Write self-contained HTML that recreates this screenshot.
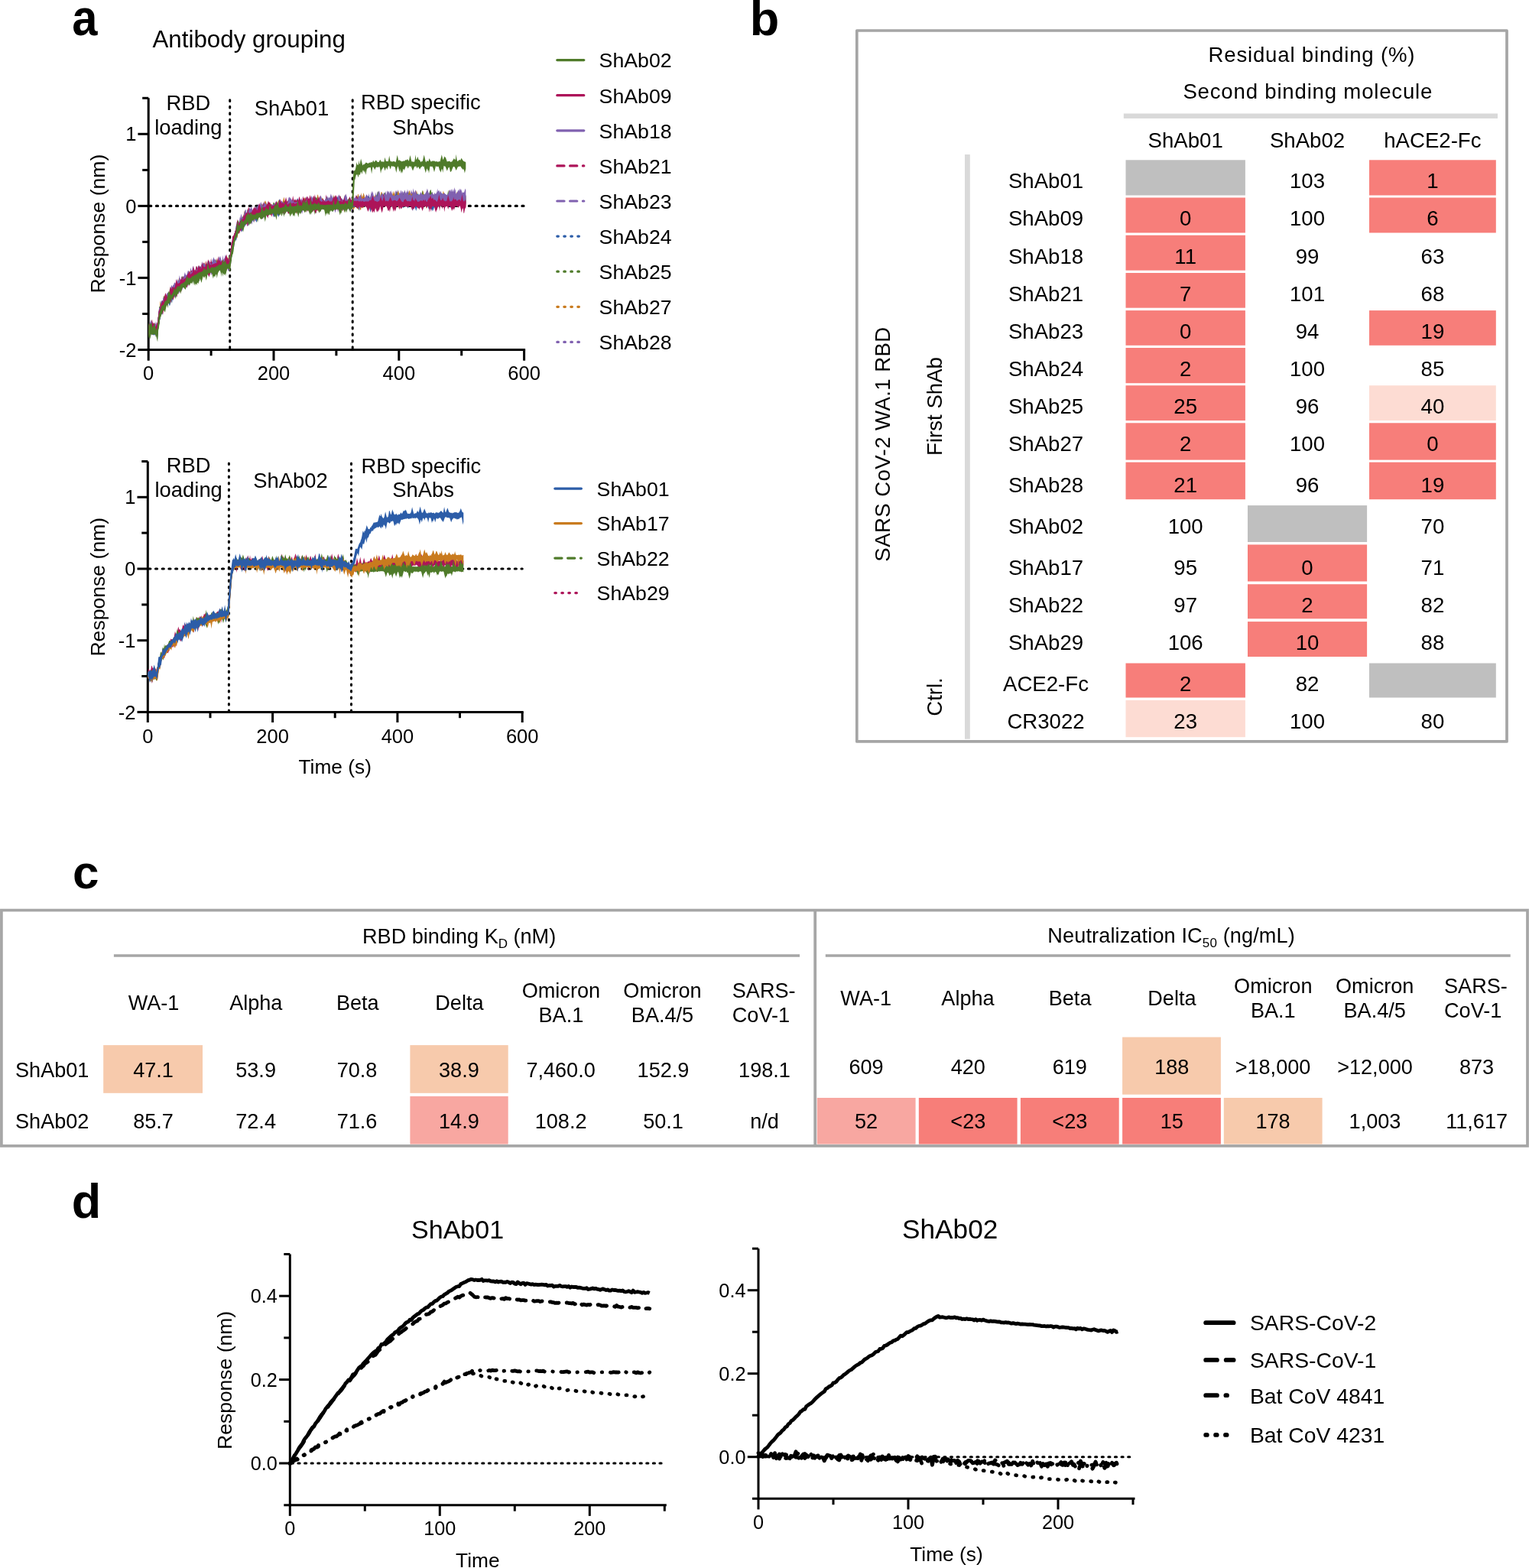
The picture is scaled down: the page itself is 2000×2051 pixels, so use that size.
<!DOCTYPE html>
<html><head><meta charset="utf-8"><title>Figure</title>
<style>html,body{margin:0;padding:0;background:#fff;overflow:hidden;} svg{display:block;}</style></head>
<body><svg width="2000" height="2051" viewBox="0 0 2000 2051" font-family="'Liberation Sans', Arial, Helvetica, sans-serif">
<rect width="2000" height="2051" fill="#fff"/>
<text transform="translate(94.2,46.2) scale(0.905,1)" font-size="66" font-weight="bold">a</text>
<text x="199.5" y="62.0" font-size="31.3" text-anchor="start" fill="#000" >Antibody grouping</text>
<line x1="194.2" y1="128.3" x2="194.2" y2="459.0" stroke="#000" stroke-width="3" />
<line x1="180.4" y1="175.3" x2="194.2" y2="175.3" stroke="#000" stroke-width="3" />
<line x1="180.4" y1="269.4" x2="194.2" y2="269.4" stroke="#000" stroke-width="3" />
<line x1="180.4" y1="363.4" x2="194.2" y2="363.4" stroke="#000" stroke-width="3" />
<line x1="180.4" y1="457.5" x2="194.2" y2="457.5" stroke="#000" stroke-width="3" />
<line x1="186.2" y1="128.3" x2="194.2" y2="128.3" stroke="#000" stroke-width="3" />
<line x1="186.2" y1="222.4" x2="194.2" y2="222.4" stroke="#000" stroke-width="3" />
<line x1="186.2" y1="316.4" x2="194.2" y2="316.4" stroke="#000" stroke-width="3" />
<line x1="186.2" y1="410.5" x2="194.2" y2="410.5" stroke="#000" stroke-width="3" />
<line x1="192.7" y1="457.5" x2="687.1" y2="457.5" stroke="#000" stroke-width="3" />
<line x1="194.2" y1="457.5" x2="194.2" y2="471.7" stroke="#000" stroke-width="3" />
<line x1="358.0" y1="457.5" x2="358.0" y2="471.7" stroke="#000" stroke-width="3" />
<line x1="521.8" y1="457.5" x2="521.8" y2="471.7" stroke="#000" stroke-width="3" />
<line x1="685.6" y1="457.5" x2="685.6" y2="471.7" stroke="#000" stroke-width="3" />
<line x1="276.1" y1="457.5" x2="276.1" y2="465.3" stroke="#000" stroke-width="3" />
<line x1="439.9" y1="457.5" x2="439.9" y2="465.3" stroke="#000" stroke-width="3" />
<line x1="603.7" y1="457.5" x2="603.7" y2="465.3" stroke="#000" stroke-width="3" />
<text x="178.4" y="184.4" font-size="25.5" text-anchor="end" fill="#000" >1</text>
<text x="178.4" y="278.5" font-size="25.5" text-anchor="end" fill="#000" >0</text>
<text x="178.4" y="372.6" font-size="25.5" text-anchor="end" fill="#000" >-1</text>
<text x="178.4" y="466.6" font-size="25.5" text-anchor="end" fill="#000" >-2</text>
<text x="194.2" y="496.6" font-size="25.5" text-anchor="middle" fill="#000" >0</text>
<text x="358.0" y="496.6" font-size="25.5" text-anchor="middle" fill="#000" >200</text>
<text x="521.8" y="496.6" font-size="25.5" text-anchor="middle" fill="#000" >400</text>
<text x="685.6" y="496.6" font-size="25.5" text-anchor="middle" fill="#000" >600</text>
<line x1="195.7" y1="269.4" x2="685.6" y2="269.4" stroke="#000" stroke-width="3.1" stroke-dasharray="2.1 6.6" stroke-linecap="round"/>
<line x1="300.7" y1="130.7" x2="300.7" y2="456.5" stroke="#000" stroke-width="3" stroke-dasharray="1.7 6.8" stroke-linecap="round"/>
<line x1="461.2" y1="130.7" x2="461.2" y2="456.5" stroke="#000" stroke-width="3" stroke-dasharray="1.7 6.8" stroke-linecap="round"/>
<path d="M194.2 427.2 194.9 426.5 195.6 424.6 196.3 422.7 197 420.9 197.7 422.8 198.4 424.8 199.1 424.8 199.8 424.3 200.5 426.4 201.2 427.2 201.9 427.7 202.6 428.7 203.3 427.6 204 427.1 204.7 426.1 205.4 427.4 206.1 426.4 206.8 418.2 207.5 409.9 208.2 406.4 208.9 404.8 209.6 402.7 210.3 399.8 211 396.9 211.7 394.2 212.4 394.6 213.1 394.9 213.8 395.3 214.5 393.9 215.2 391 215.9 384.4 216.6 389 217.3 388.3 218 385.6 218.7 383 219.4 383.7 220.1 384.4 220.8 385.2 221.5 384.1 222.2 384.2 222.9 382.8 223.6 381.8 224.3 380.7 225 377.9 225.7 375 226.4 372.2 227.1 373.4 227.8 374.7 228.5 376 229.2 375.5 229.9 375 230.6 375 231.3 369.5 232 364.2 232.7 368.1 233.4 370.8 234.1 370.7 234.8 370.1 235.5 370.2 236.2 368.6 236.9 368.6 237.6 368 238.3 367.8 239 367.1 239.7 365.7 240.4 362.5 241.1 359.3 241.8 356.1 242.5 358.2 243.2 360.1 243.9 361.4 244.6 363.2 245.3 361.6 246 359.8 246.7 358.1 247.4 357.4 248.1 355.8 248.8 354.2 249.5 349.8 250.2 353.4 250.9 356.9 251.6 356.9 252.3 357 253 356.7 253.7 355.5 254.4 353 255.1 354.7 255.8 354.9 256.5 354.7 257.2 354.4 257.9 352 258.6 349.6 259.3 347.3 260 348.9 260.7 350.6 261.4 352.3 262.1 351.5 262.8 351.7 263.5 351.7 264.2 351.2 264.9 350.7 265.6 350.7 266.3 349.9 267 350.5 267.7 350.1 268.4 349.1 269.1 349.3 269.8 347.4 270.5 345.6 271.2 343.7 271.9 345.1 272.6 346.4 273.3 347.8 274 347.7 274.7 347.5 275.4 346.5 276.1 347.4 276.8 346.1 277.5 347.1 278.2 346.7 278.9 345.8 279.6 345.3 280.3 343.5 281 341.4 281.7 339.4 282.4 341.1 283.1 340.8 283.8 338.6 284.5 340.4 285.2 342.2 285.9 344.1 286.6 343.6 287.3 343.6 288 342.7 288.7 343.4 289.4 343.6 290.1 343.4 290.8 339.7 291.5 333.5 292.2 339.4 292.9 339.4 293.6 337.6 294.3 339.1 295 340.5 295.7 341.9 296.4 341.7 297.1 341.7 297.8 341.9 298.5 341.2 299.2 341.3 299.9 338.9 300.6 336.1 301.3 328.1 302 325.6 302.7 323.5 303.4 321.8 304.1 317.9 304.8 315.8 305.5 311.7 306.2 308.1 306.9 306.7 307.6 303 308.3 298.5 309 294.3 309.7 290.1 310.4 291 311.1 292 311.8 293.1 312.5 292.5 313.2 288.1 313.9 283.4 314.6 286.1 315.3 289.6 316 287.7 316.7 288 317.4 286.4 318.1 285.2 318.8 284.2 319.5 282.9 320.2 281.4 320.9 275.3 321.6 273.8 322.3 277.8 323 278 323.7 272.7 324.4 277 325.1 281.1 325.8 279.7 326.5 279.8 327.2 279.3 327.9 278.6 328.6 278.5 329.3 277.9 330 278.7 330.7 278.3 331.4 276.9 332.1 277.4 332.8 277.1 333.5 277.1 334.2 274.9 334.9 272.5 335.6 270 336.3 269.8 337 269.7 337.7 266.5 338.4 269.2 339.1 272 339.8 274.4 340.5 272.9 341.2 271.3 341.9 266.7 342.6 270.9 343.3 272.1 344 272.7 344.7 272.7 345.4 272 346.1 271.8 346.8 271.1 347.5 267.7 348.2 264.2 348.9 267.3 349.6 270.4 350.3 271 351 271.2 351.7 270.1 352.4 270.4 353.1 270.2 353.8 269.4 354.5 270.1 355.2 271 355.9 269.9 356.6 270.5 357.3 269 358 269.1 358.7 269.5 359.4 269.1 360.1 268.5 360.8 268.8 361.5 268 362.2 268.6 362.9 267.9 363.6 267.6 364.3 267.4 365 267.6 365.7 266.6 366.4 265.7 367.1 263.9 367.8 265.9 368.5 267.1 369.2 268.1 369.9 267.4 370.6 267.4 371.3 267.2 372 267.4 372.7 266.9 373.4 266.1 374.1 266.9 374.8 266.5 375.5 266.2 376.2 266.5 376.9 265.5 377.6 264.5 378.3 263.5 379 264.3 379.7 265.2 380.4 265.7 381.1 265.8 381.8 266.1 382.5 265.6 383.2 265.9 383.9 266.5 384.6 266.6 385.3 266.1 386 265.3 386.7 266 387.4 263.1 388.1 259.5 388.8 263 389.5 264.7 390.2 263.4 390.9 262.1 391.6 260.7 392.3 262 393 263.2 393.7 262.3 394.4 258.5 395.1 262.2 395.8 262.4 396.5 256.6 397.2 262.3 397.9 264.1 398.6 261.7 399.3 259.4 400 257.1 400.7 259.4 401.4 258.2 402.1 260.8 402.8 263.4 403.5 264 404.2 263.5 404.9 262.8 405.6 260.6 406.3 262.7 407 261.9 407.7 260 408.4 259.3 409.1 256.5 409.8 259.2 410.5 261.9 411.2 263.4 411.9 264.4 412.6 264 413.3 263.3 414 260.5 414.7 257.7 415.4 254.9 416.1 257.7 416.8 260.4 417.5 263.2 418.2 264.6 418.9 264.2 419.6 263.6 420.3 264 421 264.4 421.7 264.4 422.4 262.6 423.1 263.4 423.8 263.6 424.5 262.9 425.2 261.6 425.9 260.3 426.6 260.5 427.3 258.1 428 255.7 428.7 258 429.4 260.4 430.1 262.8 430.8 263.6 431.5 264.1 432.2 263.1 432.9 260.9 433.6 257.8 434.3 260.9 435 263.5 435.7 263.6 436.4 263.9 437.1 264.1 437.8 262.6 438.5 263.1 439.2 264.2 439.9 264.3 440.6 262.7 441.3 259.7 442 255.6 442.7 259.7 443.4 264 444.1 263.4 444.8 264.6 445.5 263.9 446.2 263.5 446.9 263.2 447.6 263.9 448.3 263.6 449 263.3 449.7 263.3 450.4 263.1 451.1 263.4 451.8 263.1 452.5 260.6 453.2 256.9 453.9 260.5 454.6 263.2 455.3 263 456 262.9 456.7 263 457.4 263.2 458.1 263.3 458.8 263.4 459.5 264 460.2 263.2 460.9 262.8 461.6 263.1 462.3 263.2 463 261.8 463.7 259.8 464.4 260.9 465.1 261.5 465.8 259.9 466.5 256 467.2 259.6 467.9 263.4 468.6 262.5 469.3 261.1 470 261.9 470.7 262.3 471.4 261 472.1 259.9 472.8 258.5 473.5 257.6 474.2 258.5 474.9 255.8 475.6 253.1 476.3 255.6 477 258 477.7 258.6 478.4 259.3 479.1 259.9 479.8 258.6 480.5 256.1 481.2 257.8 481.9 256.6 482.6 252.7 483.3 257.4 484 259.9 484.7 258.4 485.4 257.4 486.1 255.9 486.8 254.4 487.5 255.7 488.2 257.1 488.9 258.4 489.6 258.6 490.3 259 491 257.9 491.7 256.7 492.4 255.6 493.1 253.9 493.8 250.3 494.5 253.8 495.2 252 495.9 249.2 496.6 251.8 497.3 254.5 498 257.1 498.7 258 499.4 258.8 500.1 258.5 500.8 258.1 501.5 258.8 502.2 258.2 502.9 257.6 503.6 256.8 504.3 257.5 505 257.5 505.7 254.4 506.4 249.8 507.1 249.5 507.8 253.9 508.5 257.3 509.2 256.5 509.9 255.5 510.6 254.5 511.3 255.4 512 255.2 512.7 256 513.4 256.8 514.1 257.3 514.8 256.9 515.5 257 516.2 254.5 516.9 252.1 517.6 249.7 518.3 249 519 251.4 519.7 250.7 520.4 248.1 521.1 250.7 521.8 253.2 522.5 255.7 523.2 255.4 523.9 252.3 524.6 255.3 525.3 253.7 526 251.6 526.7 249.4 527.4 251.5 528.1 253.6 528.8 255.7 529.5 255 530.2 253.9 530.9 254.9 531.6 255.9 532.3 252.2 533 247.1 533.7 252.1 534.4 249.2 535.1 254 535.8 256.4 536.5 257.6 537.2 253.3 537.9 247.8 538.6 250.7 539.3 251.4 540 253.1 540.7 250 541.4 253.4 542.1 256.2 542.8 255.8 543.5 255.7 544.2 256 544.9 256.4 545.6 256.1 546.3 256 547 255.6 547.7 255.8 548.4 256.3 549.1 256.6 549.8 256.1 550.5 256.2 551.2 256.4 551.9 255.6 552.6 255.1 553.3 254.6 554 254.1 554.7 254.6 555.4 254.6 556.1 255.5 556.8 254.3 557.5 251.6 558.2 249 558.9 246.4 559.6 249 560.3 251.6 561 253.5 561.7 251.2 562.4 249 563.1 251.2 563.8 253.4 564.5 255.1 565.2 255.3 565.9 255.6 566.6 255.3 567.3 256.1 568 254.9 568.7 256 569.4 255.1 570.1 254.3 570.8 253.6 571.5 254.3 572.2 254.9 572.9 254.2 573.6 253 574.3 254.1 575 253.7 575.7 251.6 576.4 249.6 577.1 251.6 577.8 253.7 578.5 255.4 579.2 255.3 579.9 255.6 580.6 254.7 581.3 255.7 582 255 582.7 255.6 583.4 255.7 584.1 255 584.8 254.7 585.5 255.3 586.2 254.7 586.9 254 587.6 254.7 588.3 255.1 589 254.5 589.7 254.7 590.4 255.1 591.1 253.6 591.8 252.1 592.5 250.7 593.2 252.1 593.9 251 594.6 252.5 595.3 253.9 596 254.5 596.7 255.8 597.4 256 598.1 256 598.8 254.6 599.5 255.4 600.2 254.7 600.9 252.1 601.6 249.4 602.3 246.7 603 249.4 603.7 252 604.4 254.7 605.1 255 605.8 254.9 606.5 255.3 607.2 255.6 607.9 255.1 608.6 255.4 609.3 254.4 609.3 261.6 608.6 261.7 607.9 261.8 607.2 261.4 606.5 262.3 605.8 262.5 605.1 261.7 604.4 261.6 603.7 262.1 603 262.5 602.3 262.3 601.6 263 600.9 263.8 600.2 263 599.5 263.8 598.8 266.2 598.1 268.7 597.4 269.9 596.7 267.5 596 265.2 595.3 262.8 594.6 260.9 593.9 264.4 593.2 267.8 592.5 271.1 591.8 267.8 591.1 264.4 590.4 262 589.7 261.2 589 261.7 588.3 260.5 587.6 261.7 586.9 262.1 586.2 261.7 585.5 261.7 584.8 263.5 584.1 266.1 583.4 268.7 582.7 266.1 582 263.5 581.3 263.6 580.6 262.8 579.9 262.1 579.2 261.3 578.5 261.4 577.8 261.7 577.1 260.9 576.4 261.5 575.7 262.5 575 261.4 574.3 262 573.6 264.9 572.9 269.3 572.2 264.9 571.5 265 570.8 267.3 570.1 265.1 569.4 265.2 568.7 267.5 568 265.3 567.3 264.2 566.6 263.1 565.9 263.2 565.2 265.3 564.5 269.4 563.8 265.3 563.1 262.7 562.4 262.3 561.7 262 561 261.3 560.3 262.7 559.6 262.3 558.9 262 558.2 262.4 557.5 262.2 556.8 262.8 556.1 263.5 555.4 266.3 554.7 269.1 554 266.3 553.3 263.5 552.6 262.8 551.9 263.3 551.2 262.3 550.5 263.6 549.8 264.8 549.1 263.6 548.4 262.4 547.7 262.2 547 261.9 546.3 262.4 545.6 263.1 544.9 262.6 544.2 262.1 543.5 261.8 542.8 263.1 542.1 262.9 541.4 263.4 540.7 265.1 540 266.9 539.3 268.6 538.6 266.9 537.9 267.4 537.2 270 536.5 267.5 535.8 265 535.1 263.4 534.4 262.8 533.7 263 533 263.1 532.3 263.2 531.6 264.1 530.9 264.9 530.2 265.8 529.5 265 528.8 264.2 528.1 263.4 527.4 261.9 526.7 263.6 526 264.8 525.3 263.7 524.6 263.4 523.9 263.2 523.2 263.7 522.5 264.2 521.8 264.8 521.1 264.3 520.4 263.8 519.7 263 519 263.5 518.3 263.3 517.6 263.4 516.9 263.6 516.2 263.2 515.5 264.2 514.8 263.1 514.1 263.6 513.4 264.3 512.7 263.3 512 263.9 511.3 263.4 510.6 265.8 509.9 268.9 509.2 271.9 508.5 269 507.8 270.5 507.1 273 506.4 270.6 505.7 268.2 505 265.9 504.3 265.7 503.6 267.4 502.9 269.2 502.2 267.5 501.5 265.9 500.8 264.1 500.1 265.6 499.4 265.3 498.7 264.8 498 265.1 497.3 266.1 496.6 267 495.9 267.9 495.2 267.4 494.5 266.4 493.8 265.5 493.1 264.9 492.4 265.4 491.7 265.1 491 265.7 490.3 265.2 489.6 265.6 488.9 266.6 488.2 267.6 487.5 268.6 486.8 267.7 486.1 267.5 485.4 266.8 484.7 266.6 484 267.5 483.3 268.4 482.6 269.3 481.9 268.5 481.2 267.8 480.5 267.1 479.8 267.7 479.1 266.9 478.4 267.9 477.7 269 477 268.1 476.3 267.3 475.6 267.5 474.9 267.8 474.2 267.7 473.5 267.7 472.8 268.5 472.1 269.7 471.4 271 470.7 272.2 470 271.2 469.3 270.2 468.6 269.1 467.9 268.5 467.2 268.4 466.5 268.8 465.8 268.6 465.1 268.1 464.4 269.2 463.7 269.3 463 269 462.3 269.6 461.6 270.4 460.9 269.9 460.2 270.5 459.5 272.3 458.8 274 458.1 275.8 457.4 274 456.7 272.3 456 270.5 455.3 269.4 454.6 269.3 453.9 269.9 453.2 271.2 452.5 272.5 451.8 271.2 451.1 271.8 450.4 276 449.7 271.8 449 270.4 448.3 271.6 447.6 272.8 446.9 272.8 446.2 274 445.5 275.8 444.8 278.2 444.1 275.8 443.4 273.4 442.7 272.9 442 271.9 441.3 272.6 440.6 274.2 439.9 272.8 439.2 275.7 438.5 278.5 437.8 275.7 437.1 272.9 436.4 270.5 435.7 270.7 435 271.2 434.3 271.8 433.6 271.4 432.9 270.8 432.2 270.3 431.5 274.6 430.8 279.1 430.1 274.7 429.4 276.5 428.7 274.2 428 274.7 427.3 273.5 426.6 275.4 425.9 277.7 425.2 275.4 424.5 273.1 423.8 270.9 423.1 269.5 422.4 269.7 421.7 270.4 421 271 420.3 273.7 419.6 276.7 418.9 274.3 418.2 278.2 417.5 274.3 416.8 269.7 416.1 270.6 415.4 271.6 414.7 270.3 414 274.4 413.3 280.1 412.6 274.4 411.9 271.6 411.2 272.2 410.5 272.9 409.8 276.4 409.1 272.9 408.4 270.6 407.7 272 407 270.4 406.3 271.1 405.6 274.2 404.9 279.4 404.2 274.3 403.5 271.6 402.8 271.3 402.1 273 401.4 275.5 400.7 278 400 275.5 399.3 273.1 398.6 271.8 397.9 271.6 397.2 271.2 396.5 271.1 395.8 271.8 395.1 275.1 394.4 278.4 393.7 275.2 393 272 392.3 272.3 391.6 272.4 390.9 273.6 390.2 274.8 389.5 276 388.8 274.9 388.1 274.4 387.4 275.9 386.7 274.5 386 273.2 385.3 273.1 384.6 272.2 383.9 271.9 383.2 272.7 382.5 272.2 381.8 272.9 381.1 273.5 380.4 274.4 379.7 276.1 379 277.8 378.3 276.2 377.6 274.7 376.9 276.9 376.2 274.5 375.5 273.3 374.8 273.8 374.1 275.7 373.4 277.6 372.7 279.5 372 277.8 371.3 276 370.6 274.3 369.9 274.8 369.2 272.7 368.5 273.8 367.8 274.4 367.1 277 366.4 279.6 365.7 282.2 365 279.8 364.3 277.4 363.6 275 362.9 275.5 362.2 276.2 361.5 276.8 360.8 276.4 360.1 276 359.4 278.1 358.7 281.3 358 284.6 357.3 281.6 356.6 281.4 355.9 278.6 355.2 277.8 354.5 278.7 353.8 280.7 353.1 279.2 352.4 280.6 351.7 280.8 351 279 350.3 281.4 349.6 284.4 348.9 281.8 348.2 282.1 347.5 284.1 346.8 282.4 346.1 280.8 345.4 279.2 344.7 279.6 344 279.3 343.3 279 342.6 283 341.9 286.8 341.2 283.4 340.5 284.5 339.8 282.4 339.1 279.8 338.4 281.2 337.7 280.3 337 281.6 336.3 284.2 335.6 287 334.9 289.7 334.2 287.5 333.5 289.8 332.8 287.4 332.1 285 331.4 285 330.7 287.9 330 290.8 329.3 293.7 328.6 291.5 327.9 290.2 327.2 292.8 326.5 291.7 325.8 294.3 325.1 292.5 324.4 295.7 323.7 296 323 292.5 322.3 289.1 321.6 289.9 320.9 290.1 320.2 290.2 319.5 289.9 318.8 293.4 318.1 296.2 317.4 294.7 316.7 296.7 316 300.4 315.3 304.1 314.6 302.1 313.9 300.2 313.2 298.3 312.5 299.2 311.8 300.5 311.1 302.2 310.4 303.3 309.7 305.5 309 307.6 308.3 310.7 307.6 314 306.9 315 306.2 316.3 305.5 318.5 304.8 320.3 304.1 324.2 303.4 328.4 302.7 333.9 302 341 301.3 345.9 300.6 353.6 299.9 351.4 299.2 349.1 298.5 348.4 297.8 348.1 297.1 347.8 296.4 348.1 295.7 348.6 295 351.5 294.3 354.3 293.6 351.7 292.9 349.1 292.2 349.6 291.5 350.3 290.8 352.5 290.1 354.7 289.4 356.9 288.7 355 288 353.1 287.3 351.2 286.6 350.5 285.9 351.9 285.2 353.2 284.5 355.3 283.8 353.6 283.1 351.8 282.4 353 281.7 355.3 281 354.9 280.3 358.9 279.6 355.3 278.9 353.7 278.2 352.9 277.5 354.3 276.8 356.4 276.1 359.1 275.4 356.9 274.7 354.6 274 354.4 273.3 354.2 272.6 354.2 271.9 354 271.2 355.2 270.5 354.9 269.8 355.4 269.1 356.2 268.4 355.8 267.7 356.4 267 356.6 266.3 355.9 265.6 356.6 264.9 357.6 264.2 357.4 263.5 358.1 262.8 357.6 262.1 358.8 261.4 359.2 260.7 360.7 260 362.3 259.3 361.5 258.6 364.2 257.9 366.9 257.2 369.7 256.5 367.6 255.8 365.6 255.1 363.7 254.4 365.1 253.7 366.6 253 365.9 252.3 365.3 251.6 365.7 250.9 365.7 250.2 367 249.5 368.3 248.8 368.6 248.1 367.4 247.4 367 246.7 367.5 246 368 245.3 367.9 244.6 368.4 243.9 370.3 243.2 369.8 242.5 371.3 241.8 373.3 241.1 375.2 240.4 374.4 239.7 377.2 239 375.5 238.3 373.8 237.6 374.9 236.9 374.6 236.2 374.6 235.5 376.8 234.8 378.9 234.1 381.1 233.4 380.2 232.7 382 232 385.3 231.3 388.6 230.6 386.7 229.9 384.8 229.2 382.9 228.5 382.5 227.8 384.1 227.1 384.5 226.4 385.9 225.7 385.9 225 386.9 224.3 387.3 223.6 389.4 222.9 389.6 222.2 389.8 221.5 392.3 220.8 394.8 220.1 397.4 219.4 396.7 218.7 396 218 395.1 217.3 396.7 216.6 398 215.9 399 215.2 400.2 214.5 401.3 213.8 401.7 213.1 403.4 212.4 403.7 211.7 404.9 211 407.1 210.3 409.1 209.6 411.3 208.9 412.4 208.2 414.4 207.5 418.9 206.8 428 206.1 435.4 205.4 435.1 204.7 434.9 204 437 203.3 440.6 202.6 436.7 201.9 434.2 201.2 433.7 200.5 435 199.8 434.1 199.1 434 198.4 433.8 197.7 433.4 197 433.1 196.3 433.1 195.6 433.2 194.9 433.4 194.2 433.8Z" fill="#8061b0"/>
<polyline points="194.2,430.2 196.3,430.3 198.4,430.4 200.5,430.7 202.6,431.1 204.7,431.6 206.8,424.9 208.9,408.1 211,403.4 213.1,399.9 215.2,396.7 217.3,393.6 219.4,390.7 221.5,387.9 223.6,385.3 225.7,382.8 227.8,380.4 229.9,378.2 232,376.1 234.1,374 236.2,372.1 238.3,370.3 240.4,368.6 242.5,367 244.6,365.5 246.7,364 248.8,362.7 250.9,361.4 253,360.1 255.1,358.9 257.2,357.8 259.3,356.8 261.4,355.8 263.5,354.8 265.6,353.9 267.7,353.1 269.8,352.3 271.9,351.5 274,350.8 276.1,350.1 278.2,349.5 280.3,348.9 282.4,348.3 284.5,347.7 286.6,347.2 288.7,346.7 290.8,346.3 292.9,345.8 295,345.4 297.1,345 299.2,344.6 301.3,339.1 303.4,324.8 305.5,314.6 307.6,307.1 309.7,301.5 311.8,297.3 313.9,293.9 316,291.2 318.1,289 320.2,287.2 322.3,285.6 324.4,284.2 326.5,282.9 328.6,281.8 330.7,280.8 332.8,279.8 334.9,278.9 337,278.1 339.1,277.4 341.2,276.7 343.3,276 345.4,275.4 347.5,274.9 349.6,274.3 351.7,273.8 353.8,273.4 355.9,272.9 358,272.5 360.1,272.1 362.2,271.8 364.3,271.4 366.4,271.1 368.5,270.8 370.6,270.5 372.7,270.3 374.8,270 376.9,269.8 379,269.6 381.1,269.4 383.2,269.2 385.3,269 387.4,268.8 389.5,268.7 391.6,268.5 393.7,268.4 395.8,268.3 397.9,268.1 400,268 402.1,267.9 404.2,267.8 406.3,267.7 408.4,267.6 410.5,267.5 412.6,267.5 414.7,267.4 416.8,267.3 418.9,267.3 421,267.2 423.1,267.1 425.2,267.1 427.3,267 429.4,267 431.5,267 433.6,266.9 435.7,266.9 437.8,266.8 439.9,266.8 442,266.8 444.1,266.7 446.2,266.7 448.3,266.7 450.4,266.7 452.5,266.6 454.6,266.6 456.7,266.6 458.8,266.6 460.9,266.6 463,266.2 465.1,265.8 467.2,265.4 469.3,265 471.4,264.7 473.5,264.4 475.6,264.1 477.7,263.8 479.8,263.5 481.9,263.2 484,263 486.1,262.7 488.2,262.5 490.3,262.3 492.4,262.1 494.5,261.9 496.6,261.7 498.7,261.5 500.8,261.3 502.9,261.2 505,261 507.1,260.9 509.2,260.7 511.3,260.6 513.4,260.5 515.5,260.4 517.6,260.2 519.7,260.1 521.8,260 523.9,259.9 526,259.8 528.1,259.8 530.2,259.7 532.3,259.6 534.4,259.5 536.5,259.5 538.6,259.4 540.7,259.3 542.8,259.3 544.9,259.2 547,259.2 549.1,259.1 551.2,259.1 553.3,259 555.4,259 557.5,258.9 559.6,258.9 561.7,258.8 563.8,258.8 565.9,258.8 568,258.7 570.1,258.7 572.2,258.7 574.3,258.6 576.4,258.6 578.5,258.6 580.6,258.6 582.7,258.5 584.8,258.5 586.9,258.5 589,258.5 591.1,258.5 593.2,258.5 595.3,258.4 597.4,258.4 599.5,258.4 601.6,258.4 603.7,258.4 605.8,258.4 607.9,258.3" fill="none" stroke="#8061b0" stroke-width="2.2" stroke-linejoin="round"/>
<path d="M194.2 426.5 194.9 426.5 195.6 426 196.3 425.5 197 426.3 197.7 423.4 198.4 417.5 199.1 423.6 199.8 427 200.5 426.7 201.2 426.6 201.9 426.6 202.6 426.4 203.3 427.4 204 427.9 204.7 426.5 205.4 425.4 206.1 424.4 206.8 418.6 207.5 410.4 208.2 407.3 208.9 400 209.6 393.4 210.3 396.6 211 399.2 211.7 398.2 212.4 397.6 213.1 394.3 213.8 390.2 214.5 386.2 215.2 388.1 215.9 387.9 216.6 385.1 217.3 385.9 218 386.6 218.7 387.4 219.4 386.7 220.1 385.5 220.8 386 221.5 382.7 222.2 383 222.9 382.5 223.6 382 224.3 380.2 225 379.4 225.7 378.9 226.4 378 227.1 377 227.8 374.6 228.5 372.2 229.2 372.2 229.9 372.2 230.6 372.1 231.3 372.1 232 371.7 232.7 370.4 233.4 366.7 234.1 363 234.8 365.4 235.5 367.8 236.2 368.2 236.9 367.1 237.6 366.7 238.3 366.4 239 366.3 239.7 365.8 240.4 364.3 241.1 363.4 241.8 363.2 242.5 363.5 243.2 362.5 243.9 361.7 244.6 361.8 245.3 360.7 246 357.4 246.7 354.1 247.4 356.5 248.1 355.6 248.8 356.3 249.5 355.8 250.2 353.5 250.9 355 251.6 356.5 252.3 355.5 253 353.8 253.7 354.7 254.4 355.7 255.1 354.3 255.8 354.5 256.5 353.9 257.2 353.7 257.9 353.8 258.6 353.6 259.3 352.3 260 350.8 260.7 349.2 261.4 350.1 262.1 351 262.8 348.9 263.5 346.5 264.2 344.2 264.9 345.9 265.6 347.7 266.3 346.6 267 342.4 267.7 346.1 268.4 345.4 269.1 341.8 269.8 344.8 270.5 347.6 271.2 343.8 271.9 340.1 272.6 343.3 273.3 346.6 274 346.6 274.7 347.3 275.4 346 276.1 345.7 276.8 344.5 277.5 343.2 278.2 342 278.9 342.8 279.6 343.6 280.3 344.4 281 343.8 281.7 344.1 282.4 341.9 283.1 337.6 283.8 341.5 284.5 340.9 285.2 340.3 285.9 337.7 286.6 340 287.3 342.3 288 341.5 288.7 340.5 289.4 341.2 290.1 341.7 290.8 340.6 291.5 341.9 292.2 341.9 292.9 341.3 293.6 341.7 294.3 341 295 340.8 295.7 341.6 296.4 340.8 297.1 338.2 297.8 335.6 298.5 337.8 299.2 339.3 299.9 339 300.6 335.8 301.3 327.4 302 325 302.7 321.1 303.4 318.6 304.1 315.2 304.8 310.6 305.5 308.8 306.2 306.7 306.9 304.8 307.6 302.9 308.3 301.2 309 298.5 309.7 297.7 310.4 295.4 311.1 294.3 311.8 293.6 312.5 292 313.2 291.2 313.9 289.4 314.6 287.9 315.3 287 316 287.3 316.7 285.5 317.4 285.4 318.1 285.5 318.8 280.5 319.5 275.3 320.2 279.3 320.9 282.1 321.6 281.4 322.3 281.2 323 279.9 323.7 277.2 324.4 274.6 325.1 272 325.8 273.7 326.5 275.5 327.2 277.3 327.9 278.3 328.6 277.5 329.3 277.8 330 277.3 330.7 276.5 331.4 275.7 332.1 275 332.8 275.1 333.5 275.2 334.2 274.8 334.9 275 335.6 274.3 336.3 274.1 337 273.7 337.7 274.9 338.4 274.1 339.1 272.9 339.8 273.1 340.5 271.7 341.2 270.3 341.9 268.3 342.6 266.3 343.3 267.8 344 269.4 344.7 268.5 345.4 265.3 346.1 262.1 346.8 264.9 347.5 262.3 348.2 265.5 348.9 268.7 349.6 269.8 350.3 270.2 351 269.5 351.7 268.1 352.4 266.7 353.1 265.3 353.8 266.4 354.5 267 355.2 268 355.9 268.3 356.6 268.5 357.3 267.9 358 267.9 358.7 267.9 359.4 268.2 360.1 268.5 360.8 268 361.5 268 362.2 267.5 362.9 266 363.6 263.6 364.3 261.1 365 263.3 365.7 265.6 366.4 267.1 367.1 266.4 367.8 266.8 368.5 267.2 369.2 266.4 369.9 264 370.6 260.7 371.3 257.5 372 260.6 372.7 263.6 373.4 262.1 374.1 260.3 374.8 261.9 375.5 263.6 376.2 265.3 376.9 265.9 377.6 265.5 378.3 265.6 379 266.5 379.7 266.1 380.4 266 381.1 264.2 381.8 265.2 382.5 265.2 383.2 265.3 383.9 264.5 384.6 264.9 385.3 264 386 264.4 386.7 263.9 387.4 263 388.1 261.9 388.8 262.8 389.5 263.8 390.2 265.3 390.9 264.7 391.6 264.8 392.3 264.6 393 263.7 393.7 263.5 394.4 263 395.1 262.5 395.8 262.9 396.5 263.4 397.2 262.9 397.9 260.2 398.6 257.4 399.3 260.1 400 262.8 400.7 262.8 401.4 263.8 402.1 262.9 402.8 262.7 403.5 262.2 404.2 262.6 404.9 263.1 405.6 263.4 406.3 263.7 407 264.2 407.7 263.5 408.4 263.1 409.1 263.1 409.8 263.1 410.5 262.9 411.2 263.9 411.9 263.4 412.6 263.2 413.3 262.8 414 263.2 414.7 259.8 415.4 254.2 416.1 255.3 416.8 259.8 417.5 263.2 418.2 261.9 418.9 263 419.6 264 420.3 262.8 421 260.5 421.7 258.3 422.4 259.8 423.1 261.5 423.8 262.8 424.5 262.6 425.2 262.5 425.9 262.8 426.6 263.3 427.3 262.9 428 262.7 428.7 262.8 429.4 261.9 430.1 260.9 430.8 260 431.5 260.9 432.2 261.8 432.9 262.8 433.6 262.8 434.3 262.1 435 262.6 435.7 260.1 436.4 254.3 437.1 260.1 437.8 262.5 438.5 263.1 439.2 262.5 439.9 263.2 440.6 262.6 441.3 262.7 442 262.2 442.7 262.8 443.4 262.5 444.1 262.1 444.8 261.7 445.5 261.3 446.2 261.7 446.9 262.1 447.6 262.5 448.3 262.3 449 262.4 449.7 262.2 450.4 259.7 451.1 253.8 451.8 259.7 452.5 262.5 453.2 263.1 453.9 262.4 454.6 262.3 455.3 263.5 456 262.5 456.7 263.2 457.4 262.2 458.1 261.8 458.8 261.9 459.5 263.2 460.2 261.8 460.9 262 461.6 262.5 462.3 262 463 261.4 463.7 262.2 464.4 261.9 465.1 262.1 465.8 261.1 466.5 262.6 467.2 258.2 467.9 254.4 468.6 253.4 469.3 257.3 470 258.7 470.7 259.8 471.4 260.6 472.1 256.7 472.8 251.9 473.5 256.6 474.2 258.2 474.9 255.1 475.6 252 476.3 255 477 258 477.7 259.5 478.4 258.4 479.1 257.4 479.8 258.3 480.5 259.2 481.2 260.3 481.9 259.8 482.6 261 483.3 259.8 484 260.1 484.7 260.4 485.4 260.3 486.1 259.1 486.8 259.4 487.5 260.3 488.2 257.9 488.9 255.1 489.6 257.8 490.3 256.2 491 254.3 491.7 256.1 492.4 257.9 493.1 258.6 493.8 258.7 494.5 259.9 495.2 258.5 495.9 259 496.6 258 497.3 257 498 254.1 498.7 251 499.4 251 500.1 253.6 500.8 256.3 501.5 258.5 502.2 259.4 502.9 258 503.6 259 504.3 259 505 258.3 505.7 258.4 506.4 258.8 507.1 259.1 507.8 259.1 508.5 259.3 509.2 258 509.9 258 510.6 257.6 511.3 258.2 512 258.3 512.7 258.1 513.4 254.1 514.1 250 514.8 254.1 515.5 249.4 516.2 254.5 516.9 259 517.6 258.8 518.3 258 519 257.7 519.7 254.3 520.4 250.6 521.1 249.8 521.8 252.5 522.5 255.2 523.2 255.6 523.9 252.8 524.6 255.6 525.3 257.1 526 259 526.7 257.9 527.4 258.2 528.1 257.7 528.8 257.6 529.5 257.7 530.2 257.7 530.9 258.6 531.6 258.9 532.3 257.3 533 257.5 533.7 255.6 534.4 253.1 535.1 250.6 535.8 248.6 536.5 251.4 537.2 254.3 537.9 252.7 538.6 254.3 539.3 252.8 540 254.5 540.7 256.2 541.4 257.5 542.1 254.3 542.8 250 543.5 254.3 544.2 251.8 544.9 249 545.6 251.8 546.3 254.5 547 257.3 547.7 257.7 548.4 257.3 549.1 258.4 549.8 257.9 550.5 258 551.2 258 551.9 255 552.6 252 553.3 249.1 554 252 554.7 255 555.4 258 556.1 258 556.8 256.8 557.5 253.9 558.2 250.9 558.9 253.9 559.6 256.3 560.3 257.3 561 256.4 561.7 254 562.4 251.6 563.1 249.3 563.8 251.6 564.5 254 565.2 256.4 565.9 256.2 566.6 254.7 567.3 256.2 568 257.7 568.7 257.5 569.4 258.7 570.1 258.2 570.8 257.7 571.5 258.3 572.2 257.4 572.9 257.3 573.6 257.6 574.3 258 575 257.8 575.7 258.1 576.4 257.9 577.1 257.6 577.8 257.1 578.5 255.1 579.2 252.3 579.9 249.6 580.6 252.3 581.3 255.1 582 256.9 582.7 256.4 583.4 255.9 584.1 256.4 584.8 256.9 585.5 256.3 586.2 254 586.9 251.4 587.6 248.8 588.3 251.4 589 254 589.7 256.6 590.4 258.7 591.1 256.8 591.8 255.3 592.5 255.8 593.2 254.6 593.9 253.4 594.6 254.6 595.3 255.8 596 257 596.7 253.7 597.4 250.5 598.1 253.7 598.8 256 599.5 255 600.2 254.3 600.9 252.2 601.6 254.3 602.3 256.3 603 255.8 603.7 256.8 604.4 257.5 605.1 257.3 605.8 254.9 606.5 252.4 607.2 254.9 607.9 257.3 608.6 257.2 609.3 257.5 609.3 270 608.6 268.7 607.9 267.1 607.2 265.5 606.5 264.5 605.8 264.2 605.1 264.5 604.4 265.5 603.7 266.4 603 265.5 602.3 264.5 601.6 264.3 600.9 265 600.2 265.1 599.5 264.4 598.8 264.4 598.1 263.9 597.4 263.4 596.7 264.7 596 264.1 595.3 264.2 594.6 264.9 593.9 265 593.2 264.7 592.5 265.2 591.8 267.3 591.1 269.3 590.4 267.3 589.7 265.2 589 264 588.3 265.4 587.6 264.4 586.9 264.2 586.2 264.7 585.5 265.6 584.8 266.8 584.1 265.6 583.4 267.4 582.7 270.6 582 267.4 581.3 264.1 580.6 263 579.9 264.8 579.2 264.3 578.5 264.9 577.8 266 577.1 267.2 576.4 268.4 575.7 267.2 575 266 574.3 265 573.6 264.5 572.9 264.3 572.2 264 571.5 264.4 570.8 264.2 570.1 264.1 569.4 264.4 568.7 265.1 568 267.6 567.3 270 566.6 267.6 565.9 265.1 565.2 267.1 564.5 269.8 563.8 272.5 563.1 269.8 562.4 267.1 561.7 264.4 561 263.7 560.3 264.8 559.6 264.9 558.9 265.7 558.2 268.9 557.5 273.5 556.8 268.9 556.1 265.8 555.4 269.3 554.7 265.9 554 264.3 553.3 264.2 552.6 264.9 551.9 264.5 551.2 265.6 550.5 267.6 549.8 270.4 549.1 267.6 548.4 264.9 547.7 264.1 547 264.3 546.3 264.1 545.6 264.8 544.9 264.5 544.2 264.7 543.5 264.1 542.8 264.6 542.1 264.7 541.4 264.4 540.7 264.2 540 265 539.3 264.2 538.6 264.6 537.9 263.5 537.2 265.3 536.5 263.8 535.8 264.4 535.1 264.6 534.4 264.8 533.7 264.2 533 265.1 532.3 264.9 531.6 264.1 530.9 264.6 530.2 264.6 529.5 265.1 528.8 264.7 528.1 265.1 527.4 265.5 526.7 266 526 268.7 525.3 271.4 524.6 268.7 523.9 266 523.2 264.7 522.5 268.9 521.8 273.1 521.1 268.9 520.4 264.8 519.7 264.6 519 264.8 518.3 264.3 517.6 264.4 516.9 265.1 516.2 264.4 515.5 265.1 514.8 264.9 514.1 264.5 513.4 264.9 512.7 265.3 512 265 511.3 266.8 510.6 268.7 509.9 270.5 509.2 272.9 508.5 268.8 507.8 265.1 507.1 265.7 506.4 265.6 505.7 265.7 505 264.6 504.3 266 503.6 266 502.9 265.7 502.2 266.5 501.5 267.2 500.8 266.5 500.1 268.6 499.4 270.7 498.7 272.8 498 270.7 497.3 268.7 496.6 266.6 495.9 265.2 495.2 266.8 494.5 268.6 493.8 268.3 493.1 270.1 492.4 270.3 491.7 274.6 491 270.4 490.3 266.5 489.6 267.3 488.9 266.6 488.2 266.8 487.5 268.4 486.8 270 486.1 271.7 485.4 270.1 484.7 268.6 484 267.1 483.3 267.5 482.6 268.1 481.9 267.6 481.2 267.2 480.5 266.9 479.8 266.3 479.1 266.8 478.4 266.7 477.7 267.5 477 267.8 476.3 269.4 475.6 271 474.9 272.7 474.2 271.2 473.5 269.7 472.8 270.5 472.1 274.6 471.4 274.7 470.7 272.7 470 270.8 469.3 272.4 468.6 274.6 467.9 272.5 467.2 272.9 466.5 271.2 465.8 269.5 465.1 269.6 464.4 270.9 463.7 272.3 463 273.1 462.3 275.1 461.6 273.3 460.9 271.5 460.2 269.5 459.5 269.1 458.8 268.5 458.1 269.3 457.4 269.1 456.7 267.4 456 268.5 455.3 268.9 454.6 269.3 453.9 269.9 453.2 268.6 452.5 269.1 451.8 270.5 451.1 274.3 450.4 278 449.7 274.3 449 274.4 448.3 276.5 447.6 274.4 446.9 276 446.2 274.1 445.5 272.2 444.8 270.3 444.1 269.5 443.4 268.6 442.7 269.8 442 271.2 441.3 272.6 440.6 271.2 439.9 271.5 439.2 269.9 438.5 272 437.8 275.7 437.1 272 436.4 268.7 435.7 268.4 435 270 434.3 269.2 433.6 269.5 432.9 269.7 432.2 269.2 431.5 268.8 430.8 269.2 430.1 267.9 429.4 272.3 428.7 278.2 428 272.3 427.3 269.2 426.6 270 425.9 269.6 425.2 270.7 424.5 272.3 423.8 270.8 423.1 269.8 422.4 271.5 421.7 274.2 421 271.5 420.3 270.6 419.6 270 418.9 270 418.2 270.5 417.5 272.7 416.8 275 416.1 277.3 415.4 275.1 414.7 272.8 414 275.2 413.3 277.6 412.6 275.2 411.9 272.9 411.2 270.6 410.5 272 409.8 273.5 409.1 272.1 408.4 270.7 407.7 269.3 407 272 406.3 275.4 405.6 278.9 404.9 275.5 404.2 272.1 403.5 269.2 402.8 269 402.1 271.1 401.4 273.3 400.7 275.6 400 277.8 399.3 275.6 398.6 273.5 397.9 271.3 397.2 270.3 396.5 270.6 395.8 270.4 395.1 270.5 394.4 271.2 393.7 270.7 393 270.5 392.3 270.5 391.6 270.6 390.9 271.3 390.2 273.6 389.5 275.8 388.8 278.1 388.1 276.8 387.4 280 386.7 276.9 386 273.8 385.3 271.1 384.6 270.9 383.9 271.4 383.2 271.6 382.5 271 381.8 270.8 381.1 271.6 380.4 271.8 379.7 273.2 379 274.6 378.3 273.5 377.6 276.2 376.9 273.6 376.2 273 375.5 272.7 374.8 273.1 374.1 275.8 373.4 278.5 372.7 281.1 372 278.6 371.3 276.1 370.6 273.6 369.9 272.6 369.2 274 368.5 275.9 367.8 277.8 367.1 279.7 366.4 278 365.7 276.3 365 274.6 364.3 274.4 363.6 273.9 362.9 275.1 362.2 274.1 361.5 274.2 360.8 274.4 360.1 274.2 359.4 275.4 358.7 274.7 358 275 357.3 274.3 356.6 274.5 355.9 277.5 355.2 280.7 354.5 277.7 353.8 279.6 353.1 282.2 352.4 279.9 351.7 277.5 351 276.1 350.3 277.3 349.6 277.3 348.9 276.2 348.2 276.7 347.5 277.8 346.8 278 346.1 278.5 345.4 278.3 344.7 278.2 344 277.6 343.3 278.1 342.6 278.5 341.9 280 341.2 283 340.5 286 339.8 283.4 339.1 280.9 338.4 279.3 337.7 280.4 337 280.6 336.3 281.1 335.6 281.5 334.9 280.9 334.2 281.9 333.5 285.5 332.8 291.2 332.1 286.1 331.4 282 330.7 282.3 330 282.6 329.3 283.9 328.6 284.4 327.9 285.1 327.2 287.9 326.5 290.8 325.8 288.7 325.1 286.7 324.4 286.8 323.7 287.3 323 288.6 322.3 290.1 321.6 293.5 320.9 291 320.2 293 319.5 292.1 318.8 291.3 318.1 290.8 317.4 293.3 316.7 295.7 316 298 315.3 297.3 314.6 296.6 313.9 300.2 313.2 305.1 312.5 302.3 311.8 303.4 311.1 307.4 310.4 311.6 309.7 310.4 309 309.3 308.3 310.5 307.6 312 306.9 315.7 306.2 316.8 305.5 318 304.8 318.4 304.1 324 303.4 327.6 302.7 331.7 302 339.7 301.3 348.2 300.6 350.2 299.9 347.6 299.2 346.2 298.5 347.1 297.8 347.4 297.1 348.7 296.4 352 295.7 349 295 352.6 294.3 356.5 293.6 352.9 292.9 349.3 292.2 348.1 291.5 348.4 290.8 349.5 290.1 349.1 289.4 349.6 288.7 350.1 288 349.9 287.3 349.8 286.6 350.5 285.9 349.5 285.2 350.6 284.5 349.7 283.8 349.5 283.1 350.7 282.4 350.7 281.7 351.5 281 352.6 280.3 355.9 279.6 359.2 278.9 356.3 278.2 353.4 277.5 352.2 276.8 352.9 276.1 354.4 275.4 355.8 274.7 357.2 274 356.3 273.3 355.3 272.6 354.3 271.9 353.8 271.2 353.8 270.5 354.3 269.8 354.7 269.1 354.7 268.4 355.5 267.7 355.3 267 356.5 266.3 356.9 265.6 356.4 264.9 356.5 264.2 356.1 263.5 356.8 262.8 357 262.1 357.1 261.4 357.5 260.7 358.5 260 358.5 259.3 359.1 258.6 360 257.9 359.9 257.2 360.9 256.5 359.9 255.8 361.1 255.1 362.1 254.4 361.8 253.7 362.8 253 362.6 252.3 363.3 251.6 362.9 250.9 363.3 250.2 363.7 249.5 364.7 248.8 365.2 248.1 365.6 247.4 366.7 246.7 366 246 365.9 245.3 367.5 244.6 368.3 243.9 368.6 243.2 369 242.5 369.3 241.8 370.5 241.1 370 240.4 371.1 239.7 371.3 239 372 238.3 372.2 237.6 373.4 236.9 374.6 236.2 375.7 235.5 376.9 234.8 377 234.1 379.8 233.4 385.4 232.7 381.1 232 380.5 231.3 380.6 230.6 380.6 229.9 380.7 229.2 381 228.5 382.5 227.8 386.1 227.1 389.6 226.4 387.6 225.7 392.2 225 388.8 224.3 388.5 223.6 391.1 222.9 393.7 222.2 392.8 221.5 391.9 220.8 391.5 220.1 391 219.4 393.1 218.7 394.8 218 397.4 217.3 401.4 216.6 399.4 215.9 399.9 215.2 400.4 214.5 400.9 213.8 401.5 213.1 402.4 212.4 403.8 211.7 405.6 211 407.8 210.3 408.2 209.6 412.7 208.9 419.1 208.2 419.9 207.5 425.2 206.8 431.7 206.1 440.8 205.4 438 204.7 435.7 204 435.4 203.3 436.3 202.6 437.3 201.9 436 201.2 434.8 200.5 433.6 199.8 432.4 199.1 431.8 198.4 433.5 197.7 434.8 197 433.4 196.3 433 195.6 431.7 194.9 431.7 194.2 432.5Z" fill="#c97b1f"/>
<polyline points="194.2,429.3 196.3,429.3 198.4,429.5 200.5,429.8 202.6,430.2 204.7,430.7 206.8,424 208.9,407.1 211,402.5 213.1,399 215.2,395.7 217.3,392.6 219.4,389.7 221.5,386.9 223.6,384.3 225.7,381.8 227.8,379.5 229.9,377.2 232,375.1 234.1,373.1 236.2,371.2 238.3,369.4 240.4,367.7 242.5,366.1 244.6,364.5 246.7,363.1 248.8,361.7 250.9,360.4 253,359.2 255.1,358 257.2,356.9 259.3,355.8 261.4,354.8 263.5,353.9 265.6,353 267.7,352.2 269.8,351.4 271.9,350.6 274,349.9 276.1,349.2 278.2,348.5 280.3,347.9 282.4,347.3 284.5,346.8 286.6,346.3 288.7,345.8 290.8,345.3 292.9,344.9 295,344.4 297.1,344 299.2,343.7 301.3,338.1 303.4,323.9 305.5,313.7 307.6,306.2 309.7,300.6 311.8,296.3 313.9,293 316,290.3 318.1,288.1 320.2,286.2 322.3,284.6 324.4,283.2 326.5,282 328.6,280.8 330.7,279.8 332.8,278.9 334.9,278 337,277.2 339.1,276.4 341.2,275.8 343.3,275.1 345.4,274.5 347.5,273.9 349.6,273.4 351.7,272.9 353.8,272.4 355.9,272 358,271.6 360.1,271.2 362.2,270.8 364.3,270.5 366.4,270.2 368.5,269.9 370.6,269.6 372.7,269.3 374.8,269.1 376.9,268.8 379,268.6 381.1,268.4 383.2,268.2 385.3,268.1 387.4,267.9 389.5,267.7 391.6,267.6 393.7,267.4 395.8,267.3 397.9,267.2 400,267.1 402.1,267 404.2,266.9 406.3,266.8 408.4,266.7 410.5,266.6 412.6,266.5 414.7,266.5 416.8,266.4 418.9,266.3 421,266.3 423.1,266.2 425.2,266.2 427.3,266.1 429.4,266.1 431.5,266 433.6,266 435.7,265.9 437.8,265.9 439.9,265.9 442,265.8 444.1,265.8 446.2,265.8 448.3,265.7 450.4,265.7 452.5,265.7 454.6,265.7 456.7,265.7 458.8,265.6 460.9,265.6 463,265.3 465.1,265 467.2,264.7 469.3,264.4 471.4,264.2 473.5,263.9 475.6,263.7 477.7,263.5 479.8,263.3 481.9,263.1 484,263 486.1,262.8 488.2,262.7 490.3,262.5 492.4,262.4 494.5,262.3 496.6,262.2 498.7,262.1 500.8,262 502.9,262 505,261.9 507.1,261.8 509.2,261.7 511.3,261.7 513.4,261.6 515.5,261.6 517.6,261.5 519.7,261.5 521.8,261.4 523.9,261.4 526,261.4 528.1,261.3 530.2,261.3 532.3,261.3 534.4,261.3 536.5,261.2 538.6,261.2 540.7,261.2 542.8,261.2 544.9,261.2 547,261.1 549.1,261.1 551.2,261.1 553.3,261.1 555.4,261.1 557.5,261.1 559.6,261.1 561.7,261.1 563.8,261 565.9,261 568,261 570.1,261 572.2,261 574.3,261 576.4,261 578.5,261 580.6,261 582.7,261 584.8,261 586.9,261 589,261 591.1,261 593.2,261 595.3,261 597.4,261 599.5,261 601.6,261 603.7,261 605.8,261 607.9,261" fill="none" stroke="#c97b1f" stroke-width="2.2" stroke-linejoin="round"/>
<path d="M194.2 420.5 194.9 423.9 195.6 424.4 196.3 423 197 424.4 197.7 425.8 198.4 427.2 199.1 428.9 199.8 427.5 200.5 428.5 201.2 427.6 201.9 428.4 202.6 429.1 203.3 429.3 204 428.3 204.7 429.8 205.4 429.2 206.1 430 206.8 420.5 207.5 408.6 208.2 401.3 208.9 401.1 209.6 401.8 210.3 402.8 211 402.3 211.7 400.3 212.4 397.5 213.1 394 213.8 390.5 214.5 387.1 215.2 388.4 215.9 389.7 216.6 390 217.3 387.4 218 388 218.7 388.5 219.4 389.1 220.1 387.4 220.8 387.3 221.5 381.7 222.2 375.4 222.9 380 223.6 377.5 224.3 379.4 225 379.4 225.7 376.9 226.4 377.8 227.1 377.1 227.8 373.2 228.5 369.2 229.2 371.7 229.9 374.1 230.6 375 231.3 372.2 232 368.3 232.7 370.9 233.4 373.5 234.1 372.4 234.8 370.9 235.5 369.8 236.2 368.7 236.9 367.6 237.6 364.5 238.3 360.4 239 363.3 239.7 366.2 240.4 367.2 241.1 366.1 241.8 365.2 242.5 364.8 243.2 364.3 243.9 363.2 244.6 363 245.3 362.9 246 358.9 246.7 353.9 247.4 358 248.1 361.2 248.8 360 249.5 359.8 250.2 359.4 250.9 358.9 251.6 358.9 252.3 357 253 354.4 253.7 356.2 254.4 356.3 255.1 354.7 255.8 353.1 256.5 351 257.2 347.9 257.9 350.3 258.6 352.7 259.3 354.9 260 354.2 260.7 353.8 261.4 352.9 262.1 353.9 262.8 352.2 263.5 352.1 264.2 352.2 264.9 352.7 265.6 351 266.3 352.7 267 351.6 267.7 350 268.4 350.2 269.1 350.5 269.8 350.3 270.5 350.5 271.2 349.1 271.9 349.8 272.6 349.1 273.3 348.4 274 348.8 274.7 348.4 275.4 347.4 276.1 348.7 276.8 347.6 277.5 346.7 278.2 347.3 278.9 347.2 279.6 346.7 280.3 347.4 281 346.1 281.7 343.4 282.4 340.8 283.1 340.5 283.8 343.2 284.5 345.3 285.2 345 285.9 344.4 286.6 343.8 287.3 343.1 288 343.4 288.7 343.7 289.4 344 290.1 344.4 290.8 343.7 291.5 342.4 292.2 341.1 292.9 342.1 293.6 343 294.3 343.6 295 343.2 295.7 343 296.4 343.1 297.1 342.4 297.8 342.4 298.5 340 299.2 336.5 299.9 333.1 300.6 334.6 301.3 331.9 302 329.2 302.7 326.5 303.4 322.8 304.1 318 304.8 315.3 305.5 311.9 306.2 309.8 306.9 305.9 307.6 301.7 308.3 301.6 309 300.2 309.7 295.9 310.4 291.7 311.1 287.7 311.8 289 312.5 290.4 313.2 291.9 313.9 289.2 314.6 285.2 315.3 287.4 316 288.9 316.7 286 317.4 282.1 318.1 284.6 318.8 286.6 319.5 285.4 320.2 284.3 320.9 285.2 321.6 284 322.3 283.1 323 278.6 323.7 273.9 324.4 276.3 325.1 277.6 325.8 273.8 326.5 276.8 327.2 279.8 327.9 279.4 328.6 277.2 329.3 274.6 330 276.5 330.7 277.3 331.4 276.2 332.1 274.3 332.8 272.4 333.5 273.7 334.2 274.6 334.9 272.3 335.6 270 336.3 271.8 337 273.6 337.7 275.3 338.4 275.1 339.1 273.9 339.8 272.7 340.5 273.4 341.2 274.1 341.9 272 342.6 268.4 343.3 271.6 344 273.3 344.7 274.1 345.4 272 346.1 271.8 346.8 270.4 347.5 271.4 348.2 272.4 348.9 270.7 349.6 267.4 350.3 264.1 351 267 351.7 269.5 352.4 268.2 353.1 269.2 353.8 270.2 354.5 270.5 355.2 270.2 355.9 269.2 356.6 268.1 357.3 266 358 263.9 358.7 265.8 359.4 266.7 360.1 266.4 360.8 267.5 361.5 268.7 362.2 269.5 362.9 268.9 363.6 269.8 364.3 269.1 365 268.4 365.7 269 366.4 268.8 367.1 268.6 367.8 268.4 368.5 268.2 369.2 268.2 369.9 269.4 370.6 266.7 371.3 264.6 372 262.5 372.7 264.4 373.4 266.3 374.1 267.9 374.8 267.1 375.5 267.4 376.2 267.8 376.9 268 377.6 266.6 378.3 267.8 379 267.4 379.7 267.1 380.4 267.9 381.1 267.3 381.8 266.3 382.5 264.3 383.2 262.3 383.9 260.3 384.6 262.2 385.3 264.1 386 265.2 386.7 263.7 387.4 262.1 388.1 263.6 388.8 263.2 389.5 265.3 390.2 267.1 390.9 266.1 391.6 266.8 392.3 265.5 393 266.8 393.7 266.5 394.4 266.6 395.1 265.6 395.8 264.7 396.5 263.1 397.2 261.6 397.9 263.1 398.6 264.5 399.3 265.3 400 264.6 400.7 264 401.4 264.2 402.1 262.4 402.8 260.5 403.5 262.3 404.2 263.4 404.9 264 405.6 262.6 406.3 260.2 407 257 407.7 262.8 408.4 262.1 409.1 259.2 409.8 260.1 410.5 261.9 411.2 261.5 411.9 259.1 412.6 256.8 413.3 259.1 414 258 414.7 259.9 415.4 261.9 416.1 263.8 416.8 265.7 417.5 264.5 418.2 265.2 418.9 264.7 419.6 264.8 420.3 265.6 421 264.9 421.7 262.9 422.4 259.5 423.1 262.9 423.8 264.8 424.5 264.3 425.2 264.2 425.9 263.3 426.6 260.5 427.3 257.7 428 260.5 428.7 263.3 429.4 264.4 430.1 264 430.8 263.5 431.5 263.9 432.2 264.4 432.9 263.8 433.6 262.7 434.3 261.5 435 260.3 435.7 261.4 436.4 258.8 437.1 256.2 437.8 258.8 438.5 261.3 439.2 263.9 439.9 264.8 440.6 264.5 441.3 264.8 442 264.2 442.7 264.3 443.4 264.9 444.1 262.7 444.8 259.3 445.5 256 446.2 259.3 446.9 261.7 447.6 260.1 448.3 261.7 449 263.3 449.7 263.2 450.4 264.3 451.1 264.4 451.8 264.6 452.5 264 453.2 264.2 453.9 263.4 454.6 261.7 455.3 260 456 261.7 456.7 263.4 457.4 263.3 458.1 264.2 458.8 263.4 459.5 261.8 460.2 263.4 460.9 264 461.6 264 462.3 263.8 463 263.8 463.7 263 464.4 263.9 465.1 260.9 465.8 258 466.5 255.2 467.2 257.7 467.9 260.2 468.6 261.7 469.3 262.8 470 259.6 470.7 256.1 471.4 259.3 472.1 261.6 472.8 261.2 473.5 262 474.2 260.5 474.9 260.7 475.6 261.1 476.3 261.2 477 261.1 477.7 261.2 478.4 261.7 479.1 260.9 479.8 260.9 480.5 260 481.2 260.6 481.9 260.6 482.6 260.6 483.3 259.4 484 258.1 484.7 259.2 485.4 259.9 486.1 259.9 486.8 259.8 487.5 259.4 488.2 259.2 488.9 259 489.6 259 490.3 258.6 491 258.7 491.7 258.2 492.4 257.3 493.1 255.4 493.8 252.7 494.5 250 495.2 252.3 495.9 255.1 496.6 257.7 497.3 258.4 498 258.3 498.7 258.8 499.4 257.6 500.1 258.5 500.8 256.5 501.5 254.5 502.2 252.6 502.9 251.5 503.6 253.4 504.3 255.3 505 257.2 505.7 258.9 506.4 257.2 507.1 257.5 507.8 257.5 508.5 257.6 509.2 258.2 509.9 258.5 510.6 258.2 511.3 258.5 512 258 512.7 256.8 513.4 255.5 514.1 256.8 514.8 257.7 515.5 258.4 516.2 257.6 516.9 258.2 517.6 257.7 518.3 254.2 519 250.7 519.7 254.2 520.4 257.2 521.1 258.2 521.8 258.8 522.5 257 523.2 256.4 523.9 256.2 524.6 256.2 525.3 255.2 526 256.2 526.7 256.3 527.4 254.3 528.1 252.4 528.8 250.4 529.5 252.3 530.2 254.3 530.9 256.2 531.6 256.3 532.3 256.6 533 256.8 533.7 257 534.4 256.2 535.1 254.9 535.8 251.4 536.5 254.8 537.2 256.6 537.9 256.4 538.6 257.6 539.3 257.8 540 256.9 540.7 256.8 541.4 257.2 542.1 256.7 542.8 255 543.5 253.4 544.2 251.8 544.9 253.4 545.6 255 546.3 256.6 547 257.1 547.7 256.6 548.4 255.8 549.1 254.9 549.8 255.5 550.5 256.2 551.2 256.2 551.9 252.4 552.6 248.5 553.3 252.3 554 256.2 554.7 256.8 555.4 257 556.1 256.5 556.8 257.4 557.5 255.1 558.2 252.3 558.9 249.6 559.6 252.3 560.3 255 561 255.9 561.7 253.2 562.4 250.5 563.1 247.8 563.8 248.8 564.5 252.8 565.2 250.8 565.9 252.8 566.6 254.9 567.3 256.8 568 257.2 568.7 257.7 569.4 256.9 570.1 257.4 570.8 257 571.5 257.3 572.2 257.6 572.9 257.1 573.6 256.9 574.3 257.2 575 257.4 575.7 256.1 576.4 256.4 577.1 258.2 577.8 256.6 578.5 256.7 579.2 256.3 579.9 256.4 580.6 256.9 581.3 257.6 582 256.8 582.7 257.5 583.4 257.9 584.1 256.2 584.8 255.3 585.5 253.2 586.2 248.3 586.9 253.2 587.6 256.8 588.3 257.5 589 256.5 589.7 256.5 590.4 257.3 591.1 256.6 591.8 257.3 592.5 256.7 593.2 256.1 593.9 255.4 594.6 254.7 595.3 255.4 596 255.3 596.7 254.6 597.4 255.3 598.1 255.9 598.8 256.6 599.5 256.6 600.2 257.1 600.9 256.6 601.6 255.8 602.3 256.7 603 256.5 603.7 257 604.4 257.3 605.1 256.7 605.8 255.8 606.5 256.5 607.2 256.6 607.9 257.1 608.6 256.9 609.3 256.1 609.3 265.5 608.6 267.6 607.9 269.7 607.2 267.6 606.5 265.5 605.8 265.1 605.1 264.6 604.4 264 603.7 265 603 266.6 602.3 268.2 601.6 266.6 600.9 265 600.2 263.8 599.5 265.2 598.8 266.5 598.1 265.2 597.4 264 596.7 263.3 596 263.3 595.3 263.8 594.6 264.4 593.9 263.8 593.2 263.3 592.5 263.4 591.8 264.8 591.1 268.1 590.4 271.4 589.7 268.1 589 264.8 588.3 263.6 587.6 265.8 586.9 267.9 586.2 270 585.5 267.9 584.8 265.8 584.1 263.6 583.4 263.1 582.7 262.7 582 263 581.3 264.4 580.6 265.6 579.9 266.8 579.2 265.6 578.5 264.4 577.8 265.1 577.1 267.9 576.4 269.6 575.7 272.6 575 269.6 574.3 266.6 573.6 263.6 572.9 263.9 572.2 264 571.5 262.7 570.8 262.6 570.1 263.4 569.4 263.7 568.7 262.9 568 263.8 567.3 263.8 566.6 265.4 565.9 267.3 565.2 269.2 564.5 267.3 563.8 265.4 563.1 263.9 562.4 264.6 561.7 266.9 561 269.2 560.3 271.5 559.6 269.2 558.9 266.9 558.2 264.6 557.5 265.1 556.8 267.6 556.1 270.2 555.4 267.6 554.7 265.1 554 264.1 553.3 265 552.6 266 551.9 265.7 551.2 267.9 550.5 270 549.8 267.9 549.1 265.7 548.4 263.7 547.7 268 547 272.3 546.3 268 545.6 263.8 544.9 264.3 544.2 264.1 543.5 267.3 542.8 270.6 542.1 267.4 541.4 264.2 540.7 264.3 540 263.7 539.3 263.5 538.6 263.2 537.9 262.7 537.2 264.9 536.5 263.8 535.8 263.1 535.1 263.8 534.4 263.4 533.7 263.1 533 263.5 532.3 263.8 531.6 266.9 530.9 271.2 530.2 266.9 529.5 264 528.8 263.6 528.1 263.1 527.4 265.2 526.7 267.7 526 270.3 525.3 272.8 524.6 270.3 523.9 267.8 523.2 265.3 522.5 264.8 521.8 263.6 521.1 264.5 520.4 264.3 519.7 266 519 267.8 518.3 269.5 517.6 267.8 516.9 266.1 516.2 264.4 515.5 264.4 514.8 264.5 514.1 264.6 513.4 265 512.7 264.3 512 264.7 511.3 265.1 510.6 264.5 509.9 264.5 509.2 265.1 508.5 266.2 507.8 267.3 507.1 268.4 506.4 267.3 505.7 266.3 505 266.9 504.3 270.1 503.6 267 502.9 267.2 502.2 268.3 501.5 267.3 500.8 268.6 500.1 268 499.4 268.4 498.7 272.6 498 268.5 497.3 265.3 496.6 264.9 495.9 266.2 495.2 267.4 494.5 268.7 493.8 267.5 493.1 266.2 492.4 265.7 491.7 265.4 491 265.9 490.3 266.1 489.6 266.2 488.9 268.3 488.2 270.3 487.5 270.4 486.8 273.4 486.1 270.6 485.4 267.8 484.7 267.8 484 269.7 483.3 271.5 482.6 269.8 481.9 269.1 481.2 272 480.5 269.3 479.8 268.5 479.1 267.3 478.4 267 477.7 267.6 477 268.1 476.3 268.1 475.6 268.6 474.9 267 474.2 267.7 473.5 267.8 472.8 267.8 472.1 268.7 471.4 268.3 470.7 269.6 470 272.5 469.3 275.4 468.6 272.8 467.9 270.1 467.2 269.5 466.5 268.9 465.8 270.6 465.1 270.2 464.4 269.4 463.7 270.7 463 270.2 462.3 270.6 461.6 271.8 460.9 271.7 460.2 272.8 459.5 271.7 458.8 271.3 458.1 271 457.4 271.1 456.7 270.6 456 271.9 455.3 270.5 454.6 270 453.9 270.6 453.2 271.4 452.5 273.7 451.8 276.1 451.1 278.5 450.4 276.1 449.7 273.7 449 271.3 448.3 272.2 447.6 274.6 446.9 277 446.2 279.4 445.5 277 444.8 274.7 444.1 272.6 443.4 271.2 442.7 269.5 442 270.8 441.3 271.3 440.6 271.1 439.9 271.2 439.2 271.8 438.5 272.4 437.8 271.8 437.1 271.9 436.4 271.4 435.7 271.2 435 272.1 434.3 273.7 433.6 275.3 432.9 276.9 432.2 275.3 431.5 273.7 430.8 275 430.1 276.5 429.4 275 428.7 275 428 273.6 427.3 276 426.6 273.2 425.9 271.4 425.2 271.8 424.5 272.4 423.8 273.5 423.1 274.5 422.4 273.5 421.7 272.4 421 272 420.3 273.6 419.6 277 418.9 276.3 418.2 276.4 417.5 279.1 416.8 276.5 416.1 273.8 415.4 271.4 414.7 273.8 414 276.3 413.3 278.7 412.6 277.7 411.9 281.1 411.2 277.7 410.5 274.4 409.8 274.3 409.1 276.1 408.4 277.8 407.7 277.8 407 281 406.3 277.9 405.6 277.5 404.9 275.8 404.2 274.1 403.5 272.4 402.8 271.9 402.1 273.2 401.4 272.6 400.7 275.3 400 278 399.3 275.4 398.6 272.8 397.9 272.3 397.2 271.3 396.5 271.9 395.8 273 395.1 272.4 394.4 272.5 393.7 271.9 393 274.6 392.3 279.2 391.6 274.7 390.9 272.2 390.2 273.3 389.5 274.3 388.8 277.2 388.1 280.2 387.4 277.3 386.7 274.5 386 272.9 385.3 272.9 384.6 274 383.9 274.7 383.2 276.3 382.5 278.8 381.8 281.2 381.1 278.9 380.4 276.6 379.7 274.7 379 273.9 378.3 274.3 377.6 276.6 376.9 279.8 376.2 276.7 375.5 274.1 374.8 275.3 374.1 277.1 373.4 278.8 372.7 280.6 372 280.3 371.3 283.8 370.6 280.5 369.9 278.2 369.2 280.7 368.5 283.1 367.8 280.9 367.1 278.6 366.4 282 365.7 278.7 365 278.6 364.3 277 363.6 276.6 362.9 277 362.2 276.3 361.5 276.2 360.8 277 360.1 280.6 359.4 284.3 358.7 280.9 358 277.5 357.3 277.9 356.6 278.9 355.9 278.2 355.2 277.4 354.5 278 353.8 277 353.1 276.6 352.4 278.2 351.7 279.9 351 281.7 350.3 280.3 349.6 278.8 348.9 278.2 348.2 279.1 347.5 279.2 346.8 279 346.1 278.9 345.4 279.4 344.7 280.4 344 280.6 343.3 281.3 342.6 282.1 341.9 281.8 341.2 281.4 340.5 281.5 339.8 281.9 339.1 281.9 338.4 283.8 337.7 287.3 337 290.9 336.3 287.8 335.6 284.8 334.9 283 334.2 283.1 333.5 283.5 332.8 283.1 332.1 283.9 331.4 285.3 330.7 285.9 330 287.5 329.3 286.5 328.6 286.3 327.9 286.9 327.2 289.2 326.5 292.3 325.8 295.4 325.1 293.1 324.4 290.8 323.7 289.7 323 289.5 322.3 290.8 321.6 293.7 320.9 291.9 320.2 291.7 319.5 291.4 318.8 292.7 318.1 293.6 317.4 294.9 316.7 297.1 316 296.4 315.3 296.5 314.6 297.4 313.9 297.5 313.2 298.4 312.5 300.4 311.8 302.9 311.1 306.1 310.4 309.4 309.7 310 309 313.6 308.3 313.5 307.6 313.6 306.9 313.9 306.2 315.4 305.5 319.3 304.8 321.8 304.1 325.4 303.4 329.2 302.7 334.1 302 338.4 301.3 342.7 300.6 348.2 299.9 349.2 299.2 349.1 298.5 348.7 297.8 349.3 297.1 349.8 296.4 353.3 295.7 356.9 295 354.6 294.3 353.3 293.6 353.9 292.9 352.5 292.2 355.3 291.5 358.4 290.8 355.6 290.1 352.8 289.4 351.4 288.7 351.7 288 351.3 287.3 351.4 286.6 351.3 285.9 352.3 285.2 353.2 284.5 352.5 283.8 352.6 283.1 353.2 282.4 352.4 281.7 353 281 354.2 280.3 352.6 279.6 353.2 278.9 354.8 278.2 354.8 277.5 357.4 276.8 355.2 276.1 355.8 275.4 355.2 274.7 355.1 274 355.2 273.3 355.3 272.6 355.5 271.9 355.2 271.2 356.5 270.5 355.4 269.8 356.6 269.1 357.4 268.4 356.5 267.7 357.6 267 357.4 266.3 358.1 265.6 357.9 264.9 357.8 264.2 359 263.5 359.3 262.8 360 262.1 362.8 261.4 365.6 260.7 368.4 260 366.3 259.3 364.1 258.6 362.5 257.9 364 257.2 363.3 256.5 362.5 255.8 362.4 255.1 362.6 254.4 363.3 253.7 367.5 253 373.2 252.3 368.3 251.6 365 250.9 365 250.2 365.7 249.5 366.3 248.8 367.4 248.1 367.1 247.4 369.3 246.7 371.7 246 374.2 245.3 372.7 244.6 371.2 243.9 370.5 243.2 370.2 242.5 371.7 241.8 371 241.1 373.5 240.4 376.7 239.7 374.6 239 374 238.3 374.3 237.6 377.6 236.9 381.1 236.2 384.6 235.5 382.3 234.8 380.1 234.1 378 233.4 378.5 232.7 381.4 232 384.3 231.3 382.8 230.6 380.8 229.9 382.7 229.2 383.2 228.5 384.2 227.8 385 227.1 387.2 226.4 389.7 225.7 392.2 225 391.3 224.3 396.1 223.6 392.5 222.9 399.4 222.2 394.2 221.5 391.6 220.8 394.1 220.1 398.2 219.4 403 218.7 400.1 218 397.3 217.3 398.2 216.6 398.5 215.9 400.3 215.2 400.5 214.5 402.1 213.8 403.2 213.1 405 212.4 408.1 211.7 411.2 211 410.5 210.3 409.9 209.6 410.9 208.9 411.9 208.2 415.6 207.5 419.8 206.8 428 206.1 435.4 205.4 436.2 204.7 437.9 204 441.2 203.3 437.6 202.6 435.4 201.9 434.6 201.2 434.9 200.5 436.5 199.8 438.4 199.1 436.9 198.4 437.7 197.7 436.8 197 440.2 196.3 443.6 195.6 440.2 194.9 436.7 194.2 434.5Z" fill="#4f7b2a"/>
<polyline points="194.2,431.2 196.3,431.2 198.4,431.4 200.5,431.7 202.6,432 204.7,432.5 206.8,425.8 208.9,409 211,404.4 213.1,400.9 215.2,397.6 217.3,394.5 219.4,391.6 221.5,388.8 223.6,386.2 225.7,383.7 227.8,381.3 229.9,379.1 232,377 234.1,375 236.2,373.1 238.3,371.3 240.4,369.6 242.5,368 244.6,366.4 246.7,365 248.8,363.6 250.9,362.3 253,361.1 255.1,359.9 257.2,358.8 259.3,357.7 261.4,356.7 263.5,355.8 265.6,354.9 267.7,354 269.8,353.2 271.9,352.5 274,351.8 276.1,351.1 278.2,350.4 280.3,349.8 282.4,349.2 284.5,348.7 286.6,348.2 288.7,347.7 290.8,347.2 292.9,346.7 295,346.3 297.1,345.9 299.2,345.5 301.3,340 303.4,325.8 305.5,315.5 307.6,308.1 309.7,302.5 311.8,298.2 313.9,294.9 316,292.2 318.1,290 320.2,288.1 322.3,286.5 324.4,285.1 326.5,283.9 328.6,282.7 330.7,281.7 332.8,280.8 334.9,279.9 337,279.1 339.1,278.3 341.2,277.6 343.3,277 345.4,276.4 347.5,275.8 349.6,275.3 351.7,274.8 353.8,274.3 355.9,273.9 358,273.4 360.1,273.1 362.2,272.7 364.3,272.4 366.4,272 368.5,271.7 370.6,271.5 372.7,271.2 374.8,271 376.9,270.7 379,270.5 381.1,270.3 383.2,270.1 385.3,269.9 387.4,269.8 389.5,269.6 391.6,269.5 393.7,269.3 395.8,269.2 397.9,269.1 400,269 402.1,268.9 404.2,268.8 406.3,268.7 408.4,268.6 410.5,268.5 412.6,268.4 414.7,268.3 416.8,268.3 418.9,268.2 421,268.1 423.1,268.1 425.2,268 427.3,268 429.4,267.9 431.5,267.9 433.6,267.9 435.7,267.8 437.8,267.8 439.9,267.7 442,267.7 444.1,267.7 446.2,267.7 448.3,267.6 450.4,267.6 452.5,267.6 454.6,267.6 456.7,267.5 458.8,267.5 460.9,267.5 463,267 465.1,266.5 467.2,266 469.3,265.6 471.4,265.2 473.5,264.8 475.6,264.4 477.7,264.1 479.8,263.8 481.9,263.5 484,263.3 486.1,263 488.2,262.8 490.3,262.6 492.4,262.4 494.5,262.2 496.6,262 498.7,261.9 500.8,261.8 502.9,261.6 505,261.5 507.1,261.4 509.2,261.3 511.3,261.2 513.4,261.1 515.5,261 517.6,260.9 519.7,260.9 521.8,260.8 523.9,260.7 526,260.7 528.1,260.6 530.2,260.6 532.3,260.5 534.4,260.5 536.5,260.5 538.6,260.4 540.7,260.4 542.8,260.4 544.9,260.3 547,260.3 549.1,260.3 551.2,260.3 553.3,260.3 555.4,260.2 557.5,260.2 559.6,260.2 561.7,260.2 563.8,260.2 565.9,260.2 568,260.1 570.1,260.1 572.2,260.1 574.3,260.1 576.4,260.1 578.5,260.1 580.6,260.1 582.7,260.1 584.8,260.1 586.9,260.1 589,260.1 591.1,260.1 593.2,260.1 595.3,260.1 597.4,260 599.5,260 601.6,260 603.7,260 605.8,260 607.9,260" fill="none" stroke="#4f7b2a" stroke-width="2.2" stroke-linejoin="round"/>
<path d="M194.2 427.2 194.9 428 195.6 427.2 196.3 424.7 197 422.3 197.7 424.8 198.4 427.4 199.1 429.5 199.8 428.6 200.5 428.2 201.2 428 201.9 428.7 202.6 429.2 203.3 428.8 204 429.4 204.7 430.7 205.4 427.9 206.1 425.8 206.8 416.4 207.5 409.3 208.2 406.2 208.9 402.5 209.6 401.5 210.3 396.9 211 392.4 211.7 394.3 212.4 396.3 213.1 397.9 213.8 396.6 214.5 395.4 215.2 394.9 215.9 393.4 216.6 390.8 217.3 391.3 218 390.7 218.7 388.3 219.4 387.9 220.1 387.4 220.8 386.4 221.5 385.6 222.2 384.2 222.9 382.7 223.6 382.2 224.3 381.6 225 380.2 225.7 378.7 226.4 377.3 227.1 377.2 227.8 377.1 228.5 377 229.2 377.5 229.9 375.8 230.6 375.2 231.3 374.9 232 373.7 232.7 371.7 233.4 369.5 234.1 370.4 234.8 370.2 235.5 371.2 236.2 369.8 236.9 368.8 237.6 367.1 238.3 364.8 239 362.3 239.7 363.7 240.4 365.1 241.1 366.2 241.8 364.3 242.5 364.3 243.2 365.8 243.9 364.5 244.6 363.4 245.3 361.9 246 360.2 246.7 358.5 247.4 359.2 248.1 360 248.8 359 249.5 359.4 250.2 359.4 250.9 358.5 251.6 359.1 252.3 358.3 253 358.4 253.7 357.4 254.4 356.4 255.1 356.8 255.8 355.2 256.5 356.1 257.2 355.2 257.9 354.4 258.6 355.4 259.3 354.1 260 354 260.7 350.8 261.4 347.6 262.1 350.1 262.8 352.7 263.5 351.9 264.2 353 264.9 352 265.6 351.3 266.3 351.4 267 350.1 267.7 350.8 268.4 351.3 269.1 350.4 269.8 349.5 270.5 349.2 271.2 347.3 271.9 345.5 272.6 344.1 273.3 341.2 274 343.7 274.7 346.1 275.4 344.1 276.1 342 276.8 343.6 277.5 342.7 278.2 337.8 278.9 342.3 279.6 342 280.3 343.4 281 344.8 281.7 344.6 282.4 342.8 283.1 344.2 283.8 345 284.5 344.4 285.2 344 285.9 343.2 286.6 339.4 287.3 343.1 288 345 288.7 344.9 289.4 344.5 290.1 344.4 290.8 343.5 291.5 343.8 292.2 344 292.9 343.7 293.6 343.8 294.3 343.4 295 343.2 295.7 342.2 296.4 343.4 297.1 342.1 297.8 342.6 298.5 343 299.2 341.4 299.9 342 300.6 342.7 301.3 337 302 331.8 302.7 327.4 303.4 322.5 304.1 318.8 304.8 314.7 305.5 312.5 306.2 310.5 306.9 306.5 307.6 304.3 308.3 299.7 309 294.2 309.7 296.1 310.4 292.4 311.1 293.2 311.8 293.6 312.5 291.9 313.2 291.3 313.9 290.7 314.6 286.9 315.3 283.1 316 285.2 316.7 285.6 317.4 286.1 318.1 286 318.8 283.8 319.5 281 320.2 276 320.9 279.8 321.6 282.6 322.3 282.7 323 280.5 323.7 278.4 324.4 277.5 325.1 273 325.8 276.6 326.5 276 327.2 273.7 327.9 275.2 328.6 276.7 329.3 278.2 330 278.6 330.7 278.1 331.4 278 332.1 277.8 332.8 278.2 333.5 276.4 334.2 276.3 334.9 277.1 335.6 276.8 336.3 276.6 337 276.6 337.7 275.7 338.4 275.9 339.1 275.1 339.8 274.7 340.5 273.2 341.2 270.9 341.9 272.8 342.6 273.5 343.3 273.9 344 274 344.7 273.2 345.4 273.1 346.1 272.5 346.8 270.9 347.5 269.2 348.2 270.5 348.9 271.9 349.6 272.8 350.3 272.3 351 271.3 351.7 271.2 352.4 271.1 353.1 270.6 353.8 271.3 354.5 271.3 355.2 270.7 355.9 270.2 356.6 269.4 357.3 268.1 358 266.8 358.7 267.8 359.4 268.9 360.1 268.6 360.8 265.4 361.5 262.2 362.2 265.1 362.9 268.1 363.6 268.7 364.3 265.8 365 262.8 365.7 259.9 366.4 262.6 367.1 262.5 367.8 264.4 368.5 266.3 369.2 268.2 369.9 269.1 370.6 268.3 371.3 268.6 372 268.1 372.7 267.3 373.4 266.8 374.1 267.5 374.8 267.9 375.5 268.2 376.2 267.7 376.9 267.4 377.6 268.3 378.3 267.7 379 267.1 379.7 267.1 380.4 267.4 381.1 267.6 381.8 266.9 382.5 267.5 383.2 265.9 383.9 267 384.6 267.1 385.3 266.2 386 267.1 386.7 266.9 387.4 266.2 388.1 265.4 388.8 262 389.5 258.7 390.2 261.9 390.9 265.2 391.6 266.2 392.3 266.3 393 266 393.7 266.6 394.4 265.5 395.1 265.2 395.8 266.8 396.5 266.2 397.2 266 397.9 266.6 398.6 265.7 399.3 265.6 400 265.2 400.7 264.8 401.4 265.1 402.1 265.5 402.8 265.4 403.5 265.5 404.2 265.3 404.9 265 405.6 266 406.3 265.3 407 264.8 407.7 264.5 408.4 263.3 409.1 262 409.8 260.7 410.5 261.9 411.2 263.2 411.9 264.4 412.6 265.5 413.3 265.1 414 265.3 414.7 263 415.4 259.8 416.1 263 416.8 264.9 417.5 265.1 418.2 265.5 418.9 265.7 419.6 264.7 420.3 263.7 421 262.7 421.7 261.7 422.4 262.1 423.1 263.3 423.8 264.5 424.5 265.3 425.2 265.8 425.9 264.9 426.6 265.1 427.3 264.5 428 262.4 428.7 259.5 429.4 262.4 430.1 263.8 430.8 264.9 431.5 264.3 432.2 263.9 432.9 264.8 433.6 263.9 434.3 261.2 435 258.6 435.7 261.2 436.4 263.8 437.1 264.8 437.8 264.2 438.5 264.6 439.2 263.2 439.9 261.2 440.6 259.2 441.3 257.2 442 259.1 442.7 261.1 443.4 259.2 444.1 256.5 444.8 259.2 445.5 261.8 446.2 263.4 446.9 264 447.6 264.3 448.3 263.9 449 264.5 449.7 265.1 450.4 263.6 451.1 264.3 451.8 264.4 452.5 264.7 453.2 264.2 453.9 264.3 454.6 264.6 455.3 264.4 456 264 456.7 264.1 457.4 263.2 458.1 262.4 458.8 261.6 459.5 262.4 460.2 263.2 460.9 261.5 461.6 259.7 462.3 261.3 463 262.9 463.7 263.9 464.4 264.3 465.1 262.1 465.8 258.9 466.5 255.8 467.2 258.7 467.9 256.9 468.6 260.2 469.3 263.3 470 262.6 470.7 262 471.4 262.5 472.1 262.9 472.8 263.3 473.5 263.3 474.2 262.3 474.9 261.5 475.6 260.7 476.3 261.4 477 260.5 477.7 261.5 478.4 261.9 479.1 263 479.8 261.5 480.5 259.6 481.2 257.7 481.9 255.8 482.6 257.6 483.3 259.4 484 261.2 484.7 261.4 485.4 261.6 486.1 261.6 486.8 262.3 487.5 261.6 488.2 261.5 488.9 262.8 489.6 261.9 490.3 262.4 491 263.2 491.7 259.7 492.4 256.9 493.1 254.2 493.8 256.9 494.5 259.5 495.2 261.4 495.9 261.5 496.6 261.3 497.3 260 498 257.5 498.7 255 499.4 252.5 500.1 255 500.8 257.4 501.5 257.6 502.2 255.8 502.9 257.5 503.6 259.2 504.3 256.6 505 258.6 505.7 255.3 506.4 258.6 507.1 261 507.8 261.4 508.5 261.7 509.2 259.9 509.9 258.3 510.6 256.6 511.3 258.2 512 259.9 512.7 260.7 513.4 260.8 514.1 260 514.8 260.5 515.5 260.5 516.2 258.2 516.9 256 517.6 253.8 518.3 256 519 252.2 519.7 256.4 520.4 260.6 521.1 260.8 521.8 261.2 522.5 256.8 523.2 252.6 523.9 256.8 524.6 260.4 525.3 260.7 526 260.3 526.7 259.3 527.4 258.3 528.1 257.4 528.8 257.7 529.5 254.2 530.2 257.7 530.9 259.3 531.6 256.9 532.3 254.5 533 252.1 533.7 252.1 534.4 255.5 535.1 258.8 535.8 260.4 536.5 260.6 537.2 259.8 537.9 257.7 538.6 255.5 539.3 253.4 540 255.5 540.7 257.7 541.4 259.8 542.1 260.7 542.8 260.9 543.5 261 544.2 260.6 544.9 257 545.6 253.1 546.3 254.8 547 252.5 547.7 254.8 548.4 257 549.1 258.8 549.8 256.9 550.5 252.3 551.2 255 551.9 256.4 552.6 259 553.3 261 554 257.9 554.7 254.1 555.4 254.9 556.1 252 556.8 254.9 557.5 257.8 558.2 259.9 558.9 260.5 559.6 259.2 560.3 256.3 561 253.5 561.7 256.3 562.4 259.2 563.1 260.9 563.8 260.3 564.5 259.7 565.2 259.1 565.9 259.7 566.6 260.2 567.3 261.4 568 261.4 568.7 261 569.4 259.6 570.1 258.3 570.8 257 571.5 258.3 572.2 259.6 572.9 259.5 573.6 259.8 574.3 257.5 575 255.2 575.7 257.5 576.4 256.9 577.1 254.4 577.8 252 578.5 254.4 579.2 256.9 579.9 259.4 580.6 259.9 581.3 259.4 582 258.9 582.7 259.4 583.4 259.9 584.1 260.4 584.8 259.5 585.5 258.5 586.2 257.5 586.9 258.5 587.6 259.5 588.3 260 589 259.2 589.7 255.6 590.4 252.1 591.1 255.6 591.8 259.2 592.5 259.9 593.2 260.2 593.9 260.5 594.6 261 595.3 260.9 596 261.1 596.7 261.5 597.4 260 598.1 261.7 598.8 260.1 599.5 260.7 600.2 259.7 600.9 260.6 601.6 260.7 602.3 260.1 603 261.5 603.7 260.7 604.4 259.7 605.1 260 605.8 260.9 606.5 261.2 607.2 261 607.9 260.3 608.6 261.2 609.3 260.1 609.3 267.5 608.6 268.2 607.9 268.9 607.2 268.2 606.5 267.5 605.8 267 605.1 267.4 604.4 269.3 603.7 272.6 603 269.3 602.3 266.7 601.6 266.9 600.9 267.1 600.2 267 599.5 266.8 598.8 266.1 598.1 267 597.4 267.5 596.7 266.8 596 267.4 595.3 266.6 594.6 267.5 593.9 266.1 593.2 266.8 592.5 267.5 591.8 267.3 591.1 266.8 590.4 268.1 589.7 270.3 589 272.6 588.3 270.3 587.6 268.1 586.9 266.7 586.2 267 585.5 266.5 584.8 267.5 584.1 266.6 583.4 266.4 582.7 267.5 582 267.4 581.3 267.4 580.6 267.4 579.9 267 579.2 266.9 578.5 267.6 577.8 267.2 577.1 268.5 576.4 269.8 575.7 268.5 575 267.4 574.3 268.7 573.6 270.1 572.9 271.4 572.2 270.1 571.5 269.1 570.8 270.2 570.1 269.1 569.4 268.1 568.7 269 568 271.1 567.3 272.9 566.6 276 565.9 273.2 565.2 276.5 564.5 273.2 563.8 274.5 563.1 269.4 562.4 270.1 561.7 271.9 561 273.7 560.3 271.9 559.6 270.1 558.9 268.3 558.2 267.3 557.5 267.5 556.8 267.4 556.1 266.1 555.4 267.6 554.7 268.1 554 266.8 553.3 268.1 552.6 268.4 551.9 269.1 551.2 269.9 550.5 269.2 549.8 268.4 549.1 267.6 548.4 267.8 547.7 267 547 267.1 546.3 268.1 545.6 270.8 544.9 273.4 544.2 276.1 543.5 273.5 542.8 270.8 542.1 269 541.4 272.6 540.7 272.6 540 275.9 539.3 272.7 538.6 269.4 537.9 266.7 537.2 267 536.5 267.5 535.8 267.9 535.1 269.5 534.4 271.1 533.7 272.7 533 271.1 532.3 269.6 531.6 268 530.9 268.9 530.2 271.3 529.5 268.9 528.8 270 528.1 270.5 527.4 272.6 526.7 270.5 526 268.3 525.3 267.4 524.6 267.6 523.9 267.1 523.2 267.7 522.5 266.5 521.8 267.8 521.1 267.9 520.4 266.5 519.7 267.3 519 267.1 518.3 267.2 517.6 267.9 516.9 267.8 516.2 267.2 515.5 267.7 514.8 268.8 514.1 270 513.4 271.1 512.7 270 512 268.9 511.3 267.8 510.6 267.2 509.9 269 509.2 270.5 508.5 272 507.8 275.4 507.1 271 506.4 267.7 505.7 268 505 267.5 504.3 267 503.6 269.2 502.9 267.5 502.2 268.2 501.5 269.1 500.8 268.1 500.1 267.1 499.4 270.1 498.7 272.8 498 270.1 497.3 269.4 496.6 271.1 495.9 269.5 495.2 271.9 494.5 276.3 493.8 272 493.1 269.1 492.4 269 491.7 268.9 491 269.3 490.3 271 489.6 272.6 488.9 271 488.2 270.6 487.5 269.8 486.8 269 486.1 268.9 485.4 272 484.7 277.9 484 275.7 483.3 271.9 482.6 270.8 481.9 271.9 481.2 273.8 480.5 271 479.8 270.4 479.1 270 478.4 269.6 477.7 269.3 477 269.1 476.3 269.8 475.6 269.3 474.9 270.1 474.2 270.9 473.5 270.2 472.8 269.5 472.1 269 471.4 268.5 470.7 269.7 470 270.3 469.3 271 468.6 270.5 467.9 270.4 467.2 268.9 466.5 270.1 465.8 269.5 465.1 270.1 464.4 269.5 463.7 270.3 463 271.3 462.3 270.7 461.6 269.9 460.9 271 460.2 269.9 459.5 271 458.8 270.3 458.1 270.5 457.4 271.7 456.7 272.5 456 272.8 455.3 272.1 454.6 271.4 453.9 270.9 453.2 271 452.5 270.9 451.8 270 451.1 270.2 450.4 270.9 449.7 271 449 273.1 448.3 275.3 447.6 273.2 446.9 271 446.2 270.7 445.5 272.5 444.8 274.4 444.1 272.5 443.4 271.2 442.7 270.5 442 270.6 441.3 270.6 440.6 270.7 439.9 271.5 439.2 270.7 438.5 271.4 437.8 269.6 437.1 272 436.4 274.6 435.7 277.2 435 274.6 434.3 272.6 433.6 273.4 432.9 272.6 432.2 271.7 431.5 270.7 430.8 271.7 430.1 271.7 429.4 271.4 428.7 270.7 428 271.2 427.3 271.4 426.6 271.7 425.9 271.7 425.2 271.2 424.5 271.2 423.8 272 423.1 270.9 422.4 270.1 421.7 271.6 421 270.6 420.3 271.5 419.6 271.4 418.9 271 418.2 272.5 417.5 272.4 416.8 271.5 416.1 271.8 415.4 271 414.7 271.1 414 271.5 413.3 271.3 412.6 271.8 411.9 272 411.2 271.8 410.5 273 409.8 271.7 409.1 272.3 408.4 271.1 407.7 271.8 407 271.2 406.3 272 405.6 271.6 404.9 271 404.2 273.1 403.5 272.3 402.8 272.8 402.1 272.4 401.4 272.2 400.7 272.4 400 271.1 399.3 271.8 398.6 271.8 397.9 271.6 397.2 272.1 396.5 272.5 395.8 272.3 395.1 271.9 394.4 272.8 393.7 271.9 393 272.9 392.3 273.1 391.6 276.3 390.9 279.8 390.2 276.4 389.5 273.1 388.8 273.5 388.1 272.7 387.4 274.4 386.7 277 386 279.5 385.3 277.1 384.6 275.9 383.9 274.6 383.2 273 382.5 273.8 381.8 274.5 381.1 275.1 380.4 274.6 379.7 275.5 379 274.3 378.3 273.9 377.6 273.1 376.9 274.4 376.2 275.8 375.5 277.2 374.8 276 374.1 274.8 373.4 273.8 372.7 275.1 372 274.8 371.3 273.6 370.6 274.6 369.9 275.7 369.2 276.8 368.5 276.7 367.8 277.7 367.1 276.9 366.4 276.8 365.7 279.3 365 281.8 364.3 284.3 363.6 282 362.9 281.1 362.2 277.6 361.5 277.3 360.8 280.9 360.1 284.4 359.4 281.1 358.7 282.4 358 284.2 357.3 281.3 356.6 278.9 355.9 278.4 355.2 278 354.5 277.6 353.8 277 353.1 278.1 352.4 279.3 351.7 282.2 351 279.6 350.3 280 349.6 281.3 348.9 280.3 348.2 279.3 347.5 278.1 346.8 279.2 346.1 279 345.4 279.7 344.7 279.9 344 280 343.3 280.4 342.6 280.7 341.9 280.8 341.2 281.2 340.5 279.9 339.8 280.4 339.1 282.2 338.4 281.9 337.7 282.6 337 285.5 336.3 288.3 335.6 291.2 334.9 288.9 334.2 286.6 333.5 284.3 332.8 284.2 332.1 287.3 331.4 290.9 330.7 288 330 286.2 329.3 285.7 328.6 285.7 327.9 285.6 327.2 285.8 326.5 286.8 325.8 287.1 325.1 288.1 324.4 288 323.7 289.5 323 290.8 322.3 292.2 321.6 293.5 320.9 296.4 320.2 294.6 319.5 295.6 318.8 298.3 318.1 296.8 317.4 299.9 316.7 303.4 316 301.4 315.3 299.5 314.6 301.2 313.9 301 313.2 300.9 312.5 300.9 311.8 302.2 311.1 302.6 310.4 304.1 309.7 309.8 309 315.6 308.3 313.4 307.6 311.3 306.9 314.2 306.2 316.6 305.5 318.5 304.8 321.9 304.1 327.9 303.4 334.2 302.7 341 302 343.1 301.3 345.9 300.6 348.6 299.9 349.5 299.2 347.9 298.5 350 297.8 348.9 297.1 349.7 296.4 349.5 295.7 349.9 295 349 294.3 350.4 293.6 349.1 292.9 350.4 292.2 349.8 291.5 348.5 290.8 349.7 290.1 351.5 289.4 350.1 288.7 350.7 288 350.6 287.3 351.1 286.6 350.9 285.9 352.7 285.2 354.6 284.5 353 283.8 352.5 283.1 351.6 282.4 352 281.7 352.5 281 352.7 280.3 353.2 279.6 352.8 278.9 354.1 278.2 353 277.5 353.9 276.8 353.9 276.1 353.7 275.4 355.2 274.7 355.2 274 357 273.3 360 272.6 357.5 271.9 356.1 271.2 357.6 270.5 359.5 269.8 358.9 269.1 358.4 268.4 358 267.7 357.6 267 358.5 266.3 359.5 265.6 360.5 264.9 361.6 264.2 359.7 263.5 359.3 262.8 359.2 262.1 360 261.4 359.5 260.7 360.1 260 360.2 259.3 360.7 258.6 361.5 257.9 363 257.2 365.4 256.5 363.7 255.8 363.2 255.1 362.8 254.4 362.1 253.7 364.1 253 365.2 252.3 366.3 251.6 367.4 250.9 367.1 250.2 366.8 249.5 366.6 248.8 366.3 248.1 368 247.4 367.8 246.7 370.4 246 373 245.3 371.3 244.6 370.1 243.9 370.3 243.2 371.7 242.5 373.1 241.8 374.6 241.1 374.2 240.4 373.9 239.7 373.5 239 373.6 238.3 374.3 237.6 375.1 236.9 375.4 236.2 376.8 235.5 377.5 234.8 377.1 234.1 378 233.4 379.1 232.7 378.9 232 380 231.3 381.3 230.6 383.9 229.9 386.6 229.2 389.2 228.5 388 227.8 387.8 227.1 386.3 226.4 386 225.7 391.2 225 397.1 224.3 392.8 223.6 392.6 222.9 396.2 222.2 399.8 221.5 399.8 220.8 397.1 220.1 394.8 219.4 395.9 218.7 397.3 218 399.2 217.3 399.2 216.6 399.3 215.9 400.3 215.2 400.4 214.5 401.9 213.8 404.4 213.1 407.4 212.4 411.9 211.7 409.7 211 407.2 210.3 412.4 209.6 417.8 208.9 418.7 208.2 424 207.5 426.1 206.8 434.1 206.1 443 205.4 442.1 204.7 439.9 204 437.8 203.3 435.8 202.6 436.8 201.9 437.9 201.2 438.9 200.5 437.6 199.8 436.3 199.1 435.5 198.4 434.9 197.7 434.7 197 435.6 196.3 434.3 195.6 434.5 194.9 434.7 194.2 433.6Z" fill="#2c5da8"/>
<polyline points="194.2,431.2 196.3,431.2 198.4,431.4 200.5,431.7 202.6,432 204.7,432.5 206.8,425.8 208.9,409 211,404.4 213.1,400.9 215.2,397.6 217.3,394.5 219.4,391.6 221.5,388.8 223.6,386.2 225.7,383.7 227.8,381.3 229.9,379.1 232,377 234.1,375 236.2,373.1 238.3,371.3 240.4,369.6 242.5,368 244.6,366.4 246.7,365 248.8,363.6 250.9,362.3 253,361.1 255.1,359.9 257.2,358.8 259.3,357.7 261.4,356.7 263.5,355.8 265.6,354.9 267.7,354 269.8,353.2 271.9,352.5 274,351.8 276.1,351.1 278.2,350.4 280.3,349.8 282.4,349.2 284.5,348.7 286.6,348.2 288.7,347.7 290.8,347.2 292.9,346.7 295,346.3 297.1,345.9 299.2,345.5 301.3,340 303.4,325.8 305.5,315.5 307.6,308.1 309.7,302.5 311.8,298.2 313.9,294.9 316,292.2 318.1,290 320.2,288.1 322.3,286.5 324.4,285.1 326.5,283.9 328.6,282.7 330.7,281.7 332.8,280.8 334.9,279.9 337,279.1 339.1,278.3 341.2,277.6 343.3,277 345.4,276.4 347.5,275.8 349.6,275.3 351.7,274.8 353.8,274.3 355.9,273.9 358,273.4 360.1,273.1 362.2,272.7 364.3,272.4 366.4,272 368.5,271.7 370.6,271.5 372.7,271.2 374.8,271 376.9,270.7 379,270.5 381.1,270.3 383.2,270.1 385.3,269.9 387.4,269.8 389.5,269.6 391.6,269.5 393.7,269.3 395.8,269.2 397.9,269.1 400,269 402.1,268.9 404.2,268.8 406.3,268.7 408.4,268.6 410.5,268.5 412.6,268.4 414.7,268.3 416.8,268.3 418.9,268.2 421,268.1 423.1,268.1 425.2,268 427.3,268 429.4,267.9 431.5,267.9 433.6,267.9 435.7,267.8 437.8,267.8 439.9,267.7 442,267.7 444.1,267.7 446.2,267.7 448.3,267.6 450.4,267.6 452.5,267.6 454.6,267.6 456.7,267.5 458.8,267.5 460.9,267.5 463,267.3 465.1,267 467.2,266.8 469.3,266.5 471.4,266.3 473.5,266.1 475.6,266 477.7,265.8 479.8,265.7 481.9,265.5 484,265.4 486.1,265.3 488.2,265.1 490.3,265 492.4,265 494.5,264.9 496.6,264.8 498.7,264.7 500.8,264.6 502.9,264.6 505,264.5 507.1,264.5 509.2,264.4 511.3,264.4 513.4,264.3 515.5,264.3 517.6,264.2 519.7,264.2 521.8,264.2 523.9,264.1 526,264.1 528.1,264.1 530.2,264.1 532.3,264 534.4,264 536.5,264 538.6,264 540.7,264 542.8,263.9 544.9,263.9 547,263.9 549.1,263.9 551.2,263.9 553.3,263.9 555.4,263.9 557.5,263.9 559.6,263.9 561.7,263.9 563.8,263.8 565.9,263.8 568,263.8 570.1,263.8 572.2,263.8 574.3,263.8 576.4,263.8 578.5,263.8 580.6,263.8 582.7,263.8 584.8,263.8 586.9,263.8 589,263.8 591.1,263.8 593.2,263.8 595.3,263.8 597.4,263.8 599.5,263.8 601.6,263.8 603.7,263.8 605.8,263.8 607.9,263.8" fill="none" stroke="#2c5da8" stroke-width="2.2" stroke-linejoin="round"/>
<path d="M194.2 426.5 194.9 425.4 195.6 424.9 196.3 422.5 197 420.2 197.7 417.9 198.4 420.3 199.1 422 199.8 423.9 200.5 425.8 201.2 425.5 201.9 426.9 202.6 427.1 203.3 427.7 204 427.4 204.7 426.7 205.4 428 206.1 427.6 206.8 420.3 207.5 410.9 208.2 406.9 208.9 403.8 209.6 400.6 210.3 397.9 211 397.8 211.7 397.9 212.4 396.1 213.1 392.6 213.8 387.8 214.5 390.4 215.2 393.3 215.9 391.8 216.6 390.9 217.3 388.8 218 386.7 218.7 384.7 219.4 382.6 220.1 382.8 220.8 382.9 221.5 383.1 222.2 382.1 222.9 379 223.6 375.8 224.3 372.7 225 374.1 225.7 375.6 226.4 376.4 227.1 373.2 227.8 370 228.5 371.6 229.2 369.8 229.9 371.9 230.6 372.9 231.3 371.2 232 369.9 232.7 365.2 233.4 368.5 234.1 364.9 234.8 360.1 235.5 363.6 236.2 365.5 236.9 366 237.6 366.6 238.3 365.9 239 364.8 239.7 363.1 240.4 361 241.1 362 241.8 362.3 242.5 361 243.2 359.7 243.9 360 244.6 358.6 245.3 356 246 353.5 246.7 355.1 247.4 356.6 248.1 358.3 248.8 358.4 249.5 358.5 250.2 357 250.9 357.8 251.6 357.2 252.3 354.4 253 350.8 253.7 353.6 254.4 355.8 255.1 355 255.8 354.2 256.5 353.5 257.2 353.3 257.9 353.1 258.6 353.1 259.3 352.9 260 352.6 260.7 352 261.4 351.4 262.1 351.6 262.8 350 263.5 350 264.2 348.6 264.9 346.6 265.6 344.6 266.3 346 267 347.4 267.7 348.8 268.4 348.4 269.1 348.4 269.8 347.1 270.5 345.2 271.2 343.3 271.9 341.4 272.6 342.8 273.3 344.2 274 345.6 274.7 346.2 275.4 345.6 276.1 345.1 276.8 344.5 277.5 344.6 278.2 344.6 278.9 344.9 279.6 345.1 280.3 344.9 281 345.6 281.7 344.2 282.4 344.8 283.1 344.2 283.8 344.2 284.5 343.5 285.2 343.1 285.9 342.9 286.6 340.2 287.3 337.4 288 334.7 288.7 337.1 289.4 339.5 290.1 341.9 290.8 341.9 291.5 342.3 292.2 340.9 292.9 339.8 293.6 337.9 294.3 335.3 295 332.7 295.7 335 296.4 337.4 297.1 339.7 297.8 340.8 298.5 341.5 299.2 339.7 299.9 340.4 300.6 339.1 301.3 331.8 302 324.5 302.7 317.9 303.4 315.6 304.1 313.8 304.8 312.3 305.5 310.6 306.2 307.8 306.9 305.2 307.6 303.2 308.3 300.4 309 298.1 309.7 295.8 310.4 294.8 311.1 294 311.8 292.3 312.5 292.6 313.2 290.3 313.9 288 314.6 283.7 315.3 279.4 316 281.9 316.7 284.6 317.4 286.2 318.1 284.6 318.8 283.4 319.5 278.5 320.2 273.7 320.9 277.4 321.6 281.1 322.3 281.9 323 278.1 323.7 274.4 324.4 277.2 325.1 279.7 325.8 279.9 326.5 278.5 327.2 276.1 327.9 273.8 328.6 271.5 329.3 273.1 330 274.7 330.7 276.3 331.4 276.7 332.1 275.2 332.8 273.4 333.5 271.7 334.2 269.9 334.9 271.1 335.6 272.3 336.3 269.7 337 271.6 337.7 270.5 338.4 270.5 339.1 266.1 339.8 270 340.5 273.2 341.2 272.1 341.9 272.3 342.6 271.5 343.3 268.3 344 265 344.7 267.9 345.4 263.3 346.1 266.9 346.8 265 347.5 266.5 348.2 267.9 348.9 268.9 349.6 267.5 350.3 266.1 351 267.2 351.7 268.3 352.4 267.3 353.1 264.2 353.8 267 354.5 269.3 355.2 268.7 355.9 267 356.6 269 357.3 268.4 358 267.8 358.7 267.1 359.4 266.3 360.1 265 360.8 263.7 361.5 264.8 362.2 265.8 362.9 265.7 363.6 266.2 364.3 266.7 365 266.3 365.7 266.5 366.4 268.3 367.1 265.5 367.8 263.7 368.5 262 369.2 263.5 369.9 264.3 370.6 265 371.3 265.3 372 266 372.7 265.1 373.4 266.5 374.1 265.2 374.8 265 375.5 263.8 376.2 262.6 376.9 261.9 377.6 260 378.3 258.2 379 257.2 379.7 259.6 380.4 260.6 381.1 262.1 381.8 260.5 382.5 261.9 383.2 263.3 383.9 264.3 384.6 264.9 385.3 265.2 386 264.8 386.7 264 387.4 262.7 388.1 261.4 388.8 260.1 389.5 261.3 390.2 262.5 390.9 263.6 391.6 262.9 392.3 261.6 393 260.3 393.7 261.5 394.4 262.7 395.1 263.9 395.8 263.3 396.5 263.5 397.2 264.2 397.9 263.7 398.6 263.6 399.3 263.2 400 263.4 400.7 263.9 401.4 263.9 402.1 264.3 402.8 263.6 403.5 263.2 404.2 262.3 404.9 261.4 405.6 260.5 406.3 261.4 407 262.2 407.7 263 408.4 262.2 409.1 263.2 409.8 264 410.5 263.9 411.2 263.3 411.9 263 412.6 262.6 413.3 264.4 414 262.4 414.7 262.9 415.4 261.8 416.1 260.6 416.8 259.4 417.5 260.6 418.2 260.2 418.9 258.8 419.6 260.2 420.3 261.6 421 263 421.7 263.1 422.4 262.3 423.1 262.8 423.8 262.6 424.5 262.6 425.2 262.8 425.9 262.8 426.6 263.3 427.3 263 428 262 428.7 263.4 429.4 262.9 430.1 263.4 430.8 261.2 431.5 258.6 432.2 255.9 432.9 253.3 433.6 255.9 434.3 258.5 435 261.1 435.7 262 436.4 262.3 437.1 262.6 437.8 262.8 438.5 261.4 439.2 258.7 439.9 256.1 440.6 258.7 441.3 261.3 442 260.2 442.7 254.6 443.4 260.2 444.1 262.4 444.8 262.3 445.5 261.2 446.2 260.1 446.9 259 447.6 260.1 448.3 261.2 449 262.3 449.7 263.1 450.4 263.7 451.1 262.1 451.8 262.3 452.5 263.1 453.2 262.2 453.9 262.5 454.6 262.4 455.3 263.1 456 262.6 456.7 262.1 457.4 260.3 458.1 258.5 458.8 260.3 459.5 261.5 460.2 262.1 460.9 262 461.6 261.7 462.3 261.8 463 261.9 463.7 261.8 464.4 260.1 465.1 257 465.8 259.5 466.5 258.3 467.2 259.3 467.9 260.3 468.6 258.7 469.3 256.9 470 255.2 470.7 256.7 471.4 258.1 472.1 258.7 472.8 259.3 473.5 260 474.2 260.1 474.9 259.6 475.6 259.8 476.3 259.6 477 259.6 477.7 259.7 478.4 259.3 479.1 258.7 479.8 258.2 480.5 258.5 481.2 258.9 481.9 259.3 482.6 259.8 483.3 258.9 484 258.7 484.7 258.5 485.4 259.2 486.1 257.4 486.8 253.7 487.5 250 488.2 253.6 488.9 257.1 489.6 258.3 490.3 257.7 491 257.1 491.7 257.6 492.4 258 493.1 258.5 493.8 257.4 494.5 258.6 495.2 257.7 495.9 257.5 496.6 258.3 497.3 257.9 498 257 498.7 255.5 499.4 253.9 500.1 252.3 500.8 253.8 501.5 255.3 502.2 255 502.9 253.1 503.6 252.8 504.3 249.9 505 252.8 505.7 255.6 506.4 257.1 507.1 255.5 507.8 252.5 508.5 249.6 509.2 252.4 509.9 255.3 510.6 257 511.3 254.1 512 248.5 512.7 253.2 513.4 254.7 514.1 256.1 514.8 256.7 515.5 255.3 516.2 257.7 516.9 257.2 517.6 256.6 518.3 255.1 519 255.6 519.7 255.1 520.4 255.5 521.1 255.6 521.8 256.4 522.5 257.2 523.2 255.9 523.9 257.1 524.6 256.6 525.3 256.8 526 256.1 526.7 257.1 527.4 255.1 528.1 253.2 528.8 250.7 529.5 248.2 530.2 250.7 530.9 253.1 531.6 251.5 532.3 249.4 533 251.4 533.7 253.5 534.4 255.6 535.1 255.6 535.8 254.6 536.5 252.7 537.2 254.6 537.9 256.8 538.6 256.3 539.3 255.4 540 256.3 540.7 255.4 541.4 254.4 542.1 253.3 542.8 252.2 543.5 253.3 544.2 254.3 544.9 255.4 545.6 255.8 546.3 255 547 255.6 547.7 256.5 548.4 255.3 549.1 256 549.8 255.7 550.5 255.2 551.2 254.9 551.9 254.4 552.6 254.9 553.3 255.5 554 255.8 554.7 256.3 555.4 255.1 556.1 255.6 556.8 255.2 557.5 256.2 558.2 252.8 558.9 248.9 559.6 252.8 560.3 255.6 561 254.7 561.7 252.8 562.4 254.7 563.1 256 563.8 255.9 564.5 256.1 565.2 254.8 565.9 255.4 566.6 255.7 567.3 255.1 568 255.9 568.7 256 569.4 255 570.1 253.7 570.8 252.4 571.5 251.1 572.2 246.5 572.9 251.5 573.6 253.9 574.3 255.9 575 255.4 575.7 256 576.4 256 577.1 255.5 577.8 254.1 578.5 255.8 579.2 255.6 579.9 255.2 580.6 255.8 581.3 255.4 582 254.9 582.7 256.4 583.4 255.4 584.1 255.4 584.8 255.5 585.5 255.3 586.2 256.2 586.9 255.5 587.6 255.5 588.3 253.8 589 251.5 589.7 249.2 590.4 246.9 591.1 249.2 591.8 251.3 592.5 246.5 593.2 251.3 593.9 254.6 594.6 251 595.3 247.4 596 251 596.7 253.9 597.4 252.5 598.1 251.2 598.8 252.5 599.5 251 600.2 246.8 600.9 251 601.6 252.5 602.3 250.2 603 251.4 603.7 247.2 604.4 251.4 605.1 254.5 605.8 255.5 606.5 255.3 607.2 254.6 607.9 254.6 608.6 254.4 609.3 256.1 609.3 267.3 608.6 264.4 607.9 261.9 607.2 263.3 606.5 264.7 605.8 266.1 605.1 264.9 604.4 263.5 603.7 263.9 603 265.2 602.3 263.9 601.6 263.6 600.9 263.8 600.2 268.8 599.5 264.4 598.8 263.4 598.1 263.4 597.4 265.3 596.7 268.8 596 265.3 595.3 261.8 594.6 261.1 593.9 261.5 593.2 262.1 592.5 261.5 591.8 263.7 591.1 267.1 590.4 270.5 589.7 267.1 589 264.3 588.3 263.3 587.6 262.3 586.9 261.7 586.2 262 585.5 261.6 584.8 262.3 584.1 262 583.4 261.9 582.7 261.5 582 262.5 581.3 265.2 580.6 267.9 579.9 270.5 579.2 267.9 578.5 265.2 577.8 262.6 577.1 265.3 576.4 268.1 575.7 270.9 575 268.1 574.3 265.3 573.6 262.5 572.9 261.7 572.2 262.2 571.5 262.7 570.8 263.4 570.1 264.3 569.4 263.5 568.7 262.7 568 263.8 567.3 267.1 566.6 270.4 565.9 268.9 565.2 266.8 564.5 264.7 563.8 262.6 563.1 261.5 562.4 261.6 561.7 262.7 561 261.2 560.3 262.4 559.6 263.3 558.9 264.2 558.2 263.3 557.5 262.4 556.8 262.5 556.1 263.9 555.4 265.3 554.7 266.7 554 265.3 553.3 263.9 552.6 263 551.9 263.8 551.2 264.5 550.5 264.1 549.8 265.1 549.1 264.2 548.4 263.3 547.7 262.5 547 261.9 546.3 262.3 545.6 263.2 544.9 262.7 544.2 262.1 543.5 261.6 542.8 262.1 542.1 263 541.4 262.2 540.7 262.2 540 262.6 539.3 262.6 538.6 262.8 537.9 262.5 537.2 262.4 536.5 263 535.8 262.2 535.1 264.5 534.4 267 533.7 269.4 533 267 532.3 264.6 531.6 263.5 530.9 264.5 530.2 265.5 529.5 264.5 528.8 263.6 528.1 263.2 527.4 263.3 526.7 264.5 526 263.4 525.3 262.4 524.6 262.7 523.9 262.9 523.2 263.5 522.5 262.5 521.8 263.8 521.1 267.4 520.4 271 519.7 267.5 519 263.9 518.3 262.9 517.6 262.9 516.9 263.9 516.2 262.6 515.5 263.7 514.8 263.2 514.1 262.7 513.4 263.1 512.7 262.3 512 263.9 511.3 262.9 510.6 263.9 509.9 263.3 509.2 263.5 508.5 264 507.8 263.2 507.1 263.6 506.4 263.9 505.7 264.6 505 264.3 504.3 263.5 503.6 263.9 502.9 264.8 502.2 263.6 501.5 264.1 500.8 264.1 500.1 264.3 499.4 264.6 498.7 264.8 498 264.9 497.3 264.7 496.6 263.9 495.9 264.9 495.2 264.5 494.5 264.5 493.8 264.6 493.1 264.6 492.4 265.4 491.7 264.2 491 264.8 490.3 265.5 489.6 265.6 488.9 264.7 488.2 265.6 487.5 265.7 486.8 265.2 486.1 265.5 485.4 266.1 484.7 265.2 484 265.5 483.3 265.8 482.6 270 481.9 274.8 481.2 270.1 480.5 266.6 479.8 266.9 479.1 266.7 478.4 266.8 477.7 267.2 477 267.4 476.3 266.7 475.6 266.5 474.9 266.6 474.2 266.8 473.5 267.5 472.8 267 472.1 268 471.4 270.5 470.7 273.2 470 275.8 469.3 273.4 468.6 270.9 467.9 268.5 467.2 267.8 466.5 267.9 465.8 267.9 465.1 267.4 464.4 268.8 463.7 268 463 269.5 462.3 269.5 461.6 268.4 460.9 269.1 460.2 269.1 459.5 268.9 458.8 269.8 458.1 270.9 457.4 273.3 456.7 275.8 456 273.3 455.3 270.9 454.6 270.8 453.9 273 453.2 270.8 452.5 269.2 451.8 268.9 451.1 269.4 450.4 269 449.7 268.9 449 272.7 448.3 276.8 447.6 272.7 446.9 272.2 446.2 273.6 445.5 272.2 444.8 270.8 444.1 269.4 443.4 269.1 442.7 273.6 442 278.1 441.3 273.6 440.6 269.3 439.9 269 439.2 268.9 438.5 269.8 437.8 269.3 437.1 269.9 436.4 270.4 435.7 271 435 272.2 434.3 273.7 433.6 272.3 432.9 270.9 432.2 269.5 431.5 269.3 430.8 269.2 430.1 270.3 429.4 272.6 428.7 274.9 428 272.8 427.3 274.3 426.6 272.8 425.9 271.3 425.2 269.8 424.5 269.6 423.8 269.3 423.1 271.7 422.4 274.4 421.7 271.8 421 269.5 420.3 270.1 419.6 269.5 418.9 269.3 418.2 269.4 417.5 269 416.8 269 416.1 268.5 415.4 269.3 414.7 270 414 269.7 413.3 269.7 412.6 269.7 411.9 269.1 411.2 269.6 410.5 269.3 409.8 270 409.1 270.3 408.4 268.5 407.7 270 407 270.7 406.3 270.5 405.6 269.4 404.9 269.1 404.2 272 403.5 275.4 402.8 272.1 402.1 270.7 401.4 271.1 400.7 271.4 400 272 399.3 273 398.6 275 397.9 277.1 397.2 275.1 396.5 273.5 395.8 276.8 395.1 280.1 394.4 276.9 393.7 273.7 393 272.2 392.3 273.4 391.6 272.3 390.9 273.9 390.2 277.6 389.5 274 388.8 271.8 388.1 271.1 387.4 271.4 386.7 271.6 386 272.9 385.3 274.3 384.6 275.7 383.9 274.4 383.2 273.9 382.5 275.5 381.8 274.4 381.1 273.4 380.4 272.4 379.7 272.2 379 272.1 378.3 271.8 377.6 272.3 376.9 273 376.2 271.8 375.5 272.2 374.8 272.1 374.1 275.2 373.4 278.3 372.7 277.6 372 280.8 371.3 277.7 370.6 275.1 369.9 273.5 369.2 275.1 368.5 276.8 367.8 275.3 367.1 273.9 366.4 273.9 365.7 273.9 365 273.7 364.3 273.6 363.6 275.6 362.9 280 362.2 276.6 361.5 278.1 360.8 276.8 360.1 275.5 359.4 274.9 358.7 274 358 274.5 357.3 274 356.6 274.5 355.9 275.4 355.2 275 354.5 275.2 353.8 275 353.1 275.5 352.4 275.3 351.7 275.8 351 276.4 350.3 274.8 349.6 276.6 348.9 277.3 348.2 276.4 347.5 276.9 346.8 277.2 346.1 279 345.4 281.5 344.7 284.1 344 286.7 343.3 284.5 342.6 284.8 341.9 282.5 341.2 280.1 340.5 279.5 339.8 279.5 339.1 280 338.4 279.2 337.7 279.7 337 280.8 336.3 281.1 335.6 281.5 334.9 280.6 334.2 281.9 333.5 281.9 332.8 283.3 332.1 284.7 331.4 283.9 330.7 283.3 330 283.3 329.3 284 328.6 285 327.9 286 327.2 285.7 326.5 285.5 325.8 286.2 325.1 286.1 324.4 286.3 323.7 286.7 323 287.5 322.3 287.5 321.6 288.8 320.9 288.4 320.2 289.6 319.5 290.5 318.8 290.5 318.1 292 317.4 295 316.7 299 316 296.5 315.3 297.4 314.6 301.7 313.9 299.2 313.2 296.2 312.5 298.1 311.8 299.1 311.1 301.5 310.4 301.1 309.7 303.7 309 305.4 308.3 306.9 307.6 310.3 306.9 314.8 306.2 320.1 305.5 325.6 304.8 325.9 304.1 326.5 303.4 328.2 302.7 331.6 302 336.3 301.3 340.9 300.6 346.9 299.9 349.3 299.2 352 298.5 354.7 297.8 352.3 297.1 349.8 296.4 347.9 295.7 347.7 295 348.1 294.3 348.2 293.6 347.8 292.9 349 292.2 348.8 291.5 349.7 290.8 350.7 290.1 352.1 289.4 354.3 288.7 352.5 288 350.6 287.3 349.7 286.6 350.5 285.9 350 285.2 348.7 284.5 349.7 283.8 349.7 283.1 350.7 282.4 350.7 281.7 350.9 281 350.3 280.3 350.8 279.6 351.5 278.9 353.3 278.2 355.2 277.5 355.9 276.8 358.8 276.1 356.3 275.4 353.7 274.7 356.3 274 359.5 273.3 362.7 272.6 360 271.9 359.6 271.2 358.2 270.5 356.7 269.8 355.3 269.1 357.7 268.4 361.2 267.7 358.3 267 354.5 266.3 355.8 265.6 356.4 264.9 356.6 264.2 356.8 263.5 357.2 262.8 357.1 262.1 360.7 261.4 364.3 260.7 361.4 260 359.9 259.3 361.1 258.6 360.5 257.9 360.7 257.2 361.7 256.5 362.9 255.8 366.3 255.1 369.6 254.4 367 253.7 365.6 253 364.8 252.3 364 251.6 363.2 250.9 363.5 250.2 363.8 249.5 362.9 248.8 363.9 248.1 365.9 247.4 365.8 246.7 367.7 246 370 245.3 374.8 244.6 376.7 243.9 374.1 243.2 371.5 242.5 369.1 241.8 369.9 241.1 370.6 240.4 370.8 239.7 371.6 239 372.6 238.3 373.9 237.6 375.3 236.9 376.6 236.2 376.5 235.5 377.8 234.8 380.5 234.1 379.1 233.4 377.6 232.7 378 232 379.1 231.3 377.8 230.6 379.1 229.9 380.6 229.2 384.3 228.5 390.2 227.8 385.8 227.1 389 226.4 393.7 225.7 390.6 225 388.9 224.3 393.9 223.6 390.3 222.9 391.1 222.2 393.9 221.5 392.9 220.8 391.9 220.1 392 219.4 392.6 218.7 393.8 218 394.6 217.3 396.2 216.6 397.7 215.9 397.7 215.2 398.3 214.5 400.1 213.8 400.5 213.1 402.4 212.4 407.1 211.7 411.8 211 409.5 210.3 407.5 209.6 409.2 208.9 409.7 208.2 413.6 207.5 417.1 206.8 427.4 206.1 434.2 205.4 434.3 204.7 434 204 433.9 203.3 432.7 202.6 434 201.9 435.4 201.2 436.8 200.5 438.3 199.8 436.6 199.1 436.6 198.4 439 197.7 436.5 197 434 196.3 432.3 195.6 432.2 194.9 431.6 194.2 432.9Z" fill="#8061b0"/>
<polyline points="194.2,429.3 196.3,429.3 198.4,429.5 200.5,429.8 202.6,430.2 204.7,430.7 206.8,424 208.9,407.1 211,402.5 213.1,399 215.2,395.7 217.3,392.6 219.4,389.7 221.5,386.9 223.6,384.3 225.7,381.8 227.8,379.5 229.9,377.2 232,375.1 234.1,373.1 236.2,371.2 238.3,369.4 240.4,367.7 242.5,366.1 244.6,364.5 246.7,363.1 248.8,361.7 250.9,360.4 253,359.2 255.1,358 257.2,356.9 259.3,355.8 261.4,354.8 263.5,353.9 265.6,353 267.7,352.2 269.8,351.4 271.9,350.6 274,349.9 276.1,349.2 278.2,348.5 280.3,347.9 282.4,347.3 284.5,346.8 286.6,346.3 288.7,345.8 290.8,345.3 292.9,344.9 295,344.4 297.1,344 299.2,343.7 301.3,338.1 303.4,323.9 305.5,313.7 307.6,306.2 309.7,300.6 311.8,296.3 313.9,293 316,290.3 318.1,288.1 320.2,286.2 322.3,284.6 324.4,283.2 326.5,282 328.6,280.8 330.7,279.8 332.8,278.9 334.9,278 337,277.2 339.1,276.4 341.2,275.8 343.3,275.1 345.4,274.5 347.5,273.9 349.6,273.4 351.7,272.9 353.8,272.4 355.9,272 358,271.6 360.1,271.2 362.2,270.8 364.3,270.5 366.4,270.2 368.5,269.9 370.6,269.6 372.7,269.3 374.8,269.1 376.9,268.8 379,268.6 381.1,268.4 383.2,268.2 385.3,268.1 387.4,267.9 389.5,267.7 391.6,267.6 393.7,267.4 395.8,267.3 397.9,267.2 400,267.1 402.1,267 404.2,266.9 406.3,266.8 408.4,266.7 410.5,266.6 412.6,266.5 414.7,266.5 416.8,266.4 418.9,266.3 421,266.3 423.1,266.2 425.2,266.2 427.3,266.1 429.4,266.1 431.5,266 433.6,266 435.7,265.9 437.8,265.9 439.9,265.9 442,265.8 444.1,265.8 446.2,265.8 448.3,265.7 450.4,265.7 452.5,265.7 454.6,265.7 456.7,265.7 458.8,265.6 460.9,265.6 463,265.3 465.1,264.9 467.2,264.6 469.3,264.3 471.4,264 473.5,263.7 475.6,263.4 477.7,263.1 479.8,262.9 481.9,262.6 484,262.4 486.1,262.2 488.2,262 490.3,261.8 492.4,261.6 494.5,261.4 496.6,261.3 498.7,261.1 500.8,261 502.9,260.8 505,260.7 507.1,260.6 509.2,260.4 511.3,260.3 513.4,260.2 515.5,260.1 517.6,260 519.7,259.9 521.8,259.8 523.9,259.7 526,259.7 528.1,259.6 530.2,259.5 532.3,259.4 534.4,259.4 536.5,259.3 538.6,259.2 540.7,259.2 542.8,259.1 544.9,259.1 547,259 549.1,259 551.2,258.9 553.3,258.9 555.4,258.9 557.5,258.8 559.6,258.8 561.7,258.8 563.8,258.7 565.9,258.7 568,258.7 570.1,258.6 572.2,258.6 574.3,258.6 576.4,258.6 578.5,258.5 580.6,258.5 582.7,258.5 584.8,258.5 586.9,258.5 589,258.4 591.1,258.4 593.2,258.4 595.3,258.4 597.4,258.4 599.5,258.4 601.6,258.4 603.7,258.3 605.8,258.3 607.9,258.3" fill="none" stroke="#8061b0" stroke-width="2.2" stroke-linejoin="round"/>
<path d="M194.2 425.8 194.9 425.3 195.6 424.5 196.3 423.7 197 424.6 197.7 425.5 198.4 425.2 199.1 423 199.8 420.8 200.5 423.2 201.2 423.3 201.9 421.4 202.6 423.6 203.3 425.8 204 427.5 204.7 427.8 205.4 427.2 206.1 427.3 206.8 420.8 207.5 411.4 208.2 407.5 208.9 403.5 209.6 401.5 210.3 399.1 211 396.7 211.7 394.5 212.4 392.7 213.1 393.4 213.8 393.1 214.5 390.9 215.2 388.8 215.9 388.8 216.6 388.9 217.3 388.8 218 388.5 218.7 386.9 219.4 387.1 220.1 386.2 220.8 384.6 221.5 382.9 222.2 383.5 222.9 381.7 223.6 380.5 224.3 379.3 225 378.8 225.7 378.2 226.4 377.7 227.1 377.5 227.8 376.9 228.5 375.2 229.2 376.1 229.9 374.5 230.6 372.9 231.3 372.3 232 371 232.7 370.9 233.4 370.7 234.1 370.2 234.8 368.9 235.5 367.2 236.2 365.6 236.9 366 237.6 366.4 238.3 366.2 239 363.8 239.7 361.1 240.4 362.7 241.1 364.4 241.8 363.6 242.5 363 243.2 363 243.9 362.1 244.6 360.6 245.3 359 246 357.3 246.7 358 247.4 357.5 248.1 357.8 248.8 357 249.5 355.4 250.2 353.7 250.9 354.5 251.6 354 252.3 352.3 253 350 253.7 351.5 254.4 353.1 255.1 354.5 255.8 352.1 256.5 348.2 257.2 348.2 257.9 350.3 258.6 352.4 259.3 353.4 260 352.4 260.7 351.5 261.4 351.4 262.1 349.6 262.8 347.9 263.5 346.2 264.2 347.3 264.9 348.4 265.6 347.4 266.3 343.8 267 343.8 267.7 345.9 268.4 348 269.1 348.8 269.8 348.6 270.5 348 271.2 347 271.9 347.6 272.6 346.8 273.3 346.2 274 345 274.7 344.1 275.4 342.5 276.1 337.7 276.8 342.1 277.5 345.1 278.2 345.2 278.9 346 279.6 345.2 280.3 344.9 281 344.9 281.7 344.9 282.4 344 283.1 343.8 283.8 343.7 284.5 343.1 285.2 342.4 285.9 341.7 286.6 342 287.3 342.3 288 342.4 288.7 342.9 289.4 342.6 290.1 343.1 290.8 343 291.5 341.5 292.2 341.4 292.9 341.5 293.6 340.8 294.3 338.6 295 336.5 295.7 334.3 296.4 336.2 297.1 338.1 297.8 339.9 298.5 340.8 299.2 341.1 299.9 340.6 300.6 340.4 301.3 334.5 302 329.3 302.7 324.3 303.4 320.6 304.1 317.2 304.8 312.4 305.5 307.5 306.2 306.5 306.9 305.1 307.6 302.2 308.3 300.7 309 298.8 309.7 293.6 310.4 286.6 311.1 290.6 311.8 293.6 312.5 292.2 313.2 290.7 313.9 289 314.6 289.6 315.3 288.9 316 287.5 316.7 285.6 317.4 286 318.1 283.6 318.8 280.4 319.5 282.3 320.2 282.8 320.9 281.9 321.6 281 322.3 280.8 323 280.4 323.7 277.2 324.4 273.7 325.1 270.2 325.8 272.8 326.5 275.5 327.2 277.5 327.9 277.9 328.6 277.1 329.3 277.5 330 276.4 330.7 276 331.4 275.5 332.1 274.5 332.8 273.6 333.5 273.9 334.2 273.7 334.9 271.1 335.6 273.2 336.3 275.1 337 274.8 337.7 274.4 338.4 273.5 339.1 273.7 339.8 273.7 340.5 272.1 341.2 272.1 341.9 272.5 342.6 271.3 343.3 272.3 344 268.2 344.7 264.4 345.4 267.8 346.1 270.7 346.8 271.1 347.5 271.2 348.2 270.5 348.9 270.1 349.6 270.1 350.3 269.2 351 267.5 351.7 265.4 352.4 264.2 353.1 265.5 353.8 266.9 354.5 268.1 355.2 266.9 355.9 268 356.6 268.7 357.3 268.5 358 267.7 358.7 269.2 359.4 267.5 360.1 267.9 360.8 267.6 361.5 268.7 362.2 266.6 362.9 267.8 363.6 267.2 364.3 267.5 365 265.7 365.7 266.1 366.4 265.4 367.1 264.8 367.8 265.2 368.5 265.7 369.2 266.1 369.9 266.1 370.6 265.6 371.3 266.3 372 265.2 372.7 263.5 373.4 261.9 374.1 263.4 374.8 264.9 375.5 263.9 376.2 262 376.9 263.7 377.6 265.4 378.3 265.8 379 266 379.7 265.3 380.4 264.7 381.1 266.1 381.8 263.9 382.5 259.9 383.2 256 383.9 259.8 384.6 263 385.3 261.5 386 260 386.7 261.4 387.4 262.8 388.1 262 388.8 260.7 389.5 261.9 390.2 261.6 390.9 262.7 391.6 263.5 392.3 264.4 393 262.9 393.7 263.9 394.4 263.1 395.1 262.3 395.8 263 396.5 263.8 397.2 264.4 397.9 263.5 398.6 262.3 399.3 260.8 400 259.3 400.7 258.7 401.4 256.5 402.1 258.6 402.8 260.7 403.5 261.9 404.2 260.6 404.9 259.4 405.6 260.6 406.3 261.8 407 263 407.7 262.8 408.4 261.4 409.1 260.1 409.8 261.4 410.5 262.7 411.2 259 411.9 253.9 412.6 258.9 413.3 262.8 414 264 414.7 262.8 415.4 263.9 416.1 261.8 416.8 261.2 417.5 258.6 418.2 255.9 418.9 258.5 419.6 261.1 420.3 263.2 421 262 421.7 260.8 422.4 259.7 423.1 260.8 423.8 261.9 424.5 263.3 425.2 263.6 425.9 259 426.6 254.2 427.3 258.9 428 263 428.7 262.8 429.4 263.2 430.1 262.7 430.8 263 431.5 262.4 432.2 262.7 432.9 262.9 433.6 262.5 434.3 262.6 435 263.2 435.7 262.5 436.4 260.7 437.1 256.8 437.8 259.4 438.5 255.5 439.2 259.4 439.9 262.9 440.6 262.5 441.3 261.8 442 260.8 442.7 259.4 443.4 259.4 444.1 257.4 444.8 255.4 445.5 257.4 446.2 259.3 446.9 261.3 447.6 262.1 448.3 262.9 449 263.1 449.7 262.8 450.4 261.7 451.1 262.4 451.8 261.7 452.5 261.8 453.2 261.8 453.9 262.5 454.6 261.9 455.3 261.1 456 260.3 456.7 259.5 457.4 260.3 458.1 261.1 458.8 261.9 459.5 261.9 460.2 261.2 460.9 260.5 461.6 261.2 462.3 261.9 463 262.9 463.7 262.5 464.4 260 465.1 257.6 465.8 255.1 466.5 257.6 467.2 257.5 467.9 259.2 468.6 260.9 469.3 261.8 470 260.3 470.7 258.4 471.4 260.3 472.1 262.3 472.8 263 473.5 261.9 474.2 261.2 474.9 259.9 475.6 258.6 476.3 259.9 477 261.2 477.7 262.3 478.4 262.3 479.1 260.6 479.8 258.1 480.5 255.5 481.2 258.1 481.9 260.6 482.6 262.3 483.3 262 484 262 484.7 262.3 485.4 262.5 486.1 262 486.8 262.1 487.5 261.3 488.2 260.2 488.9 259.1 489.6 260.2 490.3 261.3 491 262.2 491.7 263.3 492.4 261.8 493.1 260.6 493.8 259.5 494.5 260.6 495.2 261.8 495.9 263 496.6 262.9 497.3 262.8 498 262.9 498.7 262.2 499.4 263.2 500.1 261.4 500.8 257.2 501.5 253.1 502.2 257.2 502.9 261.4 503.6 262.5 504.3 262.5 505 262.1 505.7 261.2 506.4 260.3 507.1 259.4 507.8 260.2 508.5 259 509.2 260.2 509.9 261.4 510.6 262.7 511.3 262.8 512 262.1 512.7 262.6 513.4 261.8 514.1 262 514.8 262.1 515.5 263.3 516.2 263 516.9 262 517.6 262.3 518.3 262.1 519 261.5 519.7 262.8 520.4 261.8 521.1 262.7 521.8 262.6 522.5 262.9 523.2 263.4 523.9 261.7 524.6 262.5 525.3 263.6 526 262.1 526.7 262 527.4 260 528.1 257.8 528.8 256.3 529.5 258.4 530.2 259.3 530.9 259.8 531.6 256.8 532.3 259.8 533 261.9 533.7 262.2 534.4 261.3 535.1 260.3 535.8 261.3 536.5 262.2 537.2 261.6 537.9 263.2 538.6 262.6 539.3 262 540 262.8 540.7 262.1 541.4 261.5 542.1 260.8 542.8 261.5 543.5 260.9 544.2 259.8 544.9 258.7 545.6 259.8 546.3 260.9 547 262 547.7 262.5 548.4 262.2 549.1 261.6 549.8 262.2 550.5 262.6 551.2 261.9 551.9 262.7 552.6 262 553.3 262 554 261.9 554.7 261.7 555.4 259.8 556.1 256.9 556.8 254 557.5 256.9 558.2 259.2 558.9 260.4 559.6 261.6 560.3 263.1 561 263.6 561.7 262.4 562.4 262.1 563.1 262.5 563.8 262.3 564.5 261.8 565.2 262.9 565.9 261.9 566.6 260 567.3 258.1 568 256.3 568.7 258.1 569.4 260 570.1 261.9 570.8 262.2 571.5 261 572.2 258.7 572.9 256.3 573.6 257.9 574.3 255.9 575 257.9 575.7 260 576.4 262.1 577.1 262.7 577.8 262.1 578.5 263 579.2 261.9 579.9 262.3 580.6 262.7 581.3 262.5 582 262.8 582.7 262 583.4 263.5 584.1 262.3 584.8 263.2 585.5 261.7 586.2 262.7 586.9 261.6 587.6 262.1 588.3 261.9 589 262.5 589.7 263.4 590.4 261.7 591.1 262.2 591.8 261.1 592.5 258.6 593.2 256 593.9 253.5 594.6 256 595.3 258.6 596 254.8 596.7 259.1 597.4 261.7 598.1 261.3 598.8 259.6 599.5 257.9 600.2 256.2 600.9 257.9 601.6 256.7 602.3 259.6 603 262.5 603.7 262.6 604.4 262.8 605.1 262.3 605.8 261.9 606.5 258.1 607.2 254.3 607.9 258.1 608.6 261.9 609.3 262.1 609.3 271.3 608.6 272.9 607.9 271.6 607.2 273.1 606.5 271.6 605.8 270.1 605.1 269 604.4 268.6 603.7 269.5 603 269.3 602.3 268.9 601.6 267.6 600.9 269.6 600.2 270.7 599.5 271.7 598.8 270.7 598.1 269.6 597.4 268.7 596.7 268.6 596 269 595.3 270.5 594.6 272 593.9 273.5 593.2 272 592.5 270.7 591.8 273.5 591.1 276.3 590.4 273.5 589.7 270.7 589 269.9 588.3 268.5 587.6 269.1 586.9 271.5 586.2 273.9 585.5 271.5 584.8 269.5 584.1 270 583.4 270.5 582.7 270 582 269.5 581.3 269 580.6 268 579.9 269.1 579.2 271 578.5 273.4 577.8 271 577.1 267.9 576.4 268.8 575.7 271.1 575 276.3 574.3 271.1 573.6 269.6 572.9 270.4 572.2 272.4 571.5 274.5 570.8 275.8 570.1 273.4 569.4 270.9 568.7 269 568 269.3 567.3 269.6 566.6 268.6 565.9 269.1 565.2 269.8 564.5 269.1 563.8 268.5 563.1 269 562.4 268.4 561.7 268.8 561 268.5 560.3 269.3 559.6 269.3 558.9 271 558.2 272.6 557.5 271 556.8 269.3 556.1 268.6 555.4 268.5 554.7 269.7 554 271.2 553.3 272.8 552.6 274 551.9 271.3 551.2 268.9 550.5 269.3 549.8 269.8 549.1 272 548.4 274.8 547.7 272 547 270.2 546.3 269.4 545.6 269.2 544.9 269.2 544.2 269.8 543.5 269.4 542.8 270.5 542.1 272.1 541.4 273.8 540.7 272.1 540 273.5 539.3 275.4 538.6 273.5 537.9 271.6 537.2 269.8 536.5 268.7 535.8 268.9 535.1 268.2 534.4 268.5 533.7 269.8 533 270.4 532.3 271.1 531.6 270.4 530.9 269.6 530.2 269.3 529.5 269 528.8 268.5 528.1 269.6 527.4 268.3 526.7 268.5 526 267.9 525.3 268 524.6 269.5 523.9 268.8 523.2 271.5 522.5 274.5 521.8 271.5 521.1 268.3 520.4 270.1 519.7 267.8 519 269.8 518.3 272.2 517.6 274.5 516.9 276.8 516.2 274.5 515.5 272.2 514.8 269.8 514.1 268.4 513.4 269.9 512.7 270 512 268.4 511.3 270.1 510.6 273.8 509.9 277.5 509.2 273.8 508.5 270.1 507.8 268.4 507.1 269.9 506.4 269.2 505.7 269.5 505 269.1 504.3 269.9 503.6 270.8 502.9 269.9 502.2 269.1 501.5 270.2 500.8 273.6 500.1 277 499.4 273.6 498.7 270.2 498 268.8 497.3 268.6 496.6 268.5 495.9 268.2 495.2 269.4 494.5 268.5 493.8 268.9 493.1 267.9 492.4 269.4 491.7 270.5 491 271.6 490.3 272.6 489.6 274.6 488.9 276.8 488.2 274.6 487.5 272.4 486.8 273.8 486.1 278.3 485.4 273.8 484.7 271.1 484 274.3 483.3 271.3 482.6 274 481.9 276.7 481.2 274 480.5 271.3 479.8 270.4 479.1 271.4 478.4 270.4 477.7 269.4 477 269.2 476.3 268.5 475.6 269.3 474.9 269.8 474.2 268.8 473.5 268.7 472.8 269.5 472.1 269 471.4 268.6 470.7 268.8 470 270.5 469.3 272.6 468.6 270.5 467.9 269.1 467.2 269.3 466.5 270 465.8 270.7 465.1 270 464.4 270 463.7 268.7 463 269.1 462.3 268.9 461.6 268 460.9 269.5 460.2 269.5 459.5 268.3 458.8 269.4 458.1 267.6 457.4 269.1 456.7 268.7 456 268.8 455.3 267.9 454.6 268.6 453.9 269.7 453.2 270.5 452.5 272.8 451.8 270.5 451.1 269.1 450.4 269.3 449.7 269 449 268.7 448.3 268.9 447.6 269 446.9 268.8 446.2 269.9 445.5 272.3 444.8 274.7 444.1 277.1 443.4 274.7 442.7 272.3 442 269.9 441.3 268.9 440.6 269 439.9 269.8 439.2 268.8 438.5 269.1 437.8 269 437.1 269 436.4 269.2 435.7 270.6 435 272.1 434.3 273.5 433.6 272.1 432.9 270.7 432.2 269.3 431.5 269.6 430.8 269.1 430.1 268.6 429.4 269.9 428.7 269.1 428 270.1 427.3 271.4 426.6 272.7 425.9 271.4 425.2 270.1 424.5 269.9 423.8 269.2 423.1 269.6 422.4 269.9 421.7 270.3 421 270.7 420.3 270.3 419.6 270 418.9 270.3 418.2 271.2 417.5 270.3 416.8 270.2 416.1 269.7 415.4 270.5 414.7 273.1 414 275.8 413.3 278.4 412.6 278.9 411.9 276.2 411.2 273.4 410.5 275.3 409.8 277.3 409.1 275.3 408.4 273.3 407.7 271.3 407 271 406.3 272.9 405.6 274.8 404.9 273 404.2 273.3 403.5 275.2 402.8 277.1 402.1 275.3 401.4 273.4 400.7 272.4 400 275.8 399.3 272.5 398.6 275.1 397.9 272.8 397.2 274.1 396.5 272.9 395.8 271.7 395.1 270.6 394.4 271.5 393.7 272.4 393 273.4 392.3 272.5 391.6 271.7 390.9 274 390.2 278.9 389.5 274.1 388.8 271.4 388.1 271.5 387.4 270.7 386.7 271.6 386 271.7 385.3 272.7 384.6 273.6 383.9 274.6 383.2 275.4 382.5 274 381.8 272.6 381.1 272 380.4 273.2 379.7 274.4 379 275.6 378.3 278 377.6 275.7 376.9 273.4 376.2 272.2 375.5 271.7 374.8 272.3 374.1 271.9 373.4 272.5 372.7 272.1 372 272.6 371.3 274.6 370.6 276.6 369.9 278.7 369.2 276.8 368.5 275 367.8 274 367.1 273.4 366.4 273 365.7 274 365 274.2 364.3 277.1 363.6 280 362.9 277.3 362.2 274.7 361.5 273.9 360.8 274.2 360.1 275.2 359.4 274.8 358.7 274.6 358 274.8 357.3 274.9 356.6 275.8 355.9 276.7 355.2 277.6 354.5 277 353.8 276.8 353.1 275.8 352.4 277 351.7 279.9 351 282.8 350.3 285.7 349.6 283.1 348.9 282.3 348.2 280.7 347.5 279.2 346.8 277.7 346.1 277.1 345.4 277.5 344.7 278.3 344 281.1 343.3 283.9 342.6 281.5 341.9 279.1 341.2 278.2 340.5 278.3 339.8 279.1 339.1 278.8 338.4 278.6 337.7 280.6 337 280.5 336.3 280.7 335.6 281.3 334.9 281.4 334.2 281.8 333.5 281.9 332.8 281.9 332.1 282.6 331.4 284 330.7 285.7 330 284.6 329.3 284.4 328.6 284.2 327.9 284.9 327.2 286.3 326.5 285.7 325.8 286.5 325.1 288.1 324.4 292.4 323.7 296 323 294.4 322.3 291.7 321.6 294.2 320.9 292.7 320.2 291.4 319.5 289.5 318.8 291.3 318.1 291 317.4 291.6 316.7 292.3 316 293.1 315.3 294.5 314.6 296.3 313.9 299.4 313.2 302.7 312.5 306.1 311.8 305 311.1 304.1 310.4 303.3 309.7 306.7 309 311.9 308.3 310.2 307.6 309.3 306.9 311.5 306.2 315 305.5 319.6 304.8 325.8 304.1 332.3 303.4 333 302.7 335.1 302 341.8 301.3 345.1 300.6 351.7 299.9 353.8 299.2 351.9 298.5 350.1 297.8 348.2 297.1 349.6 296.4 352.5 295.7 355.4 295 352.8 294.3 350.8 293.6 352.6 292.9 351.1 292.2 349.7 291.5 349 290.8 349 290.1 350 289.4 352.2 288.7 354.4 288 352.5 287.3 350.7 286.6 348.3 285.9 350.1 285.2 353 284.5 356.1 283.8 359.2 283.1 356.5 282.4 357.8 281.7 359.3 281 355.8 280.3 352.3 279.6 351.8 278.9 354.7 278.2 359 277.5 358.3 276.8 356.6 276.1 354.8 275.4 356 274.7 358.2 274 360.4 273.3 362.2 272.6 360.1 271.9 357.9 271.2 356 270.5 355 269.8 355.8 269.1 356.6 268.4 356.3 267.7 356.1 267 355.9 266.3 355.5 265.6 356.4 264.9 355.9 264.2 356.5 263.5 356.7 262.8 357.9 262.1 358.4 261.4 356.9 260.7 358.5 260 359.1 259.3 359.2 258.6 359.6 257.9 359.2 257.2 362.9 256.5 366.5 255.8 370.1 255.1 367.3 254.4 365 253.7 364 253 363 252.3 362.8 251.6 362.8 250.9 364.1 250.2 365.6 249.5 367.2 248.8 368.8 248.1 370 247.4 374.4 246.7 370.9 246 370.7 245.3 373.6 244.6 376.5 243.9 374.6 243.2 372.7 242.5 370.9 241.8 370.1 241.1 369.6 240.4 371 239.7 372.3 239 373.5 238.3 374.8 237.6 377.3 236.9 382.9 236.2 378.5 235.5 375 234.8 376.2 234.1 377.1 233.4 376.4 232.7 377.1 232 379.1 231.3 382.6 230.6 386.1 229.9 389.6 229.2 387.5 228.5 385.5 227.8 388.2 227.1 391.3 226.4 392 225.7 390.2 225 388.5 224.3 391.4 223.6 396.8 222.9 391.6 222.2 389.3 221.5 390.2 220.8 392 220.1 391.7 219.4 393 218.7 394.7 218 395.9 217.3 395.4 216.6 396.2 215.9 398.2 215.2 399.4 214.5 401 213.8 402.7 213.1 403.2 212.4 403.8 211.7 404.5 211 405.7 210.3 406.9 209.6 408.5 208.9 410.9 208.2 413.8 207.5 417.6 206.8 427 206.1 434.6 205.4 434.2 204.7 435.1 204 436 203.3 434.8 202.6 433.6 201.9 432.7 201.2 434.7 200.5 436.3 199.8 434.5 199.1 434.4 198.4 435.6 197.7 434.2 197 432.9 196.3 432.9 195.6 432.6 194.9 432.7 194.2 432.1Z" fill="#ad1459"/>
<polyline points="194.2,429.3 196.3,429.3 198.4,429.5 200.5,429.8 202.6,430.2 204.7,430.7 206.8,424 208.9,407.1 211,402.5 213.1,399 215.2,395.7 217.3,392.6 219.4,389.7 221.5,386.9 223.6,384.3 225.7,381.8 227.8,379.5 229.9,377.2 232,375.1 234.1,373.1 236.2,371.2 238.3,369.4 240.4,367.7 242.5,366.1 244.6,364.5 246.7,363.1 248.8,361.7 250.9,360.4 253,359.2 255.1,358 257.2,356.9 259.3,355.8 261.4,354.8 263.5,353.9 265.6,353 267.7,352.2 269.8,351.4 271.9,350.6 274,349.9 276.1,349.2 278.2,348.5 280.3,347.9 282.4,347.3 284.5,346.8 286.6,346.3 288.7,345.8 290.8,345.3 292.9,344.9 295,344.4 297.1,344 299.2,343.7 301.3,338.1 303.4,323.9 305.5,313.7 307.6,306.2 309.7,300.6 311.8,296.3 313.9,293 316,290.3 318.1,288.1 320.2,286.2 322.3,284.6 324.4,283.2 326.5,282 328.6,280.8 330.7,279.8 332.8,278.9 334.9,278 337,277.2 339.1,276.4 341.2,275.8 343.3,275.1 345.4,274.5 347.5,273.9 349.6,273.4 351.7,272.9 353.8,272.4 355.9,272 358,271.6 360.1,271.2 362.2,270.8 364.3,270.5 366.4,270.2 368.5,269.9 370.6,269.6 372.7,269.3 374.8,269.1 376.9,268.8 379,268.6 381.1,268.4 383.2,268.2 385.3,268.1 387.4,267.9 389.5,267.7 391.6,267.6 393.7,267.4 395.8,267.3 397.9,267.2 400,267.1 402.1,267 404.2,266.9 406.3,266.8 408.4,266.7 410.5,266.6 412.6,266.5 414.7,266.5 416.8,266.4 418.9,266.3 421,266.3 423.1,266.2 425.2,266.2 427.3,266.1 429.4,266.1 431.5,266 433.6,266 435.7,265.9 437.8,265.9 439.9,265.9 442,265.8 444.1,265.8 446.2,265.8 448.3,265.7 450.4,265.7 452.5,265.7 454.6,265.7 456.7,265.7 458.8,265.6 460.9,265.6 463,265.6 465.1,265.6 467.2,265.6 469.3,265.6 471.4,265.6 473.5,265.6 475.6,265.6 477.7,265.6 479.8,265.6 481.9,265.6 484,265.6 486.1,265.6 488.2,265.6 490.3,265.6 492.4,265.6 494.5,265.6 496.6,265.6 498.7,265.6 500.8,265.6 502.9,265.6 505,265.6 507.1,265.6 509.2,265.6 511.3,265.6 513.4,265.6 515.5,265.6 517.6,265.6 519.7,265.6 521.8,265.6 523.9,265.6 526,265.6 528.1,265.6 530.2,265.6 532.3,265.6 534.4,265.6 536.5,265.6 538.6,265.6 540.7,265.6 542.8,265.6 544.9,265.6 547,265.6 549.1,265.6 551.2,265.6 553.3,265.6 555.4,265.6 557.5,265.6 559.6,265.6 561.7,265.6 563.8,265.6 565.9,265.6 568,265.6 570.1,265.6 572.2,265.6 574.3,265.6 576.4,265.6 578.5,265.6 580.6,265.6 582.7,265.6 584.8,265.6 586.9,265.6 589,265.6 591.1,265.6 593.2,265.6 595.3,265.6 597.4,265.6 599.5,265.6 601.6,265.6 603.7,265.6 605.8,265.6 607.9,265.6" fill="none" stroke="#ad1459" stroke-width="2.2" stroke-linejoin="round"/>
<path d="M194.2 425.4 194.9 426.4 195.6 425.6 196.3 426.4 197 426.4 197.7 426.4 198.4 426.4 199.1 426.8 199.8 426.8 200.5 426.7 201.2 427.2 201.9 426.9 202.6 426.3 203.3 423.3 204 420.3 204.7 423.7 205.4 427 206.1 425.7 206.8 416.6 207.5 409.2 208.2 402.5 208.9 402.4 209.6 402.5 210.3 399.9 211 400 211.7 398.5 212.4 396.6 213.1 393.7 213.8 389.3 214.5 391.5 215.2 392.2 215.9 390.6 216.6 389 217.3 387.4 218 385 218.7 385.4 219.4 385.8 220.1 385.4 220.8 384.4 221.5 383.8 222.2 382.2 222.9 379.3 223.6 376.5 224.3 377.6 225 378.7 225.7 379.7 226.4 377.8 227.1 375.1 227.8 372.2 228.5 369.3 229.2 370.7 229.9 371.4 230.6 369.3 231.3 370 232 370.4 232.7 368.7 233.4 367.1 234.1 367.4 234.8 367.8 235.5 368.1 236.2 368 236.9 364.9 237.6 360.7 238.3 363.7 239 365.3 239.7 364.2 240.4 363.2 241.1 363.1 241.8 362.1 242.5 361 243.2 361 243.9 361.1 244.6 361.2 245.3 359.2 246 360 246.7 360 247.4 359.1 248.1 358 248.8 357.1 249.5 356.1 250.2 356.2 250.9 354.8 251.6 351.2 252.3 347.6 253 350.3 253.7 353.1 254.4 354.5 255.1 354.9 255.8 354.7 256.5 354 257.2 352.6 257.9 351.2 258.6 349.7 259.3 350.5 260 351.2 260.7 350.9 261.4 351.7 262.1 351.5 262.8 350.5 263.5 346.6 264.2 341.7 264.9 344.8 265.6 344.5 266.3 345.7 267 343.7 267.7 345 268.4 346 269.1 347 269.8 346.4 270.5 346.6 271.2 346.9 271.9 345.4 272.6 342.8 273.3 340.2 274 342.3 274.7 343 275.4 344.1 276.1 345.3 276.8 346.4 277.5 345.2 278.2 342.2 278.9 339.2 279.6 336.1 280.3 338.8 281 340.3 281.7 338.7 282.4 340.8 283.1 342.9 283.8 343.8 284.5 343.8 285.2 341.3 285.9 338.3 286.6 335.3 287.3 338 288 340.5 288.7 341.2 289.4 341.8 290.1 342.4 290.8 343.2 291.5 341.7 292.2 341 292.9 340.5 293.6 339.9 294.3 340.2 295 340.5 295.7 340.1 296.4 338.2 297.1 339.9 297.8 340.4 298.5 340.2 299.2 339.9 299.9 340 300.6 340 301.3 334.7 302 330.8 302.7 324.1 303.4 320.1 304.1 316.2 304.8 313.4 305.5 311 306.2 307.9 306.9 305.8 307.6 302.8 308.3 300.9 309 299 309.7 298.3 310.4 296.6 311.1 295.5 311.8 292.5 312.5 291.7 313.2 290.8 313.9 290 314.6 289.7 315.3 288.1 316 287.3 316.7 286.7 317.4 285.1 318.1 285.9 318.8 284.2 319.5 283.2 320.2 282.3 320.9 281 321.6 279.6 322.3 279.9 323 280.2 323.7 280.6 324.4 278.8 325.1 276.3 325.8 273.8 326.5 271.4 327.2 273.1 327.9 272.8 328.6 269.1 329.3 272.1 330 275.1 330.7 275.7 331.4 274.5 332.1 275 332.8 275 333.5 275.9 334.2 275.4 334.9 275.5 335.6 274.6 336.3 273.6 337 271.4 337.7 267.9 338.4 270.9 339.1 271.7 339.8 269 340.5 266.4 341.2 263.7 341.9 265.9 342.6 268.1 343.3 270.4 344 270.8 344.7 269.1 345.4 267.4 346.1 268.7 346.8 270 347.5 271.5 348.2 270.1 348.9 270.3 349.6 269.4 350.3 269.6 351 270.1 351.7 269.9 352.4 269.9 353.1 270.5 353.8 268.9 354.5 269.4 355.2 268.4 355.9 267.9 356.6 268.2 357.3 267.5 358 266.8 358.7 267.2 359.4 267.4 360.1 266.9 360.8 266 361.5 264.4 362.2 265.8 362.9 267.1 363.6 267.2 364.3 267.5 365 266 365.7 263.7 366.4 265.8 367.1 266.5 367.8 266.4 368.5 266.1 369.2 266 369.9 266.5 370.6 266 371.3 266.4 372 265.9 372.7 265.8 373.4 265.8 374.1 266.4 374.8 266.5 375.5 265 376.2 266.1 376.9 262.9 377.6 257.3 378.3 262.8 379 264.7 379.7 261.7 380.4 258.6 381.1 261.5 381.8 264.5 382.5 263 383.2 261.1 383.9 262.9 384.6 264.6 385.3 264.6 386 264.9 386.7 264.3 387.4 264.9 388.1 264.3 388.8 263.7 389.5 264.2 390.2 263.9 390.9 264.5 391.6 263.9 392.3 265.1 393 264.9 393.7 264.7 394.4 263.3 395.1 263.6 395.8 263 396.5 264.3 397.2 263.7 397.9 263.8 398.6 264.1 399.3 263.6 400 263.7 400.7 261.7 401.4 259.8 402.1 256.9 402.8 261.5 403.5 262.9 404.2 263.2 404.9 262.9 405.6 261.8 406.3 261.4 407 258.4 407.7 255.4 408.4 258.3 409.1 261.3 409.8 261.8 410.5 260.1 411.2 258.4 411.9 260 412.6 261.7 413.3 262.2 414 262.9 414.7 263.7 415.4 263.3 416.1 263.2 416.8 263.7 417.5 261.9 418.2 260 418.9 257.7 419.6 255.3 420.3 257.6 421 260 421.7 262.3 422.4 262.4 423.1 262.9 423.8 262.8 424.5 263 425.2 262.3 425.9 259.8 426.6 257.4 427.3 259.8 428 262.2 428.7 260.8 429.4 259 430.1 257.2 430.8 258.9 431.5 258.8 432.2 259.1 432.9 255.2 433.6 259.1 434.3 258.7 435 254.7 435.7 258.7 436.4 262 437.1 262.3 437.8 262.6 438.5 262.7 439.2 263.5 439.9 262.3 440.6 262.3 441.3 262.7 442 260.1 442.7 257 443.4 253.9 444.1 257 444.8 260.1 445.5 262.2 446.2 262.4 446.9 263.4 447.6 262.2 448.3 261.3 449 261.4 449.7 259.3 450.4 257.1 451.1 255 451.8 256 452.5 253.2 453.2 256 453.9 258.7 454.6 261.5 455.3 262.9 456 261.8 456.7 262.6 457.4 262.8 458.1 262.6 458.8 261.9 459.5 262.8 460.2 261.4 460.9 260 461.6 258.5 462.3 256.9 463 258.2 463.7 259.5 464.4 258.9 465.1 257.6 465.8 258.6 466.5 259.7 467.2 259.8 467.9 260.5 468.6 260.5 469.3 261.1 470 259.4 470.7 258.6 471.4 254.5 472.1 255.2 472.8 258.5 473.5 260.2 474.2 260.2 474.9 259.4 475.6 260.2 476.3 259.1 477 259.1 477.7 257.7 478.4 256.3 479.1 254.9 479.8 254.3 480.5 256.1 481.2 257.6 481.9 259.1 482.6 258.7 483.3 258.9 484 258.2 484.7 255.8 485.4 252.8 486.1 249.8 486.8 252.7 487.5 255.5 488.2 255.7 488.9 257 489.6 258.2 490.3 259.1 491 256 491.7 251.3 492.4 255.9 493.1 257.4 493.8 255.9 494.5 252.7 495.2 249.6 495.9 252.6 496.6 255.6 497.3 257 498 256.2 498.7 255.4 499.4 254.5 500.1 255.2 500.8 255.9 501.5 256.7 502.2 256.9 502.9 256.5 503.6 256.9 504.3 257.2 505 256.4 505.7 254.4 506.4 252.4 507.1 250.3 507.8 252.3 508.5 254.2 509.2 253.5 509.9 251.5 510.6 249.6 511.3 251.5 512 253.3 512.7 255.1 513.4 256.6 514.1 255.6 514.8 256 515.5 256.6 516.2 256.7 516.9 255.4 517.6 255.7 518.3 255.8 519 255.2 519.7 254.5 520.4 255.1 521.1 255.5 521.8 254.4 522.5 251.6 523.2 253.6 523.9 251.1 524.6 248.5 525.3 251 526 253.5 526.7 255.9 527.4 255 528.1 253.1 528.8 251.2 529.5 253 530.2 254.8 530.9 255.3 531.6 255 532.3 255.4 533 255.7 533.7 255.3 534.4 256.2 535.1 255.1 535.8 254.9 536.5 255.1 537.2 255.6 537.9 255.9 538.6 255.6 539.3 255 540 250.7 540.7 246.3 541.4 250.6 542.1 252.7 542.8 250.5 543.5 248.2 544.2 250.4 544.9 252.6 545.6 254.9 546.3 255.1 547 254.8 547.7 255.3 548.4 254.6 549.1 254 549.8 252.4 550.5 250.9 551.2 252.4 551.9 253.9 552.6 254.1 553.3 254.8 554 254.7 554.7 254.8 555.4 254.7 556.1 254.1 556.8 252.6 557.5 251.1 558.2 249.6 558.9 251.1 559.6 250.6 560.3 252.7 561 255.1 561.7 255.1 562.4 254.6 563.1 255 563.8 253.9 564.5 252.8 565.2 251.5 565.9 252.7 566.6 253.9 567.3 254.7 568 253.6 568.7 252.1 569.4 253.6 570.1 254.1 570.8 254.7 571.5 254.1 572.2 252.5 572.9 250.9 573.6 249.3 574.3 249.1 575 250.7 575.7 252.3 576.4 253.6 577.1 254.3 577.8 253.9 578.5 253.4 579.2 252.9 579.9 253.4 580.6 253.3 581.3 252 582 253.3 582.7 253.9 583.4 254.3 584.1 255 584.8 255 585.5 253.9 586.2 253.5 586.9 251.6 587.6 249.7 588.3 247.8 589 249.7 589.7 251.6 590.4 253.5 591.1 254.7 591.8 251.3 592.5 248.1 593.2 251.3 593.9 248.8 594.6 244.9 595.3 248.8 596 252.7 596.7 255.3 597.4 253.5 598.1 251.8 598.8 250.1 599.5 248.5 600.2 250.1 600.9 251.3 601.6 246.2 602.3 251.3 603 254.1 603.7 253.7 604.4 252.9 605.1 252.1 605.8 251.3 606.5 252.1 607.2 251.4 607.9 249 608.6 246.5 609.3 249 609.3 261 608.6 260.5 607.9 262.1 607.2 264.5 606.5 266.8 605.8 264.5 605.1 262.2 604.4 260.4 603.7 263.6 603 269.9 602.3 263.6 601.6 260.9 600.9 261.4 600.2 261.9 599.5 262.4 598.8 262.3 598.1 263.5 597.4 262.4 596.7 261.2 596 260.5 595.3 260.5 594.6 261.8 593.9 259.9 593.2 261.8 592.5 261.4 591.8 262.4 591.1 263.3 590.4 268.4 589.7 266.8 589 269.3 588.3 266.8 587.6 264.4 586.9 264.6 586.2 268.6 585.5 264.6 584.8 263.1 584.1 264.7 583.4 266.4 582.7 264.7 582 263.1 581.3 261.5 580.6 261.2 579.9 261.1 579.2 261.3 578.5 261.3 577.8 259.8 577.1 260.7 576.4 261.6 575.7 260.2 575 261.5 574.3 261.1 573.6 261 572.9 261.2 572.2 262.9 571.5 264.7 570.8 263 570.1 263.8 569.4 267 568.7 270.3 568 267.1 567.3 265.1 566.6 269.1 565.9 265.1 565.2 261.1 564.5 261.3 563.8 263.2 563.1 268.1 562.4 263.2 561.7 262.5 561 261.9 560.3 261.4 559.6 260.8 558.9 263.9 558.2 268.4 557.5 263.9 556.8 261.6 556.1 261.1 555.4 263.3 554.7 266.8 554 270.4 553.3 266.9 552.6 263.4 551.9 262.8 551.2 262.1 550.5 261.4 549.8 262.7 549.1 264.7 548.4 266.6 547.7 268.6 547 266.7 546.3 264.7 545.6 262.8 544.9 261.9 544.2 260.9 543.5 263.8 542.8 267.8 542.1 263.9 541.4 261.3 540.7 260.6 540 261.7 539.3 261.4 538.6 260.1 537.9 263.9 537.2 268.1 536.5 264.1 535.8 269.3 535.1 264.2 534.4 264.1 533.7 266.2 533 268 532.3 270.6 531.6 268.1 530.9 265.5 530.2 263 529.5 262.2 528.8 261.2 528.1 263 527.4 265.3 526.7 267.6 526 269.9 525.3 267.7 524.6 265.4 523.9 263.2 523.2 262.1 522.5 262.8 521.8 263.8 521.1 264.9 520.4 266 519.7 265 519 264 518.3 262.9 517.6 262.1 516.9 261.8 516.2 263.4 515.5 262 514.8 263 514.1 261.6 513.4 263.4 512.7 263.1 512 265 511.3 267.1 510.6 269.2 509.9 267.2 509.2 265.2 508.5 265.2 507.8 267.5 507.1 267.9 506.4 270.2 505.7 268 505 265.8 504.3 263.6 503.6 263.6 502.9 262.6 502.2 263 501.5 263.7 500.8 263.2 500.1 263.6 499.4 263.7 498.7 264.4 498 263.4 497.3 264.3 496.6 263.5 495.9 266.5 495.2 270 494.5 273.6 493.8 270.1 493.1 266.7 492.4 267.9 491.7 270.2 491 272.4 490.3 270.3 489.6 268.2 488.9 266.5 488.2 267.5 487.5 266.7 486.8 265.9 486.1 265 485.4 265.1 484.7 265.2 484 264.9 483.3 265.6 482.6 264.7 481.9 265.7 481.2 265.3 480.5 265.7 479.8 265.4 479.1 265.3 478.4 265.8 477.7 265.9 477 266.3 476.3 267.4 475.6 268.5 474.9 267.6 474.2 266.7 473.5 266.4 472.8 266.7 472.1 266.2 471.4 266.9 470.7 267.2 470 267.1 469.3 267 468.6 269.1 467.9 272.5 467.2 269.4 466.5 268.1 465.8 268.5 465.1 268.6 464.4 268.7 463.7 268.1 463 268.4 462.3 268.6 461.6 271 460.9 274 460.2 277 459.5 274.1 458.8 271.1 458.1 269 457.4 268.6 456.7 269 456 269.5 455.3 270.7 454.6 271.9 453.9 273.1 453.2 271.9 452.5 271.2 451.8 273 451.1 274.9 450.4 273 449.7 271.2 449 269.3 448.3 268.6 447.6 269.1 446.9 271.4 446.2 273.8 445.5 276.1 444.8 273.8 444.1 271.5 443.4 269.5 442.7 268.2 442 269.3 441.3 268.8 440.6 269.2 439.9 269.9 439.2 270.6 438.5 270.8 437.8 269.9 437.1 269 436.4 268.9 435.7 269 435 270.3 434.3 268.5 433.6 269.2 432.9 269.3 432.2 270.1 431.5 269.4 430.8 269.6 430.1 269 429.4 269.4 428.7 269.4 428 271.1 427.3 275.2 426.6 271.1 425.9 269.9 425.2 269.8 424.5 269.2 423.8 269.5 423.1 271 422.4 274.6 421.7 271 421 269.8 420.3 269.2 419.6 270 418.9 270.6 418.2 270 417.5 270.2 416.8 269.6 416.1 270.3 415.4 269.7 414.7 269.9 414 270.3 413.3 272.2 412.6 275.5 411.9 272.3 411.2 271.7 410.5 270.5 409.8 269.6 409.1 268.7 408.4 269.7 407.7 269.3 407 269.2 406.3 270.5 405.6 269.9 404.9 270.3 404.2 270.6 403.5 270 402.8 270.8 402.1 269.7 401.4 270.1 400.7 270 400 269.2 399.3 270.8 398.6 270.1 397.9 270.3 397.2 270.3 396.5 270.2 395.8 269.9 395.1 270.9 394.4 272.2 393.7 273.4 393 274.6 392.3 273.5 391.6 272.3 390.9 271.2 390.2 270.8 389.5 271.6 388.8 272 388.1 272.8 387.4 273.5 386.7 272.9 386 272.3 385.3 271.6 384.6 271.1 383.9 271.8 383.2 270.2 382.5 271.9 381.8 274.2 381.1 276.4 380.4 274.3 379.7 272.2 379 274.4 378.3 279.4 377.6 274.5 376.9 275.1 376.2 276.4 375.5 276.3 374.8 275.2 374.1 278.2 373.4 274.4 372.7 273.6 372 272.7 371.3 272.5 370.6 274.1 369.9 275.9 369.2 274.3 368.5 273.3 367.8 273.5 367.1 273.8 366.4 273.7 365.7 274.1 365 273.6 364.3 273.9 363.6 274 362.9 274.9 362.2 276.4 361.5 277.9 360.8 276.6 360.1 275.4 359.4 273.6 358.7 275 358 276.6 357.3 278.2 356.6 279.8 355.9 280 355.2 278.1 354.5 276.2 353.8 274.8 353.1 277.1 352.4 275.7 351.7 277.2 351 277.1 350.3 275 349.6 277.3 348.9 277.2 348.2 278 347.5 278.9 346.8 279.8 346.1 280.2 345.4 280.8 344.7 282.9 344 285 343.3 283.3 342.6 281.7 341.9 280 341.2 279.4 340.5 278.7 339.8 279.5 339.1 278.9 338.4 280 337.7 281 337 282.7 336.3 281.6 335.6 281.8 334.9 283.3 334.2 284.8 333.5 283.9 332.8 286.2 332.1 291.5 331.4 286.8 330.7 284.8 330 285.5 329.3 287 328.6 288.7 327.9 287.8 327.2 286.9 326.5 286 325.8 285.4 325.1 286.1 324.4 286 323.7 286.9 323 287.7 322.3 288.3 321.6 288.1 320.9 288.6 320.2 289 319.5 289.7 318.8 291.2 318.1 292.5 317.4 294.1 316.7 295.8 316 295.6 315.3 295.5 314.6 297.2 313.9 299.1 313.2 299.2 312.5 299.4 311.8 299.7 311.1 300.6 310.4 301.4 309.7 304.9 309 305.7 308.3 306.8 307.6 311.9 306.9 317.6 306.2 323 305.5 322.2 304.8 322.6 304.1 326.4 303.4 333 302.7 334.4 302 336.4 301.3 344.4 300.6 352.3 299.9 355 299.2 353.6 298.5 351.8 297.8 350.1 297.1 348.3 296.4 347 295.7 347.6 295 348.1 294.3 347.4 293.6 348.9 292.9 351.1 292.2 353.3 291.5 351.4 290.8 349.5 290.1 349.4 289.4 349.8 288.7 348.6 288 349.1 287.3 349.3 286.6 349.7 285.9 351.5 285.2 355.4 284.5 351.8 283.8 349.1 283.1 350.1 282.4 351.2 281.7 351 281 350.6 280.3 351.5 279.6 351.8 278.9 351.3 278.2 352.4 277.5 355.2 276.8 360.7 276.1 357 275.4 355.9 274.7 354.8 274 353.7 273.3 353.6 272.6 353.9 271.9 353.7 271.2 354.6 270.5 356.1 269.8 357.5 269.1 358.9 268.4 358 267.7 357.1 267 356.2 266.3 355.6 265.6 355.9 264.9 355.7 264.2 357.4 263.5 357.3 262.8 357.7 262.1 359 261.4 362 260.7 365 260 367.9 259.3 365.6 258.6 363.3 257.9 361.9 257.2 360.8 256.5 360.6 255.8 360.4 255.1 362.8 254.4 364.9 253.7 367 253 368.9 252.3 367.1 251.6 365.3 250.9 363.5 250.2 364.3 249.5 364.7 248.8 365.9 248.1 367.1 247.4 366.8 246.7 369.7 246 372.6 245.3 370.6 244.6 368.8 243.9 370.9 243.2 373.5 242.5 376.1 241.8 374.6 241.1 373 240.4 371.5 239.7 371.4 239 374.5 238.3 380.1 237.6 375.7 236.9 373.3 236.2 376.1 235.5 379.9 234.8 383.7 234.1 381.3 233.4 384.7 232.7 382.7 232 380.6 231.3 378.3 230.6 383.5 229.9 388.9 229.2 385 228.5 382.4 227.8 383.4 227.1 385.3 226.4 387.3 225.7 389.2 225 388.9 224.3 388.6 223.6 388.5 222.9 391.6 222.2 397.4 221.5 393.4 220.8 390.8 220.1 394.8 219.4 400.5 218.7 396.7 218 393.8 217.3 396.3 216.6 396.5 215.9 397.8 215.2 399.1 214.5 400.4 213.8 400.7 213.1 402.6 212.4 404.3 211.7 406.2 211 408 210.3 408.4 209.6 409 208.9 410.7 208.2 412.8 207.5 418.8 206.8 430.4 206.1 439.8 205.4 435.8 204.7 433.6 204 433.9 203.3 433 202.6 433.8 201.9 433.6 201.2 434.3 200.5 436.7 199.8 434.1 199.1 432.6 198.4 432.3 197.7 432.5 197 432.4 196.3 431.9 195.6 435.7 194.9 439.3 194.2 435.7Z" fill="#8061b0"/>
<polyline points="194.2,429.3 196.3,429.3 198.4,429.5 200.5,429.8 202.6,430.2 204.7,430.7 206.8,424 208.9,407.1 211,402.5 213.1,399 215.2,395.7 217.3,392.6 219.4,389.7 221.5,386.9 223.6,384.3 225.7,381.8 227.8,379.5 229.9,377.2 232,375.1 234.1,373.1 236.2,371.2 238.3,369.4 240.4,367.7 242.5,366.1 244.6,364.5 246.7,363.1 248.8,361.7 250.9,360.4 253,359.2 255.1,358 257.2,356.9 259.3,355.8 261.4,354.8 263.5,353.9 265.6,353 267.7,352.2 269.8,351.4 271.9,350.6 274,349.9 276.1,349.2 278.2,348.5 280.3,347.9 282.4,347.3 284.5,346.8 286.6,346.3 288.7,345.8 290.8,345.3 292.9,344.9 295,344.4 297.1,344 299.2,343.7 301.3,338.1 303.4,323.9 305.5,313.7 307.6,306.2 309.7,300.6 311.8,296.3 313.9,293 316,290.3 318.1,288.1 320.2,286.2 322.3,284.6 324.4,283.2 326.5,282 328.6,280.8 330.7,279.8 332.8,278.9 334.9,278 337,277.2 339.1,276.4 341.2,275.8 343.3,275.1 345.4,274.5 347.5,273.9 349.6,273.4 351.7,272.9 353.8,272.4 355.9,272 358,271.6 360.1,271.2 362.2,270.8 364.3,270.5 366.4,270.2 368.5,269.9 370.6,269.6 372.7,269.3 374.8,269.1 376.9,268.8 379,268.6 381.1,268.4 383.2,268.2 385.3,268.1 387.4,267.9 389.5,267.7 391.6,267.6 393.7,267.4 395.8,267.3 397.9,267.2 400,267.1 402.1,267 404.2,266.9 406.3,266.8 408.4,266.7 410.5,266.6 412.6,266.5 414.7,266.5 416.8,266.4 418.9,266.3 421,266.3 423.1,266.2 425.2,266.2 427.3,266.1 429.4,266.1 431.5,266 433.6,266 435.7,265.9 437.8,265.9 439.9,265.9 442,265.8 444.1,265.8 446.2,265.8 448.3,265.7 450.4,265.7 452.5,265.7 454.6,265.7 456.7,265.7 458.8,265.6 460.9,265.6 463,265.3 465.1,264.9 467.2,264.5 469.3,264.1 471.4,263.8 473.5,263.4 475.6,263.1 477.7,262.8 479.8,262.5 481.9,262.3 484,262 486.1,261.8 488.2,261.5 490.3,261.3 492.4,261.1 494.5,260.9 496.6,260.7 498.7,260.6 500.8,260.4 502.9,260.2 505,260.1 507.1,259.9 509.2,259.8 511.3,259.7 513.4,259.5 515.5,259.4 517.6,259.3 519.7,259.2 521.8,259.1 523.9,259 526,258.9 528.1,258.8 530.2,258.7 532.3,258.7 534.4,258.6 536.5,258.5 538.6,258.4 540.7,258.4 542.8,258.3 544.9,258.3 547,258.2 549.1,258.2 551.2,258.1 553.3,258.1 555.4,258 557.5,258 559.6,257.9 561.7,257.9 563.8,257.9 565.9,257.8 568,257.8 570.1,257.8 572.2,257.7 574.3,257.7 576.4,257.7 578.5,257.7 580.6,257.6 582.7,257.6 584.8,257.6 586.9,257.6 589,257.5 591.1,257.5 593.2,257.5 595.3,257.5 597.4,257.5 599.5,257.5 601.6,257.4 603.7,257.4 605.8,257.4 607.9,257.4" fill="none" stroke="#8061b0" stroke-width="2.2" stroke-linejoin="round"/>
<path d="M194.2 426.4 194.9 425.2 195.6 423 196.3 425.2 197 427.1 197.7 426 198.4 423.1 199.1 417.8 199.8 423.3 200.5 427.1 201.2 426.6 201.9 427 202.6 427.2 203.3 427 204 426.8 204.7 424.7 205.4 421.3 206.1 425.1 206.8 421.9 207.5 411.5 208.2 407.6 208.9 404.5 209.6 402.8 210.3 400.6 211 399 211.7 397.3 212.4 395.5 213.1 395 213.8 394.4 214.5 391.3 215.2 388.2 215.9 385.1 216.6 383.1 217.3 385 218 387 218.7 388.3 219.4 387 220.1 385.6 220.8 383.8 221.5 382.1 222.2 378.4 222.9 374.6 223.6 376.6 224.3 378.6 225 377.1 225.7 375.1 226.4 375.5 227.1 375.9 227.8 376.3 228.5 376.1 229.2 372.9 229.9 369 230.6 365.1 231.3 367.6 232 370.1 232.7 370.9 233.4 370.8 234.1 370.2 234.8 369.9 235.5 368.7 236.2 366.9 236.9 365.2 237.6 362.1 238.3 364.2 239 366.6 239.7 365.6 240.4 364.6 241.1 365.1 241.8 364 242.5 364.1 243.2 362.5 243.9 361.4 244.6 360.4 245.3 359.4 246 358.9 246.7 357.5 247.4 354.1 248.1 356.6 248.8 358.9 249.5 358.4 250.2 358.2 250.9 357.1 251.6 356.9 252.3 352.4 253 347.8 253.7 351.6 254.4 355.3 255.1 354.7 255.8 354.2 256.5 353.9 257.2 355 257.9 353.3 258.6 351.2 259.3 349 260 346.7 260.7 348.3 261.4 349.9 262.1 351.4 262.8 351 263.5 351.3 264.2 347.2 264.9 342.7 265.6 346.6 266.3 349.3 267 348.6 267.7 349.5 268.4 349 269.1 345.7 269.8 340.7 270.5 345.2 271.2 346.1 271.9 342.5 272.6 338.9 273.3 342 274 345.1 274.7 346.1 275.4 345.9 276.1 347 276.8 345.9 277.5 346.1 278.2 346.1 278.9 345.2 279.6 344.9 280.3 344.9 281 344.4 281.7 344 282.4 344.4 283.1 344.1 283.8 342.9 284.5 340 285.2 335 285.9 339.9 286.6 341.4 287.3 339.7 288 341.1 288.7 342.5 289.4 342.4 290.1 341.5 290.8 340.3 291.5 341.2 292.2 342.1 292.9 342.5 293.6 341.5 294.3 340 295 338.4 295.7 336.8 296.4 332.2 297.1 337.7 297.8 337 298.5 338.8 299.2 340.4 299.9 341.3 300.6 340 301.3 334 302 325.3 302.7 317.3 303.4 316.3 304.1 309.1 304.8 309.1 305.5 309.4 306.2 308.3 306.9 305.7 307.6 303.9 308.3 301.1 309 298 309.7 292.8 310.4 294.8 311.1 294.6 311.8 292.8 312.5 292.4 313.2 291.6 313.9 290.1 314.6 289 315.3 288.5 316 288 316.7 286.4 317.4 286.8 318.1 285.9 318.8 284.7 319.5 283.3 320.2 281.5 320.9 279.7 321.6 277.9 322.3 278.7 323 279.4 323.7 278.3 324.4 276.2 325.1 277.4 325.8 278.6 326.5 279 327.2 278.3 327.9 277.9 328.6 278.1 329.3 277 330 275.5 330.7 274 331.4 272.6 332.1 272.6 332.8 270.2 333.5 272 334.2 273.9 334.9 275.2 335.6 274.7 336.3 275.2 337 273.4 337.7 270.8 338.4 268.3 339.1 265.7 339.8 267.8 340.5 269.9 341.2 272 341.9 273.3 342.6 272.6 343.3 272 344 271.2 344.7 270.4 345.4 270.8 346.1 270.9 346.8 270.2 347.5 270.5 348.2 269.1 348.9 267.6 349.6 267.2 350.3 264.7 351 262.2 351.7 264.4 352.4 266.6 353.1 268.7 353.8 268.1 354.5 269.6 355.2 269.4 355.9 269.2 356.6 269.2 357.3 269.3 358 268.3 358.7 268.5 359.4 267.8 360.1 266.4 360.8 264.9 361.5 263.4 362.2 264.6 362.9 265.9 363.6 267.1 364.3 267.9 365 265.3 365.7 262.8 366.4 260.3 367.1 262.6 367.8 264.9 368.5 266 369.2 265.9 369.9 264.5 370.6 265.7 371.3 266.8 372 266.4 372.7 263.5 373.4 259.9 374.1 257.7 374.8 261.5 375.5 265.2 376.2 267.4 376.9 267.3 377.6 266.1 378.3 265.4 379 266.2 379.7 265.9 380.4 265.4 381.1 264.9 381.8 266.8 382.5 265.6 383.2 265.7 383.9 265 384.6 265.6 385.3 266.2 386 266.4 386.7 266 387.4 265.4 388.1 265.6 388.8 265.7 389.5 264 390.2 261.9 390.9 259.3 391.6 256.8 392.3 259.2 393 261.7 393.7 264.2 394.4 264.7 395.1 263.4 395.8 259.9 396.5 256.4 397.2 259.8 397.9 259 398.6 261.4 399.3 263.7 400 264.4 400.7 264.3 401.4 261.9 402.1 259.4 402.8 257 403.5 259.4 404.2 260.6 404.9 257.8 405.6 255 406.3 257.7 407 260.5 407.7 263.3 408.4 264.4 409.1 261.1 409.8 258.3 410.5 255.4 411.2 258.2 411.9 259.9 412.6 261.9 413.3 260.2 414 262.1 414.7 261.9 415.4 260 416.1 257.3 416.8 259.9 417.5 258.6 418.2 261.9 418.9 262.7 419.6 262.9 420.3 263.9 421 263.8 421.7 263 422.4 263 423.1 263.2 423.8 263.7 424.5 263.1 425.2 263.3 425.9 263.6 426.6 263.8 427.3 263.1 428 263.2 428.7 262.6 429.4 262 430.1 262.6 430.8 263.1 431.5 264.1 432.2 262.3 432.9 264 433.6 263.6 434.3 263 435 261.1 435.7 259.3 436.4 257.4 437.1 259.2 437.8 258.7 438.5 255 439.2 257.7 439.9 255.1 440.6 257.7 441.3 260.3 442 262.9 442.7 263.5 443.4 263 444.1 263.1 444.8 262.7 445.5 263 446.2 262.8 446.9 263.5 447.6 263.9 448.3 262.5 449 262.1 449.7 261.2 450.4 257.2 451.1 261.2 451.8 263.4 452.5 262.8 453.2 262.5 453.9 262.7 454.6 262.4 455.3 262.9 456 261 456.7 259.1 457.4 257.1 458.1 259 458.8 261 459.5 262.1 460.2 260 460.9 257.8 461.6 256.7 462.3 260.9 463 262.5 463.7 263 464.4 263 465.1 262.7 465.8 262.4 466.5 263.2 467.2 262.9 467.9 262.1 468.6 262.8 469.3 263.4 470 263.5 470.7 263.3 471.4 262.5 472.1 264.2 472.8 262.8 473.5 263.4 474.2 262.8 474.9 263.1 475.6 264 476.3 263.4 477 264.2 477.7 263.3 478.4 263.6 479.1 262.8 479.8 264.2 480.5 263.1 481.2 263.7 481.9 263.5 482.6 263.1 483.3 262.3 484 261.5 484.7 262.3 485.4 262.1 486.1 260 486.8 257.8 487.5 255.7 488.2 257.8 488.9 260 489.6 262.1 490.3 262.9 491 263.3 491.7 262.7 492.4 263.5 493.1 264 493.8 264.2 494.5 262.9 495.2 263.5 495.9 263.1 496.6 261.7 497.3 259.4 498 257.1 498.7 259.4 499.4 261.7 500.1 263 500.8 261.6 501.5 258.8 502.2 256.1 502.9 258.8 503.6 261.6 504.3 263.5 505 263.1 505.7 262.5 506.4 262.7 507.1 263.6 507.8 263 508.5 262.5 509.2 260.9 509.9 259.2 510.6 257.6 511.3 259.3 512 260.9 512.7 262.5 513.4 263.6 514.1 263.2 514.8 262.6 515.5 262.1 516.2 261.6 516.9 262.2 517.6 262.7 518.3 263.2 519 263.2 519.7 262.7 520.4 262.1 521.1 261.2 521.8 259.8 522.5 258.5 523.2 259.8 523.9 261.2 524.6 262.5 525.3 262.9 526 264.6 526.7 263.8 527.4 264.7 528.1 263 528.8 262 529.5 261 530.2 259.9 530.9 261 531.6 262 532.3 263 533 262.9 533.7 263.4 534.4 262.8 535.1 263.2 535.8 263.6 536.5 263.3 537.2 262.9 537.9 263.7 538.6 260.4 539.3 256.9 540 260.4 540.7 263 541.4 263.6 542.1 263.5 542.8 261.5 543.5 259.1 544.2 261.5 544.9 263.9 545.6 262.9 546.3 263.9 547 263.9 547.7 263.6 548.4 263.6 549.1 262.9 549.8 262.8 550.5 262.3 551.2 263.7 551.9 263.3 552.6 262.7 553.3 262 554 261.1 554.7 262 555.4 262.9 556.1 263.7 556.8 263.4 557.5 263.3 558.2 263.7 558.9 263.9 559.6 262.8 560.3 261.1 561 257.8 561.7 260.3 562.4 257.8 563.1 255.2 563.8 257.8 564.5 260.3 565.2 259.8 565.9 258.2 566.6 259.8 567.3 261.5 568 261.8 568.7 260.7 569.4 261.8 570.1 262.6 570.8 263.4 571.5 264.1 572.2 263.4 572.9 261.4 573.6 257.9 574.3 254.3 575 257.9 575.7 261.4 576.4 262.9 577.1 262.3 577.8 261.7 578.5 260.4 579.2 258.5 579.9 260.4 580.6 262.4 581.3 263.7 582 264.4 582.7 262.5 583.4 262.7 584.1 263.4 584.8 260.7 585.5 257.9 586.2 255 586.9 257.9 587.6 260.7 588.3 263 589 263.5 589.7 263.2 590.4 263.6 591.1 262.9 591.8 262.3 592.5 261.1 593.2 257.6 593.9 261.1 594.6 262.9 595.3 262.6 596 261.6 596.7 262.6 597.4 263.2 598.1 263 598.8 262.3 599.5 261.5 600.2 260.7 600.9 261.5 601.6 262.3 602.3 263 603 262.3 603.7 258.3 604.4 254.3 605.1 258.3 605.8 262.3 606.5 263.6 607.2 263.3 607.9 263.5 608.6 263.4 609.3 263.3 609.3 270.7 608.6 271.2 607.9 274.6 607.2 278.4 606.5 279 605.8 273 605.1 272.3 604.4 274.7 603.7 278.2 603 274.7 602.3 271.3 601.6 269.3 600.9 269.6 600.2 270.4 599.5 269.4 598.8 269.9 598.1 270.6 597.4 269.4 596.7 269.8 596 269.8 595.3 269.2 594.6 272 593.9 275.5 593.2 272.1 592.5 273.5 591.8 274.9 591.1 273.5 590.4 272.1 589.7 270.7 589 270.1 588.3 269.5 587.6 269.5 586.9 270 586.2 269.9 585.5 269.7 584.8 269.4 584.1 269.8 583.4 269.8 582.7 270.4 582 272.3 581.3 277.3 580.6 272.3 579.9 269.6 579.2 269.6 578.5 270.1 577.8 269.6 577.1 268.7 576.4 269.4 575.7 269.5 575 269.8 574.3 270.3 573.6 269.4 572.9 270.2 572.2 270.4 571.5 273 570.8 275.6 570.1 278.1 569.4 275.6 568.7 273 568 270.4 567.3 270.1 566.6 269.8 565.9 270.1 565.2 270.5 564.5 272.4 563.8 277.2 563.1 272.6 562.4 273.7 561.7 277.8 561 272.9 560.3 270.3 559.6 269.6 558.9 268.6 558.2 269.4 557.5 268.1 556.8 270.1 556.1 270.2 555.4 269.7 554.7 270.1 554 272.1 553.3 274.1 552.6 276.1 551.9 274.1 551.2 272.1 550.5 270.9 549.8 271.6 549.1 272.3 548.4 271.6 547.7 272 547 273 546.3 272 545.6 271 544.9 270 544.2 269.9 543.5 269.4 542.8 270.4 542.1 271.9 541.4 273.4 540.7 271.9 540 270.4 539.3 270.1 538.6 270.3 537.9 270.3 537.2 269.7 536.5 270.3 535.8 269.9 535.1 269.8 534.4 270.6 533.7 271.3 533 270.6 532.3 269.8 531.6 270 530.9 270.3 530.2 269.9 529.5 270 528.8 269.9 528.1 270.3 527.4 270.5 526.7 271 526 271.5 525.3 272.3 524.6 273.7 523.9 272.3 523.2 270.9 522.5 269.4 521.8 269.3 521.1 269.8 520.4 269.9 519.7 270 519 269.6 518.3 269.7 517.6 270.4 516.9 269.8 516.2 272 515.5 274.4 514.8 276.9 514.1 274.4 513.4 272 512.7 269.5 512 269.8 511.3 270.3 510.6 269.5 509.9 271.6 509.2 273.6 508.5 275.6 507.8 276 507.1 274 506.4 272.1 505.7 270.2 505 269.2 504.3 269.9 503.6 269.6 502.9 268.4 502.2 269.3 501.5 270.7 500.8 272.5 500.1 275.6 499.4 278.7 498.7 275.6 498 272.5 497.3 269.3 496.6 272.3 495.9 276 495.2 273.4 494.5 277.2 493.8 275.5 493.1 278 492.4 275.5 491.7 273 491 272 490.3 275.2 489.6 278.4 488.9 276.2 488.2 275.7 487.5 278.7 486.8 275.7 486.1 272.8 485.4 275.2 484.7 271.9 484 269.5 483.3 270.7 482.6 272.4 481.9 274.7 481.2 276.9 480.5 274.7 479.8 272.4 479.1 270.1 478.4 269.4 477.7 269.7 477 269.7 476.3 269.5 475.6 269.9 474.9 270.6 474.2 271.4 473.5 272.1 472.8 271.4 472.1 270.6 471.4 271.5 470.7 270.2 470 269.7 469.3 270 468.6 271 467.9 272 467.2 273 466.5 272 465.8 270.9 465.1 270.1 464.4 269.1 463.7 268.9 463 269.5 462.3 269.9 461.6 268.9 460.9 269.8 460.2 268.9 459.5 268.9 458.8 270 458.1 270.4 457.4 271.2 456.7 270.4 456 270.1 455.3 271.1 454.6 272 453.9 271.1 453.2 270.2 452.5 268.5 451.8 269.7 451.1 269.9 450.4 269.7 449.7 269.4 449 270.7 448.3 270 447.6 271 446.9 271.9 446.2 274.9 445.5 278.4 444.8 274.9 444.1 271.4 443.4 269.6 442.7 270.9 442 272.2 441.3 275.7 440.6 271.6 439.9 269.2 439.2 269.3 438.5 270 437.8 269 437.1 270.1 436.4 269.3 435.7 269.1 435 268.8 434.3 269.3 433.6 268.6 432.9 269.6 432.2 269.4 431.5 269.4 430.8 269.8 430.1 269.3 429.4 270.6 428.7 269.9 428 269.4 427.3 270.3 426.6 270.5 425.9 271.4 425.2 273.8 424.5 271.5 423.8 269.3 423.1 270.2 422.4 271 421.7 272 421 271.1 420.3 270.3 419.6 270 418.9 270.9 418.2 270.5 417.5 269.8 416.8 271.4 416.1 273.6 415.4 275.8 414.7 274.3 414 276.6 413.3 274.4 412.6 272.2 411.9 270.6 411.2 270.7 410.5 269.8 409.8 270.4 409.1 270.7 408.4 271.6 407.7 272.8 407 273.4 406.3 276.2 405.6 279 404.9 276.2 404.2 273.5 403.5 270.8 402.8 270.1 402.1 270.4 401.4 270.4 400.7 270.5 400 271.2 399.3 272.5 398.6 271.8 397.9 271.6 397.2 270.7 396.5 270 395.8 270.7 395.1 272.2 394.4 274.8 393.7 272.3 393 270.9 392.3 272.3 391.6 273.7 390.9 275.1 390.2 273.8 389.5 272.4 388.8 274.6 388.1 278.7 387.4 277.7 386.7 276.1 386 274.2 385.3 272.3 384.6 272.6 383.9 273.3 383.2 274.2 382.5 273.4 381.8 273.5 381.1 273.1 380.4 273.7 379.7 275.1 379 276.5 378.3 277.4 377.6 280 376.9 279.1 376.2 277.2 375.5 275.3 374.8 275 374.1 278.3 373.4 275.1 372.7 274.4 372 276.7 371.3 278.9 370.6 276.9 369.9 274.8 369.2 273.5 368.5 273.5 367.8 274.1 367.1 275.3 366.4 274.3 365.7 274.6 365 276.8 364.3 279.1 363.6 277.1 362.9 275 362.2 274.6 361.5 274.8 360.8 273.8 360.1 275.3 359.4 274.8 358.7 275.1 358 274.8 357.3 276.4 356.6 278.8 355.9 281.2 355.2 283.7 354.5 281.5 353.8 279.3 353.1 277.8 352.4 277.2 351.7 276.9 351 280.1 350.3 283.4 349.6 280.4 348.9 280.5 348.2 279.1 347.5 280.6 346.8 283 346.1 285.3 345.4 283.3 344.7 281.4 344 279.5 343.3 278.6 342.6 279.3 341.9 279.9 341.2 283.1 340.5 286.2 339.8 283.5 339.1 283.6 338.4 282.6 337.7 282.3 337 283.4 336.3 282.8 335.6 282.3 334.9 281.7 334.2 282.9 333.5 282 332.8 281.6 332.1 282.9 331.4 282.7 330.7 283.9 330 285.5 329.3 287.2 328.6 288.8 327.9 288.4 327.2 287 326.5 286.1 325.8 284.9 325.1 287.7 324.4 290.3 323.7 293 323 291.2 322.3 289.5 321.6 288.2 320.9 290.4 320.2 293.6 319.5 297 318.8 296.7 318.1 295.8 317.4 295 316.7 296.6 316 299.5 315.3 302.5 314.6 301.2 313.9 301.9 313.2 305.3 312.5 304.1 311.8 302.9 311.1 302.9 310.4 303.2 309.7 304.2 309 306.8 308.3 309.3 307.6 312.4 306.9 313.6 306.2 315.1 305.5 318.4 304.8 320.8 304.1 323.8 303.4 327.9 302.7 335.7 302 344 301.3 345.7 300.6 347.4 299.9 348.4 299.2 347.1 298.5 347.6 297.8 348 297.1 347.1 296.4 348.4 295.7 349.7 295 351.1 294.3 350 293.6 349 292.9 348 292.2 348.3 291.5 349 290.8 348.2 290.1 348.8 289.4 349.1 288.7 350 288 349.5 287.3 349.4 286.6 350.4 285.9 350.2 285.2 350 284.5 349.7 283.8 350.6 283.1 351 282.4 350.5 281.7 351.7 281 352.2 280.3 353.5 279.6 354.8 278.9 354.9 278.2 357.5 277.5 356.1 276.8 354.8 276.1 353.5 275.4 354.5 274.7 357.9 274 361.3 273.3 358.4 272.6 355.4 271.9 354.5 271.2 354 270.5 354.7 269.8 355.6 269.1 358 268.4 360.4 267.7 362.8 267 360.9 266.3 359.1 265.6 360.4 264.9 360.3 264.2 363.6 263.5 360.9 262.8 358.2 262.1 358.1 261.4 358.6 260.7 359.3 260 360.1 259.3 360.1 258.6 359.9 257.9 360.1 257.2 360.5 256.5 360.6 255.8 361.2 255.1 362.9 254.4 364.7 253.7 363.7 253 363.5 252.3 362.1 251.6 364.6 250.9 364.5 250.2 364.3 249.5 364.4 248.8 365.7 248.1 364.5 247.4 366.8 246.7 366.6 246 368 245.3 367.4 244.6 368.1 243.9 369.5 243.2 368.8 242.5 369.9 241.8 371.6 241.1 373.4 240.4 375.1 239.7 374.5 239 373.9 238.3 373.3 237.6 373.4 236.9 373.4 236.2 374.7 235.5 377 234.8 376.5 234.1 376 233.4 377.6 232.7 380.6 232 384.6 231.3 388.6 230.6 386 229.9 384.2 229.2 388.2 228.5 385.7 227.8 383.3 227.1 383.3 226.4 385 225.7 386.2 225 388 224.3 387.9 223.6 389.7 222.9 392.8 222.2 395.8 221.5 394.6 220.8 393.3 220.1 392.6 219.4 393.1 218.7 395 218 396.1 217.3 397.7 216.6 400.6 215.9 403.6 215.2 402.7 214.5 402.9 213.8 407.3 213.1 411.7 212.4 409.5 211.7 407.4 211 406.3 210.3 407.1 209.6 409.5 208.9 410.8 208.2 413.4 207.5 417.6 206.8 429.2 206.1 438.9 205.4 441.3 204.7 438.5 204 435.8 203.3 434.1 202.6 434.6 201.9 435.1 201.2 435.6 200.5 434.9 199.8 434.1 199.1 433.9 198.4 433.3 197.7 432.3 197 433.8 196.3 435.3 195.6 437.2 194.9 439.1 194.2 437.2Z" fill="#ad1459"/>
<polyline points="194.2,429.8 196.3,429.8 198.4,430 200.5,430.2 202.6,430.6 204.7,431.1 206.8,424.4 208.9,407.6 211,403 213.1,399.5 215.2,396.2 217.3,393.1 219.4,390.2 221.5,387.4 223.6,384.8 225.7,382.3 227.8,379.9 229.9,377.7 232,375.6 234.1,373.6 236.2,371.7 238.3,369.9 240.4,368.2 242.5,366.6 244.6,365 246.7,363.6 248.8,362.2 250.9,360.9 253,359.6 255.1,358.5 257.2,357.4 259.3,356.3 261.4,355.3 263.5,354.4 265.6,353.5 267.7,352.6 269.8,351.8 271.9,351.1 274,350.3 276.1,349.7 278.2,349 280.3,348.4 282.4,347.8 284.5,347.3 286.6,346.7 288.7,346.2 290.8,345.8 292.9,345.3 295,344.9 297.1,344.5 299.2,344.1 301.3,338.6 303.4,324.4 305.5,314.1 307.6,306.6 309.7,301 311.8,296.8 313.9,293.4 316,290.8 318.1,288.6 320.2,286.7 322.3,285.1 324.4,283.7 326.5,282.4 328.6,281.3 330.7,280.3 332.8,279.3 334.9,278.5 337,277.7 339.1,276.9 341.2,276.2 343.3,275.6 345.4,275 347.5,274.4 349.6,273.9 351.7,273.4 353.8,272.9 355.9,272.4 358,272 360.1,271.6 362.2,271.3 364.3,270.9 366.4,270.6 368.5,270.3 370.6,270.1 372.7,269.8 374.8,269.5 376.9,269.3 379,269.1 381.1,268.9 383.2,268.7 385.3,268.5 387.4,268.4 389.5,268.2 391.6,268.1 393.7,267.9 395.8,267.8 397.9,267.7 400,267.5 402.1,267.4 404.2,267.3 406.3,267.2 408.4,267.2 410.5,267.1 412.6,267 414.7,266.9 416.8,266.9 418.9,266.8 421,266.7 423.1,266.7 425.2,266.6 427.3,266.6 429.4,266.5 431.5,266.5 433.6,266.4 435.7,266.4 437.8,266.4 439.9,266.3 442,266.3 444.1,266.3 446.2,266.2 448.3,266.2 450.4,266.2 452.5,266.2 454.6,266.1 456.7,266.1 458.8,266.1 460.9,266.1 463,266.1 465.1,266.2 467.2,266.2 469.3,266.3 471.4,266.3 473.5,266.3 475.6,266.4 477.7,266.4 479.8,266.4 481.9,266.4 484,266.5 486.1,266.5 488.2,266.5 490.3,266.5 492.4,266.5 494.5,266.5 496.6,266.5 498.7,266.5 500.8,266.5 502.9,266.5 505,266.5 507.1,266.5 509.2,266.6 511.3,266.6 513.4,266.6 515.5,266.6 517.6,266.6 519.7,266.6 521.8,266.6 523.9,266.6 526,266.6 528.1,266.6 530.2,266.6 532.3,266.6 534.4,266.6 536.5,266.6 538.6,266.6 540.7,266.6 542.8,266.6 544.9,266.6 547,266.6 549.1,266.6 551.2,266.6 553.3,266.6 555.4,266.6 557.5,266.6 559.6,266.6 561.7,266.6 563.8,266.6 565.9,266.6 568,266.6 570.1,266.6 572.2,266.6 574.3,266.6 576.4,266.6 578.5,266.6 580.6,266.6 582.7,266.6 584.8,266.6 586.9,266.6 589,266.6 591.1,266.6 593.2,266.6 595.3,266.6 597.4,266.6 599.5,266.6 601.6,266.6 603.7,266.6 605.8,266.6 607.9,266.6" fill="none" stroke="#ad1459" stroke-width="2.2" stroke-linejoin="round"/>
<path d="M194.2 426.2 194.9 423.7 195.6 425.6 196.3 423 197 424.6 197.7 422.3 198.4 422.3 199.1 427.2 199.8 428.3 200.5 427.2 201.2 424.9 201.9 422.2 202.6 425.2 203.3 428.2 204 430.4 204.7 432.3 205.4 431.8 206.1 432.1 206.8 424.9 207.5 416.5 208.2 411.8 208.9 408.5 209.6 406.3 210.3 404 211 401.9 211.7 399.8 212.4 399.5 213.1 399.2 213.8 398.9 214.5 397.5 215.2 395.4 215.9 393.4 216.6 393.4 217.3 393.4 218 392.7 218.7 389.6 219.4 386 220.1 382.5 220.8 380.8 221.5 383.1 222.2 382.2 222.9 384.6 223.6 386.2 224.3 385.5 225 384.4 225.7 382.9 226.4 382.1 227.1 379.4 227.8 376 228.5 377.8 229.2 379.7 229.9 378.4 230.6 377.1 231.3 375.8 232 374.6 232.7 374.5 233.4 374.4 234.1 374.3 234.8 374.5 235.5 373.7 236.2 371.4 236.9 371.8 237.6 371 238.3 370.3 239 371.1 239.7 369.4 240.4 369.6 241.1 369.3 241.8 368.4 242.5 367.3 243.2 365.2 243.9 363 244.6 360.9 245.3 362.1 246 363.2 246.7 364.4 247.4 363.8 248.1 362.5 248.8 364 249.5 364 250.2 362.4 250.9 362.1 251.6 361.2 252.3 361.2 253 361.1 253.7 360.5 254.4 359.8 255.1 358.3 255.8 360.5 256.5 359.3 257.2 358.5 257.9 358 258.6 357.5 259.3 356.9 260 356.4 260.7 356.3 261.4 356.1 262.1 356 262.8 355.4 263.5 355.8 264.2 355 264.9 354.5 265.6 353.9 266.3 352.1 267 350.4 267.7 351.6 268.4 352.4 269.1 352.8 269.8 353.2 270.5 353.2 271.2 348 271.9 342.7 272.6 347.5 273.3 350.7 274 351 274.7 351.9 275.4 350.8 276.1 349.9 276.8 349 277.5 349.5 278.2 349.9 278.9 350.3 279.6 349.1 280.3 349.4 281 349.9 281.7 349.2 282.4 349 283.1 348.6 283.8 347.5 284.5 348 285.2 347.4 285.9 346.4 286.6 345.4 287.3 346.1 288 346.7 288.7 346.8 289.4 346.3 290.1 345.8 290.8 342 291.5 338.2 292.2 341.7 292.9 344.1 293.6 342.1 294.3 340.1 295 341.8 295.7 343.5 296.4 345.1 297.1 346 297.8 344.9 298.5 345.4 299.2 344.7 299.9 344.8 300.6 344.3 301.3 340.1 302 335 302.7 329.6 303.4 324.3 304.1 319.7 304.8 317.5 305.5 314.7 306.2 312.4 306.9 309.8 307.6 307.1 308.3 303.9 309 299.7 309.7 295.5 310.4 291.6 311.1 292.6 311.8 293.7 312.5 294.9 313.2 295.3 313.9 292.6 314.6 289.9 315.3 287.2 316 286.9 316.7 289.1 317.4 290.1 318.1 289.6 318.8 289.4 319.5 287.9 320.2 287.6 320.9 287.8 321.6 284.1 322.3 280.5 323 282.5 323.7 280.1 324.4 277.7 325.1 279.2 325.8 280.7 326.5 281.3 327.2 279.6 327.9 277.9 328.6 278.8 329.3 279.8 330 280.8 330.7 281.3 331.4 280.4 332.1 280.8 332.8 280 333.5 281.3 334.2 280.5 334.9 279 335.6 278.7 336.3 278.7 337 278.2 337.7 279.3 338.4 278 339.1 278.6 339.8 278 340.5 277.9 341.2 276.2 341.9 272.3 342.6 268.4 343.3 271.9 344 275.3 344.7 276 345.4 275.4 346.1 275.5 346.8 274.2 347.5 272.8 348.2 271.4 348.9 272.4 349.6 273.4 350.3 274.5 351 274.2 351.7 273.4 352.4 270.4 353.1 267.3 353.8 270.1 354.5 272.8 355.2 273.2 355.9 273.4 356.6 273.1 357.3 273.5 358 271.8 358.7 271 359.4 268.8 360.1 266.3 360.8 268.5 361.5 269.6 362.2 266.6 362.9 263.5 363.6 266.4 364.3 269.2 365 271.5 365.7 271.4 366.4 271.7 367.1 272 367.8 271.9 368.5 272.1 369.2 271.1 369.9 270.7 370.6 270.8 371.3 270.9 372 269.4 372.7 267.9 373.4 266.4 374.1 267.7 374.8 269.1 375.5 269.8 376.2 270.4 376.9 270.4 377.6 270.2 378.3 270.1 379 266.6 379.7 263.1 380.4 266.5 381.1 269.8 381.8 269.6 382.5 270.2 383.2 270.1 383.9 269.8 384.6 270.1 385.3 270 386 269.1 386.7 269.6 387.4 269.1 388.1 269.5 388.8 265.6 389.5 260.4 390.2 265.5 390.9 269.4 391.6 268.8 392.3 268.2 393 268.2 393.7 269.3 394.4 269.2 395.1 268.6 395.8 265.3 396.5 262 397.2 265.2 397.9 264.9 398.6 261.1 399.3 265.1 400 266.2 400.7 263.5 401.4 260.9 402.1 263.5 402.8 266.1 403.5 267.5 404.2 268.8 404.9 267.8 405.6 264.8 406.3 260.6 407 264.8 407.7 267.8 408.4 267.3 409.1 266.9 409.8 267.3 410.5 266.4 411.2 264.7 411.9 266.3 412.6 266.8 413.3 266.2 414 266.8 414.7 267.4 415.4 266.9 416.1 265.8 416.8 264.5 417.5 265.7 418.2 267 418.9 268.3 419.6 267.8 420.3 267.3 421 267.7 421.7 268.3 422.4 267.8 423.1 268.5 423.8 267.5 424.5 268.3 425.2 268.1 425.9 268.5 426.6 268 427.3 267.9 428 267.2 428.7 267.8 429.4 267.7 430.1 267.8 430.8 267.5 431.5 267.7 432.2 268.1 432.9 267.6 433.6 267.2 434.3 268.3 435 268.4 435.7 264.6 436.4 261.3 437.1 264.5 437.8 268.1 438.5 267.5 439.2 266.9 439.9 266.7 440.6 264.6 441.3 262.6 442 260.5 442.7 262.5 443.4 264.6 444.1 266.6 444.8 266.8 445.5 267.5 446.2 266.9 446.9 267 447.6 266.5 448.3 266.8 449 267.2 449.7 266.9 450.4 267.1 451.1 265.8 451.8 264.5 452.5 265.8 453.2 266.6 453.9 267.2 454.6 266.9 455.3 264.2 456 261.5 456.7 258.8 457.4 261.5 458.1 263.3 458.8 265.4 459.5 264.9 460.2 263 460.9 261 461.6 244.5 462.3 227.1 463 223.4 463.7 223 464.4 222.7 465.1 220.4 465.8 216.7 466.5 211.9 467.2 215.2 467.9 215.8 468.6 215.7 469.3 209.4 470 214.6 470.7 214.5 471.4 211 472.1 207.6 472.8 210.2 473.5 212.9 474.2 216.6 474.9 215.5 475.6 214.7 476.3 215.5 477 214 477.7 214.2 478.4 212.5 479.1 212.8 479.8 212.9 480.5 213.3 481.2 214 481.9 213.5 482.6 213 483.3 212.2 484 213.6 484.7 212.6 485.4 211.7 486.1 212 486.8 212.7 487.5 211.3 488.2 209.5 488.9 211.2 489.6 212.1 490.3 211.2 491 210.3 491.7 209.4 492.4 210.2 493.1 211 493.8 211.9 494.5 211.9 495.2 211.9 495.9 211.5 496.6 210.1 497.3 208.7 498 210 498.7 211.4 499.4 211.4 500.1 211.1 500.8 211.7 501.5 211.6 502.2 211.9 502.9 208.9 503.6 205.7 504.3 208.9 505 211.1 505.7 211 506.4 210.9 507.1 211 507.8 211.3 508.5 207.8 509.2 203.4 509.9 207.8 510.6 211.1 511.3 210.7 512 211.6 512.7 211.2 513.4 211.8 514.1 210.7 514.8 210.9 515.5 211.2 516.2 211.4 516.9 211.3 517.6 212.5 518.3 209.6 519 206.1 519.7 202.7 520.4 206.1 521.1 209.6 521.8 209.9 522.5 209.1 523.2 209.9 523.9 210.7 524.6 210.3 525.3 211.5 526 211.1 526.7 211 527.4 210.6 528.1 210.6 528.8 210.8 529.5 210.2 530.2 209.5 530.9 208.9 531.6 209.5 532.3 209.3 533 207.7 533.7 209.3 534.4 210.7 535.1 209.2 535.8 206.1 536.5 203 537.2 206.1 537.9 209.2 538.6 211.6 539.3 211.4 540 211.3 540.7 211.8 541.4 211.8 542.1 211.6 542.8 208 543.5 202.2 544.2 208 544.9 209 545.6 206.9 546.3 204.7 547 206.9 547.7 209 548.4 208.7 549.1 209.7 549.8 210.7 550.5 212.2 551.2 211.6 551.9 210.2 552.6 211.6 553.3 208.4 554 205.4 554.7 202.4 555.4 205.4 556.1 208.4 556.8 211.4 557.5 212.3 558.2 210.5 558.9 210 559.6 211.1 560.3 211 561 209.1 561.7 207.1 562.4 209.1 563.1 210.6 563.8 211.6 564.5 211.3 565.2 210.5 565.9 210.5 566.6 210.8 567.3 210.6 568 210.3 568.7 211 569.4 211.4 570.1 211.2 570.8 210.8 571.5 211.4 572.2 211.4 572.9 211.4 573.6 211.8 574.3 210.7 575 211.4 575.7 210.9 576.4 208.1 577.1 205.2 577.8 202.3 578.5 205.2 579.2 208.1 579.9 209 580.6 206.6 581.3 204.2 582 206.1 582.7 205.5 583.4 207.4 584.1 209.3 584.8 211.6 585.5 211.3 586.2 210.7 586.9 211.3 587.6 210.8 588.3 210.4 589 212 589.7 211.7 590.4 211.5 591.1 211.5 591.8 210.4 592.5 209.3 593.2 208.2 593.9 207 594.6 208.2 595.3 209.3 596 207.4 596.7 201.8 597.4 207.4 598.1 210.6 598.8 211 599.5 210.3 600.2 209.6 600.9 208.8 601.6 209.6 602.3 209.4 603 208.1 603.7 206.7 604.4 208.1 605.1 209.4 605.8 210.1 606.5 211.1 607.2 211 607.9 211.8 608.6 211.4 609.3 212.4 609.3 220.8 608.6 223.6 607.9 226.4 607.2 223.6 606.5 220.8 605.8 222.5 605.1 220.7 604.4 220.8 603.7 219.7 603 218.6 602.3 217.6 601.6 217.6 600.9 217.7 600.2 217.9 599.5 217.8 598.8 218.4 598.1 219.8 597.4 221.4 596.7 222.9 596 221.4 595.3 219.8 594.6 218.3 593.9 218.2 593.2 217.8 592.5 218.7 591.8 220.5 591.1 222.3 590.4 224.1 589.7 224.6 589 225.3 588.3 221.3 587.6 218.4 586.9 218.9 586.2 220 585.5 221.8 584.8 223.7 584.1 221.8 583.4 220 582.7 218.1 582 217.6 581.3 217.6 580.6 216.8 579.9 221.5 579.2 225.9 578.5 221.5 577.8 221 577.1 223.4 576.4 225.7 575.7 223.4 575 222.8 574.3 220 573.6 217.9 572.9 217.4 572.2 217.9 571.5 218.3 570.8 218.1 570.1 216.7 569.4 219.8 568.7 222.5 568 225.2 567.3 222.5 566.6 220.1 565.9 218.5 565.2 217.5 564.5 218.1 563.8 217.9 563.1 217.3 562.4 218.1 561.7 222.4 561 226.7 560.3 222.4 559.6 223.5 558.9 220.4 558.2 221 557.5 223.6 556.8 226.2 556.1 223.6 555.4 221 554.7 218.3 554 217.2 553.3 218.5 552.6 216.8 551.9 217.9 551.2 218.4 550.5 218.9 549.8 220.3 549.1 221.8 548.4 220.3 547.7 218.9 547 218 546.3 218.8 545.6 220.6 544.9 218.8 544.2 217.2 543.5 217.7 542.8 217.7 542.1 218.1 541.4 219.9 540.7 221.7 540 223.6 539.3 221.7 538.6 219.9 537.9 218.1 537.2 217.3 536.5 218 535.8 217.7 535.1 216.8 534.4 219 533.7 220.5 533 219 532.3 217.3 531.6 217.7 530.9 216.9 530.2 219.1 529.5 221 528.8 222.9 528.1 221 527.4 221.1 526.7 224.1 526 227 525.3 224.1 524.6 226.9 523.9 220.8 523.2 224.3 522.5 224.4 521.8 221.8 521.1 219.1 520.4 217.2 519.7 219.2 519 222.6 518.3 226 517.6 222.6 516.9 219.2 516.2 218.1 515.5 217.9 514.8 217.5 514.1 217.6 513.4 218 512.7 217.1 512 217.3 511.3 219.6 510.6 221.6 509.9 219.6 509.2 217.5 508.5 217.1 507.8 217.3 507.1 219.8 506.4 222.3 505.7 219.8 505 219.1 504.3 221.3 503.6 223.5 502.9 221.3 502.2 219.2 501.5 218.3 500.8 219.7 500.1 221.1 499.4 221.7 498.7 223.4 498 226.9 497.3 221.7 496.6 218.5 495.9 217.5 495.2 218.9 494.5 218.4 493.8 219.3 493.1 218.2 492.4 218.6 491.7 218.9 491 220.5 490.3 222.3 489.6 220.6 488.9 219.5 488.2 218.3 487.5 218.4 486.8 222.6 486.1 227.4 485.4 222.7 484.7 218.8 484 219 483.3 219.3 482.6 219.3 481.9 219 481.2 220.2 480.5 220.2 479.8 221.2 479.1 224.9 478.4 228.7 477.7 225.3 477 223 476.3 226 475.6 223.5 474.9 222.2 474.2 224.6 473.5 228.1 472.8 225.2 472.1 224.5 471.4 226.9 470.7 229.4 470 227.8 469.3 228.9 468.6 232.2 467.9 230.1 467.2 228 466.5 228.6 465.8 229 465.1 232 464.4 235.3 463.7 234.7 463 235.4 462.3 240.1 461.6 254.5 460.9 273.8 460.2 274.1 459.5 272.7 458.8 275.7 458.1 278.1 457.4 275.7 456.7 273.5 456 273 455.3 273.3 454.6 273.8 453.9 275.8 453.2 278.2 452.5 275.8 451.8 273.2 451.1 274.5 450.4 275.8 449.7 274.5 449 274.1 448.3 273.5 447.6 274.2 446.9 274 446.2 276.5 445.5 279 444.8 281.4 444.1 279 443.4 276.5 442.7 274.1 442 274.3 441.3 273.1 440.6 273.2 439.9 274.2 439.2 274.8 438.5 274.5 437.8 273.7 437.1 274.1 436.4 275.2 435.7 276.2 435 277.3 434.3 276.3 433.6 275.2 432.9 274.8 432.2 274.7 431.5 277.1 430.8 280.7 430.1 281 429.4 279.1 428.7 278.3 428 281.2 427.3 278.4 426.6 279.6 425.9 283.3 425.2 279.6 424.5 276 423.8 273.8 423.1 274.2 422.4 274 421.7 273.3 421 274.7 420.3 274 419.6 274.8 418.9 275.6 418.2 276.4 417.5 276.9 416.8 275.7 416.1 274.5 415.4 273.7 414.7 274.5 414 274.3 413.3 274.5 412.6 273.9 411.9 274.9 411.2 274.5 410.5 275 409.8 275 409.1 275.8 408.4 276.5 407.7 277.3 407 277.1 406.3 279 405.6 281 404.9 279.1 404.2 277.2 403.5 275.4 402.8 274.8 402.1 275.9 401.4 274.9 400.7 276 400 275 399.3 276.3 398.6 278.4 397.9 276.4 397.2 275.4 396.5 275.3 395.8 275.3 395.1 275.6 394.4 276.8 393.7 278.6 393 280.4 392.3 278.7 391.6 277.8 390.9 281 390.2 284.2 389.5 281.1 388.8 278 388.1 276.7 387.4 277.4 386.7 278.2 386 278.5 385.3 283.6 384.6 281.1 383.9 283.3 383.2 281.2 382.5 279.1 381.8 277.1 381.1 279.2 380.4 281.4 379.7 283.6 379 281.6 378.3 279.5 377.6 277.5 376.9 277.1 376.2 277.1 375.5 276.7 374.8 275.7 374.1 277.8 373.4 277.9 372.7 279.5 372 278.1 371.3 277.3 370.6 277.8 369.9 277.7 369.2 278 368.5 278.2 367.8 277.5 367.1 278.4 366.4 278.9 365.7 280.5 365 282.1 364.3 280.7 363.6 279.3 362.9 279.5 362.2 283.8 361.5 288.1 360.8 284.1 360.1 281.5 359.4 284 358.7 281.7 358 279.5 357.3 278.8 356.6 279 355.9 280 355.2 279.9 354.5 279.8 353.8 280.9 353.1 281.1 352.4 280.3 351.7 281.8 351 281.2 350.3 281.2 349.6 282.1 348.9 281 348.2 283.1 347.5 286.6 346.8 290.2 346.1 287 345.4 283.8 344.7 283.6 344 285 343.3 286.4 342.6 285.9 341.9 287.2 341.2 286.4 340.5 285.6 339.8 284.8 339.1 284.1 338.4 285.5 337.7 285.2 337 286.3 336.3 287.5 335.6 286.8 334.9 286.2 334.2 286.7 333.5 286.4 332.8 286.4 332.1 287.5 331.4 288.3 330.7 288.7 330 288 329.3 289.7 328.6 291.6 327.9 293.4 327.2 292.3 326.5 292.1 325.8 294.8 325.1 292.9 324.4 290.4 323.7 290.6 323 292.5 322.3 293.1 321.6 293.1 320.9 293.2 320.2 294.7 319.5 296.9 318.8 300.1 318.1 303.4 317.4 301.5 316.7 299.6 316 298.6 315.3 299 314.6 299.2 313.9 300.7 313.2 302.3 312.5 302.5 311.8 305.4 311.1 305.5 310.4 306.6 309.7 308.4 309 310.4 308.3 312.3 307.6 314 306.9 317.2 306.2 321.9 305.5 328.3 304.8 332.1 304.1 333.3 303.4 334.9 302.7 337.1 302 345.2 301.3 353.7 300.6 355.7 299.9 352.6 299.2 351.8 298.5 351.5 297.8 351.5 297.1 351.7 296.4 354.2 295.7 357.5 295 360.9 294.3 357.8 293.6 359.9 292.9 358.4 292.2 357.3 291.5 362.1 290.8 357.6 290.1 356.3 289.4 362.3 288.7 356.6 288 354.2 287.3 353.4 286.6 354.4 285.9 355.5 285.2 356.9 284.5 359.4 283.8 364.1 283.1 359.8 282.4 358.4 281.7 360.6 281 362.7 280.3 361 279.6 361.2 278.9 364.5 278.2 361.7 277.5 358.8 276.8 356.7 276.1 356.9 275.4 356.3 274.7 357.5 274 357.2 273.3 357.9 272.6 357.1 271.9 359 271.2 359.9 270.5 363.4 269.8 366.9 269.1 363.9 268.4 360.9 267.7 361.5 267 364.3 266.3 362.1 265.6 361.2 264.9 364.2 264.2 367.1 263.5 370 262.8 367.7 262.1 365.4 261.4 363.9 260.7 366.3 260 368.9 259.3 371.5 258.6 369.5 257.9 370.6 257.2 373.3 256.5 371.3 255.8 370.9 255.1 373.8 254.4 371.7 253.7 369.6 253 367.5 252.3 367.4 251.6 369.4 250.9 371.3 250.2 370.2 249.5 369.9 248.8 371.4 248.1 373.2 247.4 372.3 246.7 371.6 246 372.2 245.3 372.2 244.6 372.9 243.9 374.9 243.2 376.9 242.5 378.9 241.8 378 241.1 377 240.4 376.1 239.7 376 239 375.9 238.3 378.1 237.6 380.1 236.9 382 236.2 381.3 235.5 380.6 234.8 380.6 234.1 381.4 233.4 382.8 232.7 384.2 232 385.6 231.3 385.6 230.6 387.2 229.9 391.2 229.2 388.6 228.5 385.3 227.8 386.6 227.1 388.5 226.4 388.9 225.7 390.4 225 390.1 224.3 391.4 223.6 392.8 222.9 393.2 222.2 395.2 221.5 397.5 220.8 397 220.1 397 219.4 397.5 218.7 399.4 218 399 217.3 402.1 216.6 405.3 215.9 408.6 215.2 407.4 214.5 406.2 213.8 405.8 213.1 406.2 212.4 409.3 211.7 410.3 211 412.5 210.3 414.8 209.6 415.3 208.9 416.1 208.2 418.8 207.5 425.4 206.8 437.5 206.1 447.3 205.4 444.4 204.7 441.5 204 438.6 203.3 438.1 202.6 437.9 201.9 436.9 201.2 437.1 200.5 438 199.8 437.8 199.1 437.2 198.4 437.5 197.7 437.2 197 437.2 196.3 437.9 195.6 440 194.9 443.5 194.2 439.9Z" fill="#4f7b2a"/>
<polyline points="194.2,434 196.3,434 198.4,434.2 200.5,434.5 202.6,434.9 204.7,435.4 206.8,428.7 208.9,411.8 211,407.2 213.1,403.7 215.2,400.4 217.3,397.3 219.4,394.4 221.5,391.6 223.6,389 225.7,386.5 227.8,384.2 229.9,381.9 232,379.8 234.1,377.8 236.2,375.9 238.3,374.1 240.4,372.4 242.5,370.8 244.6,369.2 246.7,367.8 248.8,366.4 250.9,365.1 253,363.9 255.1,362.7 257.2,361.6 259.3,360.5 261.4,359.5 263.5,358.6 265.6,357.7 267.7,356.9 269.8,356.1 271.9,355.3 274,354.6 276.1,353.9 278.2,353.2 280.3,352.6 282.4,352 284.5,351.5 286.6,351 288.7,350.5 290.8,350 292.9,349.6 295,349.1 297.1,348.7 299.2,348.4 301.3,342.8 303.4,328.6 305.5,318.4 307.6,310.9 309.7,305.3 311.8,301 313.9,297.7 316,295 318.1,292.8 320.2,290.9 322.3,289.3 324.4,287.9 326.5,286.7 328.6,285.5 330.7,284.5 332.8,283.6 334.9,282.7 337,281.9 339.1,281.2 341.2,280.5 343.3,279.8 345.4,279.2 347.5,278.6 349.6,278.1 351.7,277.6 353.8,277.1 355.9,276.7 358,276.3 360.1,275.9 362.2,275.5 364.3,275.2 366.4,274.9 368.5,274.6 370.6,274.3 372.7,274 374.8,273.8 376.9,273.5 379,273.3 381.1,273.1 383.2,272.9 385.3,272.8 387.4,272.6 389.5,272.4 391.6,272.3 393.7,272.1 395.8,272 397.9,271.9 400,271.8 402.1,271.7 404.2,271.6 406.3,271.5 408.4,271.4 410.5,271.3 412.6,271.2 414.7,271.2 416.8,271.1 418.9,271 421,271 423.1,270.9 425.2,270.9 427.3,270.8 429.4,270.8 431.5,270.7 433.6,270.7 435.7,270.6 437.8,270.6 439.9,270.6 442,270.5 444.1,270.5 446.2,270.5 448.3,270.5 450.4,270.4 452.5,270.4 454.6,270.4 456.7,270.4 458.8,270.3 460.9,270.3 463,230.9 465.1,225.4 467.2,223.1 469.3,221.3 471.4,219.8 473.5,218.7 475.6,217.8 477.7,217.1 479.8,216.6 481.9,216.1 484,215.7 486.1,215.5 488.2,215.2 490.3,215.1 492.4,214.9 494.5,214.8 496.6,214.7 498.7,214.7 500.8,214.6 502.9,214.6 505,214.5 507.1,214.5 509.2,214.5 511.3,214.4 513.4,214.4 515.5,214.4 517.6,214.4 519.7,214.4 521.8,214.4 523.9,214.4 526,214.4 528.1,214.4 530.2,214.4 532.3,214.4 534.4,214.4 536.5,214.4 538.6,214.4 540.7,214.4 542.8,214.4 544.9,214.4 547,214.4 549.1,214.4 551.2,214.4 553.3,214.4 555.4,214.4 557.5,214.4 559.6,214.4 561.7,214.4 563.8,214.4 565.9,214.4 568,214.4 570.1,214.4 572.2,214.4 574.3,214.4 576.4,214.4 578.5,214.4 580.6,214.4 582.7,214.4 584.8,214.4 586.9,214.4 589,214.4 591.1,214.4 593.2,214.4 595.3,214.4 597.4,214.4 599.5,214.4 601.6,214.4 603.7,214.4 605.8,214.4 607.9,214.4" fill="none" stroke="#4f7b2a" stroke-width="2.2" stroke-linejoin="round"/>
<text x="246.4" y="144.3" font-size="27.4" text-anchor="middle" fill="#000" >RBD</text>
<text x="246.4" y="176.4" font-size="27.4" text-anchor="middle" fill="#000" >loading</text>
<text x="381.5" y="151.3" font-size="27.4" text-anchor="middle" fill="#000" >ShAb01</text>
<text x="550.3" y="143.4" font-size="27.4" text-anchor="middle" fill="#000" >RBD specific</text>
<text x="553.6" y="176.2" font-size="27.4" text-anchor="middle" fill="#000" >ShAbs</text>
<text transform="translate(137.3,292.6) rotate(-90)" font-size="26.6" text-anchor="middle" >Response (nm)</text>
<line x1="728.8" y1="78.6" x2="763.8" y2="78.6" stroke="#4f7b2a" stroke-width="3.2" stroke-linecap="round"/>
<text x="783.6" y="88.4" font-size="26.7" text-anchor="start" fill="#000" >ShAb02</text>
<line x1="728.8" y1="124.7" x2="763.8" y2="124.7" stroke="#ad1459" stroke-width="3.2" stroke-linecap="round"/>
<text x="783.6" y="134.5" font-size="26.7" text-anchor="start" fill="#000" >ShAb09</text>
<line x1="728.8" y1="170.8" x2="763.8" y2="170.8" stroke="#8061b0" stroke-width="3.2" stroke-linecap="round"/>
<text x="783.6" y="180.6" font-size="26.7" text-anchor="start" fill="#000" >ShAb18</text>
<line x1="728.8" y1="216.9" x2="763.8" y2="216.9" stroke="#ad1459" stroke-width="3.2" stroke-linecap="round" stroke-dasharray="9.2 7.6"/>
<text x="783.6" y="226.7" font-size="26.7" text-anchor="start" fill="#000" >ShAb21</text>
<line x1="728.8" y1="263.0" x2="763.8" y2="263.0" stroke="#8061b0" stroke-width="3.2" stroke-linecap="round" stroke-dasharray="9.2 7.6"/>
<text x="783.6" y="272.8" font-size="26.7" text-anchor="start" fill="#000" >ShAb23</text>
<line x1="728.8" y1="309.1" x2="757.8" y2="309.1" stroke="#2c5da8" stroke-width="3.2" stroke-linecap="round" stroke-dasharray="1.6 7.4"/>
<text x="783.6" y="318.9" font-size="26.7" text-anchor="start" fill="#000" >ShAb24</text>
<line x1="728.8" y1="355.2" x2="757.8" y2="355.2" stroke="#4f7b2a" stroke-width="3.2" stroke-linecap="round" stroke-dasharray="1.6 7.4"/>
<text x="783.6" y="365.0" font-size="26.7" text-anchor="start" fill="#000" >ShAb25</text>
<line x1="728.8" y1="401.3" x2="757.8" y2="401.3" stroke="#c97b1f" stroke-width="3.2" stroke-linecap="round" stroke-dasharray="1.6 7.4"/>
<text x="783.6" y="411.1" font-size="26.7" text-anchor="start" fill="#000" >ShAb27</text>
<line x1="728.8" y1="447.4" x2="757.8" y2="447.4" stroke="#8061b0" stroke-width="3.2" stroke-linecap="round" stroke-dasharray="1.6 7.4"/>
<text x="783.6" y="457.2" font-size="26.7" text-anchor="start" fill="#000" >ShAb28</text>
<line x1="193.3" y1="603.5" x2="193.3" y2="932.9" stroke="#000" stroke-width="3" />
<line x1="179.5" y1="650.3" x2="193.3" y2="650.3" stroke="#000" stroke-width="3" />
<line x1="179.5" y1="744.0" x2="193.3" y2="744.0" stroke="#000" stroke-width="3" />
<line x1="179.5" y1="837.7" x2="193.3" y2="837.7" stroke="#000" stroke-width="3" />
<line x1="179.5" y1="931.4" x2="193.3" y2="931.4" stroke="#000" stroke-width="3" />
<line x1="185.3" y1="603.5" x2="193.3" y2="603.5" stroke="#000" stroke-width="3" />
<line x1="185.3" y1="697.1" x2="193.3" y2="697.1" stroke="#000" stroke-width="3" />
<line x1="185.3" y1="790.9" x2="193.3" y2="790.9" stroke="#000" stroke-width="3" />
<line x1="185.3" y1="884.5" x2="193.3" y2="884.5" stroke="#000" stroke-width="3" />
<line x1="191.8" y1="931.4" x2="684.7" y2="931.4" stroke="#000" stroke-width="3" />
<line x1="193.3" y1="931.4" x2="193.3" y2="945.0" stroke="#000" stroke-width="3" />
<line x1="356.6" y1="931.4" x2="356.6" y2="945.0" stroke="#000" stroke-width="3" />
<line x1="519.9" y1="931.4" x2="519.9" y2="945.0" stroke="#000" stroke-width="3" />
<line x1="683.2" y1="931.4" x2="683.2" y2="945.0" stroke="#000" stroke-width="3" />
<line x1="275.0" y1="931.4" x2="275.0" y2="939.2" stroke="#000" stroke-width="3" />
<line x1="438.2" y1="931.4" x2="438.2" y2="939.2" stroke="#000" stroke-width="3" />
<line x1="601.5" y1="931.4" x2="601.5" y2="939.2" stroke="#000" stroke-width="3" />
<text x="177.5" y="659.4" font-size="25.5" text-anchor="end" fill="#000" >1</text>
<text x="177.5" y="753.1" font-size="25.5" text-anchor="end" fill="#000" >0</text>
<text x="177.5" y="846.8" font-size="25.5" text-anchor="end" fill="#000" >-1</text>
<text x="177.5" y="940.5" font-size="25.5" text-anchor="end" fill="#000" >-2</text>
<text x="193.3" y="972.1" font-size="25.5" text-anchor="middle" fill="#000" >0</text>
<text x="356.6" y="972.1" font-size="25.5" text-anchor="middle" fill="#000" >200</text>
<text x="519.9" y="972.1" font-size="25.5" text-anchor="middle" fill="#000" >400</text>
<text x="683.2" y="972.1" font-size="25.5" text-anchor="middle" fill="#000" >600</text>
<line x1="194.8" y1="744.0" x2="683.2" y2="744.0" stroke="#000" stroke-width="3.1" stroke-dasharray="2.1 6.6" stroke-linecap="round"/>
<line x1="299.4" y1="605.9" x2="299.4" y2="930.4" stroke="#000" stroke-width="3" stroke-dasharray="1.7 6.8" stroke-linecap="round"/>
<line x1="459.5" y1="605.9" x2="459.5" y2="930.4" stroke="#000" stroke-width="3" stroke-dasharray="1.7 6.8" stroke-linecap="round"/>
<path d="M193.3 878.3 194 876.4 194.7 874.6 195.4 876.4 196.1 878.3 196.8 878 197.5 874.5 198.2 870.5 198.9 871.5 199.6 873.7 200.3 874.6 201 873.1 201.7 873.4 202.4 876.1 203.1 875.8 203.8 873.9 204.5 875.8 205.2 877.8 205.9 875 206.6 870 207.3 866.2 208 863.3 208.7 861.3 209.4 859.3 210.1 857.5 210.8 855.9 211.5 854.4 212.2 852 212.9 847.9 213.6 849.8 214.3 851.2 215 849.5 215.7 849.2 216.4 847.4 217.1 846.9 217.8 845.4 218.5 843 219.2 843.7 219.9 842.4 220.6 842.6 221.3 841.2 222 839.6 222.7 837.5 223.4 835.5 224.1 835.9 224.8 836.4 225.5 835.9 226.2 835.9 226.9 833.8 227.6 833.8 228.3 829.6 229 825.5 229.7 828.2 230.4 829.5 231.1 830 231.8 826.5 232.5 823 233.2 819.5 233.9 821.7 234.6 823.9 235.3 822.6 236 824.5 236.7 824.7 237.4 825.1 238.1 822.7 238.8 819.1 239.5 817 240.2 819.3 240.9 817.3 241.6 814.5 242.3 816.3 243 817.5 243.7 818 244.4 818.5 245.1 818.6 245.8 818.1 246.5 817.8 247.2 817.3 247.9 816.2 248.6 815.2 249.3 815.4 250 815.5 250.7 815.9 251.4 814.2 252.1 814.6 252.8 813.9 253.5 813.5 254.2 814.2 254.9 812 255.6 812 256.3 812.4 257 810.3 257.7 806.8 258.4 809.6 259.1 811.1 259.8 810.6 260.5 808.3 261.2 805.4 261.9 807.7 262.6 807.6 263.3 804.9 264 807 264.7 808 265.4 808.4 266.1 806.3 266.8 803.1 267.5 804.1 268.2 801.7 268.9 803.6 269.6 805.5 270.3 805.1 271 805.3 271.7 805.5 272.4 806.8 273.1 805 273.8 804 274.5 804.4 275.2 805.1 275.9 804.6 276.6 804.1 277.3 802.8 278 803.5 278.7 803.5 279.4 802.6 280.1 803.2 280.8 802 281.5 803.1 282.2 802.8 282.9 802 283.6 800.8 284.3 799.4 285 800.5 285.7 799.6 286.4 798.4 287.1 798.4 287.8 795.3 288.5 798.1 289.2 801 289.9 800.3 290.6 800.5 291.3 800.5 292 800.1 292.7 799.8 293.4 799.5 294.1 800 294.8 799.7 295.5 800.2 296.2 798.5 296.9 798.5 297.6 799.2 298.3 797.2 299 794.7 299.7 784.6 300.4 770.2 301.1 760.7 301.8 753.8 302.5 748.3 303.2 744.9 303.9 740 304.6 738.4 305.3 737.8 306 735.1 306.7 733.2 307.4 731.5 308.1 729.1 308.8 730.9 309.5 732.7 310.2 734.7 310.9 733.6 311.6 734.3 312.3 733.1 313 734.5 313.7 733.8 314.4 732.7 315.1 732.5 315.8 733.9 316.5 734.1 317.2 732.9 317.9 732.9 318.6 733.8 319.3 733.7 320 733.7 320.7 733.9 321.4 731.1 322.1 728.8 322.8 731.1 323.5 728.7 324.2 726.3 324.9 728.7 325.6 731.2 326.3 730.8 327 726.1 327.7 730.8 328.4 732.3 329.1 730.7 329.8 729.2 330.5 730.7 331.2 732.3 331.9 733.7 332.6 733.3 333.3 733.5 334 733.9 334.7 734.2 335.4 734 336.1 733.3 336.8 733.2 337.5 733.5 338.2 732.6 338.9 732 339.6 731.2 340.3 730.4 341 731.2 341.7 730.7 342.4 729.2 343.1 726.8 343.8 730.1 344.5 732.7 345.2 731.9 345.9 731.1 346.6 730.3 347.3 731.1 348 731.9 348.7 732.7 349.4 733.5 350.1 731.5 350.8 729.5 351.5 727.4 352.2 729.5 352.9 731.5 353.6 734.5 354.3 733.4 355 733 355.7 733.7 356.4 733.2 357.1 732.2 357.8 730.5 358.5 732.2 359.2 733.7 359.9 733.7 360.6 732.4 361.3 732.3 362 733 362.7 733.2 363.4 733.2 364.1 733.2 364.8 733.4 365.5 733.5 366.2 733.2 366.9 730.2 367.6 727.2 368.3 724.2 369 727.2 369.7 729.8 370.4 727.2 371.1 729.8 371.8 732.5 372.5 733.2 373.2 733.2 373.9 733.7 374.6 733.7 375.3 733.8 376 733.8 376.7 731.3 377.4 729.1 378.1 731.3 378.8 733.6 379.5 732.9 380.2 731.8 380.9 730.3 381.6 727.8 382.3 730.3 383 732.9 383.7 733.4 384.4 731.7 385.1 729.1 385.8 726.5 386.5 723.9 387.2 726.5 387.9 729.1 388.6 731.7 389.3 733.1 390 733.4 390.7 732.6 391.4 733.6 392.1 732.9 392.8 732.9 393.5 731.3 394.2 729 394.9 726.7 395.6 729 396.3 731.3 397 733.9 397.7 732.8 398.4 733.5 399.1 731.8 399.8 728.4 400.5 725.1 401.2 728.4 401.9 731.8 402.6 733.9 403.3 733.1 404 732.3 404.7 731.5 405.4 729.1 406.1 726.8 406.8 729.1 407.5 731.5 408.2 731.7 408.9 732.2 409.6 732.7 410.3 732.8 411 733 411.7 728.7 412.4 723.9 413.1 728.7 413.8 733.3 414.5 733.2 415.2 733.5 415.9 733.2 416.6 733.3 417.3 729.1 418 724.8 418.7 729.1 419.4 733.1 420.1 734.1 420.8 733.4 421.5 732.9 422.2 732 422.9 729.7 423.6 727.4 424.3 729.7 425 732 425.7 733.2 426.4 732.7 427.1 733.5 427.8 732.5 428.5 731.8 429.2 728.9 429.9 731.8 430.6 732.1 431.3 731.2 432 730.4 432.7 730.5 433.4 727.2 434.1 723.9 434.8 727.2 435.5 730.5 436.2 733.4 436.9 732 437.6 730.6 438.3 729.1 439 730.6 439.7 732 440.4 733.4 441.1 730.3 441.8 726.3 442.5 724.3 443.2 728.3 443.9 732.3 444.6 733.5 445.3 733.4 446 732.7 446.7 730.7 447.4 728.7 448.1 726.8 448.8 728.9 449.5 731.1 450.2 733.3 450.9 733.9 451.6 734.2 452.3 734.6 453 736.4 453.7 736.3 454.4 736.3 455.1 736.7 455.8 736.8 456.5 737.8 457.2 738.8 457.9 739.3 458.6 740.1 459.3 740.5 460 740.2 460.7 739.4 461.4 737.1 462.1 734.8 462.8 736.6 463.5 738.3 464.2 738.4 464.9 738.3 465.6 737 466.3 733.2 467 729.4 467.7 732.8 468.4 736.2 469.1 737.8 469.8 736.3 470.5 732.3 471.2 728.3 471.9 732 472.6 735.7 473.3 736.9 474 736.9 474.7 735.5 475.4 732.5 476.1 729.4 476.8 732.2 477.5 735 478.2 736.6 478.9 735.2 479.6 735.7 480.3 735.8 481 734.3 481.7 734.9 482.4 733.4 483.1 734.9 483.8 733.3 484.5 731.5 485.2 729.7 485.9 731.4 486.6 733.1 487.3 734.4 488 732.2 488.7 729.9 489.4 727.8 490.1 729.9 490.8 732 491.5 732.2 492.2 730.6 492.9 729 493.6 730.5 494.3 731.5 495 729.4 495.7 726.3 496.4 728 497.1 731.7 497.8 734 498.5 733.9 499.2 733.1 499.9 731.9 500.6 730.7 501.3 730.1 502 727.8 502.7 725.5 503.4 727.8 504.1 730 504.8 732.3 505.5 732.9 506.2 732.8 506.9 731.9 507.6 731 508.3 731.4 509 727.9 509.7 731.3 510.4 733.4 511.1 733.6 511.8 731.2 512.5 728.2 513.2 724.7 513.9 728.2 514.6 731.7 515.3 733.8 516 734.5 516.7 733.3 517.4 733 518.1 733.5 518.8 734 519.5 733.4 520.2 733.2 520.9 733.6 521.6 733.5 522.3 732.8 523 734 523.7 731.5 524.4 728.4 525.1 725.3 525.8 728.4 526.5 731.5 527.2 730.7 527.9 728.9 528.6 730.7 529.3 732.5 530 732.3 530.7 732 531.4 733 532.1 733.2 532.8 733.9 533.5 732.6 534.2 734 534.9 733.7 535.6 734.2 536.3 733.3 537 733.9 537.7 733.4 538.4 733.3 539.1 732.2 539.8 731.1 540.5 732.2 541.2 733.3 541.9 733.8 542.6 733.9 543.3 732.6 544 728.3 544.7 724 545.4 728.3 546.1 732.6 546.8 731.1 547.5 728.4 548.2 725.7 548.9 728.4 549.6 730.9 550.3 727.6 551 724.4 551.7 725.9 552.4 728.4 553.1 728 553.8 725.6 554.5 728 555.2 730.5 555.9 731.2 556.6 728.2 557.3 725.2 558 728.2 558.7 731.2 559.4 732.2 560.1 732.9 560.8 733.5 561.5 732.7 562.2 730.5 562.9 724.8 563.6 730.5 564.3 733.2 565 733.5 565.7 734 566.4 733.8 567.1 732.2 567.8 731.3 568.5 728.6 569.2 725.9 569.9 728.6 570.6 730.7 571.3 729 572 730.7 572.7 732.3 573.4 733.5 574.1 734 574.8 733.4 575.5 733.6 576.2 733 576.9 733.7 577.6 733.8 578.3 733.5 579 732.5 579.7 733.1 580.4 730.5 581.1 727.9 581.8 725.2 582.5 727.9 583.2 730.5 583.9 733.1 584.6 732.6 585.3 733.3 586 733.5 586.7 732.1 587.4 733.4 588.1 732 588.8 729.4 589.5 732 590.2 732.6 590.9 729.8 591.6 727 592.3 724.2 593 725.5 593.7 729.7 594.4 727.9 595.1 725.7 595.8 727.9 596.5 730.1 597.2 732.2 597.9 733.7 598.6 733.7 599.3 733.3 600 733.1 600.7 733.6 601.4 733 602.1 730.3 602.8 727.5 603.5 730.3 604.2 727.9 604.9 730.5 605.6 733.1 606.3 733.2 606.3 739.4 605.6 740.8 604.9 743.6 604.2 746.3 603.5 749 602.8 746.3 602.1 743.6 601.4 740.8 600.7 739.8 600 740.3 599.3 741.1 598.6 742.3 597.9 743.5 597.2 742.3 596.5 742.3 595.8 744.3 595.1 742.3 594.4 744.6 593.7 748.3 593 746.1 592.3 743.2 591.6 740.3 590.9 738.8 590.2 742.2 589.5 745.5 588.8 742.8 588.1 742.1 587.4 740.9 586.7 741.6 586 743.3 585.3 747.8 584.6 743.3 583.9 739.2 583.2 739.5 582.5 739.7 581.8 738.7 581.1 743.6 580.4 748.1 579.7 743.6 579 739.2 578.3 739.5 577.6 739 576.9 739.7 576.2 739.4 575.5 740.6 574.8 741.6 574.1 741 573.4 743.1 572.7 745.1 572 743.1 571.3 741 570.6 740.1 569.9 740.3 569.2 739.6 568.5 739.3 567.8 739.8 567.1 741.3 566.4 742.7 565.7 741.3 565 739.8 564.3 739.5 563.6 739.4 562.9 739.7 562.2 739.6 561.5 740.3 560.8 742.1 560.1 743.9 559.4 745.7 558.7 743.9 558 742.1 557.3 740.3 556.6 740.4 555.9 740.2 555.2 741 554.5 741.8 553.8 742.5 553.1 741.8 552.4 741.5 551.7 742.3 551 744.3 550.3 746.3 549.6 745.2 548.9 747.3 548.2 745.2 547.5 743.1 546.8 741 546.1 739.8 545.4 739.6 544.7 738.6 544 739.4 543.3 739.5 542.6 739.7 541.9 739.2 541.2 740.6 540.5 739.3 539.8 740.1 539.1 740.8 538.4 741.6 537.7 740.8 537 743.9 536.3 749.2 535.6 743.9 534.9 738.7 534.2 741 533.5 740 532.8 740.4 532.1 740.8 531.4 740.4 530.7 740.1 530 740.1 529.3 740.9 528.6 739.5 527.9 739.9 527.2 739.5 526.5 739.3 525.8 741.1 525.1 740.4 524.4 739.6 523.7 740.1 523 740.9 522.3 741.4 521.6 742.6 520.9 743.8 520.2 742.6 519.5 741.4 518.8 740.6 518.1 740.1 517.4 739.8 516.7 740.4 516 740 515.3 739.9 514.6 740 513.9 740.4 513.2 740.4 512.5 740.5 511.8 740.7 511.1 739.6 510.4 741.9 509.7 745.1 509 748.3 508.3 745.2 507.6 742.1 506.9 740.2 506.2 739.6 505.5 739.5 504.8 741.3 504.1 740.4 503.4 740.2 502.7 740.7 502 740.1 501.3 740.2 500.6 740.3 499.9 741.1 499.2 741.9 498.5 742.7 497.8 742 497.1 741.8 496.4 742.3 495.7 743.4 495 745.5 494.3 747.7 493.6 745.6 492.9 743.5 492.2 741.5 491.5 739.7 490.8 740.6 490.1 741 489.4 740.8 488.7 741.4 488 740 487.3 741 486.6 740.5 485.9 740.8 485.2 742.9 484.5 746.8 483.8 750.6 483.1 746.9 482.4 743.2 481.7 741.8 481 740.1 480.3 741 479.6 741.9 478.9 741.4 478.2 741.5 477.5 742.3 476.8 741.8 476.1 742.2 475.4 743.2 474.7 742.4 474 742.7 473.3 744.1 472.6 745.5 471.9 744.4 471.2 744.1 470.5 745 469.8 745.9 469.1 745.3 468.4 744.8 467.7 744.6 467 744.7 466.3 746.6 465.6 749.4 464.9 747 464.2 745.3 463.5 746 462.8 747.1 462.1 748.7 461.4 750.3 460.7 749.3 460 748.3 459.3 747 458.6 747.9 457.9 749.6 457.2 751.4 456.5 748.4 455.8 745.4 455.1 744.6 454.4 744.8 453.7 743.6 453 742.5 452.3 742.4 451.6 743.7 450.9 745.9 450.2 748.1 449.5 745.3 448.8 742.6 448.1 739.9 447.4 741 446.7 739.6 446 739.3 445.3 739.5 444.6 739.1 443.9 740.5 443.2 742.2 442.5 744 441.8 745.9 441.1 744 440.4 742.2 439.7 740.7 439 739.2 438.3 739.8 437.6 742.1 436.9 744.5 436.2 742.1 435.5 739.8 434.8 739.5 434.1 740.8 433.4 740.1 432.7 738.8 432 739.5 431.3 739.7 430.6 740.3 429.9 740.3 429.2 740.2 428.5 740.2 427.8 739.4 427.1 739.3 426.4 740.2 425.7 740.4 425 740.2 424.3 739.1 423.6 740 422.9 739.7 422.2 738.8 421.5 740 420.8 740.1 420.1 740.3 419.4 739.3 418.7 739.8 418 740.1 417.3 739.1 416.6 739.3 415.9 739.6 415.2 740.6 414.5 740.2 413.8 739.1 413.1 739.8 412.4 739.6 411.7 740 411 739.4 410.3 740.2 409.6 741.3 408.9 742.5 408.2 743.6 407.5 742.5 406.8 741.3 406.1 741.4 405.4 742.4 404.7 741.8 404 742.3 403.3 746.9 402.6 742.3 401.9 739.9 401.2 741.5 400.5 743 399.8 744.6 399.1 743 398.4 741.8 397.7 741.3 397 740.8 396.3 740.4 395.6 739.9 394.9 739.3 394.2 739.6 393.5 739.5 392.8 740.3 392.1 741.1 391.4 742.4 390.7 741.1 390 739.8 389.3 740.2 388.6 739.1 387.9 740.1 387.2 739.6 386.5 740.1 385.8 740 385.1 741.5 384.4 743.1 383.7 744.7 383 743.1 382.3 741.5 381.6 741.2 380.9 739.5 380.2 739.2 379.5 740.2 378.8 740.9 378.1 741.6 377.4 740.9 376.7 740.2 376 740.1 375.3 740 374.6 741.4 373.9 744.8 373.2 748.1 372.5 744.8 371.8 741.4 371.1 739.9 370.4 738.9 369.7 739.9 369 740.1 368.3 740.1 367.6 739.5 366.9 740.5 366.2 740.2 365.5 739.5 364.8 739.1 364.1 739.4 363.4 739.9 362.7 739.6 362 739.9 361.3 739.2 360.6 739.8 359.9 739.4 359.2 740 358.5 739.5 357.8 741.1 357.1 742.5 356.4 741.1 355.7 739.5 355 739.7 354.3 739.9 353.6 740 352.9 738.9 352.2 740.6 351.5 742.7 350.8 744.9 350.1 747 349.4 744.9 348.7 742.7 348 740.6 347.3 738.5 346.6 741 345.9 742.8 345.2 744.7 344.5 746.5 343.8 744.7 343.1 742.8 342.4 741.8 341.7 743.6 341 745.3 340.3 743.6 339.6 741.8 338.9 740.1 338.2 740.3 337.5 739.4 336.8 739.5 336.1 741.2 335.4 739.5 334.7 739.6 334 739.1 333.3 739.2 332.6 739.9 331.9 740.1 331.2 740.9 330.5 739.7 329.8 739.4 329.1 739.3 328.4 738.5 327.7 739.5 327 740.1 326.3 740.7 325.6 739.6 324.9 739.2 324.2 739.9 323.5 740.3 322.8 739.5 322.1 740.5 321.4 742.9 320.7 745.2 320 747.6 319.3 745.2 318.6 742.9 317.9 743.3 317.2 745.2 316.5 743.3 315.8 743.2 315.1 745.2 314.4 743.2 313.7 741.2 313 738.8 312.3 740 311.6 740.4 310.9 739.6 310.2 743.6 309.5 749.3 308.8 744 308.1 740.8 307.4 741.4 306.7 742.9 306 744 305.3 744.3 304.6 745.1 303.9 747.3 303.2 749.9 302.5 752.8 301.8 760.3 301.1 768.9 300.4 780.4 299.7 796.9 299 805.4 298.3 805.2 297.6 804.7 296.9 805.4 296.2 806.4 295.5 805 294.8 806.5 294.1 808.1 293.4 810.2 292.7 808.4 292 807.3 291.3 808.7 290.6 810.2 289.9 809.9 289.2 814.8 288.5 810.1 287.8 806.9 287.1 807.6 286.4 808.6 285.7 808.3 285 807.9 284.3 808.3 283.6 808.8 282.9 811 282.2 813.1 281.5 811.3 280.8 809.6 280.1 811.3 279.4 813.1 278.7 811.7 278 810.8 277.3 809.3 276.6 810.5 275.9 810.9 275.2 812.7 274.5 815.3 273.8 813.2 273.1 812.2 272.4 813.1 271.7 812.7 271 813.2 270.3 814.2 269.6 815.1 268.9 815.4 268.2 814.6 267.5 814.2 266.8 814.8 266.1 815.3 265.4 816.7 264.7 820.5 264 817.3 263.3 815 262.6 816 261.9 816.8 261.2 816.7 260.5 817.5 259.8 821.4 259.1 825.3 258.4 822.1 257.7 818.9 257 818.5 256.3 818.5 255.6 820.2 254.9 820.1 254.2 823.7 253.5 828 252.8 824.4 252.1 820.9 251.4 822 250.7 821.4 250 823.4 249.3 822.2 248.6 823.1 247.9 823.9 247.2 824 246.5 825.2 245.8 824.6 245.1 825.8 244.4 826.3 243.7 827.8 243 829.4 242.3 831 241.6 830.5 240.9 829.9 240.2 829.3 239.5 829.4 238.8 830.2 238.1 832.8 237.4 836.2 236.7 839.5 236 837.4 235.3 835.2 234.6 834.6 233.9 835.8 233.2 837 232.5 837 231.8 838.1 231.1 841.9 230.4 845.7 229.7 843.3 229 840.9 228.3 840.2 227.6 842.2 226.9 844.7 226.2 847.3 225.5 846.2 224.8 845.2 224.1 843.8 223.4 845 222.7 847.1 222 849.3 221.3 851.4 220.6 852.3 219.9 854.6 219.2 854 218.5 853.5 217.8 852.9 217.1 853.3 216.4 855.2 215.7 858.4 215 861.5 214.3 860.4 213.6 859.3 212.9 858.9 212.2 859.9 211.5 861.2 210.8 864.9 210.1 870.9 209.4 868.4 208.7 871.9 208 875.8 207.3 877 206.6 885.4 205.9 884.9 205.2 884.9 204.5 884.6 203.8 884.9 203.1 884.6 202.4 884.3 201.7 884.3 201 885.6 200.3 888.4 199.6 891.1 198.9 893.9 198.2 891.1 197.5 888.4 196.8 885.7 196.1 884.6 195.4 884.9 194.7 885.7 194 886.6 193.3 887.5Z" fill="#ad1459"/>
<polyline points="193.3,881.7 195.4,881.7 197.5,881.7 199.6,881.7 201.7,881.7 203.8,881.7 205.9,878.4 208,866.6 210.1,860.8 212.2,856.9 214.3,853.6 216.4,850.6 218.5,847.8 220.6,845.1 222.7,842.6 224.8,840.2 226.9,837.9 229,835.7 231.1,833.7 233.2,831.7 235.3,829.9 237.4,828.1 239.5,826.4 241.6,824.8 243.7,823.3 245.8,821.9 247.9,820.5 250,819.2 252.1,818 254.2,816.8 256.3,815.7 258.4,814.6 260.5,813.6 262.6,812.7 264.7,811.8 266.8,810.9 268.9,810.1 271,809.3 273.1,808.6 275.2,807.9 277.3,807.2 279.4,806.6 281.5,806 283.6,805.4 285.7,804.9 287.8,804.3 289.9,803.9 292,803.4 294.1,803 296.2,802.5 298.3,802.1 300.4,777.5 302.5,751.2 304.6,741.7 306.7,738.4 308.8,737.2 310.9,736.7 313,736.6 315.1,736.5 317.2,736.5 319.3,736.5 321.4,736.5 323.5,736.5 325.6,736.5 327.7,736.5 329.8,736.5 331.9,736.5 334,736.5 336.1,736.5 338.2,736.5 340.3,736.5 342.4,736.5 344.5,736.5 346.6,736.5 348.7,736.5 350.8,736.5 352.9,736.5 355,736.5 357.1,736.5 359.2,736.5 361.3,736.5 363.4,736.5 365.5,736.5 367.6,736.5 369.7,736.5 371.8,736.5 373.9,736.5 376,736.5 378.1,736.5 380.2,736.5 382.3,736.5 384.4,736.5 386.5,736.5 388.6,736.5 390.7,736.5 392.8,736.5 394.9,736.5 397,736.5 399.1,736.5 401.2,736.5 403.3,736.5 405.4,736.5 407.5,736.5 409.6,736.5 411.7,736.5 413.8,736.5 415.9,736.5 418,736.5 420.1,736.5 422.2,736.5 424.3,736.5 426.4,736.5 428.5,736.5 430.6,736.5 432.7,736.5 434.8,736.5 436.9,736.5 439,736.5 441.1,736.5 443.2,736.5 445.3,736.5 447.4,736.5 449.5,736.8 451.6,737.8 453.7,739.1 455.8,740.7 457.9,742.5 460,743.8 462.1,742.9 464.2,742.1 466.3,741.4 468.4,740.8 470.5,740.3 472.6,739.9 474.7,739.5 476.8,739.1 478.9,738.8 481,738.5 483.1,738.3 485.2,738.1 487.3,737.9 489.4,737.7 491.5,737.6 493.6,737.4 495.7,737.3 497.8,737.2 499.9,737.1 502,737.1 504.1,737 506.2,736.9 508.3,736.9 510.4,736.8 512.5,736.8 514.6,736.8 516.7,736.7 518.8,736.7 520.9,736.7 523,736.7 525.1,736.6 527.2,736.6 529.3,736.6 531.4,736.6 533.5,736.6 535.6,736.6 537.7,736.6 539.8,736.6 541.9,736.6 544,736.5 546.1,736.5 548.2,736.5 550.3,736.5 552.4,736.5 554.5,736.5 556.6,736.5 558.7,736.5 560.8,736.5 562.9,736.5 565,736.5 567.1,736.5 569.2,736.5 571.3,736.5 573.4,736.5 575.5,736.5 577.6,736.5 579.7,736.5 581.8,736.5 583.9,736.5 586,736.5 588.1,736.5 590.2,736.5 592.3,736.5 594.4,736.5 596.5,736.5 598.6,736.5 600.7,736.5 602.8,736.5 604.9,736.5" fill="none" stroke="#ad1459" stroke-width="2.2" stroke-linejoin="round"/>
<path d="M193.3 879.5 194 879 194.7 877.6 195.4 878.5 196.1 878.5 196.8 877.9 197.5 877.2 198.2 876.5 198.9 877.2 199.6 877.9 200.3 878.5 201 878.7 201.7 876.2 202.4 873.2 203.1 876.2 203.8 877.9 204.5 878.3 205.2 878 205.9 874.3 206.6 871.2 207.3 866.3 208 862.9 208.7 860.8 209.4 856.4 210.1 852.2 210.8 853.4 211.5 854.7 212.2 850.6 212.9 846.1 213.6 848.3 214.3 847.9 215 842 215.7 845.9 216.4 844.1 217.1 844.2 217.8 844.3 218.5 844.4 219.2 844.1 219.9 842 220.6 840 221.3 838.1 222 838.3 222.7 838.6 223.4 838.4 224.1 838.1 224.8 836.7 225.5 836.3 226.2 836 226.9 834.8 227.6 834.2 228.3 833 229 833.8 229.7 831.6 230.4 829.2 231.1 826.1 231.8 823 232.5 824.8 233.2 826.5 233.9 828 234.6 827.9 235.3 827.3 236 827.2 236.7 825.3 237.4 824.8 238.1 823.8 238.8 823.6 239.5 822.9 240.2 823.4 240.9 823.1 241.6 821.9 242.3 821.3 243 820.4 243.7 820.2 244.4 819.7 245.1 819.1 245.8 818.5 246.5 818.1 247.2 817.6 247.9 817.6 248.6 816.2 249.3 814.8 250 813.3 250.7 811.9 251.4 812.5 252.1 810.3 252.8 805.8 253.5 809.5 254.2 813.1 254.9 814.1 255.6 812.4 256.3 810.7 257 809 257.7 807.2 258.4 808.3 259.1 808.8 259.8 807.2 260.5 808.2 261.2 809.1 261.9 809.8 262.6 808.8 263.3 809.8 264 808.9 264.7 808.3 265.4 808.2 266.1 808.6 266.8 808.2 267.5 806.5 268.2 807.2 268.9 802.6 269.6 797.6 270.3 802.1 271 806.1 271.7 806.7 272.4 804.9 273.1 805.9 273.8 805.1 274.5 805.4 275.2 804.6 275.9 803.3 276.6 800.7 277.3 802.8 278 803.7 278.7 803.7 279.4 803.6 280.1 802.9 280.8 802.5 281.5 803.5 282.2 803.1 282.9 802.8 283.6 802.1 284.3 802.7 285 801.1 285.7 801.6 286.4 801.1 287.1 798.8 287.8 796.6 288.5 797.7 289.2 796.1 289.9 797.4 290.6 798.7 291.3 799.7 292 799.9 292.7 799.9 293.4 799.4 294.1 799.9 294.8 799.7 295.5 799.1 296.2 798 296.9 796.3 297.6 794.6 298.3 791.4 299 794.4 299.7 789 300.4 769.9 301.1 755.6 301.8 749.5 302.5 745.9 303.2 743.6 303.9 741.1 304.6 738.9 305.3 737.4 306 734.9 306.7 735 307.4 733.9 308.1 733.2 308.8 731.5 309.5 729.6 310.2 731.1 310.9 732.5 311.6 731.6 312.3 732.4 313 732.2 313.7 731.3 314.4 729.6 315.1 727.9 315.8 729.6 316.5 730.1 317.2 727.7 317.9 725.2 318.6 727.7 319.3 730.1 320 731.3 320.7 732.1 321.4 732.8 322.1 733.6 322.8 732.9 323.5 733.1 324.2 731.9 324.9 730.7 325.6 729.5 326.3 730.7 327 731.9 327.7 733 328.4 733 329.1 732.4 329.8 731.9 330.5 731.3 331.2 731.9 331.9 732.4 332.6 733 333.3 732.5 334 730.4 334.7 728.3 335.4 730.4 336.1 732.5 336.8 734 337.5 732.4 338.2 734.2 338.9 733.9 339.6 731.8 340.3 729.9 341 731.8 341.7 733.8 342.4 732.8 343.1 733.6 343.8 732.9 344.5 732.8 345.2 734 345.9 731.9 346.6 730 347.3 728.1 348 730 348.7 731.9 349.4 732.7 350.1 732 350.8 731.3 351.5 732 352.2 732.7 352.9 733.5 353.6 733.1 354.3 732.9 355 731.3 355.7 729.1 356.4 726.9 357.1 729.1 357.8 731.3 358.5 733.1 359.2 732.3 359.9 731.7 360.6 729.7 361.3 726.6 362 730 362.7 733.3 363.4 733.1 364.1 733.3 364.8 733.4 365.5 733.9 366.2 734 366.9 731.2 367.6 728.6 368.3 725.9 369 725.8 369.7 728.1 370.4 730.4 371.1 728.9 371.8 730.5 372.5 727.8 373.2 725.1 373.9 727.8 374.6 730.5 375.3 730.4 376 730.5 376.7 731.4 377.4 730.3 378.1 728.1 378.8 725.9 379.5 728.1 380.2 730.3 380.9 732.6 381.6 733 382.3 733.1 383 733.2 383.7 733.6 384.4 733.1 385.1 732.6 385.8 733.3 386.5 732.2 387.2 730.5 387.9 728.7 388.6 727 389.3 728.7 390 730.5 390.7 730 391.4 726.5 392.1 730 392.8 733.4 393.5 732.5 394.2 730.2 394.9 727.8 395.6 725.5 396.3 727.8 397 729.6 397.7 731.3 398.4 731.6 399.1 728.2 399.8 731.6 400.5 732.9 401.2 730.1 401.9 727.3 402.6 729.9 403.3 727.9 404 729.9 404.7 731.8 405.4 733.7 406.1 732.8 406.8 734 407.5 732.7 408.2 733.3 408.9 732.4 409.6 732.7 410.3 732.9 411 733.1 411.7 733.2 412.4 734 413.1 733.6 413.8 732.4 414.5 731.4 415.2 730.4 415.9 731.4 416.6 732.4 417.3 733.4 418 733.5 418.7 732.7 419.4 729.8 420.1 726.9 420.8 724 421.5 726.9 422.2 729.8 422.9 728 423.6 731.6 424.3 732.5 425 731.8 425.7 731.2 426.4 731.8 427.1 730.4 427.8 728 428.5 725.6 429.2 728 429.9 730.4 430.6 732.2 431.3 731.2 432 730.3 432.7 725.7 433.4 730.3 434.1 733 434.8 733 435.5 733.3 436.2 731.3 436.9 728.8 437.6 726.2 438.3 728.8 439 728.4 439.7 729.8 440.4 731.2 441.1 730.9 441.8 727.7 442.5 730.9 443.2 733.7 443.9 733.6 444.6 733.4 445.3 732.8 446 729.6 446.7 725.1 447.4 729.6 448.1 728.2 448.8 724.6 449.5 728.6 450.2 732.6 450.9 733.8 451.6 733 452.3 731.8 453 733.3 453.7 734.4 454.4 735.6 455.1 736.7 455.8 737.9 456.5 738 457.2 738.5 457.9 738.5 458.6 739.9 459.3 739.9 460 738.9 460.7 740.1 461.4 738.1 462.1 731.7 462.8 738.1 463.5 740.3 464.2 738.9 464.9 737.5 465.6 739 466.3 740.4 467 740.6 467.7 741 468.4 741.4 469.1 740.7 469.8 742.1 470.5 742.1 471.2 741.9 471.9 740.8 472.6 741.3 473.3 740.8 474 739.6 474.7 736.7 475.4 733.9 476.1 736.8 476.8 739.6 477.5 740.8 478.2 741.8 478.9 740.9 479.6 740.2 480.3 740.8 481 741.7 481.7 740.8 482.4 741.1 483.1 741.4 483.8 740.7 484.5 740.6 485.2 741.5 485.9 741.2 486.6 741.4 487.3 741.2 488 740.4 488.7 739.4 489.4 738.1 490.1 739.4 490.8 740.4 491.5 739.1 492.2 740.4 492.9 741.8 493.6 740.9 494.3 741.3 495 741.2 495.7 741.5 496.4 741.7 497.1 741.7 497.8 741.2 498.5 741 499.2 740 499.9 739 500.6 738.1 501.3 739 502 740 502.7 741 503.4 741.3 504.1 740.9 504.8 741.6 505.5 738.6 506.2 735.3 506.9 732 507.6 735.3 508.3 738.6 509 741.9 509.7 740.2 510.4 738.4 511.1 736.6 511.8 734.8 512.5 736.6 513.2 738.4 513.9 738.4 514.6 739.4 515.3 739.1 516 739.6 516.7 738.2 517.4 735.5 518.1 732.8 518.8 735.5 519.5 738.2 520.2 739.7 520.9 739.1 521.6 738.3 522.3 739.2 523 739.2 523.7 738.2 524.4 739 525.1 740 525.8 740 526.5 738.7 527.2 736.8 527.9 734.8 528.6 736.8 529.3 738.7 530 740 530.7 738.1 531.4 736.3 532.1 738.1 532.8 740 533.5 736.9 534.2 732.7 534.9 736.9 535.6 733.6 536.3 738.1 537 735.5 537.7 738.3 538.4 741.1 539.1 740.7 539.8 741.5 540.5 740.7 541.2 741.1 541.9 741.4 542.6 741.1 543.3 740.4 544 742 544.7 740.9 545.4 740.9 546.1 741.4 546.8 740.5 547.5 740.9 548.2 741 548.9 741.7 549.6 741 550.3 741 551 738.6 551.7 736.1 552.4 738.6 553.1 740.5 553.8 739.7 554.5 737.9 555.2 739.7 555.9 740.6 556.6 739.4 557.3 738.3 558 739.4 558.7 740.6 559.4 739.5 560.1 738.2 560.8 737 561.5 738.2 562.2 739.5 562.9 740.7 563.6 738.8 564.3 736.3 565 738.8 565.7 741 566.4 742.3 567.1 741.3 567.8 741 568.5 740 569.2 738.9 569.9 737.1 570.6 735.4 571.3 737.1 572 738.9 572.7 740.6 573.4 740.9 574.1 740.6 574.8 740.3 575.5 737.9 576.2 735.1 576.9 732.3 577.6 735.1 578.3 737.9 579 740.7 579.7 740.1 580.4 741.6 581.1 740.4 581.8 741.7 582.5 740.4 583.2 739.1 583.9 737.9 584.6 736.6 585.3 737.9 586 739.1 586.7 737.7 587.4 736.4 588.1 739.2 588.8 741 589.5 742.3 590.2 741.2 590.9 740.7 591.6 741.3 592.3 737.3 593 732.4 593.7 737.3 594.4 739.8 595.1 738.7 595.8 739.8 596.5 740.6 597.2 741.7 597.9 741.1 598.6 741.8 599.3 741.1 600 740.7 600.7 738.3 601.4 735.2 602.1 732.6 602.8 735.4 603.5 738.3 604.2 736.9 604.9 734 605.6 736.9 606.3 739.8 606.3 748.8 605.6 747.4 604.9 748.3 604.2 747.9 603.5 748.1 602.8 748.1 602.1 747.4 601.4 747.7 600.7 747.3 600 747.8 599.3 746.8 598.6 747.4 597.9 747.9 597.2 747.1 596.5 747.6 595.8 748.4 595.1 748.3 594.4 748.1 593.7 747.1 593 747.7 592.3 748.1 591.6 750.8 590.9 753.5 590.2 750.8 589.5 749.4 588.8 750.9 588.1 749.4 587.4 750.2 586.7 751.4 586 750.2 585.3 750.5 584.6 752.5 583.9 754.4 583.2 753.8 582.5 756.7 581.8 753.8 581.1 750.9 580.4 748 579.7 747.6 579 746.9 578.3 748 577.6 747.7 576.9 747.6 576.2 747.5 575.5 747.3 574.8 747.9 574.1 749.9 573.4 752 572.7 750.8 572 752.9 571.3 750.8 570.6 748.7 569.9 748.2 569.2 747.7 568.5 748.5 567.8 750.3 567.1 748.5 566.4 748.1 565.7 748.3 565 748.7 564.3 749.1 563.6 748.7 562.9 748.6 562.2 752.4 561.5 756.1 560.8 752.4 560.1 750.2 559.4 753.4 558.7 750.2 558 748 557.3 747.3 556.6 748 555.9 748.9 555.2 749.7 554.5 750.5 553.8 753.2 553.1 756 552.4 753.2 551.7 750.5 551 747.8 550.3 747.4 549.6 747.1 548.9 747.9 548.2 747.2 547.5 748.7 546.8 747.6 546.1 748.7 545.4 747.6 544.7 748 544 747 543.3 748.5 542.6 747.6 541.9 747.5 541.2 747.7 540.5 749 539.8 749.4 539.1 750.2 538.4 749.4 537.7 748.6 537 751.4 536.3 754.2 535.6 757 534.9 754.2 534.2 751.4 533.5 748.6 532.8 749.5 532.1 748.2 531.4 747.3 530.7 747.9 530 748.4 529.3 747.4 528.6 746.7 527.9 748 527.2 750.7 526.5 753.3 525.8 755.9 525.1 753.3 524.4 754.5 523.7 753.4 523 756.5 522.3 753.4 521.6 750.2 520.9 748 520.2 748.2 519.5 750.2 518.8 752.3 518.1 754.4 517.4 752.3 516.7 750.2 516 749.1 515.3 751.1 514.6 750.5 513.9 753.6 513.2 756.7 512.5 753.6 511.8 751 511.1 752.3 510.4 751.7 509.7 753.4 509 751.7 508.3 750 507.6 748.7 506.9 748.9 506.2 750.3 505.5 752.6 504.8 754.9 504.1 752.6 503.4 750.3 502.7 748.1 502 748.3 501.3 747.1 500.6 747.3 499.9 747.2 499.2 747.2 498.5 747 497.8 747.6 497.1 747.1 496.4 747.8 495.7 747 495 747.5 494.3 747.7 493.6 748.3 492.9 747.8 492.2 747.5 491.5 747.6 490.8 748.3 490.1 747.6 489.4 748.2 488.7 748.8 488 748.1 487.3 747.8 486.6 748 485.9 748.2 485.2 748 484.5 747.8 483.8 747.7 483.1 747.8 482.4 752.1 481.7 756.4 481 752.1 480.3 750.5 479.6 749 478.9 747.8 478.2 746.8 477.5 747.3 476.8 747.3 476.1 747.2 475.4 747.2 474.7 747 474 747.1 473.3 747.5 472.6 747.2 471.9 747.7 471.2 747.6 470.5 747.8 469.8 749.1 469.1 751.1 468.4 753.1 467.7 751.1 467 749.1 466.3 747.4 465.6 746.9 464.9 748 464.2 747.2 463.5 746.6 462.8 748.2 462.1 747.7 461.4 747.7 460.7 747.1 460 746.9 459.3 747.5 458.6 747.5 457.9 747.6 457.2 747.2 456.5 745.3 455.8 746 455.1 747.5 454.4 744.9 453.7 742.4 453 742.3 452.3 741.1 451.6 740.9 450.9 739.9 450.2 739.7 449.5 740.9 448.8 741.9 448.1 743 447.4 741.8 446.7 740.5 446 741.3 445.3 742.1 444.6 741.3 443.9 740.5 443.2 741.6 442.5 743.9 441.8 746.3 441.1 743.9 440.4 741.6 439.7 740.4 439 740.2 438.3 740.2 437.6 740.4 436.9 739.5 436.2 739.4 435.5 739.8 434.8 739.8 434.1 739.4 433.4 739.4 432.7 739.5 432 739.4 431.3 740.9 430.6 743.1 429.9 745.2 429.2 743.4 428.5 745.9 427.8 748.4 427.1 745.9 426.4 743.4 425.7 740.9 425 740.2 424.3 741.6 423.6 742.9 422.9 744.3 422.2 742.9 421.5 741.6 420.8 742.6 420.1 744.9 419.4 742.6 418.7 740.9 418 742.8 417.3 744.7 416.6 742.8 415.9 740.9 415.2 740 414.5 740.3 413.8 742 413.1 743.6 412.4 742 411.7 740.3 411 740.3 410.3 740.1 409.6 738.8 408.9 739.8 408.2 740 407.5 739.1 406.8 739.3 406.1 739.1 405.4 740.6 404.7 741.9 404 743.3 403.3 741.9 402.6 740.6 401.9 739.8 401.2 741.4 400.5 744.1 399.8 746.8 399.1 744.1 398.4 745.3 397.7 748.5 397 745.3 396.3 743.2 395.6 741.7 394.9 740.1 394.2 739.9 393.5 739.8 392.8 740.4 392.1 741.1 391.4 741.9 390.7 741.1 390 740.4 389.3 740 388.6 740.2 387.9 739.9 387.2 740.2 386.5 740.2 385.8 740.1 385.1 739.5 384.4 740.3 383.7 740 383 740.4 382.3 740.4 381.6 743.4 380.9 748.5 380.2 743.4 379.5 739.5 378.8 740.5 378.1 740.1 377.4 738.8 376.7 739.7 376 740.1 375.3 739.1 374.6 739.8 373.9 739.8 373.2 739.8 372.5 741.7 371.8 743.6 371.1 745.3 370.4 743.4 369.7 741.4 369 738.6 368.3 738.9 367.6 739.3 366.9 739.9 366.2 740.7 365.5 740.2 364.8 740.1 364.1 740 363.4 740 362.7 738.8 362 740 361.3 739.3 360.6 739.1 359.9 739.9 359.2 739.9 358.5 740.2 357.8 740.2 357.1 739.4 356.4 741 355.7 742.9 355 744.7 354.3 742.9 353.6 741 352.9 740.4 352.2 740.9 351.5 741.4 350.8 740.9 350.1 740.6 349.4 739.9 348.7 738.9 348 740.3 347.3 740.5 346.6 740.6 345.9 739.8 345.2 741.1 344.5 743 343.8 744.9 343.1 743 342.4 741.1 341.7 740.2 341 740.7 340.3 743.8 339.6 747 338.9 743.8 338.2 740.7 337.5 739.5 336.8 739.1 336.1 741.2 335.4 743.2 334.7 745.2 334 743.2 333.3 741.2 332.6 739.6 331.9 740.4 331.2 741.5 330.5 742.6 329.8 741.5 329.1 740.4 328.4 740.4 327.7 742.3 327 744.2 326.3 742.3 325.6 740.4 324.9 739.9 324.2 739.6 323.5 740 322.8 740.7 322.1 739.9 321.4 740.1 320.7 740.5 320 739 319.3 739.7 318.6 739.6 317.9 739.1 317.2 740.7 316.5 740.8 315.8 740.5 315.1 739.4 314.4 739.7 313.7 738.9 313 739.4 312.3 739.5 311.6 739.8 310.9 739.8 310.2 740.2 309.5 740.3 308.8 741 308.1 741.7 307.4 741.7 306.7 742.4 306 742 305.3 744.3 304.6 744.1 303.9 748.1 303.2 753.2 302.5 759.6 301.8 763.5 301.1 769.8 300.4 780.7 299.7 797.3 299 805.6 298.3 805.6 297.6 806.6 296.9 808.8 296.2 811.4 295.5 814.1 294.8 811.7 294.1 809.3 293.4 809.3 292.7 812.3 292 815.2 291.3 812.6 290.6 809.9 289.9 807.8 289.2 808.3 288.5 810.4 287.8 812.6 287.1 814.8 286.4 814 285.7 816.8 285 814.4 284.3 811.9 283.6 809.5 282.9 810 282.2 810.7 281.5 810.4 280.8 810.1 280.1 809.7 279.4 808.6 278.7 809.8 278 810.1 277.3 810.4 276.6 810.9 275.9 812.3 275.2 813.7 274.5 815.1 273.8 814.2 273.1 813.2 272.4 813 271.7 815.9 271 818.8 270.3 821.8 269.6 819.3 268.9 816.9 268.2 814.5 267.5 814.2 266.8 814.7 266.1 815.4 265.4 816.2 264.7 816 264 816.1 263.3 815.6 262.6 817.1 261.9 816.8 261.2 816.2 260.5 817.5 259.8 816.9 259.1 817.8 258.4 817.8 257.7 818.5 257 819.4 256.3 820.3 255.6 821.3 254.9 821.1 254.2 820.9 253.5 822.4 252.8 825 252.1 826.8 251.4 823.9 250.7 822.5 250 822.9 249.3 823.9 248.6 825 247.9 826.1 247.2 825.9 246.5 825.7 245.8 825.5 245.1 824.9 244.4 826.6 243.7 825.9 243 826.8 242.3 826.7 241.6 828.4 240.9 828.9 240.2 829.8 239.5 830.9 238.8 830.9 238.1 830.9 237.4 830.9 236.7 832.4 236 832.3 235.3 834.1 234.6 833.3 233.9 834.4 233.2 835.3 232.5 837.3 231.8 839.4 231.1 838.6 230.4 838.8 229.7 840.9 229 843.1 228.3 842.4 227.6 841.6 226.9 841.6 226.2 841.7 225.5 842.4 224.8 843.3 224.1 844.4 223.4 844.7 222.7 847.1 222 847.5 221.3 849 220.6 850.4 219.9 850.7 219.2 851 218.5 851.9 217.8 853.7 217.1 855.5 216.4 857.9 215.7 857.4 215 857 214.3 860.1 213.6 863.8 212.9 862.3 212.2 860.7 211.5 861.6 210.8 864.4 210.1 867.4 209.4 867.4 208.7 867.7 208 870.3 207.3 873.8 206.6 878.3 205.9 884.2 205.2 889.1 204.5 890.7 203.8 889.1 203.1 887.5 202.4 886.8 201.7 889.7 201 886.8 200.3 885.1 199.6 884.8 198.9 884.6 198.2 884.6 197.5 884.4 196.8 884.3 196.1 885.1 195.4 885.9 194.7 884.5 194 885.6 193.3 885.3Z" fill="#4f7b2a"/>
<polyline points="193.3,881.7 195.4,881.7 197.5,881.7 199.6,881.7 201.7,881.7 203.8,881.7 205.9,878.4 208,866.6 210.1,860.8 212.2,856.9 214.3,853.6 216.4,850.6 218.5,847.8 220.6,845.1 222.7,842.6 224.8,840.2 226.9,837.9 229,835.7 231.1,833.7 233.2,831.7 235.3,829.9 237.4,828.1 239.5,826.4 241.6,824.8 243.7,823.3 245.8,821.9 247.9,820.5 250,819.2 252.1,818 254.2,816.8 256.3,815.7 258.4,814.6 260.5,813.6 262.6,812.7 264.7,811.8 266.8,810.9 268.9,810.1 271,809.3 273.1,808.6 275.2,807.9 277.3,807.2 279.4,806.6 281.5,806 283.6,805.4 285.7,804.9 287.8,804.3 289.9,803.9 292,803.4 294.1,803 296.2,802.5 298.3,802.1 300.4,777.5 302.5,751.2 304.6,741.7 306.7,738.4 308.8,737.2 310.9,736.7 313,736.6 315.1,736.5 317.2,736.5 319.3,736.5 321.4,736.5 323.5,736.5 325.6,736.5 327.7,736.5 329.8,736.5 331.9,736.5 334,736.5 336.1,736.5 338.2,736.5 340.3,736.5 342.4,736.5 344.5,736.5 346.6,736.5 348.7,736.5 350.8,736.5 352.9,736.5 355,736.5 357.1,736.5 359.2,736.5 361.3,736.5 363.4,736.5 365.5,736.5 367.6,736.5 369.7,736.5 371.8,736.5 373.9,736.5 376,736.5 378.1,736.5 380.2,736.5 382.3,736.5 384.4,736.5 386.5,736.5 388.6,736.5 390.7,736.5 392.8,736.5 394.9,736.5 397,736.5 399.1,736.5 401.2,736.5 403.3,736.5 405.4,736.5 407.5,736.5 409.6,736.5 411.7,736.5 413.8,736.5 415.9,736.5 418,736.5 420.1,736.5 422.2,736.5 424.3,736.5 426.4,736.5 428.5,736.5 430.6,736.5 432.7,736.5 434.8,736.5 436.9,736.5 439,736.5 441.1,736.5 443.2,736.5 445.3,736.5 447.4,736.5 449.5,736.8 451.6,737.8 453.7,739.1 455.8,740.7 457.9,742.5 460,744 462.1,744.1 464.2,744.2 466.3,744.2 468.4,744.3 470.5,744.3 472.6,744.3 474.7,744.4 476.8,744.4 478.9,744.4 481,744.4 483.1,744.4 485.2,744.4 487.3,744.4 489.4,744.4 491.5,744.4 493.6,744.5 495.7,744.5 497.8,744.5 499.9,744.5 502,744.5 504.1,744.5 506.2,744.5 508.3,744.5 510.4,744.5 512.5,744.5 514.6,744.5 516.7,744.5 518.8,744.5 520.9,744.5 523,744.5 525.1,744.5 527.2,744.5 529.3,744.5 531.4,744.5 533.5,744.5 535.6,744.5 537.7,744.5 539.8,744.5 541.9,744.5 544,744.5 546.1,744.5 548.2,744.5 550.3,744.5 552.4,744.5 554.5,744.5 556.6,744.5 558.7,744.5 560.8,744.5 562.9,744.5 565,744.5 567.1,744.5 569.2,744.5 571.3,744.5 573.4,744.5 575.5,744.5 577.6,744.5 579.7,744.5 581.8,744.5 583.9,744.5 586,744.5 588.1,744.5 590.2,744.5 592.3,744.5 594.4,744.5 596.5,744.5 598.6,744.5 600.7,744.5 602.8,744.5 604.9,744.5" fill="none" stroke="#4f7b2a" stroke-width="2.2" stroke-linejoin="round"/>
<path d="M193.3 880.9 194 881.5 194.7 882 195.4 881.4 196.1 882.3 196.8 881.6 197.5 881.2 198.2 881.2 198.9 880.6 199.6 880 200.3 880.6 201 881.2 201.7 880.1 202.4 881.2 203.1 880.4 203.8 878.9 204.5 875.9 205.2 872.8 205.9 872.5 206.6 870.4 207.3 869.4 208 865.8 208.7 864.1 209.4 861.9 210.1 859.6 210.8 857.7 211.5 853.8 212.2 849.9 212.9 851.4 213.6 853 214.3 853.6 215 852.2 215.7 849.8 216.4 846.7 217.1 847.9 217.8 849.3 218.5 847.2 219.2 847.1 219.9 845.4 220.6 844.2 221.3 843 222 842.5 222.7 841.7 223.4 840.6 224.1 840.1 224.8 839.6 225.5 839 226.2 838.4 226.9 837.8 227.6 836.8 228.3 836.2 229 835 229.7 835.2 230.4 834.5 231.1 832.9 231.8 833 232.5 831.8 233.2 831.3 233.9 830.5 234.6 829.9 235.3 829.3 236 828.5 236.7 827.7 237.4 826.9 238.1 827.5 238.8 826.1 239.5 826 240.2 825.8 240.9 825.1 241.6 824.4 242.3 825.1 243 823.3 243.7 822.1 244.4 819.1 245.1 816.1 245.8 818.1 246.5 817.3 247.2 814.5 247.9 816.4 248.6 818.3 249.3 818 250 819 250.7 818.1 251.4 816.9 252.1 815.2 252.8 813.5 253.5 814.4 254.2 815.1 254.9 813.9 255.6 810.8 256.3 806.5 257 810.1 257.7 813.7 258.4 813.1 259.1 813.5 259.8 812.7 260.5 813.3 261.2 811.8 261.9 809.9 262.6 807.9 263.3 805.9 264 807.3 264.7 808.1 265.4 805.2 266.1 807.5 266.8 809.9 267.5 810.2 268.2 810.2 268.9 809.9 269.6 809.3 270.3 809.4 271 809.1 271.7 809.6 272.4 807.4 273.1 808.7 273.8 807.7 274.5 807.3 275.2 807.4 275.9 806.7 276.6 806 277.3 802.9 278 799.9 278.7 802.5 279.4 805.1 280.1 803.9 280.8 802.6 281.5 803.5 282.2 802.2 282.9 800.9 283.6 801.8 284.3 802.8 285 803.5 285.7 801.6 286.4 799.7 287.1 801.2 287.8 800.3 288.5 802.1 289.2 803.1 289.9 801.9 290.6 802.8 291.3 802.7 292 802.9 292.7 800.3 293.4 795.2 294.1 800 294.8 801.3 295.5 800.5 296.2 799.8 296.9 800.3 297.6 800.3 298.3 800.9 299 801.5 299.7 793.8 300.4 777 301.1 764.2 301.8 754.8 302.5 748 303.2 744.8 303.9 742.6 304.6 741 305.3 739.6 306 739.1 306.7 737.2 307.4 737.8 308.1 736.2 308.8 736.1 309.5 736.1 310.2 736.4 310.9 736.3 311.6 734.1 312.3 731.6 313 734 313.7 735.8 314.4 736.2 315.1 736.3 315.8 736.6 316.5 735.6 317.2 736.4 317.9 737 318.6 736.1 319.3 736.6 320 736.3 320.7 735.7 321.4 735.3 322.1 735.4 322.8 734.1 323.5 732.9 324.2 734.1 324.9 735.4 325.6 736.4 326.3 736.6 327 735.6 327.7 734.3 328.4 732.8 329.1 734 329.8 732.2 330.5 733 331.2 730.6 331.9 733 332.6 735.4 333.3 735.7 334 734.1 334.7 732.5 335.4 730.8 336.1 732.5 336.8 734.1 337.5 735.7 338.2 736.2 338.9 735.9 339.6 736.4 340.3 735.9 341 733.2 341.7 730 342.4 733.2 343.1 736.9 343.8 736.1 344.5 735.9 345.2 735.9 345.9 736.7 346.6 736 347.3 734.8 348 733.3 348.7 731.7 349.4 733.3 350.1 733.1 350.8 730.2 351.5 727.3 352.2 730.2 352.9 728.6 353.6 732 354.3 734.4 355 735.1 355.7 735.7 356.4 736.4 357.1 735.9 357.8 734.6 358.5 736.8 359.2 736.4 359.9 736.1 360.6 734.9 361.3 736.2 362 736.7 362.7 735.7 363.4 735.8 364.1 731.5 364.8 726.8 365.5 731.5 366.2 736.4 366.9 736 367.6 735.7 368.3 735.8 369 736.2 369.7 736 370.4 735.8 371.1 735.5 371.8 735.6 372.5 735.7 373.2 735.9 373.9 736 374.6 734.6 375.3 736.1 376 733.5 376.7 730.9 377.4 728.4 378.1 730.9 378.8 733.5 379.5 736.1 380.2 735.6 380.9 734.3 381.6 732.9 382.3 734.3 383 733.2 383.7 731.7 384.4 728.7 385.1 731.7 385.8 730.8 386.5 728.5 387.2 730.8 387.9 733.1 388.6 735.4 389.3 736.3 390 735.2 390.7 736.4 391.4 736.1 392.1 735.8 392.8 736.1 393.5 735.8 394.2 735.4 394.9 734.8 395.6 733.1 396.3 731.4 397 729.2 397.7 729.3 398.4 726.6 399.1 729.3 399.8 732.1 400.5 734.8 401.2 736.8 401.9 735.1 402.6 735.9 403.3 736.3 404 735.7 404.7 736 405.4 736.7 406.1 736.2 406.8 736.2 407.5 736.3 408.2 735.1 408.9 731.4 409.6 727.7 410.3 731.4 411 735.1 411.7 733.3 412.4 729.3 413.1 733.3 413.8 736.6 414.5 733.9 415.2 735.9 415.9 736 416.6 736.1 417.3 737.4 418 737 418.7 736.4 419.4 736 420.1 735.8 420.8 733.4 421.5 730.8 422.2 728.2 422.9 730.8 423.6 733.4 424.3 734.7 425 736.1 425.7 735.9 426.4 735.4 427.1 735.8 427.8 735.6 428.5 735.7 429.2 735.1 429.9 734.4 430.6 733.3 431.3 732.1 432 732.7 432.7 730.8 433.4 732.7 434.1 734.5 434.8 734.9 435.5 733.4 436.2 733.7 436.9 731.6 437.6 729.4 438.3 731.6 439 733.7 439.7 735.8 440.4 735.9 441.1 736.3 441.8 736.6 442.5 736.2 443.2 736.4 443.9 736.4 444.6 736.4 445.3 736.7 446 735.9 446.7 735.8 447.4 736.2 448.1 734.5 448.8 732.2 449.5 730 450.2 732.7 450.9 735.4 451.6 736.9 452.3 737.5 453 738.5 453.7 738.9 454.4 739.9 455.1 739.2 455.8 740.4 456.5 741.6 457.2 740.7 457.9 739.8 458.6 738.6 459.3 737.5 460 739.3 460.7 740.8 461.4 742 462.1 740.4 462.8 740.5 463.5 740.7 464.2 740.1 464.9 740.3 465.6 740.4 466.3 740.6 467 740.2 467.7 738.4 468.4 736.7 469.1 734.9 469.8 736.2 470.5 736.9 471.2 735.7 471.9 736.4 472.6 737.2 473.3 737.7 474 738.8 474.7 738.1 475.4 737.5 476.1 737.4 476.8 737 477.5 736.2 478.2 736 478.9 735.2 479.6 735.6 480.3 735.9 481 736.3 481.7 736.8 482.4 736.1 483.1 735.4 483.8 735.6 484.5 734.7 485.2 735.2 485.9 735.2 486.6 734.7 487.3 734.6 488 732.2 488.7 729.9 489.4 727.5 490.1 729.6 490.8 731.6 491.5 731.6 492.2 728.4 492.9 725.3 493.6 728.1 494.3 731 495 732.9 495.7 732.8 496.4 732.7 497.1 732.6 497.8 732.6 498.5 732.5 499.2 731.7 499.9 728.7 500.6 725.2 501.3 728.4 502 731.7 502.7 731.3 503.4 731.4 504.1 731.6 504.8 730.8 505.5 731.5 506.2 730.3 506.9 729.3 507.6 728.3 508.3 729.1 509 729.6 509.7 730 510.4 730.7 511.1 730.3 511.8 729.8 512.5 730.7 513.2 730.2 513.9 730 514.6 730.4 515.3 730 516 729.8 516.7 729.8 517.4 728 518.1 726.1 518.8 724.2 519.5 725.9 520.2 727.7 520.9 729.8 521.6 728.9 522.3 729.5 523 728.6 523.7 728.6 524.4 727.6 525.1 726.1 525.8 725 526.5 723.3 527.2 720.5 527.9 722.2 528.6 724.4 529.3 726.5 530 727.6 530.7 726.7 531.4 725.8 532.1 726.6 532.8 726.9 533.5 723.8 534.2 720.8 534.9 723.7 535.6 726.7 536.3 727.7 537 728.7 537.7 728.5 538.4 727.7 539.1 726.3 539.8 724.9 540.5 726.2 541.2 726.3 541.9 726.9 542.6 727.3 543.3 726.1 544 724.8 544.7 726 545.4 727 546.1 727.1 546.8 726.5 547.5 724.4 548.2 722.4 548.9 722.2 549.6 718.3 550.3 722.1 551 726 551.7 728 552.4 727.1 553.1 726.3 553.8 723.7 554.5 721.1 555.2 718.4 555.9 721 556.6 723.6 557.3 723.6 558 722 558.7 723.6 559.4 725.1 560.1 726.7 560.8 727.1 561.5 727.5 562.2 725.9 562.9 726.7 563.6 726.9 564.3 725 565 724.2 565.7 722.1 566.4 720 567.1 720.5 567.8 723 568.5 725.6 569.2 724.6 569.9 722.7 570.6 720.8 571.3 721.1 572 722.8 572.7 724.4 573.4 726.1 574.1 725.7 574.8 724.5 575.5 722.1 576.2 724.4 576.9 723.8 577.6 720.1 578.3 723.7 579 726.4 579.7 726.2 580.4 726 581.1 725.9 581.8 724 582.5 722 583.2 723.9 583.9 725.8 584.6 725.8 585.3 725.9 586 724.7 586.7 723.5 587.4 722.3 588.1 723.5 588.8 724.6 589.5 725.6 590.2 725.7 590.9 725.7 591.6 725 592.3 724.3 593 725 593.7 725.6 594.4 724 595.1 721.1 595.8 724 596.5 725.7 597.2 726 597.9 726 598.6 726.1 599.3 725.7 600 725.7 600.7 725.7 601.4 725.7 602.1 725.8 602.8 725 603.5 725.7 604.2 726.4 604.9 726.6 605.6 726.1 606.3 726 606.3 739.1 605.6 737.6 604.9 736 604.2 734.4 603.5 732.8 602.8 732.9 602.1 733.3 601.4 734.9 600.7 733.3 600 735.3 599.3 741.8 598.6 735.3 597.9 731.1 597.2 734.6 596.5 737.9 595.8 741.6 595.1 737.9 594.4 734.3 593.7 733.4 593 731.7 592.3 732.6 591.6 732.5 590.9 732.1 590.2 732.7 589.5 733.2 588.8 734 588.1 734.9 587.4 734.1 586.7 735.1 586 736.4 585.3 735.1 584.6 733.9 583.9 734.3 583.2 736.3 582.5 738.3 581.8 736.3 581.1 734.3 580.4 731.2 579.7 733 579 733 578.3 733.5 577.6 734.1 576.9 734.6 576.2 734.1 575.5 733.6 574.8 733.2 574.1 732.9 573.4 733.8 572.7 734.8 572 735.8 571.3 734.8 570.6 733.9 569.9 733 569.2 733 568.5 732.6 567.8 733.8 567.1 736.1 566.4 738.5 565.7 736.2 565 733.8 564.3 733.6 563.6 734.9 562.9 736.2 562.2 735 561.5 734.2 560.8 733.7 560.1 733.9 559.4 734.9 558.7 733.9 558 733.9 557.3 734.9 556.6 736 555.9 735 555.2 734 554.5 732.6 553.8 734.4 553.1 735.5 552.4 738.1 551.7 740.8 551 738.2 550.3 735.6 549.6 734.3 548.9 734.4 548.2 734.6 547.5 734.2 546.8 734.8 546.1 734.6 545.4 733.7 544.7 734.3 544 733.4 543.3 735.7 542.6 737.7 541.9 739.8 541.2 737.8 540.5 735.9 539.8 733.9 539.1 734.1 538.4 733.9 537.7 734 537 735.4 536.3 737 535.6 739.1 534.9 741.2 534.2 739.2 533.5 739.1 532.8 740.4 532.1 743.3 531.4 740 530.7 736.7 530 734.2 529.3 735 528.6 733.7 527.9 735.2 527.2 735.2 526.5 736.1 525.8 738.2 525.1 740.3 524.4 742.4 523.7 740.4 523 738.9 522.3 741.5 521.6 739 520.9 740.6 520.2 740.7 519.5 739.5 518.8 741.3 518.1 739.7 517.4 738.1 516.7 736.5 516 736.4 515.3 736 514.6 736.5 513.9 736 513.2 736.5 512.5 737.2 511.8 738.1 511.1 739.7 510.4 741 509.7 739.7 509 738.4 508.3 738.7 507.6 742 506.9 740.1 506.2 741.3 505.5 740.3 504.8 739.4 504.1 741.4 503.4 742.9 502.7 745.4 502 743.1 501.3 740.9 500.6 739.1 499.9 738.6 499.2 738.6 498.5 739.4 497.8 738.9 497.1 739.6 496.4 739 495.7 739.7 495 739.7 494.3 740.5 493.6 742.5 492.9 748.2 492.2 743.6 491.5 745.5 490.8 743.9 490.1 742.3 489.4 741 488.7 741.6 488 743.8 487.3 746 486.6 744.1 485.9 742.2 485.2 742.3 484.5 744.6 483.8 747.1 483.1 749.6 482.4 747.4 481.7 750.8 481 746.7 480.3 745.4 479.6 747.3 478.9 749.2 478.2 747.7 477.5 746.2 476.8 748.5 476.1 750.8 475.4 748.9 474.7 747 474 745.1 473.3 744.6 472.6 745 471.9 747 471.2 744.3 470.5 749.1 469.8 754.8 469.1 749.6 468.4 746.8 467.7 746.8 467 746.5 466.3 747.2 465.6 747.6 464.9 747.4 464.2 748.2 463.5 747.3 462.8 750.5 462.1 752.7 461.4 751.9 460.7 754.8 460 755.6 459.3 752.9 458.6 753.6 457.9 751.6 457.2 749.7 456.5 748.1 455.8 751.8 455.1 755.5 454.4 752.1 453.7 748.9 453 745.7 452.3 745.3 451.6 747.4 450.9 749.6 450.2 751.8 449.5 749 448.8 746.2 448.1 743.6 447.4 742.7 446.7 742.4 446 743.4 445.3 745.9 444.6 751.9 443.9 745.9 443.2 743.1 442.5 742.5 441.8 741.8 441.1 742.3 440.4 742.5 439.7 744.2 439 746.2 438.3 748.1 437.6 746.2 436.9 746 436.2 744.9 435.5 743.8 434.8 742.7 434.1 741.5 433.4 742.1 432.7 743 432 742.6 431.3 743.4 430.6 744.3 429.9 743.4 429.2 743.3 428.5 743.6 427.8 743.5 427.1 743 426.4 742.8 425.7 742.5 425 741.6 424.3 742.9 423.6 743 422.9 742.1 422.2 743.3 421.5 741.4 420.8 741.7 420.1 743.1 419.4 741.9 418.7 742.9 418 743.4 417.3 743.9 416.6 744.3 415.9 743.9 415.2 746 414.5 751.7 413.8 746 413.1 744.3 412.4 743.3 411.7 744 411 745.6 410.3 744 409.6 743.3 408.9 742.6 408.2 743.2 407.5 743.7 406.8 745 406.1 743.7 405.4 742.9 404.7 742.5 404 742.5 403.3 742.1 402.6 743.5 401.9 741.4 401.2 741.7 400.5 742.8 399.8 742.5 399.1 743.3 398.4 742.7 397.7 742.4 397 742.8 396.3 745.2 395.6 747.6 394.9 745.2 394.2 742.8 393.5 742.6 392.8 742.7 392.1 742.4 391.4 742.7 390.7 743.2 390 744.3 389.3 745.7 388.6 747 387.9 745.7 387.2 744.3 386.5 743 385.8 742 385.1 743.1 384.4 745.4 383.7 747.7 383 745.4 382.3 743.1 381.6 744.1 380.9 745.7 380.2 748.5 379.5 751.3 378.8 748.5 378.1 748.3 377.4 746.5 376.7 748.3 376 748.9 375.3 751.9 374.6 748.9 373.9 745.9 373.2 745.9 372.5 747.9 371.8 749.9 371.1 747.9 370.4 745.9 369.7 743.9 369 743 368.3 742.4 367.6 742.7 366.9 741.5 366.2 745 365.5 748 364.8 745 364.1 746.3 363.4 743.9 362.7 743.4 362 745.7 361.3 748 360.6 750.3 359.9 748 359.2 745.7 358.5 743.4 357.8 742.7 357.1 742.7 356.4 743.4 355.7 743.9 355 745 354.3 746 353.6 745 352.9 743.9 352.2 743.1 351.5 742.1 350.8 742.3 350.1 743.4 349.4 742.8 348.7 742.6 348 742.9 347.3 744 346.6 744.1 345.9 748 345.2 751.9 344.5 748 343.8 744.1 343.1 744.6 342.4 745.9 341.7 747.2 341 745.9 340.3 744.6 339.6 743.3 338.9 744.4 338.2 743.3 337.5 742.7 336.8 745.8 336.1 749.4 335.4 745.8 334.7 741.9 334 742.5 333.3 742.5 332.6 742.4 331.9 743 331.2 743.4 330.5 742.7 329.8 743.4 329.1 744.2 328.4 743.4 327.7 742.7 327 741.8 326.3 742.9 325.6 741.9 324.9 743.3 324.2 742.5 323.5 743 322.8 742.4 322.1 746 321.4 750.8 320.7 746 320 742.8 319.3 742.6 318.6 742.1 317.9 742.7 317.2 743.1 316.5 743.5 315.8 742.2 315.1 742.4 314.4 742.8 313.7 742.4 313 742.2 312.3 742.6 311.6 742.6 310.9 742.4 310.2 742.7 309.5 743.2 308.8 743.1 308.1 743.3 307.4 743.7 306.7 744.5 306 745.1 305.3 746.2 304.6 747.4 303.9 751.1 303.2 756.3 302.5 762.7 301.8 766.5 301.1 775.8 300.4 791.5 299.7 804.4 299 808.4 298.3 808.1 297.6 808.9 296.9 810.5 296.2 812.2 295.5 810.8 294.8 809.4 294.1 809.2 293.4 809 292.7 809 292 809.4 291.3 809.8 290.6 810.3 289.9 810.2 289.2 811 288.5 812 287.8 815.9 287.1 812.3 286.4 810.8 285.7 812.7 285 814.7 284.3 813.1 283.6 811.8 282.9 812.6 282.2 814.2 281.5 813 280.8 812 280.1 813.2 279.4 812.3 278.7 813.4 278 813.1 277.3 817.1 276.6 822.4 275.9 817.5 275.2 813.9 274.5 815.5 273.8 814.4 273.1 814.9 272.4 818.2 271.7 821.5 271 818.7 270.3 816.9 269.6 815.9 268.9 816 268.2 816.7 267.5 817.4 266.8 816.7 266.1 817.4 265.4 817.7 264.7 818.3 264 818.5 263.3 818.4 262.6 818.3 261.9 818.7 261.2 819.6 260.5 819.1 259.8 820 259.1 820.6 258.4 821.1 257.7 821.3 257 821.8 256.3 821.7 255.6 822.3 254.9 822.1 254.2 823.7 253.5 825.6 252.8 827.5 252.1 826.4 251.4 825.3 250.7 824.6 250 824.7 249.3 826.4 248.6 825.6 247.9 828.1 247.2 832.2 246.5 836.3 245.8 833.1 245.1 830 244.4 829.5 243.7 829.5 243 831.1 242.3 832.7 241.6 832.1 240.9 832.4 240.2 833.5 239.5 834.7 238.8 834.6 238.1 834.5 237.4 834.4 236.7 834.4 236 834.4 235.3 835.7 234.6 835.7 233.9 836.4 233.2 837.4 232.5 837.5 231.8 841.3 231.1 845.1 230.4 843 229.7 845.3 229 847.7 228.3 846.8 227.6 845.8 226.9 844.9 226.2 844.6 225.5 845 224.8 847.6 224.1 850.8 223.4 849.2 222.7 848.4 222 849 221.3 850.9 220.6 851 219.9 851.8 219.2 853.5 218.5 853.9 217.8 854.6 217.1 855.9 216.4 856.4 215.7 857.7 215 859.2 214.3 859.6 213.6 861.2 212.9 861.7 212.2 862.6 211.5 863.9 210.8 866.4 210.1 871 209.4 875.7 208.7 874.4 208 875.4 207.3 880.8 206.6 887 205.9 889.7 205.2 890.6 204.5 888.2 203.8 886.7 203.1 888.1 202.4 888.8 201.7 888.5 201 888.1 200.3 889.3 199.6 890.9 198.9 892.5 198.2 890.9 197.5 890.8 196.8 892.3 196.1 890.8 195.4 889.2 194.7 887.8 194 887.4 193.3 887.6Z" fill="#c97b1f"/>
<polyline points="193.3,884.5 195.4,884.5 197.5,884.5 199.6,884.5 201.7,884.5 203.8,884.5 205.9,881.2 208,869.4 210.1,863.6 212.2,859.7 214.3,856.5 216.4,853.5 218.5,850.6 220.6,848 222.7,845.4 224.8,843 226.9,840.7 229,838.6 231.1,836.5 233.2,834.5 235.3,832.7 237.4,830.9 239.5,829.2 241.6,827.6 243.7,826.1 245.8,824.7 247.9,823.3 250,822 252.1,820.8 254.2,819.6 256.3,818.5 258.4,817.4 260.5,816.4 262.6,815.5 264.7,814.6 266.8,813.7 268.9,812.9 271,812.1 273.1,811.4 275.2,810.7 277.3,810 279.4,809.4 281.5,808.8 283.6,808.2 285.7,807.7 287.8,807.2 289.9,806.7 292,806.2 294.1,805.8 296.2,805.3 298.3,804.9 300.4,780.3 302.5,754 304.6,744.6 306.7,741.2 308.8,740 310.9,739.6 313,739.4 315.1,739.3 317.2,739.3 319.3,739.3 321.4,739.3 323.5,739.3 325.6,739.3 327.7,739.3 329.8,739.3 331.9,739.3 334,739.3 336.1,739.3 338.2,739.3 340.3,739.3 342.4,739.3 344.5,739.3 346.6,739.3 348.7,739.3 350.8,739.3 352.9,739.3 355,739.3 357.1,739.3 359.2,739.3 361.3,739.3 363.4,739.3 365.5,739.3 367.6,739.3 369.7,739.3 371.8,739.3 373.9,739.3 376,739.3 378.1,739.3 380.2,739.3 382.3,739.3 384.4,739.3 386.5,739.3 388.6,739.3 390.7,739.3 392.8,739.3 394.9,739.3 397,739.3 399.1,739.3 401.2,739.3 403.3,739.3 405.4,739.3 407.5,739.3 409.6,739.3 411.7,739.3 413.8,739.3 415.9,739.3 418,739.3 420.1,739.3 422.2,739.3 424.3,739.3 426.4,739.3 428.5,739.3 430.6,739.3 432.7,739.3 434.8,739.3 436.9,739.3 439,739.3 441.1,739.3 443.2,739.3 445.3,739.3 447.4,739.3 449.5,739.7 451.6,740.6 453.7,741.9 455.8,743.5 457.9,745.3 460,746.6 462.1,745.7 464.2,744.8 466.3,744 468.4,743.2 470.5,742.5 472.6,741.8 474.7,741.1 476.8,740.5 478.9,739.9 481,739.3 483.1,738.8 485.2,738.3 487.3,737.8 489.4,737.3 491.5,736.9 493.6,736.5 495.7,736.1 497.8,735.7 499.9,735.3 502,735 504.1,734.7 506.2,734.4 508.3,734.1 510.4,733.8 512.5,733.5 514.6,733.3 516.7,733 518.8,732.8 520.9,732.6 523,732.4 525.1,732.2 527.2,732 529.3,731.8 531.4,731.7 533.5,731.5 535.6,731.4 537.7,731.2 539.8,731.1 541.9,731 544,730.8 546.1,730.7 548.2,730.6 550.3,730.5 552.4,730.4 554.5,730.3 556.6,730.2 558.7,730.1 560.8,730.1 562.9,730 565,729.9 567.1,729.8 569.2,729.8 571.3,729.7 573.4,729.7 575.5,729.6 577.6,729.6 579.7,729.5 581.8,729.5 583.9,729.4 586,729.4 588.1,729.3 590.2,729.3 592.3,729.2 594.4,729.2 596.5,729.2 598.6,729.1 600.7,729.1 602.8,729.1 604.9,729.1" fill="none" stroke="#c97b1f" stroke-width="2.2" stroke-linejoin="round"/>
<path d="M193.3 879.7 194 878.4 194.7 877.6 195.4 878.2 196.1 877.1 196.8 876.1 197.5 877.1 198.2 878.2 198.9 877.6 199.6 876 200.3 874.4 201 871.9 201.7 869.4 202.4 871.9 203.1 874.4 203.8 876.9 204.5 879.2 205.2 878.1 205.9 873.4 206.6 865.7 207.3 859.4 208 859 208.7 859.3 209.4 858.9 210.1 858.4 210.8 856.4 211.5 855.3 212.2 852.1 212.9 847.8 213.6 849.9 214.3 850.2 215 848.5 215.7 848.5 216.4 847.3 217.1 846.3 217.8 846.1 218.5 844.1 219.2 843.9 219.9 842.3 220.6 841.8 221.3 841.2 222 840.6 222.7 839.6 223.4 838.9 224.1 837.8 224.8 837.1 225.5 836.3 226.2 835.8 226.9 834.6 227.6 833.1 228.3 832.7 229 830.8 229.7 829 230.4 829.5 231.1 827.2 231.8 828.6 232.5 829.9 233.2 828.3 233.9 827.8 234.6 827.5 235.3 827 236 825.6 236.7 824.8 237.4 823.3 238.1 821.8 238.8 822.2 239.5 822.6 240.2 823.1 240.9 819.2 241.6 812.9 242.3 818.2 243 818.5 243.7 813.2 244.4 816.8 245.1 813.9 245.8 815.9 246.5 815.4 247.2 813.1 247.9 814.4 248.6 815.8 249.3 812 250 808.3 250.7 811.2 251.4 812.1 252.1 809.9 252.8 811.3 253.5 812.1 254.2 811.1 254.9 809.6 255.6 810.4 256.3 808.4 257 810.4 257.7 812.4 258.4 811 259.1 811.3 259.8 810.8 260.5 810.6 261.2 810 261.9 808.1 262.6 806.2 263.3 807.4 264 808.7 264.7 808.6 265.4 809 266.1 808.6 266.8 807.7 267.5 807.8 268.2 806.2 268.9 808 269.6 804.6 270.3 802.4 271 800.1 271.7 801.9 272.4 803.6 273.1 805.7 273.8 805.1 274.5 804.3 275.2 804.3 275.9 803.8 276.6 803.5 277.3 802.3 278 799.8 278.7 800.3 279.4 798.5 280.1 799.9 280.8 801.3 281.5 802 282.2 802.3 282.9 802.7 283.6 801.1 284.3 802.7 285 802.3 285.7 800.3 286.4 798.3 287.1 796.3 287.8 796.6 288.5 798.3 289.2 799.2 289.9 796.1 290.6 792.9 291.3 795.8 292 798.6 292.7 799.4 293.4 795.5 294.1 791.3 294.8 795.2 295.5 798.8 296.2 799.5 296.9 799.8 297.6 800 298.3 798.4 299 798.9 299.7 790.7 300.4 773.1 301.1 758.1 301.8 746.6 302.5 743.7 303.2 737.6 303.9 732.1 304.6 732.4 305.3 729.3 306 731.7 306.7 731.3 307.4 728 308.1 724.8 308.8 727.3 309.5 729.9 310.2 732.1 310.9 733.2 311.6 732.4 312.3 729.6 313 726.8 313.7 724 314.4 726.7 315.1 729.5 315.8 732.2 316.5 733 317.2 730.9 317.9 728.7 318.6 730.8 319.3 732.1 320 732.1 320.7 730.7 321.4 729.3 322.1 730.7 322.8 732.1 323.5 729.8 324.2 727.5 324.9 729.8 325.6 732.2 326.3 733.1 327 733.2 327.7 733.2 328.4 733.1 329.1 732.7 329.8 731.7 330.5 730.6 331.2 729.5 331.9 730.2 332.6 730.2 333.3 728.3 334 726.4 334.7 728.3 335.4 730.2 336.1 732.1 336.8 733.6 337.5 732.7 338.2 732.1 338.9 731.1 339.6 732.1 340.3 731.9 341 730.3 341.7 728.6 342.4 728.4 343.1 731.1 343.8 733.2 344.5 732.1 345.2 731 345.9 730 346.6 729.1 347.3 730 348 728.7 348.7 725.4 349.4 729.6 350.1 730.1 350.8 731.4 351.5 727.7 352.2 731.4 352.9 730.8 353.6 731.5 354.3 732.2 355 732.8 355.7 733.2 356.4 733.2 357.1 733.3 357.8 733.6 358.5 732.9 359.2 732.7 359.9 731.6 360.6 730.1 361.3 728.4 362 730.1 362.7 729.8 363.4 727.2 364.1 729.8 364.8 732.3 365.5 734.3 366.2 733 366.9 729.7 367.6 726.3 368.3 729.7 369 733 369.7 732.5 370.4 732.8 371.1 734 371.8 733.2 372.5 732.9 373.2 732.3 373.9 732.9 374.6 733.5 375.3 733.2 376 732.9 376.7 732 377.4 729.6 378.1 732 378.8 734.1 379.5 732.7 380.2 732.8 380.9 731.8 381.6 730.9 382.3 731.8 383 732.8 383.7 733.3 384.4 733.1 385.1 733.3 385.8 732.6 386.5 733.3 387.2 733.8 387.9 730.7 388.6 725.5 389.3 729 390 724.6 390.7 727.9 391.4 730.7 392.1 731.2 392.8 729.7 393.5 731.2 394.2 732.7 394.9 733.3 395.6 732.1 396.3 729.9 397 727.8 397.7 729.9 398.4 732.1 399.1 733.1 399.8 732.9 400.5 733.5 401.2 732.6 401.9 731.7 402.6 730.7 403.3 731.7 404 732.6 404.7 733.5 405.4 732.8 406.1 732.8 406.8 733.3 407.5 732.6 408.2 730.3 408.9 727.9 409.6 730.3 410.3 730.2 411 728.4 411.7 726.6 412.4 728.4 413.1 730.3 413.8 732.2 414.5 732.5 415.2 733.8 415.9 730.3 416.6 727.1 417.3 723.9 418 724.2 418.7 727.4 419.4 729.9 420.1 728.5 420.8 729.9 421.5 731.2 422.2 732.5 422.9 731.8 423.6 730.8 424.3 731.8 425 732.8 425.7 733 426.4 734.3 427.1 733.2 427.8 734.1 428.5 733.3 429.2 729.5 429.9 725.8 430.6 729.5 431.3 727.1 432 730.9 432.7 730.6 433.4 732 434.1 732 434.8 731.4 435.5 732 436.2 732.5 436.9 731.9 437.6 731.2 438.3 731.9 439 732.5 439.7 733 440.4 733.1 441.1 732.9 441.8 733.2 442.5 731.6 443.2 729.3 443.9 727.1 444.6 729.3 445.3 730 446 727.3 446.7 724.6 447.4 727.3 448.1 730 448.8 732.9 449.5 734.2 450.2 733.4 450.9 734.2 451.6 733.9 452.3 735.1 453 734.9 453.7 735.9 454.4 736.2 455.1 736.4 455.8 735 456.5 733.8 457.2 736.2 457.9 738.7 458.6 737.7 459.3 736.4 460 736.7 460.7 736.3 461.4 733.9 462.1 732.2 462.8 729 463.5 725.5 464.2 721.6 464.9 717.9 465.6 717.8 466.3 717.8 467 717.9 467.7 718.2 468.4 715.8 469.1 712.7 469.8 711.5 470.5 710.1 471.2 709.5 471.9 706.4 472.6 705.1 473.3 701.9 474 698.1 474.7 694.2 475.4 695.7 476.1 697.3 476.8 693.7 477.5 695.1 478.2 692.4 478.9 690.4 479.6 686.9 480.3 688.6 481 690.2 481.7 691.9 482.4 691.9 483.1 692.6 483.8 691.6 484.5 689.6 485.2 690.2 485.9 688 486.6 687.8 487.3 686.4 488 684.9 488.7 683.4 489.4 683.8 490.1 683.2 490.8 683.4 491.5 683.3 492.2 683.1 492.9 683 493.6 682.8 494.3 681.7 495 678.8 495.7 675.9 496.4 673 497.1 675.1 497.8 675.1 498.5 671.8 499.2 674.5 499.9 676 500.6 677.1 501.3 678.1 502 677.6 502.7 676.1 503.4 672.6 504.1 669.2 504.8 672.1 505.5 675 506.2 677.6 506.9 675.4 507.6 676.4 508.3 673 509 667.8 509.7 668.4 510.4 670.6 511.1 672.9 511.8 672.7 512.5 669.4 513.2 666.2 513.9 668.5 514.6 669.7 515.3 672.4 516 672.6 516.7 673.5 517.4 672.7 518.1 671.5 518.8 672.5 519.5 673.4 520.2 673.6 520.9 673.6 521.6 672.3 522.3 673 523 672.8 523.7 671.5 524.4 670.2 525.1 671.3 525.8 672.3 526.5 670.8 527.2 669.2 527.9 667.6 528.6 669 529.3 667.3 530 668.2 530.7 666.6 531.4 668.1 532.1 669.7 532.8 671.2 533.5 672.2 534.2 671.8 534.9 671.7 535.6 672.2 536.3 671.4 537 671.6 537.7 669.5 538.4 666.4 539.1 663.3 539.8 666.3 540.5 669.3 541.2 671.4 541.9 672.6 542.6 671.6 543.3 670.9 544 671.7 544.7 670.7 545.4 669.6 546.1 667.6 546.8 669.6 547.5 670.2 548.2 668 548.9 665.2 549.6 662.4 550.3 665.2 551 667.9 551.7 670.6 552.4 670.8 553.1 670.6 553.8 668.8 554.5 667 555.2 665.2 555.9 666.9 556.6 668.7 557.3 670.4 558 671.5 558.7 671.2 559.4 671.3 560.1 671.6 560.8 670 561.5 671.3 562.2 669.9 562.9 670.9 563.6 670.3 564.3 670.1 565 671 565.7 670.9 566.4 670.8 567.1 671 567.8 670.6 568.5 672 569.2 671.3 569.9 670.8 570.6 669.6 571.3 670.5 572 670.9 572.7 670.1 573.4 671.2 574.1 670.6 574.8 670.3 575.5 669.5 576.2 668.8 576.9 668.1 577.6 668.8 578.3 669.5 579 670.2 579.7 670.8 580.4 666.8 581.1 662.9 581.8 666.8 582.5 669.7 583.2 669.9 583.9 668 584.6 666.2 585.3 664.3 586 666.1 586.7 668 587.4 669.9 588.1 670.2 588.8 670.5 589.5 670.9 590.2 670.6 590.9 671 591.6 671.5 592.3 670.8 593 670.5 593.7 671.1 594.4 669.7 595.1 670.1 595.8 670.6 596.5 669.6 597.2 670.5 597.9 670.6 598.6 670.7 599.3 671.1 600 670.6 600.7 669.9 601.4 668.6 602.1 666.7 602.8 664.7 603.5 666.7 604.2 668.6 604.9 670.1 605.6 670.3 606.3 670.7 606.3 682.2 605.6 686.4 604.9 682.2 604.2 677.9 603.5 676 602.8 677.5 602.1 677.1 601.4 677.4 600.7 678.5 600 679.6 599.3 678.5 598.6 679 597.9 679.8 597.2 679 596.5 678.3 595.8 678.8 595.1 678.3 594.4 677.8 593.7 677.4 593 678.1 592.3 678.7 591.6 679.4 590.9 681.3 590.2 683.3 589.5 681.3 588.8 679.3 588.1 677.3 587.4 677.5 586.7 677.4 586 676.8 585.3 677.2 584.6 677.4 583.9 676.3 583.2 676.2 582.5 676.5 581.8 677.3 581.1 679.3 580.4 681.3 579.7 683.3 579 681.3 578.3 681.6 577.6 680.3 576.9 678.9 576.2 677.8 575.5 677.2 574.8 677.4 574.1 677.6 573.4 678.3 572.7 679.1 572 678.4 571.3 677.6 570.6 678.3 569.9 680.8 569.2 683.3 568.5 680.8 567.8 678.3 567.1 679.9 566.4 682 565.7 681.3 565 684.3 564.3 681.3 563.6 678.3 562.9 677.1 562.2 677.8 561.5 677.1 560.8 680.2 560.1 683.4 559.4 680.3 558.7 677.5 558 677.9 557.3 676.7 556.6 677.6 555.9 678.5 555.2 680.9 554.5 678.6 553.8 677.6 553.1 678.2 552.4 680.8 551.7 683.3 551 680.8 550.3 679.8 549.6 683 548.9 686.3 548.2 683.1 547.5 679.9 546.8 678.7 546.1 678.1 545.4 677.2 544.7 677.4 544 677.3 543.3 678.3 542.6 678.2 541.9 677 541.2 678.1 540.5 678.1 539.8 678.3 539.1 676.5 538.4 678.3 537.7 678.3 537 678.5 536.3 678 535.6 678.9 534.9 678.2 534.2 678.9 533.5 678.4 532.8 677.9 532.1 677.8 531.4 679.2 530.7 678.4 530 678.4 529.3 678.9 528.6 678.9 527.9 679.4 527.2 679 526.5 680.1 525.8 680 525.1 679.4 524.4 680.4 523.7 682.4 523 684.3 522.3 686.3 521.6 684.5 520.9 683.5 520.2 685.8 519.5 683.7 518.8 685.1 518.1 687.3 517.4 685.3 516.7 687 516 688.2 515.3 685.4 514.6 682.5 513.9 681.2 513.2 681.6 512.5 682.6 511.8 681.5 511.1 682.7 510.4 683.8 509.7 684.8 509 684.2 508.3 683.5 507.6 683.2 506.9 682.8 506.2 684.9 505.5 688.7 504.8 692.5 504.1 689.2 503.4 687.8 502.7 686.9 502 686.1 501.3 688 500.6 690.8 499.9 688.6 499.2 689.6 498.5 691.6 497.8 690.3 497.1 689.2 496.4 688.6 495.7 689 495 690.2 494.3 689.8 493.6 689.5 492.9 689.5 492.2 690.6 491.5 690.5 490.8 691.5 490.1 690.9 489.4 692.6 488.7 692.2 488 694.7 487.3 694.2 486.6 694.6 485.9 694.8 485.2 696.5 484.5 698.2 483.8 697.9 483.1 699.2 482.4 701.4 481.7 703.6 481 703 480.3 705.1 479.6 710 478.9 706.9 478.2 704.1 477.5 706.6 476.8 709.3 476.1 712 475.4 711.5 474.7 710.9 474 714.9 473.3 719 472.6 717.4 471.9 715.9 471.2 715.5 470.5 717.4 469.8 722.2 469.1 727.8 468.4 725.3 467.7 723.5 467 724.7 466.3 727 465.6 730.4 464.9 733.7 464.2 737.2 463.5 737.7 462.8 738.3 462.1 739 461.4 739.7 460.7 743.7 460 745.4 459.3 747.4 458.6 747 457.9 746 457.2 745.2 456.5 745 455.8 744.4 455.1 744.2 454.4 744.1 453.7 743.2 453 742.3 452.3 741.8 451.6 742.2 450.9 742.6 450.2 741.5 449.5 740.5 448.8 743.2 448.1 747 447.4 747.9 446.7 748.2 446 745.1 445.3 743 444.6 744.5 443.9 743 443.2 742.2 442.5 743.6 441.8 742.7 441.1 744.8 440.4 746.8 439.7 744.8 439 742.7 438.3 740.7 437.6 739.6 436.9 739.5 436.2 740.1 435.5 740.3 434.8 741 434.1 742.1 433.4 741 432.7 741.1 432 743.9 431.3 743.2 430.6 741.2 429.9 741 429.2 740.3 428.5 740.9 427.8 741.6 427.1 740.9 426.4 740.3 425.7 738.7 425 739.4 424.3 740.6 423.6 739.8 422.9 739.3 422.2 743.5 421.5 749.2 420.8 743.5 420.1 742.4 419.4 741.5 418.7 740.5 418 739.7 417.3 739.3 416.6 740.2 415.9 740.4 415.2 738.7 414.5 740 413.8 739.6 413.1 739 412.4 738.7 411.7 739.1 411 739.6 410.3 739.8 409.6 739.9 408.9 739.6 408.2 741.6 407.5 745.6 406.8 741.6 406.1 740 405.4 739.7 404.7 740.2 404 739.9 403.3 739.9 402.6 739.4 401.9 740.9 401.2 740 400.5 739.7 399.8 739.8 399.1 739.9 398.4 739.8 397.7 739.5 397 738.9 396.3 739.7 395.6 740.1 394.9 739.6 394.2 739.8 393.5 740 392.8 740.7 392.1 741.3 391.4 742 390.7 741.3 390 744.3 389.3 748 388.6 744.3 387.9 741.5 387.2 740.7 386.5 740 385.8 741.4 385.1 744.7 384.4 741.4 383.7 742.6 383 745.4 382.3 748.3 381.6 745.4 380.9 742.6 380.2 739.8 379.5 739.8 378.8 740 378.1 740.2 377.4 740.4 376.7 741.1 376 740.9 375.3 741.6 374.6 742.4 373.9 744.3 373.2 746.8 372.5 744.3 371.8 741.9 371.1 739.6 370.4 741.1 369.7 739.4 369 740.2 368.3 740.1 367.6 738.8 366.9 739.7 366.2 739.6 365.5 739.4 364.8 740.1 364.1 739.8 363.4 740.1 362.7 740.2 362 740.2 361.3 741.2 360.6 742.3 359.9 743.4 359.2 742.3 358.5 741.2 357.8 740.2 357.1 739.4 356.4 739.1 355.7 739.9 355 739.9 354.3 740.2 353.6 739.9 352.9 739.8 352.2 739.9 351.5 739.8 350.8 739.8 350.1 740.1 349.4 739.4 348.7 740 348 740.9 347.3 742.9 346.6 744.9 345.9 747 345.2 744.9 344.5 743.9 343.8 742.3 343.1 743.3 342.4 746 341.7 743.3 341 742.1 340.3 747.6 339.6 742.1 338.9 740 338.2 739.3 337.5 738.8 336.8 739.9 336.1 740.2 335.4 740 334.7 739.8 334 740.2 333.3 740.8 332.6 741.5 331.9 740.8 331.2 740.2 330.5 739.3 329.8 739.4 329.1 739.9 328.4 739.9 327.7 740.5 327 740.1 326.3 740.3 325.6 740.8 324.9 739.2 324.2 740 323.5 740 322.8 743 322.1 747.6 321.4 745 320.7 747.5 320 745 319.3 742.4 318.6 739.9 317.9 740.9 317.2 744.8 316.5 748.7 315.8 744.8 315.1 740.9 314.4 738.9 313.7 739.6 313 740 312.3 740.6 311.6 740.9 310.9 740.1 310.2 740.6 309.5 740.5 308.8 738.9 308.1 741.3 307.4 741.9 306.7 742 306 744.2 305.3 746.9 304.6 750.1 303.9 750.6 303.2 755.6 302.5 756.6 301.8 760.9 301.1 771.5 300.4 788.4 299.7 800.2 299 805.2 298.3 805.5 297.6 804.3 296.9 805.9 296.2 810.3 295.5 814.6 294.8 810.5 294.1 806.5 293.4 806 292.7 806.6 292 807 291.3 806.6 290.6 807.2 289.9 807.3 289.2 807.3 288.5 806.5 287.8 807.8 287.1 807.6 286.4 807.9 285.7 807.9 285 809.3 284.3 808.1 283.6 809.8 282.9 809.4 282.2 807.8 281.5 809.9 280.8 809.6 280.1 809.2 279.4 809.7 278.7 809.8 278 809.5 277.3 810.9 276.6 810.7 275.9 810.2 275.2 810.5 274.5 811.3 273.8 810.9 273.1 812.6 272.4 812.7 271.7 812.4 271 813.4 270.3 814.4 269.6 815.5 268.9 815 268.2 817.2 267.5 820 266.8 817.8 266.1 817.5 265.4 819.1 264.7 818.1 264 817.2 263.3 816.3 262.6 816.4 261.9 816.7 261.2 819.1 260.5 821.6 259.8 819.8 259.1 822.3 258.4 827.3 257.7 823 257 820.6 256.3 823.8 255.6 827 254.9 824.5 254.2 822 253.5 822.8 252.8 822.4 252.1 821.9 251.4 821.4 250.7 822.3 250 823.2 249.3 827 248.6 830.9 247.9 827.9 247.2 825.8 246.5 827 245.8 826.7 245.1 828.9 244.4 831.8 243.7 834.7 243 832.8 242.3 830.9 241.6 828.9 240.9 829.7 240.2 832.4 239.5 835.2 238.8 837.6 238.1 840 237.4 838 236.7 836 236 836 235.3 838.5 234.6 837.2 233.9 835.9 233.2 837.6 232.5 841.6 231.8 838.9 231.1 837.8 230.4 837.6 229.7 839.8 229 842 228.3 841.2 227.6 840.3 226.9 840.8 226.2 842 225.5 843.2 224.8 844.3 224.1 846 223.4 847.3 222.7 847 222 846.9 221.3 846.9 220.6 847.6 219.9 849.9 219.2 849.7 218.5 850.8 217.8 852.3 217.1 853.4 216.4 855 215.7 856.6 215 856.9 214.3 857.3 213.6 857.4 212.9 858.6 212.2 860.6 211.5 865.2 210.8 870.6 210.1 869.5 209.4 873.4 208.7 873 208 873 207.3 874 206.6 879.9 205.9 887.3 205.2 888.5 204.5 886.3 203.8 884.9 203.1 884.9 202.4 885.4 201.7 884.7 201 885.8 200.3 887.3 199.6 887.7 198.9 892.9 198.2 887.7 197.5 888 196.8 890.5 196.1 893.1 195.4 890.5 194.7 888 194 885.4 193.3 885.2Z" fill="#2c5da8"/>
<polyline points="193.3,881.7 195.4,881.7 197.5,881.7 199.6,881.7 201.7,881.7 203.8,881.7 205.9,878.4 208,866.6 210.1,860.8 212.2,856.9 214.3,853.6 216.4,850.6 218.5,847.8 220.6,845.1 222.7,842.6 224.8,840.2 226.9,837.9 229,835.7 231.1,833.7 233.2,831.7 235.3,829.9 237.4,828.1 239.5,826.4 241.6,824.8 243.7,823.3 245.8,821.9 247.9,820.5 250,819.2 252.1,818 254.2,816.8 256.3,815.7 258.4,814.6 260.5,813.6 262.6,812.7 264.7,811.8 266.8,810.9 268.9,810.1 271,809.3 273.1,808.6 275.2,807.9 277.3,807.2 279.4,806.6 281.5,806 283.6,805.4 285.7,804.9 287.8,804.3 289.9,803.9 292,803.4 294.1,803 296.2,802.5 298.3,802.1 300.4,777.5 302.5,751.2 304.6,741.7 306.7,738.4 308.8,737.2 310.9,736.7 313,736.6 315.1,736.5 317.2,736.5 319.3,736.5 321.4,736.5 323.5,736.5 325.6,736.5 327.7,736.5 329.8,736.5 331.9,736.5 334,736.5 336.1,736.5 338.2,736.5 340.3,736.5 342.4,736.5 344.5,736.5 346.6,736.5 348.7,736.5 350.8,736.5 352.9,736.5 355,736.5 357.1,736.5 359.2,736.5 361.3,736.5 363.4,736.5 365.5,736.5 367.6,736.5 369.7,736.5 371.8,736.5 373.9,736.5 376,736.5 378.1,736.5 380.2,736.5 382.3,736.5 384.4,736.5 386.5,736.5 388.6,736.5 390.7,736.5 392.8,736.5 394.9,736.5 397,736.5 399.1,736.5 401.2,736.5 403.3,736.5 405.4,736.5 407.5,736.5 409.6,736.5 411.7,736.5 413.8,736.5 415.9,736.5 418,736.5 420.1,736.5 422.2,736.5 424.3,736.5 426.4,736.5 428.5,736.5 430.6,736.5 432.7,736.5 434.8,736.5 436.9,736.5 439,736.5 441.1,736.5 443.2,736.5 445.3,736.5 447.4,736.5 449.5,736.8 451.6,737.8 453.7,739.1 455.8,740.7 457.9,742.5 460,742.1 462.1,735.1 464.2,728.8 466.3,723.2 468.4,718.1 470.5,713.6 472.6,709.5 474.7,705.8 476.8,702.6 478.9,699.6 481,697 483.1,694.6 485.2,692.4 487.3,690.5 489.4,688.8 491.5,687.3 493.6,685.9 495.7,684.6 497.8,683.5 499.9,682.5 502,681.6 504.1,680.8 506.2,680.1 508.3,679.4 510.4,678.8 512.5,678.3 514.6,677.8 516.7,677.4 518.8,677 520.9,676.7 523,676.4 525.1,676.1 527.2,675.9 529.3,675.7 531.4,675.5 533.5,675.3 535.6,675.1 537.7,675 539.8,674.9 541.9,674.7 544,674.6 546.1,674.5 548.2,674.5 550.3,674.4 552.4,674.3 554.5,674.3 556.6,674.2 558.7,674.2 560.8,674.1 562.9,674.1 565,674 567.1,674 569.2,674 571.3,673.9 573.4,673.9 575.5,673.9 577.6,673.9 579.7,673.9 581.8,673.9 583.9,673.8 586,673.8 588.1,673.8 590.2,673.8 592.3,673.8 594.4,673.8 596.5,673.8 598.6,673.8 600.7,673.8 602.8,673.8 604.9,673.8" fill="none" stroke="#2c5da8" stroke-width="2.2" stroke-linejoin="round"/>
<text x="246.7" y="618.0" font-size="27.4" text-anchor="middle" fill="#000" >RBD</text>
<text x="246.7" y="650.3" font-size="27.4" text-anchor="middle" fill="#000" >loading</text>
<text x="380.1" y="637.7" font-size="27.4" text-anchor="middle" fill="#000" >ShAb02</text>
<text x="550.8" y="619.2" font-size="27.4" text-anchor="middle" fill="#000" >RBD specific</text>
<text x="553.6" y="650.3" font-size="27.4" text-anchor="middle" fill="#000" >ShAbs</text>
<text transform="translate(137.4,767.7) rotate(-90)" font-size="26.6" text-anchor="middle" >Response (nm)</text>
<text x="438.2" y="1011.9" font-size="26.3" text-anchor="middle" fill="#000" >Time (s)</text>
<line x1="725.8" y1="639.1" x2="760.4" y2="639.1" stroke="#2c5da8" stroke-width="3.2" stroke-linecap="round"/>
<text x="780.6" y="648.7" font-size="26.7" text-anchor="start" fill="#000" >ShAb01</text>
<line x1="725.8" y1="684.6" x2="760.4" y2="684.6" stroke="#c97b1f" stroke-width="3.2" stroke-linecap="round"/>
<text x="780.6" y="694.2" font-size="26.7" text-anchor="start" fill="#000" >ShAb17</text>
<line x1="725.8" y1="730.1" x2="760.4" y2="730.1" stroke="#4f7b2a" stroke-width="3.2" stroke-linecap="round" stroke-dasharray="9.2 7.6"/>
<text x="780.6" y="739.7" font-size="26.7" text-anchor="start" fill="#000" >ShAb22</text>
<line x1="725.8" y1="775.6" x2="754.4" y2="775.6" stroke="#ad1459" stroke-width="3.2" stroke-linecap="round" stroke-dasharray="1.6 7.4"/>
<text x="780.6" y="785.2" font-size="26.7" text-anchor="start" fill="#000" >ShAb29</text>
<text x="980.8" y="46.0" font-size="63" text-anchor="start" font-weight="bold" fill="#000" >b</text>
<rect x="1120.8" y="40.0" width="850.2" height="929.9" fill="none" stroke="#a5a5a5" stroke-width="3.7" stroke-linejoin="round"/>
<rect x="1469.8" y="148.5" width="489.2" height="6.4" fill="#d9d9d9"/>
<rect x="1262.0" y="202.1" width="6.8" height="764.6" fill="#d9d9d9"/>
<text x="1715.5" y="81.0" font-size="27.6" text-anchor="middle" fill="#000" textLength="270" lengthAdjust="spacing">Residual binding (%)</text>
<text x="1710.4" y="129.3" font-size="27.6" text-anchor="middle" fill="#000" textLength="326" lengthAdjust="spacing">Second binding molecule</text>
<text x="1550.7" y="193.1" font-size="27.6" text-anchor="middle" fill="#000" >ShAb01</text>
<text x="1710.0" y="193.1" font-size="27.6" text-anchor="middle" fill="#000" >ShAb02</text>
<text x="1873.9" y="193.1" font-size="27.6" text-anchor="middle" fill="#000" >hACE2-Fc</text>
<rect x="1472.5" y="209.3" width="156.4" height="46.2" fill="#bfbfbf"/>
<text x="1710.0" y="246.2" font-size="27.6" text-anchor="middle" fill="#000" >103</text>
<rect x="1791.0" y="209.3" width="165.8" height="46.2" fill="#f77e7a"/>
<text x="1873.9" y="246.2" font-size="27.6" text-anchor="middle" fill="#000" >1</text>
<text x="1368.0" y="246.2" font-size="27.6" text-anchor="middle" fill="#000" >ShAb01</text>
<rect x="1472.5" y="258.5" width="156.4" height="46.0" fill="#f77e7a"/>
<text x="1550.7" y="295.4" font-size="27.6" text-anchor="middle" fill="#000" >0</text>
<text x="1710.0" y="295.4" font-size="27.6" text-anchor="middle" fill="#000" >100</text>
<rect x="1791.0" y="258.5" width="165.8" height="46.0" fill="#f77e7a"/>
<text x="1873.9" y="295.4" font-size="27.6" text-anchor="middle" fill="#000" >6</text>
<text x="1368.0" y="295.4" font-size="27.6" text-anchor="middle" fill="#000" >ShAb09</text>
<rect x="1472.5" y="307.7" width="156.4" height="46.0" fill="#f77e7a"/>
<text x="1550.7" y="344.7" font-size="27.6" text-anchor="middle" fill="#000" >11</text>
<text x="1710.0" y="344.7" font-size="27.6" text-anchor="middle" fill="#000" >99</text>
<text x="1873.9" y="344.7" font-size="27.6" text-anchor="middle" fill="#000" >63</text>
<text x="1368.0" y="344.7" font-size="27.6" text-anchor="middle" fill="#000" >ShAb18</text>
<rect x="1472.5" y="357.0" width="156.4" height="45.7" fill="#f77e7a"/>
<text x="1550.7" y="393.8" font-size="27.6" text-anchor="middle" fill="#000" >7</text>
<text x="1710.0" y="393.8" font-size="27.6" text-anchor="middle" fill="#000" >101</text>
<text x="1873.9" y="393.8" font-size="27.6" text-anchor="middle" fill="#000" >68</text>
<text x="1368.0" y="393.8" font-size="27.6" text-anchor="middle" fill="#000" >ShAb21</text>
<rect x="1472.5" y="406.1" width="156.4" height="45.7" fill="#f77e7a"/>
<text x="1550.7" y="442.8" font-size="27.6" text-anchor="middle" fill="#000" >0</text>
<text x="1710.0" y="442.8" font-size="27.6" text-anchor="middle" fill="#000" >94</text>
<rect x="1791.0" y="406.1" width="165.8" height="45.7" fill="#f77e7a"/>
<text x="1873.9" y="442.8" font-size="27.6" text-anchor="middle" fill="#000" >19</text>
<text x="1368.0" y="442.8" font-size="27.6" text-anchor="middle" fill="#000" >ShAb23</text>
<rect x="1472.5" y="455.0" width="156.4" height="46.2" fill="#f77e7a"/>
<text x="1550.7" y="492.1" font-size="27.6" text-anchor="middle" fill="#000" >2</text>
<text x="1710.0" y="492.1" font-size="27.6" text-anchor="middle" fill="#000" >100</text>
<text x="1873.9" y="492.1" font-size="27.6" text-anchor="middle" fill="#000" >85</text>
<text x="1368.0" y="492.1" font-size="27.6" text-anchor="middle" fill="#000" >ShAb24</text>
<rect x="1472.5" y="504.2" width="156.4" height="45.9" fill="#f77e7a"/>
<text x="1550.7" y="541.0" font-size="27.6" text-anchor="middle" fill="#000" >25</text>
<text x="1710.0" y="541.0" font-size="27.6" text-anchor="middle" fill="#000" >96</text>
<rect x="1791.0" y="504.2" width="165.8" height="45.9" fill="#fddcd3"/>
<text x="1873.9" y="541.0" font-size="27.6" text-anchor="middle" fill="#000" >40</text>
<text x="1368.0" y="541.0" font-size="27.6" text-anchor="middle" fill="#000" >ShAb25</text>
<rect x="1472.5" y="553.3" width="156.4" height="48.3" fill="#f77e7a"/>
<text x="1550.7" y="590.4" font-size="27.6" text-anchor="middle" fill="#000" >2</text>
<text x="1710.0" y="590.4" font-size="27.6" text-anchor="middle" fill="#000" >100</text>
<rect x="1791.0" y="553.3" width="165.8" height="48.3" fill="#f77e7a"/>
<text x="1873.9" y="590.4" font-size="27.6" text-anchor="middle" fill="#000" >0</text>
<text x="1368.0" y="590.4" font-size="27.6" text-anchor="middle" fill="#000" >ShAb27</text>
<rect x="1472.5" y="604.6" width="156.4" height="48.6" fill="#f77e7a"/>
<text x="1550.7" y="644.0" font-size="27.6" text-anchor="middle" fill="#000" >21</text>
<text x="1710.0" y="644.0" font-size="27.6" text-anchor="middle" fill="#000" >96</text>
<rect x="1791.0" y="604.6" width="165.8" height="48.6" fill="#f77e7a"/>
<text x="1873.9" y="644.0" font-size="27.6" text-anchor="middle" fill="#000" >19</text>
<text x="1368.0" y="644.0" font-size="27.6" text-anchor="middle" fill="#000" >ShAb28</text>
<text x="1550.7" y="697.9" font-size="27.6" text-anchor="middle" fill="#000" >100</text>
<rect x="1632.0" y="661.1" width="156.1" height="47.9" fill="#bfbfbf"/>
<text x="1873.9" y="697.9" font-size="27.6" text-anchor="middle" fill="#000" >70</text>
<text x="1368.0" y="697.9" font-size="27.6" text-anchor="middle" fill="#000" >ShAb02</text>
<text x="1550.7" y="752.0" font-size="27.6" text-anchor="middle" fill="#000" >95</text>
<rect x="1632.0" y="712.4" width="156.1" height="48.1" fill="#f77e7a"/>
<text x="1710.0" y="752.0" font-size="27.6" text-anchor="middle" fill="#000" >0</text>
<text x="1873.9" y="752.0" font-size="27.6" text-anchor="middle" fill="#000" >71</text>
<text x="1368.0" y="752.0" font-size="27.6" text-anchor="middle" fill="#000" >ShAb17</text>
<text x="1550.7" y="800.8" font-size="27.6" text-anchor="middle" fill="#000" >97</text>
<rect x="1632.0" y="764.2" width="156.1" height="45.1" fill="#f77e7a"/>
<text x="1710.0" y="800.8" font-size="27.6" text-anchor="middle" fill="#000" >2</text>
<text x="1873.9" y="800.8" font-size="27.6" text-anchor="middle" fill="#000" >82</text>
<text x="1368.0" y="800.8" font-size="27.6" text-anchor="middle" fill="#000" >ShAb22</text>
<text x="1550.7" y="850.1" font-size="27.6" text-anchor="middle" fill="#000" >106</text>
<rect x="1632.0" y="813.1" width="156.1" height="45.9" fill="#f77e7a"/>
<text x="1710.0" y="850.1" font-size="27.6" text-anchor="middle" fill="#000" >10</text>
<text x="1873.9" y="850.1" font-size="27.6" text-anchor="middle" fill="#000" >88</text>
<text x="1368.0" y="850.1" font-size="27.6" text-anchor="middle" fill="#000" >ShAb29</text>
<rect x="1472.5" y="867.5" width="156.4" height="45.0" fill="#f77e7a"/>
<text x="1550.7" y="903.6" font-size="27.6" text-anchor="middle" fill="#000" >2</text>
<text x="1710.0" y="903.6" font-size="27.6" text-anchor="middle" fill="#000" >82</text>
<rect x="1791.0" y="867.5" width="165.8" height="45.0" fill="#bfbfbf"/>
<text x="1368.0" y="903.6" font-size="27.6" text-anchor="middle" fill="#000" >ACE2-Fc</text>
<rect x="1472.5" y="915.9" width="156.4" height="48.3" fill="#fddcd3"/>
<text x="1550.7" y="953.1" font-size="27.6" text-anchor="middle" fill="#000" >23</text>
<text x="1710.0" y="953.1" font-size="27.6" text-anchor="middle" fill="#000" >100</text>
<text x="1873.9" y="953.1" font-size="27.6" text-anchor="middle" fill="#000" >80</text>
<text x="1368.0" y="953.1" font-size="27.6" text-anchor="middle" fill="#000" >CR3022</text>
<text transform="translate(1163.8,581.2) rotate(-90)" font-size="27.6" text-anchor="middle" textLength="307" lengthAdjust="spacing">SARS CoV-2 WA.1 RBD</text>
<text transform="translate(1231.8,531.5) rotate(-90)" font-size="27.6" text-anchor="middle" >First ShAb</text>
<text transform="translate(1231.5,911.5) rotate(-90)" font-size="27.6" text-anchor="middle" >Ctrl.</text>
<text x="94.9" y="1161.9" font-size="62" text-anchor="start" font-weight="bold" fill="#000" >c</text>
<rect x="1.9" y="1190.6" width="1996.1" height="308.3" fill="none" stroke="#a6a6a6" stroke-width="3.7"/>
<line x1="1066.2" y1="1190.6" x2="1066.2" y2="1498.9" stroke="#a6a6a6" stroke-width="3.8" />
<line x1="148.9" y1="1250.0" x2="1046.0" y2="1250.0" stroke="#a6a6a6" stroke-width="3.6" />
<line x1="1079.8" y1="1250.0" x2="1975.7" y2="1250.0" stroke="#a6a6a6" stroke-width="3.6" />
<text x="474.0" y="1234.1" font-size="27.1">RBD binding K<tspan font-size="17" dy="6">D</tspan><tspan dy="-6"> (nM)</tspan></text>
<text x="1370.3" y="1233.2" font-size="27.1" letter-spacing="0.13">Neutralization IC<tspan font-size="17" dy="6">50</tspan><tspan dy="-6"> (ng/mL)</tspan></text>
<text x="201.0" y="1320.6" font-size="27.1" text-anchor="middle" fill="#000" >WA-1</text>
<text x="334.8" y="1320.6" font-size="27.1" text-anchor="middle" fill="#000" >Alpha</text>
<text x="467.8" y="1320.6" font-size="27.1" text-anchor="middle" fill="#000" >Beta</text>
<text x="600.9" y="1320.6" font-size="27.1" text-anchor="middle" fill="#000" >Delta</text>
<text x="733.9" y="1305.3" font-size="27.1" text-anchor="middle" fill="#000" >Omicron</text>
<text x="733.9" y="1337.3" font-size="27.1" text-anchor="middle" fill="#000" >BA.1</text>
<text x="866.5" y="1305.3" font-size="27.1" text-anchor="middle" fill="#000" >Omicron</text>
<text x="866.5" y="1337.3" font-size="27.1" text-anchor="middle" fill="#000" >BA.4/5</text>
<text x="957.8" y="1305.3" font-size="27.1" text-anchor="start" fill="#000" >SARS-</text>
<text x="957.8" y="1337.3" font-size="27.1" text-anchor="start" fill="#000" >CoV-1</text>
<text x="1132.7" y="1314.5" font-size="27.1" text-anchor="middle" fill="#000" >WA-1</text>
<text x="1266.0" y="1314.5" font-size="27.1" text-anchor="middle" fill="#000" >Alpha</text>
<text x="1399.6" y="1314.5" font-size="27.1" text-anchor="middle" fill="#000" >Beta</text>
<text x="1532.9" y="1314.5" font-size="27.1" text-anchor="middle" fill="#000" >Delta</text>
<text x="1665.3" y="1298.7" font-size="27.1" text-anchor="middle" fill="#000" >Omicron</text>
<text x="1665.3" y="1330.7" font-size="27.1" text-anchor="middle" fill="#000" >BA.1</text>
<text x="1798.2" y="1298.7" font-size="27.1" text-anchor="middle" fill="#000" >Omicron</text>
<text x="1798.2" y="1330.7" font-size="27.1" text-anchor="middle" fill="#000" >BA.4/5</text>
<text x="1889.0" y="1298.7" font-size="27.1" text-anchor="start" fill="#000" >SARS-</text>
<text x="1889.0" y="1330.7" font-size="27.1" text-anchor="start" fill="#000" >CoV-1</text>
<rect x="135.2" y="1367.1" width="129.8" height="62.7" fill="#f7caac"/>
<rect x="536.4" y="1367.1" width="128.3" height="62.7" fill="#f7caac"/>
<rect x="536.4" y="1434.0" width="128.3" height="62.6" fill="#f8a7a1"/>
<rect x="1468.1" y="1356.6" width="128.8" height="75.1" fill="#f7caac"/>
<rect x="1068.8" y="1436.0" width="128.8" height="60.6" fill="#f8a7a1"/>
<rect x="1201.8" y="1436.0" width="128.8" height="60.6" fill="#f77e79"/>
<rect x="1334.9" y="1436.0" width="128.8" height="60.6" fill="#f77e79"/>
<rect x="1468.1" y="1436.0" width="128.8" height="60.6" fill="#f77e79"/>
<rect x="1600.8" y="1436.0" width="128.8" height="60.6" fill="#f7caac"/>
<text x="200.5" y="1408.5" font-size="27.1" text-anchor="middle" fill="#000" >47.1</text>
<text x="334.6" y="1408.5" font-size="27.1" text-anchor="middle" fill="#000" >53.9</text>
<text x="467.0" y="1408.5" font-size="27.1" text-anchor="middle" fill="#000" >70.8</text>
<text x="600.4" y="1408.5" font-size="27.1" text-anchor="middle" fill="#000" >38.9</text>
<text x="733.6" y="1408.5" font-size="27.1" text-anchor="middle" fill="#000" >7,460.0</text>
<text x="867.5" y="1408.5" font-size="27.1" text-anchor="middle" fill="#000" >152.9</text>
<text x="1000.0" y="1408.5" font-size="27.1" text-anchor="middle" fill="#000" >198.1</text>
<text x="200.5" y="1475.5" font-size="27.1" text-anchor="middle" fill="#000" >85.7</text>
<text x="334.6" y="1475.5" font-size="27.1" text-anchor="middle" fill="#000" >72.4</text>
<text x="467.0" y="1475.5" font-size="27.1" text-anchor="middle" fill="#000" >71.6</text>
<text x="600.4" y="1475.5" font-size="27.1" text-anchor="middle" fill="#000" >14.9</text>
<text x="733.6" y="1475.5" font-size="27.1" text-anchor="middle" fill="#000" >108.2</text>
<text x="867.5" y="1475.5" font-size="27.1" text-anchor="middle" fill="#000" >50.1</text>
<text x="1000.0" y="1475.5" font-size="27.1" text-anchor="middle" fill="#000" >n/d</text>
<text x="1133.0" y="1404.5" font-size="27.1" text-anchor="middle" fill="#000" >609</text>
<text x="1266.3" y="1404.5" font-size="27.1" text-anchor="middle" fill="#000" >420</text>
<text x="1399.3" y="1404.5" font-size="27.1" text-anchor="middle" fill="#000" >619</text>
<text x="1532.8" y="1404.5" font-size="27.1" text-anchor="middle" fill="#000" >188</text>
<text x="1665.0" y="1404.5" font-size="27.1" text-anchor="middle" fill="#000" >&gt;18,000</text>
<text x="1798.5" y="1404.5" font-size="27.1" text-anchor="middle" fill="#000" >&gt;12,000</text>
<text x="1931.6" y="1404.5" font-size="27.1" text-anchor="middle" fill="#000" >873</text>
<text x="1133.0" y="1476.0" font-size="27.1" text-anchor="middle" fill="#000" >52</text>
<text x="1266.3" y="1476.0" font-size="27.1" text-anchor="middle" fill="#000" >&lt;23</text>
<text x="1399.3" y="1476.0" font-size="27.1" text-anchor="middle" fill="#000" >&lt;23</text>
<text x="1532.8" y="1476.0" font-size="27.1" text-anchor="middle" fill="#000" >15</text>
<text x="1665.0" y="1476.0" font-size="27.1" text-anchor="middle" fill="#000" >178</text>
<text x="1798.5" y="1476.0" font-size="27.1" text-anchor="middle" fill="#000" >1,003</text>
<text x="1931.6" y="1476.0" font-size="27.1" text-anchor="middle" fill="#000" >11,617</text>
<text x="20.0" y="1408.5" font-size="27.1" text-anchor="start" fill="#000" >ShAb01</text>
<text x="20.0" y="1475.5" font-size="27.1" text-anchor="start" fill="#000" >ShAb02</text>
<text x="93.8" y="1592.6" font-size="63" text-anchor="start" font-weight="bold" fill="#000" >d</text>
<line x1="379.3" y1="1640.5" x2="379.3" y2="1970.2" stroke="#000" stroke-width="3" />
<line x1="365.1" y1="1695.2" x2="379.3" y2="1695.2" stroke="#000" stroke-width="3" />
<text x="362.8" y="1704.2" font-size="25.3" text-anchor="end" fill="#000" >0.4</text>
<line x1="365.1" y1="1804.6" x2="379.3" y2="1804.6" stroke="#000" stroke-width="3" />
<text x="362.8" y="1813.6" font-size="25.3" text-anchor="end" fill="#000" >0.2</text>
<line x1="365.1" y1="1914.0" x2="379.3" y2="1914.0" stroke="#000" stroke-width="3" />
<text x="362.8" y="1923.0" font-size="25.3" text-anchor="end" fill="#000" >0.0</text>
<line x1="371.3" y1="1640.5" x2="379.3" y2="1640.5" stroke="#000" stroke-width="3" />
<line x1="371.3" y1="1749.9" x2="379.3" y2="1749.9" stroke="#000" stroke-width="3" />
<line x1="371.3" y1="1859.3" x2="379.3" y2="1859.3" stroke="#000" stroke-width="3" />
<line x1="371.3" y1="1968.7" x2="871.8" y2="1968.7" stroke="#000" stroke-width="3" />
<line x1="379.3" y1="1968.7" x2="379.3" y2="1982.9" stroke="#000" stroke-width="3" />
<text x="379.3" y="2008.3" font-size="25.3" text-anchor="middle" fill="#000" >0</text>
<line x1="575.3" y1="1968.7" x2="575.3" y2="1982.9" stroke="#000" stroke-width="3" />
<text x="575.3" y="2008.3" font-size="25.3" text-anchor="middle" fill="#000" >100</text>
<line x1="771.3" y1="1968.7" x2="771.3" y2="1982.9" stroke="#000" stroke-width="3" />
<text x="771.3" y="2008.3" font-size="25.3" text-anchor="middle" fill="#000" >200</text>
<line x1="477.3" y1="1968.7" x2="477.3" y2="1976.7" stroke="#000" stroke-width="3" />
<line x1="673.3" y1="1968.7" x2="673.3" y2="1976.7" stroke="#000" stroke-width="3" />
<line x1="869.3" y1="1968.7" x2="869.3" y2="1976.7" stroke="#000" stroke-width="3" />
<line x1="381.3" y1="1914.0" x2="867.3" y2="1914.0" stroke="#000" stroke-width="3" stroke-dasharray="2.2 6.4" stroke-linecap="round"/>
<polyline points="379.3,1914.6 381.3,1913.4 383.2,1911.2 385.2,1911.6 387.1,1909.3 389.1,1909.2 391.1,1906.2 393.0,1905.5 395.0,1903.7 396.9,1903.6 398.9,1901.9 400.9,1901.1 402.8,1900.2 404.8,1898.5 406.7,1898.2 408.7,1896.5 410.7,1894.8 412.6,1894.0 414.6,1893.1 416.5,1890.5 418.5,1890.6 420.5,1889.8 422.4,1888.3 424.4,1887.5 426.3,1886.3 428.3,1885.2 430.3,1882.8 432.2,1882.8 434.2,1881.6 436.1,1880.2 438.1,1878.4 440.1,1878.5 442.0,1877.7 444.0,1874.9 445.9,1876.0 447.9,1874.3 449.9,1872.7 451.8,1870.7 453.8,1871.4 455.7,1871.2 457.7,1868.4 459.7,1868.0 461.6,1866.9 463.6,1865.4 465.5,1864.5 467.5,1863.4 469.5,1862.8 471.4,1860.8 473.4,1859.6 475.3,1859.4 477.3,1858.7 479.3,1857.0 481.2,1856.1 483.2,1855.9 485.1,1854.6 487.1,1852.8 489.1,1852.4 491.0,1851.6 493.0,1850.3 494.9,1849.4 496.9,1848.4 498.9,1848.5 500.8,1845.5 502.8,1845.4 504.7,1845.0 506.7,1843.0 508.7,1842.4 510.6,1841.6 512.6,1840.1 514.5,1838.4 516.5,1838.4 518.5,1836.9 520.4,1835.7 522.4,1836.5 524.3,1835.2 526.3,1833.6 528.3,1834.0 530.2,1832.3 532.2,1830.5 534.1,1829.7 536.1,1829.1 538.1,1829.5 540.0,1826.3 542.0,1826.3 543.9,1825.3 545.9,1824.6 547.9,1824.9 549.8,1823.8 551.8,1822.8 553.7,1820.2 555.7,1820.8 557.7,1819.6 559.6,1818.7 561.6,1817.4 563.5,1816.6 565.5,1815.8 567.5,1815.8 569.4,1815.9 571.4,1813.3 573.3,1812.3 575.3,1811.0 577.3,1810.8 579.2,1810.2 581.2,1808.8 583.1,1809.1 585.1,1807.9 587.1,1807.1 589.0,1805.5 591.0,1803.7 592.9,1803.6 594.9,1802.6 596.9,1802.2 598.8,1801.4 600.8,1801.0 602.7,1800.1 604.7,1800.4 606.7,1798.9 608.6,1798.2 610.6,1796.2 612.5,1795.5 614.5,1794.4 616.5,1794.2 618.4,1796.8 620.4,1796.5 622.3,1796.5 624.3,1798.0 626.3,1797.9 628.2,1799.0 630.2,1800.2 632.1,1799.7 634.1,1800.6 636.1,1800.6 638.0,1801.3 640.0,1801.3 641.9,1803.0 643.9,1801.1 645.9,1801.9 647.8,1803.3 649.8,1804.0 651.7,1803.9 653.7,1803.9 655.7,1804.4 657.6,1804.8 659.6,1806.4 661.5,1806.4 663.5,1805.4 665.5,1806.3 667.4,1807.6 669.4,1807.6 671.3,1808.3 673.3,1808.4 675.3,1807.5 677.2,1808.6 679.2,1808.2 681.1,1809.1 683.1,1810.3 685.1,1810.2 687.0,1808.9 689.0,1810.9 690.9,1811.3 692.9,1810.4 694.9,1811.3 696.8,1811.7 698.8,1811.1 700.7,1813.2 702.7,1812.3 704.7,1813.4 706.6,1813.9 708.6,1813.8 710.5,1813.0 712.5,1814.0 714.5,1815.2 716.4,1815.1 718.4,1813.9 720.3,1814.4 722.3,1815.8 724.3,1814.1 726.2,1815.9 728.2,1816.7 730.1,1816.3 732.1,1816.0 734.1,1815.8 736.0,1816.4 738.0,1817.4 739.9,1817.7 741.9,1818.5 743.9,1817.9 745.8,1818.4 747.8,1818.2 749.7,1819.2 751.7,1819.0 753.7,1819.5 755.6,1819.8 757.6,1820.0 759.5,1820.2 761.5,1820.5 763.5,1819.7 765.4,1820.1 767.4,1821.1 769.3,1820.3 771.3,1820.6 773.3,1820.2 775.2,1821.3 777.2,1821.5 779.1,1821.9 781.1,1821.6 783.1,1821.6 785.0,1822.0 787.0,1822.4 788.9,1822.1 790.9,1822.5 792.9,1822.6 794.8,1823.4 796.8,1823.0 798.7,1823.8 800.7,1823.9 802.7,1823.5 804.6,1822.6 806.6,1823.3 808.5,1824.0 810.5,1824.3 812.5,1823.8 814.4,1823.7 816.4,1824.0 818.3,1824.9 820.3,1824.8 822.3,1825.3 824.2,1825.4 826.2,1825.8 828.1,1825.6 830.1,1826.8 832.1,1826.4 834.0,1825.7 836.0,1826.6 837.9,1825.9 839.9,1827.0 841.9,1826.6 843.8,1826.3 845.8,1827.3 847.7,1827.2 849.7,1825.5" fill="none" stroke="#000" stroke-width="4.8" stroke-linejoin="round" stroke-dasharray="1 10.4" stroke-linecap="round"/>
<polyline points="379.3,1914.4 381.3,1913.2 383.2,1911.9 385.2,1910.4 387.1,1909.2 389.1,1907.5 391.1,1906.4 393.0,1905.9 395.0,1904.7 396.9,1904.1 398.9,1902.9 400.9,1901.4 402.8,1899.4 404.8,1898.6 406.7,1897.0 408.7,1895.8 410.7,1895.3 412.6,1892.8 414.6,1893.2 416.5,1892.1 418.5,1890.9 420.5,1888.9 422.4,1888.4 424.4,1887.7 426.3,1885.9 428.3,1884.4 430.3,1884.0 432.2,1882.9 434.2,1881.1 436.1,1880.1 438.1,1879.0 440.1,1878.9 442.0,1877.2 444.0,1876.1 445.9,1876.2 447.9,1873.4 449.9,1873.0 451.8,1872.2 453.8,1869.6 455.7,1869.8 457.7,1869.2 459.7,1867.8 461.6,1866.4 463.6,1865.2 465.5,1864.6 467.5,1864.0 469.5,1862.9 471.4,1861.9 473.4,1861.1 475.3,1859.5 477.3,1858.7 479.3,1857.4 481.2,1856.9 483.2,1855.9 485.1,1854.5 487.1,1853.6 489.1,1851.7 491.0,1851.9 493.0,1850.3 494.9,1849.4 496.9,1849.1 498.9,1847.0 500.8,1846.4 502.8,1846.6 504.7,1844.2 506.7,1843.0 508.7,1843.0 510.6,1840.7 512.6,1840.6 514.5,1840.3 516.5,1838.4 518.5,1838.0 520.4,1837.6 522.4,1837.1 524.3,1834.8 526.3,1834.4 528.3,1832.7 530.2,1831.9 532.2,1831.5 534.1,1830.6 536.1,1828.4 538.1,1827.5 540.0,1827.1 542.0,1826.8 543.9,1826.3 545.9,1825.0 547.9,1823.0 549.8,1822.8 551.8,1822.3 553.7,1821.9 555.7,1820.3 557.7,1820.0 559.6,1818.6 561.6,1817.3 563.5,1816.2 565.5,1815.9 567.5,1815.3 569.4,1814.1 571.4,1812.3 573.3,1812.3 575.3,1812.4 577.3,1809.9 579.2,1809.8 581.2,1807.1 583.1,1808.5 585.1,1807.4 587.1,1806.7 589.0,1805.5 591.0,1805.2 592.9,1804.8 594.9,1804.3 596.9,1802.4 598.8,1801.8 600.8,1801.0 602.7,1798.7 604.7,1798.6 606.7,1797.7 608.6,1797.7 610.6,1796.5 612.5,1796.0 614.5,1795.2 616.5,1794.6 618.4,1792.3 620.4,1792.5 622.3,1792.6 624.3,1793.5 626.3,1793.1 628.2,1792.5 630.2,1793.0 632.1,1793.2 634.1,1792.6 636.1,1793.4 638.0,1793.2 640.0,1792.4 641.9,1793.1 643.9,1792.2 645.9,1792.7 647.8,1792.6 649.8,1792.4 651.7,1794.3 653.7,1793.1 655.7,1793.8 657.6,1793.4 659.6,1793.2 661.5,1792.5 663.5,1793.2 665.5,1792.3 667.4,1793.6 669.4,1793.3 671.3,1793.3 673.3,1792.8 675.3,1793.4 677.2,1793.8 679.2,1793.6 681.1,1794.2 683.1,1792.8 685.1,1793.1 687.0,1793.3 689.0,1793.4 690.9,1793.9 692.9,1793.9 694.9,1793.2 696.8,1794.1 698.8,1794.1 700.7,1792.9 702.7,1792.9 704.7,1793.6 706.6,1793.5 708.6,1793.7 710.5,1793.1 712.5,1794.2 714.5,1793.9 716.4,1793.7 718.4,1793.2 720.3,1794.2 722.3,1793.9 724.3,1794.3 726.2,1794.5 728.2,1794.5 730.1,1794.1 732.1,1793.7 734.1,1794.6 736.0,1794.6 738.0,1794.5 739.9,1794.1 741.9,1793.9 743.9,1795.0 745.8,1794.2 747.8,1794.9 749.7,1794.0 751.7,1795.0 753.7,1795.1 755.6,1794.9 757.6,1794.6 759.5,1795.1 761.5,1794.5 763.5,1794.5 765.4,1794.6 767.4,1794.5 769.3,1794.2 771.3,1795.1 773.3,1794.8 775.2,1794.8 777.2,1795.9 779.1,1794.6 781.1,1795.3 783.1,1795.3 785.0,1795.2 787.0,1794.9 788.9,1794.8 790.9,1794.7 792.9,1795.4 794.8,1794.7 796.8,1794.9 798.7,1795.3 800.7,1795.1 802.7,1794.7 804.6,1795.0 806.6,1794.8 808.5,1795.2 810.5,1794.6 812.5,1794.1 814.4,1795.1 816.4,1796.2 818.3,1794.4 820.3,1795.7 822.3,1796.2 824.2,1796.8 826.2,1795.3 828.1,1794.9 830.1,1795.0 832.1,1795.8 834.0,1794.8 836.0,1795.7 837.9,1796.0 839.9,1795.6 841.9,1795.6 843.8,1795.7 845.8,1795.5 847.7,1797.0 849.7,1795.0" fill="none" stroke="#000" stroke-width="4.8" stroke-linejoin="round" stroke-dasharray="11 11 0.5 11" stroke-linecap="round"/>
<polyline points="379.3,1914.3 381.3,1910.4 383.2,1907.9 385.2,1904.2 387.1,1901.2 389.1,1898.8 391.1,1894.6 393.0,1891.3 395.0,1889.2 396.9,1886.7 398.9,1882.9 400.9,1880.1 402.8,1876.6 404.8,1873.8 406.7,1870.0 408.7,1867.6 410.7,1865.3 412.6,1862.3 414.6,1861.2 416.5,1857.4 418.5,1854.6 420.5,1851.5 422.4,1848.6 424.4,1846.0 426.3,1843.0 428.3,1841.3 430.3,1838.2 432.2,1836.0 434.2,1833.4 436.1,1830.7 438.1,1828.6 440.1,1825.9 442.0,1823.6 444.0,1820.7 445.9,1818.9 447.9,1816.4 449.9,1812.8 451.8,1811.6 453.8,1809.4 455.7,1806.9 457.7,1805.8 459.7,1802.7 461.6,1800.5 463.6,1798.5 465.5,1796.1 467.5,1794.1 469.5,1791.8 471.4,1790.8 473.4,1788.2 475.3,1786.7 477.3,1783.7 479.3,1782.4 481.2,1781.2 483.2,1778.5 485.1,1777.2 487.1,1774.3 489.1,1773.1 491.0,1772.3 493.0,1769.5 494.9,1766.9 496.9,1765.5 498.9,1764.3 500.8,1761.9 502.8,1760.2 504.7,1758.0 506.7,1756.6 508.7,1755.2 510.6,1754.2 512.6,1752.0 514.5,1750.4 516.5,1749.0 518.5,1747.2 520.4,1746.5 522.4,1744.0 524.3,1742.8 526.3,1741.1 528.3,1739.9 530.2,1738.5 532.2,1736.7 534.1,1735.0 536.1,1734.2 538.1,1732.5 540.0,1731.7 542.0,1729.7 543.9,1728.5 545.9,1727.9 547.9,1725.3 549.8,1725.1 551.8,1723.3 553.7,1722.8 555.7,1721.7 557.7,1719.2 559.6,1719.1 561.6,1718.3 563.5,1716.1 565.5,1715.6 567.5,1713.7 569.4,1711.5 571.4,1711.5 573.3,1710.0 575.3,1708.8 577.3,1707.9 579.2,1707.0 581.2,1705.1 583.1,1704.9 585.1,1703.6 587.1,1702.7 589.0,1702.5 591.0,1700.6 592.9,1699.8 594.9,1698.5 596.9,1697.5 598.8,1696.1 600.8,1697.1 602.7,1695.4 604.7,1694.5 606.7,1693.8 608.6,1692.3 610.6,1691.7 612.5,1690.7 614.5,1690.8 616.5,1692.5 618.4,1694.0 620.4,1696.2 622.3,1696.8 624.3,1696.6 626.3,1696.8 628.2,1697.4 630.2,1696.0 632.1,1697.4 634.1,1696.9 636.1,1697.0 638.0,1696.9 640.0,1697.9 641.9,1698.3 643.9,1697.6 645.9,1697.9 647.8,1699.4 649.8,1699.7 651.7,1698.7 653.7,1698.7 655.7,1698.8 657.6,1698.6 659.6,1699.4 661.5,1697.6 663.5,1698.7 665.5,1698.6 667.4,1699.3 669.4,1700.7 671.3,1699.6 673.3,1700.1 675.3,1699.7 677.2,1700.2 679.2,1699.9 681.1,1700.8 683.1,1700.7 685.1,1700.6 687.0,1701.2 689.0,1701.1 690.9,1700.7 692.9,1700.1 694.9,1701.4 696.8,1701.0 698.8,1702.1 700.7,1701.9 702.7,1701.6 704.7,1701.6 706.6,1702.6 708.6,1701.9 710.5,1702.2 712.5,1701.7 714.5,1702.1 716.4,1702.4 718.4,1703.1 720.3,1702.8 722.3,1703.6 724.3,1703.7 726.2,1704.4 728.2,1704.2 730.1,1704.3 732.1,1703.8 734.1,1703.8 736.0,1704.7 738.0,1704.2 739.9,1704.1 741.9,1703.9 743.9,1704.6 745.8,1704.6 747.8,1705.0 749.7,1704.4 751.7,1705.9 753.7,1705.1 755.6,1706.6 757.6,1704.5 759.5,1705.1 761.5,1706.9 763.5,1706.1 765.4,1706.7 767.4,1707.1 769.3,1706.5 771.3,1706.9 773.3,1705.9 775.2,1706.9 777.2,1707.4 779.1,1706.9 781.1,1706.8 783.1,1706.7 785.0,1707.0 787.0,1708.2 788.9,1708.0 790.9,1707.8 792.9,1708.3 794.8,1707.5 796.8,1708.3 798.7,1708.3 800.7,1708.5 802.7,1708.5 804.6,1709.4 806.6,1707.6 808.5,1709.2 810.5,1709.4 812.5,1710.1 814.4,1709.3 816.4,1710.1 818.3,1709.3 820.3,1709.0 822.3,1709.5 824.2,1710.2 826.2,1709.4 828.1,1710.3 830.1,1710.3 832.1,1710.4 834.0,1710.8 836.0,1710.5 837.9,1711.5 839.9,1711.9 841.9,1710.4 843.8,1711.6 845.8,1711.5 847.7,1711.3 849.7,1711.9" fill="none" stroke="#000" stroke-width="4.8" stroke-linejoin="round" stroke-dasharray="12 10.5" stroke-linecap="round"/>
<polyline points="379.3,1914.6 381.3,1910.8 383.2,1908.0 385.2,1903.9 387.1,1901.3 389.1,1898.0 391.1,1894.3 393.0,1892.5 395.0,1889.4 396.9,1885.1 398.9,1881.8 400.9,1879.4 402.8,1876.9 404.8,1872.9 406.7,1870.4 408.7,1867.2 410.7,1865.9 412.6,1862.1 414.6,1859.8 416.5,1857.0 418.5,1853.4 420.5,1850.6 422.4,1848.5 424.4,1845.7 426.3,1842.2 428.3,1839.9 430.3,1837.7 432.2,1834.8 434.2,1832.4 436.1,1830.6 438.1,1827.7 440.1,1824.8 442.0,1822.1 444.0,1820.7 445.9,1818.0 447.9,1815.5 449.9,1813.6 451.8,1809.8 453.8,1807.8 455.7,1805.1 457.7,1804.6 459.7,1801.6 461.6,1797.9 463.6,1797.4 465.5,1795.4 467.5,1792.1 469.5,1789.2 471.4,1787.6 473.4,1786.3 475.3,1783.4 477.3,1781.4 479.3,1779.4 481.2,1777.2 483.2,1775.0 485.1,1772.7 487.1,1770.6 489.1,1768.8 491.0,1767.5 493.0,1766.5 494.9,1763.2 496.9,1762.4 498.9,1758.5 500.8,1758.5 502.8,1757.0 504.7,1755.1 506.7,1752.1 508.7,1750.3 510.6,1748.3 512.6,1746.7 514.5,1745.6 516.5,1743.0 518.5,1742.0 520.4,1740.7 522.4,1737.8 524.3,1736.3 526.3,1735.4 528.3,1733.4 530.2,1731.0 532.2,1729.5 534.1,1728.9 536.1,1726.2 538.1,1726.6 540.0,1723.6 542.0,1721.9 543.9,1720.6 545.9,1718.9 547.9,1718.3 549.8,1716.1 551.8,1714.2 553.7,1713.5 555.7,1711.5 557.7,1710.2 559.6,1709.9 561.6,1707.6 563.5,1705.6 565.5,1705.3 567.5,1703.1 569.4,1701.6 571.4,1701.1 573.3,1699.2 575.3,1697.2 577.3,1696.0 579.2,1695.6 581.2,1693.3 583.1,1692.3 585.1,1691.2 587.1,1689.2 589.0,1688.4 591.0,1687.3 592.9,1685.8 594.9,1684.7 596.9,1683.2 598.8,1682.7 600.8,1682.5 602.7,1679.5 604.7,1678.7 606.7,1677.7 608.6,1676.9 610.6,1675.8 612.5,1674.6 614.5,1674.1 616.5,1673.3 618.4,1673.8 620.4,1674.5 622.3,1674.0 624.3,1674.5 626.3,1674.5 628.2,1674.3 630.2,1673.3 632.1,1675.5 634.1,1674.8 636.1,1674.8 638.0,1675.1 640.0,1674.7 641.9,1675.9 643.9,1676.0 645.9,1676.0 647.8,1676.9 649.8,1675.7 651.7,1677.1 653.7,1676.3 655.7,1676.1 657.6,1677.3 659.6,1677.1 661.5,1677.3 663.5,1676.4 665.5,1677.3 667.4,1678.6 669.4,1677.2 671.3,1677.4 673.3,1679.2 675.3,1679.7 677.2,1677.0 679.2,1678.5 681.1,1679.8 683.1,1678.3 685.1,1678.2 687.0,1680.4 689.0,1678.6 690.9,1679.0 692.9,1679.6 694.9,1680.1 696.8,1679.7 698.8,1680.5 700.7,1680.1 702.7,1680.5 704.7,1680.7 706.6,1680.3 708.6,1680.2 710.5,1680.4 712.5,1680.8 714.5,1680.3 716.4,1682.0 718.4,1681.5 720.3,1681.5 722.3,1681.1 724.3,1683.2 726.2,1682.3 728.2,1682.4 730.1,1682.3 732.1,1681.3 734.1,1682.5 736.0,1682.9 738.0,1682.7 739.9,1682.6 741.9,1683.4 743.9,1682.5 745.8,1684.2 747.8,1683.0 749.7,1683.5 751.7,1683.5 753.7,1683.3 755.6,1684.4 757.6,1684.2 759.5,1684.4 761.5,1685.1 763.5,1685.3 765.4,1685.4 767.4,1684.7 769.3,1686.5 771.3,1686.1 773.3,1685.6 775.2,1685.0 777.2,1685.9 779.1,1685.3 781.1,1686.2 783.1,1686.6 785.0,1687.3 787.0,1686.5 788.9,1685.8 790.9,1686.8 792.9,1687.6 794.8,1686.9 796.8,1688.1 798.7,1688.1 800.7,1687.0 802.7,1687.5 804.6,1687.4 806.6,1687.9 808.5,1688.3 810.5,1688.2 812.5,1688.7 814.4,1688.0 816.4,1689.5 818.3,1689.9 820.3,1689.5 822.3,1688.7 824.2,1689.6 826.2,1690.7 828.1,1688.1 830.1,1690.3 832.1,1690.0 834.0,1689.7 836.0,1690.0 837.9,1690.4 839.9,1691.3 841.9,1690.3 843.8,1691.3 845.8,1691.0 847.7,1690.6 849.7,1691.4" fill="none" stroke="#000" stroke-width="4.8" stroke-linejoin="round" />
<text x="598.6" y="1620.2" font-size="34" text-anchor="middle" fill="#000" >ShAb01</text>
<text transform="translate(302.6,1805.4) rotate(-90)" font-size="26.5" text-anchor="middle" >Response (nm)</text>
<text x="624.8" y="2050.0" font-size="26.3" text-anchor="middle" fill="#000" >Time</text>
<line x1="992.0" y1="1633.2" x2="992.0" y2="1961.7" stroke="#000" stroke-width="3" />
<line x1="977.8" y1="1687.7" x2="992.0" y2="1687.7" stroke="#000" stroke-width="3" />
<text x="975.5" y="1696.7" font-size="25.3" text-anchor="end" fill="#000" >0.4</text>
<line x1="977.8" y1="1796.7" x2="992.0" y2="1796.7" stroke="#000" stroke-width="3" />
<text x="975.5" y="1805.7" font-size="25.3" text-anchor="end" fill="#000" >0.2</text>
<line x1="977.8" y1="1905.7" x2="992.0" y2="1905.7" stroke="#000" stroke-width="3" />
<text x="975.5" y="1914.7" font-size="25.3" text-anchor="end" fill="#000" >0.0</text>
<line x1="984.0" y1="1633.2" x2="992.0" y2="1633.2" stroke="#000" stroke-width="3" />
<line x1="984.0" y1="1742.2" x2="992.0" y2="1742.2" stroke="#000" stroke-width="3" />
<line x1="984.0" y1="1851.2" x2="992.0" y2="1851.2" stroke="#000" stroke-width="3" />
<line x1="984.0" y1="1960.2" x2="1484.5" y2="1960.2" stroke="#000" stroke-width="3" />
<line x1="992.0" y1="1960.2" x2="992.0" y2="1974.4" stroke="#000" stroke-width="3" />
<text x="992.0" y="1999.8" font-size="25.3" text-anchor="middle" fill="#000" >0</text>
<line x1="1188.0" y1="1960.2" x2="1188.0" y2="1974.4" stroke="#000" stroke-width="3" />
<text x="1188.0" y="1999.8" font-size="25.3" text-anchor="middle" fill="#000" >100</text>
<line x1="1384.0" y1="1960.2" x2="1384.0" y2="1974.4" stroke="#000" stroke-width="3" />
<text x="1384.0" y="1999.8" font-size="25.3" text-anchor="middle" fill="#000" >200</text>
<line x1="1090.0" y1="1960.2" x2="1090.0" y2="1968.2" stroke="#000" stroke-width="3" />
<line x1="1286.0" y1="1960.2" x2="1286.0" y2="1968.2" stroke="#000" stroke-width="3" />
<line x1="1482.0" y1="1960.2" x2="1482.0" y2="1968.2" stroke="#000" stroke-width="3" />
<line x1="994.0" y1="1905.7" x2="1480.0" y2="1905.7" stroke="#000" stroke-width="3" stroke-dasharray="2.2 6.4" stroke-linecap="round"/>
<polyline points="992.0,1905.1 994.0,1903.2 995.9,1901.5 997.9,1901.2 999.8,1901.8 1001.8,1903.7 1003.8,1903.3 1005.7,1904.3 1007.7,1906.1 1009.6,1904.7 1011.6,1902.5 1013.6,1903.7 1015.5,1904.6 1017.5,1905.9 1019.4,1904.4 1021.4,1905.2 1023.4,1904.3 1025.3,1903.6 1027.3,1908.1 1029.2,1904.6 1031.2,1906.9 1033.2,1906.1 1035.1,1906.6 1037.1,1902.9 1039.0,1903.6 1041.0,1904.0 1043.0,1906.0 1044.9,1907.2 1046.9,1905.5 1048.8,1904.6 1050.8,1905.1 1052.8,1904.0 1054.7,1905.7 1056.7,1902.2 1058.6,1904.2 1060.6,1902.0 1062.6,1904.9 1064.5,1905.7 1066.5,1906.8 1068.4,1904.2 1070.4,1903.8 1072.4,1905.3 1074.3,1905.0 1076.3,1906.1 1078.2,1906.4 1080.2,1906.2 1082.2,1908.9 1084.1,1907.5 1086.1,1905.9 1088.0,1905.8 1090.0,1904.3 1092.0,1905.0 1093.9,1905.4 1095.9,1906.1 1097.8,1909.9 1099.8,1906.2 1101.8,1907.8 1103.7,1905.6 1105.7,1906.9 1107.6,1907.0 1109.6,1907.4 1111.6,1907.1 1113.5,1909.8 1115.5,1909.3 1117.4,1904.8 1119.4,1906.1 1121.4,1907.5 1123.3,1907.4 1125.3,1907.5 1127.2,1901.7 1129.2,1906.2 1131.2,1907.1 1133.1,1908.2 1135.1,1911.0 1137.0,1907.0 1139.0,1905.0 1141.0,1905.8 1142.9,1906.9 1144.9,1908.4 1146.8,1909.4 1148.8,1907.4 1150.8,1908.3 1152.7,1909.5 1154.7,1905.0 1156.6,1909.3 1158.6,1908.7 1160.6,1911.7 1162.5,1905.1 1164.5,1908.2 1166.4,1908.1 1168.4,1907.6 1170.4,1909.5 1172.3,1909.2 1174.3,1907.7 1176.2,1909.6 1178.2,1907.8 1180.2,1906.4 1182.1,1907.1 1184.1,1906.1 1186.0,1906.7 1188.0,1905.7 1190.0,1908.1 1191.9,1907.9 1193.9,1910.5 1195.8,1909.0 1197.8,1910.0 1199.8,1908.9 1201.7,1910.6 1203.7,1908.4 1205.6,1904.8 1207.6,1910.3 1209.6,1908.1 1211.5,1908.1 1213.5,1910.4 1215.4,1909.7 1217.4,1910.1 1219.4,1908.6 1221.3,1910.4 1223.3,1908.3 1225.2,1909.1 1227.2,1909.0 1229.2,1909.2 1231.1,1910.1 1233.1,1911.3 1235.0,1911.6 1237.0,1912.3 1239.0,1912.8 1240.9,1913.0 1242.9,1914.8 1244.8,1915.2 1246.8,1915.1 1248.8,1915.2 1250.7,1916.1 1252.7,1916.5 1254.6,1916.4 1256.6,1917.0 1258.6,1917.8 1260.5,1918.4 1262.5,1919.3 1264.4,1918.9 1266.4,1919.5 1268.4,1920.4 1270.3,1920.1 1272.3,1920.9 1274.2,1921.3 1276.2,1922.2 1278.2,1921.5 1280.1,1922.6 1282.1,1922.5 1284.0,1922.9 1286.0,1923.6 1288.0,1923.8 1289.9,1924.2 1291.9,1924.5 1293.8,1924.7 1295.8,1925.3 1297.8,1925.1 1299.7,1925.7 1301.7,1926.5 1303.6,1926.1 1305.6,1926.8 1307.6,1926.7 1309.5,1928.2 1311.5,1927.3 1313.4,1928.8 1315.4,1928.2 1317.4,1926.9 1319.3,1928.3 1321.3,1928.4 1323.2,1929.4 1325.2,1929.9 1327.2,1929.6 1329.1,1929.7 1331.1,1930.1 1333.0,1930.6 1335.0,1930.9 1337.0,1931.0 1338.9,1930.3 1340.9,1931.2 1342.8,1931.6 1344.8,1931.8 1346.8,1932.3 1348.7,1932.6 1350.7,1932.2 1352.6,1931.9 1354.6,1932.4 1356.6,1933.4 1358.5,1932.4 1360.5,1933.1 1362.4,1932.6 1364.4,1933.6 1366.4,1934.3 1368.3,1933.8 1370.3,1934.2 1372.2,1934.7 1374.2,1934.7 1376.2,1934.8 1378.1,1935.1 1380.1,1934.6 1382.0,1934.9 1384.0,1935.4 1386.0,1935.5 1387.9,1935.1 1389.9,1935.5 1391.8,1936.3 1393.8,1935.8 1395.8,1935.3 1397.7,1936.0 1399.7,1936.7 1401.6,1935.8 1403.6,1935.5 1405.6,1936.6 1407.5,1937.8 1409.5,1937.6 1411.4,1936.2 1413.4,1937.2 1415.4,1936.9 1417.3,1937.1 1419.3,1937.4 1421.2,1936.8 1423.2,1937.6 1425.2,1937.5 1427.1,1937.7 1429.1,1937.9 1431.0,1937.0 1433.0,1938.7 1435.0,1938.8 1436.9,1937.9 1438.9,1939.0 1440.8,1938.5 1442.8,1939.1 1444.8,1938.3 1446.7,1938.8 1448.7,1938.6 1450.6,1939.3 1452.6,1939.1 1454.6,1940.2 1456.5,1938.9 1458.5,1939.1 1460.4,1939.4 1462.4,1939.4" fill="none" stroke="#000" stroke-width="4.8" stroke-linejoin="round" stroke-dasharray="1 10.4" stroke-linecap="round"/>
<polyline points="992.0,1905.2 994.0,1904.7 995.9,1901.0 997.9,1905.8 999.8,1905.6 1001.8,1903.4 1003.8,1904.4 1005.7,1906.0 1007.7,1901.8 1009.6,1901.7 1011.6,1905.6 1013.6,1901.6 1015.5,1907.8 1017.5,1902.2 1019.4,1908.3 1021.4,1904.5 1023.4,1905.6 1025.3,1906.1 1027.3,1904.2 1029.2,1907.3 1031.2,1907.0 1033.2,1907.7 1035.1,1902.7 1037.1,1906.8 1039.0,1905.0 1041.0,1906.2 1043.0,1903.8 1044.9,1907.9 1046.9,1907.6 1048.8,1907.2 1050.8,1905.7 1052.8,1907.5 1054.7,1905.2 1056.7,1905.1 1058.6,1904.2 1060.6,1905.2 1062.6,1903.6 1064.5,1907.0 1066.5,1907.4 1068.4,1907.8 1070.4,1907.8 1072.4,1909.1 1074.3,1905.9 1076.3,1906.5 1078.2,1910.8 1080.2,1907.0 1082.2,1908.2 1084.1,1908.6 1086.1,1907.5 1088.0,1904.7 1090.0,1906.8 1092.0,1910.9 1093.9,1906.5 1095.9,1908.9 1097.8,1904.1 1099.8,1908.2 1101.8,1907.5 1103.7,1907.8 1105.7,1909.0 1107.6,1908.3 1109.6,1907.8 1111.6,1903.4 1113.5,1907.4 1115.5,1906.7 1117.4,1907.5 1119.4,1907.4 1121.4,1907.2 1123.3,1905.2 1125.3,1913.6 1127.2,1909.2 1129.2,1909.6 1131.2,1906.4 1133.1,1909.7 1135.1,1906.3 1137.0,1906.1 1139.0,1909.3 1141.0,1907.2 1142.9,1909.3 1144.9,1906.8 1146.8,1907.5 1148.8,1906.2 1150.8,1907.0 1152.7,1910.5 1154.7,1905.9 1156.6,1908.6 1158.6,1906.7 1160.6,1908.6 1162.5,1907.0 1164.5,1911.1 1166.4,1906.4 1168.4,1910.8 1170.4,1909.3 1172.3,1908.2 1174.3,1912.0 1176.2,1908.4 1178.2,1909.2 1180.2,1907.7 1182.1,1909.5 1184.1,1911.3 1186.0,1911.5 1188.0,1911.0 1190.0,1909.3 1191.9,1909.9 1193.9,1908.5 1195.8,1906.8 1197.8,1910.3 1199.8,1910.7 1201.7,1909.1 1203.7,1909.0 1205.6,1914.0 1207.6,1911.2 1209.6,1909.9 1211.5,1908.9 1213.5,1911.0 1215.4,1912.1 1217.4,1906.3 1219.4,1916.2 1221.3,1907.7 1223.3,1911.7 1225.2,1911.2 1227.2,1910.6 1229.2,1909.0 1231.1,1911.7 1233.1,1912.7 1235.0,1909.6 1237.0,1908.0 1239.0,1911.0 1240.9,1906.4 1242.9,1913.2 1244.8,1909.4 1246.8,1910.2 1248.8,1908.7 1250.7,1913.5 1252.7,1910.3 1254.6,1911.9 1256.6,1916.1 1258.6,1912.8 1260.5,1914.8 1262.5,1912.9 1264.4,1911.1 1266.4,1912.6 1268.4,1909.0 1270.3,1911.3 1272.3,1913.8 1274.2,1913.5 1276.2,1912.2 1278.2,1914.4 1280.1,1912.1 1282.1,1912.1 1284.0,1911.5 1286.0,1913.0 1288.0,1913.2 1289.9,1915.7 1291.9,1913.2 1293.8,1913.9 1295.8,1913.4 1297.8,1913.0 1299.7,1915.2 1301.7,1914.7 1303.6,1915.4 1305.6,1916.3 1307.6,1917.6 1309.5,1916.3 1311.5,1913.5 1313.4,1918.8 1315.4,1913.6 1317.4,1913.2 1319.3,1913.0 1321.3,1915.4 1323.2,1915.4 1325.2,1912.9 1327.2,1913.5 1329.1,1911.8 1331.1,1915.8 1333.0,1915.9 1335.0,1913.1 1337.0,1915.9 1338.9,1915.5 1340.9,1912.9 1342.8,1913.9 1344.8,1916.2 1346.8,1914.4 1348.7,1915.6 1350.7,1913.6 1352.6,1915.0 1354.6,1917.3 1356.6,1912.5 1358.5,1915.9 1360.5,1915.7 1362.4,1917.0 1364.4,1915.9 1366.4,1916.6 1368.3,1914.9 1370.3,1915.0 1372.2,1913.8 1374.2,1914.6 1376.2,1917.0 1378.1,1917.5 1380.1,1917.7 1382.0,1914.4 1384.0,1917.7 1386.0,1913.4 1387.9,1916.0 1389.9,1916.4 1391.8,1916.0 1393.8,1913.0 1395.8,1916.2 1397.7,1917.2 1399.7,1918.5 1401.6,1919.6 1403.6,1917.8 1405.6,1914.2 1407.5,1915.5 1409.5,1918.0 1411.4,1921.3 1413.4,1914.6 1415.4,1916.1 1417.3,1920.7 1419.3,1917.2 1421.2,1918.9 1423.2,1914.9 1425.2,1915.7 1427.1,1918.2 1429.1,1921.1 1431.0,1917.5 1433.0,1912.1 1435.0,1916.1 1436.9,1918.0 1438.9,1915.3 1440.8,1918.0 1442.8,1914.0 1444.8,1920.4 1446.7,1918.0 1448.7,1914.2 1450.6,1915.0 1452.6,1916.1 1454.6,1920.0 1456.5,1917.1 1458.5,1916.0 1460.4,1918.1 1462.4,1917.2" fill="none" stroke="#000" stroke-width="4.8" stroke-linejoin="round" stroke-dasharray="11 11 0.5 11" stroke-linecap="round"/>
<polyline points="992.0,1900.6 994.0,1903.0 995.9,1901.4 997.9,1902.9 999.8,1904.7 1001.8,1905.4 1003.8,1904.0 1005.7,1904.4 1007.7,1900.8 1009.6,1902.6 1011.6,1906.5 1013.6,1900.1 1015.5,1898.3 1017.5,1903.9 1019.4,1902.0 1021.4,1903.3 1023.4,1901.7 1025.3,1903.0 1027.3,1902.4 1029.2,1903.3 1031.2,1904.6 1033.2,1904.1 1035.1,1905.0 1037.1,1904.8 1039.0,1904.4 1041.0,1898.7 1043.0,1902.2 1044.9,1900.1 1046.9,1906.6 1048.8,1904.4 1050.8,1902.0 1052.8,1901.5 1054.7,1903.1 1056.7,1904.9 1058.6,1906.9 1060.6,1903.7 1062.6,1907.4 1064.5,1903.8 1066.5,1905.3 1068.4,1905.7 1070.4,1905.8 1072.4,1907.5 1074.3,1907.0 1076.3,1904.0 1078.2,1906.1 1080.2,1906.3 1082.2,1903.1 1084.1,1903.7 1086.1,1904.3 1088.0,1907.9 1090.0,1903.0 1092.0,1904.0 1093.9,1907.0 1095.9,1906.3 1097.8,1903.5 1099.8,1903.0 1101.8,1906.0 1103.7,1907.5 1105.7,1903.0 1107.6,1906.3 1109.6,1903.9 1111.6,1905.4 1113.5,1905.8 1115.5,1906.3 1117.4,1902.7 1119.4,1906.3 1121.4,1905.6 1123.3,1906.9 1125.3,1902.0 1127.2,1905.7 1129.2,1908.0 1131.2,1906.1 1133.1,1909.3 1135.1,1906.5 1137.0,1908.4 1139.0,1903.8 1141.0,1903.4 1142.9,1901.7 1144.9,1906.9 1146.8,1908.0 1148.8,1910.3 1150.8,1905.9 1152.7,1907.9 1154.7,1903.9 1156.6,1902.5 1158.6,1909.3 1160.6,1906.8 1162.5,1903.4 1164.5,1909.5 1166.4,1909.1 1168.4,1905.1 1170.4,1906.1 1172.3,1910.4 1174.3,1906.0 1176.2,1907.7 1178.2,1907.0 1180.2,1906.3 1182.1,1903.8 1184.1,1905.5 1186.0,1909.0 1188.0,1904.5 1190.0,1905.9 1191.9,1906.5 1193.9,1908.7 1195.8,1909.2 1197.8,1907.5 1199.8,1904.8 1201.7,1906.8 1203.7,1907.4 1205.6,1907.2 1207.6,1907.2 1209.6,1908.4 1211.5,1907.8 1213.5,1911.6 1215.4,1908.1 1217.4,1906.3 1219.4,1907.7 1221.3,1905.3 1223.3,1905.2 1225.2,1908.9 1227.2,1910.8 1229.2,1909.5 1231.1,1912.3 1233.1,1908.2 1235.0,1910.2 1237.0,1908.7 1239.0,1910.7 1240.9,1911.8 1242.9,1907.4 1244.8,1910.8 1246.8,1910.5 1248.8,1910.4 1250.7,1911.7 1252.7,1911.6 1254.6,1913.7 1256.6,1911.2 1258.6,1910.6 1260.5,1913.2 1262.5,1914.8 1264.4,1912.6 1266.4,1910.5 1268.4,1910.5 1270.3,1911.2 1272.3,1913.6 1274.2,1911.3 1276.2,1912.4 1278.2,1910.6 1280.1,1911.3 1282.1,1914.1 1284.0,1912.0 1286.0,1912.1 1288.0,1910.5 1289.9,1909.1 1291.9,1915.4 1293.8,1913.8 1295.8,1913.9 1297.8,1913.8 1299.7,1913.5 1301.7,1909.9 1303.6,1911.8 1305.6,1913.2 1307.6,1912.1 1309.5,1912.8 1311.5,1914.2 1313.4,1913.2 1315.4,1912.3 1317.4,1911.2 1319.3,1915.3 1321.3,1913.2 1323.2,1912.9 1325.2,1912.8 1327.2,1914.2 1329.1,1914.4 1331.1,1916.6 1333.0,1915.7 1335.0,1915.0 1337.0,1915.3 1338.9,1913.2 1340.9,1914.7 1342.8,1914.9 1344.8,1915.6 1346.8,1913.9 1348.7,1916.9 1350.7,1911.2 1352.6,1916.7 1354.6,1915.4 1356.6,1914.4 1358.5,1914.4 1360.5,1913.6 1362.4,1918.2 1364.4,1914.5 1366.4,1916.8 1368.3,1911.9 1370.3,1918.3 1372.2,1914.8 1374.2,1913.5 1376.2,1914.8 1378.1,1914.3 1380.1,1914.6 1382.0,1913.9 1384.0,1912.8 1386.0,1914.7 1387.9,1912.6 1389.9,1914.7 1391.8,1913.1 1393.8,1917.3 1395.8,1912.0 1397.7,1913.9 1399.7,1913.7 1401.6,1911.7 1403.6,1916.5 1405.6,1916.9 1407.5,1919.9 1409.5,1912.9 1411.4,1914.0 1413.4,1911.1 1415.4,1914.9 1417.3,1914.3 1419.3,1915.0 1421.2,1914.6 1423.2,1914.6 1425.2,1916.3 1427.1,1916.6 1429.1,1915.9 1431.0,1917.3 1433.0,1912.7 1435.0,1916.7 1436.9,1915.7 1438.9,1915.3 1440.8,1916.4 1442.8,1912.5 1444.8,1914.6 1446.7,1913.4 1448.7,1918.0 1450.6,1916.8 1452.6,1919.6 1454.6,1913.2 1456.5,1916.5 1458.5,1914.3 1460.4,1913.2 1462.4,1918.1" fill="none" stroke="#000" stroke-width="4.8" stroke-linejoin="round" stroke-dasharray="12 10.5" stroke-linecap="round"/>
<polyline points="992.0,1905.3 994.0,1903.5 995.9,1901.0 997.9,1898.8 999.8,1896.4 1001.8,1894.6 1003.8,1893.1 1005.7,1890.6 1007.7,1888.0 1009.6,1885.9 1011.6,1884.2 1013.6,1881.9 1015.5,1879.4 1017.5,1876.7 1019.4,1875.3 1021.4,1873.6 1023.4,1871.1 1025.3,1869.7 1027.3,1866.9 1029.2,1865.9 1031.2,1862.7 1033.2,1861.5 1035.1,1858.5 1037.1,1857.4 1039.0,1855.6 1041.0,1853.3 1043.0,1851.7 1044.9,1849.7 1046.9,1846.7 1048.8,1845.6 1050.8,1843.7 1052.8,1843.3 1054.7,1839.7 1056.7,1838.2 1058.6,1836.8 1060.6,1835.6 1062.6,1834.0 1064.5,1831.9 1066.5,1829.7 1068.4,1827.8 1070.4,1826.1 1072.4,1824.4 1074.3,1822.8 1076.3,1821.3 1078.2,1820.2 1080.2,1816.7 1082.2,1815.7 1084.1,1814.0 1086.1,1813.0 1088.0,1812.0 1090.0,1808.9 1092.0,1808.6 1093.9,1807.3 1095.9,1804.6 1097.8,1802.6 1099.8,1802.0 1101.8,1800.3 1103.7,1798.4 1105.7,1797.2 1107.6,1795.7 1109.6,1793.9 1111.6,1792.4 1113.5,1791.6 1115.5,1789.8 1117.4,1788.2 1119.4,1786.5 1121.4,1785.4 1123.3,1784.4 1125.3,1782.6 1127.2,1781.9 1129.2,1780.0 1131.2,1778.0 1133.1,1777.1 1135.1,1775.7 1137.0,1774.2 1139.0,1773.2 1141.0,1772.4 1142.9,1771.0 1144.9,1768.7 1146.8,1768.0 1148.8,1767.4 1150.8,1764.5 1152.7,1764.3 1154.7,1763.5 1156.6,1760.4 1158.6,1760.0 1160.6,1759.0 1162.5,1757.5 1164.5,1756.3 1166.4,1755.7 1168.4,1753.8 1170.4,1753.4 1172.3,1752.2 1174.3,1751.5 1176.2,1749.4 1178.2,1747.1 1180.2,1747.8 1182.1,1746.4 1184.1,1744.5 1186.0,1742.7 1188.0,1742.7 1190.0,1741.4 1191.9,1740.6 1193.9,1739.5 1195.8,1737.7 1197.8,1737.4 1199.8,1735.5 1201.7,1734.5 1203.7,1734.2 1205.6,1733.4 1207.6,1731.9 1209.6,1731.4 1211.5,1730.2 1213.5,1728.7 1215.4,1727.6 1217.4,1726.8 1219.4,1726.8 1221.3,1725.0 1223.3,1723.5 1225.2,1722.2 1227.2,1721.4 1229.2,1723.2 1231.1,1722.9 1233.1,1722.7 1235.0,1723.2 1237.0,1723.8 1239.0,1723.6 1240.9,1722.9 1242.9,1723.5 1244.8,1723.3 1246.8,1723.5 1248.8,1722.8 1250.7,1724.0 1252.7,1723.6 1254.6,1724.5 1256.6,1724.5 1258.6,1725.5 1260.5,1725.2 1262.5,1725.6 1264.4,1724.8 1266.4,1725.6 1268.4,1725.5 1270.3,1725.7 1272.3,1725.8 1274.2,1727.1 1276.2,1725.7 1278.2,1727.3 1280.1,1726.6 1282.1,1726.4 1284.0,1727.2 1286.0,1726.1 1288.0,1726.9 1289.9,1727.6 1291.9,1728.2 1293.8,1728.5 1295.8,1727.8 1297.8,1728.3 1299.7,1728.2 1301.7,1728.3 1303.6,1728.9 1305.6,1729.0 1307.6,1728.8 1309.5,1729.8 1311.5,1729.8 1313.4,1730.1 1315.4,1729.7 1317.4,1730.2 1319.3,1729.9 1321.3,1730.6 1323.2,1731.2 1325.2,1730.7 1327.2,1731.2 1329.1,1731.6 1331.1,1731.2 1333.0,1731.5 1335.0,1732.2 1337.0,1731.8 1338.9,1732.1 1340.9,1732.2 1342.8,1732.3 1344.8,1732.6 1346.8,1732.4 1348.7,1732.7 1350.7,1732.6 1352.6,1733.1 1354.6,1733.3 1356.6,1733.6 1358.5,1733.9 1360.5,1734.0 1362.4,1734.6 1364.4,1734.6 1366.4,1734.5 1368.3,1735.0 1370.3,1734.6 1372.2,1734.8 1374.2,1734.5 1376.2,1734.9 1378.1,1736.1 1380.1,1735.1 1382.0,1735.2 1384.0,1735.7 1386.0,1736.4 1387.9,1736.2 1389.9,1735.9 1391.8,1736.2 1393.8,1736.5 1395.8,1736.7 1397.7,1736.7 1399.7,1737.5 1401.6,1737.3 1403.6,1737.8 1405.6,1737.6 1407.5,1738.9 1409.5,1737.2 1411.4,1738.0 1413.4,1737.4 1415.4,1738.9 1417.3,1737.9 1419.3,1738.1 1421.2,1738.9 1423.2,1739.4 1425.2,1739.6 1427.1,1740.0 1429.1,1739.2 1431.0,1738.7 1433.0,1739.7 1435.0,1740.2 1436.9,1740.9 1438.9,1740.2 1440.8,1739.9 1442.8,1740.6 1444.8,1740.4 1446.7,1741.2 1448.7,1742.4 1450.6,1741.3 1452.6,1740.5 1454.6,1742.6 1456.5,1739.9 1458.5,1740.7 1460.4,1742.4 1462.4,1741.8" fill="none" stroke="#000" stroke-width="4.8" stroke-linejoin="round" />
<text x="1242.7" y="1620.2" font-size="35.2" text-anchor="middle" fill="#000" >ShAb02</text>
<text x="1238.0" y="2041.6" font-size="26.3" text-anchor="middle" fill="#000" >Time (s)</text>
<line x1="1577.2" y1="1730.2" x2="1613.6" y2="1730.2" stroke="#000" stroke-width="5.8" stroke-linecap="round" />
<text x="1635.0" y="1739.9" font-size="28.3" text-anchor="start" fill="#000" >SARS-CoV-2</text>
<line x1="1577.2" y1="1778.9" x2="1613.6" y2="1778.9" stroke="#000" stroke-width="5.8" stroke-linecap="round" stroke-dasharray="14.7 11.8"/>
<text x="1635.0" y="1788.9" font-size="28.3" text-anchor="start" fill="#000" >SARS-CoV-1</text>
<line x1="1577.2" y1="1825.2" x2="1613.6" y2="1825.2" stroke="#000" stroke-width="5.8" stroke-linecap="round" stroke-dasharray="14.7 11.5 1.6 100"/>
<text x="1635.0" y="1835.7" font-size="28.3" text-anchor="start" fill="#000" >Bat CoV 4841</text>
<line x1="1577.2" y1="1876.9" x2="1613.6" y2="1876.9" stroke="#000" stroke-width="5.8" stroke-linecap="round" stroke-dasharray="1.6 11.3"/>
<text x="1635.0" y="1887.4" font-size="28.3" text-anchor="start" fill="#000" >Bat CoV 4231</text>
</svg></body></html>
